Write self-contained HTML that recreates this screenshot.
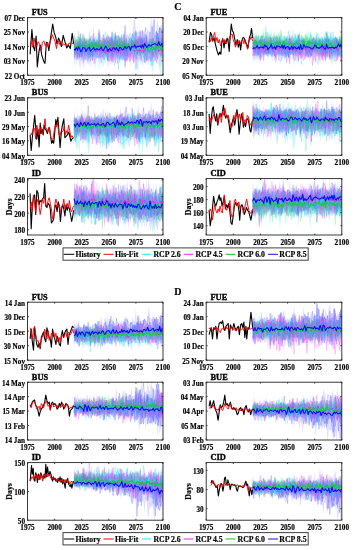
<!DOCTYPE html><html><head><meta charset="utf-8"><style>
html,body{margin:0;padding:0;background:#fff;width:356px;height:550px;overflow:hidden}
svg{display:block;filter:blur(0.35px)}
text{font-family:'Liberation Serif', serif;font-weight:bold;fill:#000;stroke:#000;stroke-width:0.17}
.t{font-size:7.2px}.ti{font-size:8.4px;stroke-width:0.35px}.yl{font-size:7.9px}.lg{font-size:7.8px}.pl{font-size:10px}
</style></head><body>
<svg width="356" height="550" viewBox="0 0 356 550">
<rect width="356" height="550" fill="#fff"/>
<clipPath id="c0"><rect x="27.5" y="17.6" width="135.5" height="57.6"/></clipPath>
<g clip-path="url(#c0)">
<g transform="translate(74.1,17.6) scale(1.0840,1)">
<polygon points="0,17 1,24 2,22 3,22 4,15 5,23 6,17 7,22 8,25 9,25 10,23 11,23 12,22 13,25 14,22 15,25 16,25 17,22 18,23 19,22 20,22 21,23 22,23 23,24 24,22 25,25 26,24 27,24 28,15 29,24 30,23 31,23 32,25 33,25 34,22 35,15 36,15 37,25 38,23 39,24 40,22 41,24 42,23 43,21 44,24 45,24 46,24 47,23 48,23 49,22 50,24 51,22 52,22 53,20 54,23 55,15 56,14 57,21 58,22 59,21 60,25 61,22 62,25 63,18 64,16 65,25 66,23 67,25 68,24 69,23 70,25 71,22 72,22 73,25 74,24 75,25 76,24 77,20 78,14 79,24 80,24 81,22 82,24 82,43 81,46 80,60 79,54 78,46 77,47 76,43 75,40 74,45 73,54 72,54 71,46 70,42 69,44 68,49 67,41 66,46 65,45 64,43 63,45 62,42 61,49 60,41 59,57 58,40 57,44 56,40 55,41 54,41 53,41 52,49 51,42 50,40 49,44 48,42 47,44 46,42 45,42 44,45 43,39 42,43 41,41 40,43 39,43 38,41 37,43 36,42 35,42 34,47 33,48 32,41 31,44 30,41 29,44 28,46 27,50 26,44 25,50 24,42 23,54 22,41 21,40 20,52 19,42 18,42 17,39 16,42 15,39 14,42 13,40 12,43 11,41 10,42 9,53 8,43 7,39 6,42 5,51 4,42 3,42 2,41 1,43 0,41" fill="#00e0ff" fill-opacity="0.22"/>
<polygon points="0,25 1,24 2,23 3,24 4,24 5,15 6,24 7,21 8,24 9,24 10,24 11,24 12,23 13,22 14,26 15,26 16,24 17,17 18,22 19,24 20,24 21,26 22,26 23,23 24,23 25,24 26,16 27,24 28,24 29,25 30,23 31,23 32,17 33,25 34,23 35,23 36,16 37,25 38,23 39,23 40,25 41,24 42,24 43,21 44,24 45,23 46,24 47,15 48,23 49,25 50,18 51,22 52,22 53,25 54,23 55,21 56,24 57,25 58,24 59,23 60,22 61,20 62,22 63,22 64,23 65,22 66,23 67,23 68,23 69,22 70,19 71,23 72,23 73,22 74,22 75,25 76,22 77,17 78,20 79,11 80,20 81,21 82,24 82,41 81,43 80,46 79,50 78,40 77,43 76,40 75,44 74,44 73,45 72,40 71,43 70,52 69,43 68,41 67,45 66,41 65,44 64,45 63,50 62,43 61,44 60,42 59,44 58,42 57,43 56,46 55,42 54,43 53,42 52,40 51,42 50,41 49,43 48,43 47,42 46,43 45,43 44,43 43,40 42,42 41,41 40,39 39,43 38,41 37,40 36,41 35,42 34,40 33,42 32,48 31,51 30,39 29,39 28,42 27,39 26,41 25,39 24,41 23,43 22,41 21,41 20,41 19,44 18,51 17,40 16,42 15,49 14,48 13,40 12,40 11,40 10,42 9,41 8,42 7,42 6,53 5,42 4,40 3,43 2,40 1,39 0,42" fill="#ff40ff" fill-opacity="0.18"/>
<polygon points="0,22 1,20 2,22 3,19 4,23 5,23 6,21 7,20 8,22 9,21 10,20 11,20 12,20 13,21 14,22 15,22 16,22 17,14 18,22 19,20 20,21 21,15 22,16 23,20 24,17 25,22 26,22 27,20 28,22 29,23 30,14 31,23 32,22 33,22 34,20 35,17 36,17 37,21 38,14 39,22 40,22 41,22 42,18 43,20 44,20 45,23 46,23 47,21 48,21 49,23 50,15 51,20 52,24 53,23 54,23 55,14 56,22 57,23 58,21 59,22 60,22 61,22 62,21 63,23 64,24 65,23 66,24 67,24 68,23 69,23 70,23 71,22 72,24 73,17 74,23 75,24 76,24 77,22 78,25 79,25 80,23 81,24 82,24 82,45 81,39 80,37 79,38 78,39 77,36 76,37 75,38 74,38 73,47 72,37 71,36 70,37 69,37 68,35 67,36 66,38 65,38 64,36 63,36 62,43 61,35 60,35 59,38 58,35 57,37 56,37 55,37 54,35 53,37 52,35 51,35 50,36 49,36 48,35 47,35 46,36 45,35 44,38 43,34 42,34 41,36 40,33 39,34 38,41 37,35 36,36 35,40 34,35 33,35 32,36 31,35 30,34 29,35 28,39 27,39 26,34 25,33 24,38 23,33 22,36 21,33 20,36 19,36 18,36 17,35 16,42 15,38 14,35 13,33 12,34 11,33 10,34 9,39 8,41 7,36 6,34 5,36 4,35 3,34 2,35 1,37 0,41" fill="#20ff40" fill-opacity="0.12"/>
<polygon points="0,13 1,23 2,21 3,22 4,24 5,25 6,25 7,21 8,16 9,16 10,22 11,21 12,24 13,24 14,12 15,19 16,17 17,21 18,8 19,23 20,24 21,20 22,20 23,20 24,14 25,19 26,21 27,24 28,21 29,20 30,19 31,15 32,20 33,22 34,17 35,20 36,23 37,20 38,19 39,21 40,18 41,18 42,18 43,20 44,22 45,19 46,12 47,17 48,20 49,16 50,19 51,16 52,15 53,18 54,15 55,1 56,1 57,14 58,14 59,15 60,13 61,12 62,14 63,13 64,13 65,17 66,16 67,16 68,10 69,15 70,15 71,-2 72,11 73,-2 74,15 75,15 76,13 77,0 78,14 79,8 80,8 81,7 82,13 82,36 81,35 80,32 79,33 78,35 77,43 76,39 75,33 74,33 73,33 72,36 71,33 70,36 69,37 68,35 67,39 66,36 65,45 64,35 63,37 62,47 61,37 60,36 59,35 58,42 57,41 56,38 55,35 54,37 53,39 52,39 51,38 50,36 49,43 48,37 47,37 46,39 45,43 44,40 43,40 42,43 41,39 40,40 39,38 38,39 37,40 36,39 35,38 34,39 33,39 32,44 31,42 30,38 29,39 28,44 27,41 26,40 25,38 24,37 23,41 22,38 21,41 20,40 19,37 18,38 17,45 16,37 15,38 14,38 13,43 12,46 11,39 10,37 9,40 8,49 7,40 6,40 5,40 4,43 3,38 2,48 1,41 0,49" fill="#5050ff" fill-opacity="0.18"/>
<polyline points="0,40 1,28 2,31 3,25 4,33 5,40 6,24 7,22 8,35 9,37 10,32 11,32 12,39 13,46 14,21 15,35 16,25 17,39 18,33 19,30 20,25 21,22 22,28 23,27 24,29 25,25 26,34 27,39 28,33 29,22 30,33 31,39 32,37 33,34 34,29 35,38 36,35 37,29 38,36 39,22 40,26 41,34 42,22 43,24 44,24 45,39 46,25 47,29 48,37 49,35 50,39 51,31 52,30 53,29 54,26 55,26 56,32 57,27 58,26 59,34 60,37 61,30 62,23 63,36 64,20 65,30 66,41 67,27 68,38 69,32 70,35 71,47 72,47 73,36 74,41 75,32 76,13 77,30 78,21 79,30 80,40 81,30 82,31" fill="none" stroke="#00e0ff" stroke-opacity="0.34" stroke-width="0.7"/>
<polyline points="0,25 1,32 2,30 3,42 4,28 5,26 6,39 7,37 8,31 9,32 10,35 11,28 12,24 13,37 14,25 15,37 16,31 17,31 18,30 19,33 20,34 21,27 22,31 23,23 24,40 25,28 26,40 27,31 28,20 29,30 30,20 31,42 32,29 33,21 34,42 35,39 36,25 37,37 38,33 39,27 40,28 41,39 42,25 43,37 44,38 45,24 46,42 47,26 48,28 49,39 50,31 51,35 52,43 53,35 54,32 55,23 56,29 57,27 58,28 59,26 60,19 61,37 62,20 63,35 64,31 65,45 66,17 67,34 68,28 69,36 70,41 71,28 72,26 73,30 74,30 75,33 76,25 77,31 78,26 79,37 80,38 81,32 82,30" fill="none" stroke="#ff50ff" stroke-opacity="0.42" stroke-width="0.7"/>
<polyline points="0,32 1,31 2,32 3,33 4,28 5,27 6,30 7,26 8,19 9,31 10,28 11,25 12,29 13,33 14,24 15,20 16,30 17,24 18,34 19,25 20,32 21,23 22,32 23,28 24,32 25,34 26,28 27,22 28,23 29,26 30,30 31,28 32,25 33,27 34,31 35,23 36,30 37,25 38,24 39,37 40,18 41,31 42,24 43,24 44,28 45,31 46,23 47,29 48,29 49,35 50,26 51,28 52,34 53,28 54,28 55,25 56,30 57,31 58,28 59,38 60,25 61,23 62,35 63,26 64,28 65,34 66,29 67,25 68,31 69,30 70,32 71,34 72,26 73,24 74,31 75,39 76,27 77,19 78,28 79,29 80,30 81,25 82,25" fill="none" stroke="#30e050" stroke-opacity="0.28" stroke-width="0.7"/>
<polyline points="0,30 1,32 2,30 3,32 4,25 5,40 6,33 7,33 8,24 9,35 10,35 11,27 12,38 13,26 14,31 15,32 16,26 17,38 18,33 19,26 20,28 21,26 22,27 23,24 24,23 25,23 26,29 27,35 28,24 29,33 30,25 31,23 32,24 33,26 34,30 35,26 36,39 37,34 38,25 39,18 40,28 41,19 42,25 43,36 44,29 45,29 46,26 47,24 48,27 49,38 50,32 51,23 52,20 53,32 54,16 55,20 56,32 57,26 58,30 59,27 60,26 61,14 62,32 63,29 64,30 65,28 66,33 67,18 68,34 69,26 70,14 71,21 72,28 73,21 74,26 75,24 76,33 77,35 78,28 79,10 80,14 81,21 82,33" fill="none" stroke="#6868ff" stroke-opacity="0.45" stroke-width="0.7"/>
<polyline points="0,22 1,29 2,28 3,35 4,30 5,36 6,36 7,31 8,25 9,29 10,31 11,30 12,38 13,30 14,34 15,29 16,27 17,43 18,39 19,29 20,37 21,41 22,27 23,30 24,31 25,33 26,34 27,37 28,29 29,25 30,20 31,28 32,23 33,38 34,20 35,44 36,28 37,16 38,32 39,29 40,33 41,36 42,45 43,33 44,20 45,30 46,36 47,41 48,38 49,29 50,26 51,34 52,32 53,28 54,17 55,46 56,35 57,22 58,29 59,32 60,38 61,31 62,31 63,25 64,28 65,29 66,45 67,30 68,43 69,41 70,30 71,23 72,41 73,40 74,39 75,26 76,37 77,41 78,19 79,30 80,33 81,31 82,44" fill="none" stroke="#00e0ff" stroke-opacity="0.34" stroke-width="0.7"/>
<polyline points="0,27 1,34 2,35 3,31 4,37 5,27 6,21 7,32 8,23 9,34 10,42 11,32 12,35 13,29 14,30 15,31 16,28 17,29 18,30 19,46 20,31 21,35 22,27 23,36 24,37 25,36 26,30 27,42 28,29 29,27 30,29 31,38 32,36 33,19 34,41 35,32 36,27 37,32 38,34 39,32 40,46 41,33 42,33 43,39 44,32 45,30 46,30 47,29 48,44 49,28 50,26 51,37 52,36 53,32 54,43 55,42 56,27 57,41 58,39 59,29 60,25 61,18 62,33 63,35 64,31 65,30 66,22 67,44 68,31 69,31 70,31 71,43 72,29 73,39 74,34 75,25 76,35 77,25 78,33 79,27 80,30 81,24 82,22" fill="none" stroke="#ff50ff" stroke-opacity="0.42" stroke-width="0.7"/>
<polyline points="0,40 1,31 2,23 3,31 4,19 5,26 6,26 7,26 8,28 9,28 10,38 11,22 12,32 13,26 14,23 15,38 16,24 17,29 18,30 19,30 20,30 21,24 22,23 23,30 24,37 25,35 26,23 27,28 28,38 29,34 30,20 31,33 32,31 33,32 34,34 35,36 36,30 37,30 38,32 39,30 40,26 41,20 42,20 43,32 44,21 45,32 46,20 47,30 48,27 49,26 50,32 51,36 52,33 53,20 54,34 55,33 56,23 57,29 58,37 59,30 60,31 61,31 62,20 63,29 64,30 65,28 66,18 67,30 68,27 69,35 70,36 71,32 72,20 73,31 74,24 75,23 76,31 77,30 78,34 79,30 80,25 81,37 82,26" fill="none" stroke="#30e050" stroke-opacity="0.28" stroke-width="0.7"/>
<polyline points="0,33 1,37 2,34 3,32 4,34 5,30 6,32 7,38 8,31 9,20 10,27 11,33 12,30 13,37 14,31 15,35 16,35 17,28 18,34 19,32 20,33 21,37 22,30 23,25 24,30 25,26 26,33 27,21 28,23 29,28 30,37 31,33 32,30 33,35 34,31 35,22 36,34 37,27 38,18 39,24 40,31 41,33 42,21 43,31 44,29 45,38 46,35 47,35 48,21 49,34 50,39 51,39 52,39 53,22 54,30 55,27 56,26 57,24 58,27 59,22 60,30 61,23 62,33 63,31 64,29 65,33 66,25 67,28 68,30 69,34 70,28 71,25 72,9 73,29 74,30 75,26 76,32 77,29 78,30 79,27 80,33 81,11 82,32" fill="none" stroke="#6868ff" stroke-opacity="0.45" stroke-width="0.7"/>
<polyline points="0,26 1,35 2,27 3,31 4,32 5,20 6,24 7,36 8,26 9,27 10,32 11,32 12,35 13,43 14,25 15,43 16,26 17,40 18,35 19,22 20,26 21,27 22,28 23,31 24,36 25,40 26,29 27,31 28,29 29,25 30,28 31,39 32,28 33,32 34,30 35,22 36,32 37,43 38,33 39,26 40,24 41,28 42,32 43,39 44,33 45,34 46,26 47,43 48,34 49,32 50,30 51,21 52,30 53,36 54,36 55,34 56,29 57,27 58,37 59,36 60,31 61,32 62,35 63,27 64,36 65,42 66,27 67,30 68,29 69,42 70,27 71,30 72,48 73,28 74,25 75,28 76,20 77,27 78,28 79,35 80,28 81,28 82,44" fill="none" stroke="#00e0ff" stroke-opacity="0.34" stroke-width="0.7"/>
<polyline points="0,34 1,26 2,32 3,41 4,26 5,33 6,25 7,33 8,35 9,30 10,39 11,37 12,27 13,34 14,32 15,44 16,28 17,43 18,16 19,30 20,26 21,34 22,27 23,33 24,34 25,24 26,32 27,28 28,34 29,35 30,30 31,25 32,23 33,30 34,28 35,44 36,31 37,23 38,29 39,32 40,31 41,28 42,37 43,31 44,35 45,27 46,36 47,34 48,37 49,43 50,35 51,39 52,25 53,30 54,34 55,45 56,32 57,22 58,33 59,27 60,30 61,29 62,36 63,29 64,32 65,34 66,36 67,42 68,34 69,32 70,33 71,37 72,34 73,31 74,28 75,28 76,28 77,20 78,36 79,32 80,38 81,20 82,26" fill="none" stroke="#ff50ff" stroke-opacity="0.42" stroke-width="0.7"/>
<polyline points="0,25 1,31 2,28 3,26 4,37 5,25 6,25 7,28 8,26 9,26 10,27 11,25 12,29 13,21 14,26 15,24 16,32 17,24 18,27 19,32 20,25 21,30 22,31 23,34 24,29 25,31 26,29 27,30 28,27 29,30 30,27 31,32 32,24 33,23 34,28 35,26 36,32 37,30 38,28 39,24 40,26 41,29 42,28 43,30 44,29 45,23 46,28 47,23 48,34 49,25 50,27 51,28 52,26 53,27 54,27 55,24 56,33 57,26 58,36 59,36 60,29 61,25 62,26 63,28 64,30 65,29 66,28 67,34 68,28 69,32 70,35 71,32 72,30 73,32 74,35 75,32 76,33 77,36 78,34 79,30 80,24 81,30 82,30" fill="none" stroke="#30e050" stroke-opacity="0.28" stroke-width="0.7"/>
<polyline points="0,18 1,20 2,32 3,31 4,32 5,21 6,36 7,28 8,27 9,31 10,30 11,23 12,30 13,34 14,32 15,21 16,30 17,36 18,35 19,24 20,25 21,24 22,32 23,15 24,33 25,30 26,33 27,35 28,29 29,36 30,38 31,43 32,19 33,28 34,34 35,39 36,32 37,35 38,34 39,36 40,23 41,34 42,35 43,36 44,28 45,33 46,36 47,8 48,21 49,29 50,30 51,29 52,30 53,30 54,23 55,26 56,31 57,23 58,30 59,19 60,32 61,21 62,30 63,22 64,31 65,25 66,28 67,28 68,31 69,34 70,34 71,31 72,29 73,18 74,2 75,37 76,14 77,32 78,32 79,21 80,20 81,25 82,16" fill="none" stroke="#6868ff" stroke-opacity="0.45" stroke-width="0.7"/>
<polyline points="0,26 1,37 2,32 3,37 4,34 5,29 6,26 7,43 8,33 9,24 10,28 11,30 12,30 13,42 14,35 15,19 16,39 17,26 18,29 19,31 20,39 21,25 22,28 23,35 24,27 25,37 26,34 27,27 28,36 29,38 30,27 31,41 32,36 33,28 34,30 35,33 36,34 37,48 38,46 39,39 40,28 41,52 42,24 43,35 44,41 45,30 46,27 47,29 48,29 49,28 50,36 51,30 52,29 53,31 54,36 55,40 56,39 57,33 58,51 59,38 60,26 61,33 62,41 63,36 64,34 65,30 66,37 67,30 68,26 69,28 70,24 71,27 72,43 73,31 74,30 75,29 76,38 77,32 78,32 79,26 80,24 81,29 82,26" fill="none" stroke="#00e0ff" stroke-opacity="0.34" stroke-width="0.7"/>
<polyline points="0,28 1,31 2,29 3,24 4,39 5,39 6,31 7,33 8,29 9,45 10,34 11,30 12,30 13,23 14,27 15,34 16,31 17,33 18,30 19,28 20,36 21,28 22,32 23,24 24,40 25,39 26,33 27,33 28,30 29,28 30,34 31,32 32,31 33,35 34,30 35,25 36,45 37,31 38,45 39,34 40,38 41,22 42,25 43,39 44,35 45,39 46,34 47,50 48,38 49,32 50,33 51,31 52,35 53,35 54,35 55,39 56,33 57,52 58,32 59,26 60,32 61,29 62,31 63,30 64,35 65,29 66,39 67,24 68,33 69,29 70,28 71,44 72,34 73,39 74,37 75,43 76,31 77,40 78,36 79,32 80,38 81,31 82,31" fill="none" stroke="#ff50ff" stroke-opacity="0.42" stroke-width="0.7"/>
<polyline points="0,32 1,32 2,30 3,24 4,19 5,29 6,29 7,34 8,30 9,27 10,24 11,33 12,31 13,35 14,32 15,25 16,23 17,37 18,25 19,30 20,29 21,29 22,28 23,30 24,22 25,32 26,27 27,26 28,30 29,14 30,24 31,38 32,26 33,32 34,22 35,25 36,20 37,25 38,25 39,24 40,29 41,25 42,26 43,19 44,27 45,29 46,25 47,29 48,28 49,31 50,28 51,24 52,33 53,34 54,29 55,28 56,38 57,21 58,35 59,29 60,26 61,34 62,33 63,36 64,27 65,33 66,34 67,29 68,40 69,27 70,30 71,28 72,29 73,25 74,31 75,23 76,27 77,30 78,23 79,33 80,40 81,32 82,27" fill="none" stroke="#30e050" stroke-opacity="0.28" stroke-width="0.7"/>
<polyline points="0,37 1,31 2,32 3,39 4,28 5,38 6,16 7,40 8,33 9,32 10,21 11,27 12,26 13,36 14,39 15,40 16,25 17,25 18,30 19,35 20,31 21,32 22,33 23,12 24,32 25,33 26,33 27,17 28,35 29,22 30,32 31,30 32,32 33,33 34,20 35,37 36,24 37,35 38,15 39,34 40,35 41,33 42,26 43,33 44,17 45,32 46,17 47,36 48,29 49,32 50,33 51,31 52,30 53,30 54,33 55,34 56,18 57,13 58,37 59,27 60,32 61,38 62,33 63,20 64,33 65,16 66,10 67,29 68,29 69,29 70,24 71,25 72,39 73,21 74,21 75,18 76,21 77,15 78,23 79,10 80,21 81,27 82,30" fill="none" stroke="#6868ff" stroke-opacity="0.45" stroke-width="0.7"/>
<polyline points="0,39 1,30 2,31 3,28 4,26 5,20 6,24 7,31 8,33 9,39 10,28 11,25 12,39 13,35 14,33 15,34 16,32 17,23 18,38 19,22 20,19 21,39 22,39 23,38 24,38 25,28 26,32 27,32 28,41 29,31 30,38 31,43 32,36 33,29 34,38 35,30 36,33 37,30 38,40 39,34 40,33 41,35 42,35 43,42 44,27 45,41 46,29 47,48 48,30 49,41 50,24 51,27 52,34 53,28 54,32 55,35 56,35 57,34 58,29 59,27 60,26 61,38 62,28 63,28 64,40 65,34 66,28 67,26 68,42 69,30 70,29 71,29 72,39 73,25 74,30 75,27 76,33 77,31 78,30 79,21 80,26 81,34 82,40" fill="none" stroke="#00e0ff" stroke-opacity="0.34" stroke-width="0.7"/>
<polyline points="0,37 1,38 2,34 3,36 4,30 5,32 6,29 7,38 8,31 9,36 10,38 11,43 12,28 13,31 14,40 15,34 16,31 17,37 18,34 19,39 20,33 21,25 22,31 23,31 24,36 25,45 26,30 27,29 28,35 29,25 30,37 31,18 32,44 33,33 34,43 35,43 36,23 37,32 38,35 39,28 40,40 41,27 42,42 43,38 44,27 45,36 46,32 47,43 48,43 49,39 50,34 51,44 52,37 53,28 54,28 55,32 56,27 57,24 58,32 59,25 60,19 61,41 62,23 63,32 64,30 65,36 66,35 67,42 68,30 69,28 70,34 71,34 72,37 73,38 74,27 75,33 76,45 77,21 78,25 79,25 80,33 81,39 82,30" fill="none" stroke="#ff50ff" stroke-opacity="0.42" stroke-width="0.7"/>
<polyline points="0,32 1,25 2,27 3,25 4,13 5,24 6,26 7,26 8,17 9,19 10,33 11,31 12,21 13,29 14,23 15,30 16,30 17,26 18,27 19,25 20,27 21,25 22,25 23,35 24,32 25,31 26,30 27,29 28,30 29,36 30,39 31,38 32,27 33,30 34,32 35,33 36,22 37,24 38,36 39,27 40,32 41,17 42,25 43,21 44,29 45,35 46,25 47,23 48,34 49,29 50,33 51,31 52,31 53,20 54,25 55,31 56,20 57,26 58,30 59,22 60,20 61,31 62,30 63,27 64,29 65,40 66,37 67,35 68,29 69,24 70,31 71,34 72,21 73,36 74,35 75,21 76,37 77,22 78,23 79,31 80,33 81,24 82,30" fill="none" stroke="#30e050" stroke-opacity="0.28" stroke-width="0.7"/>
<polyline points="0,35 1,34 2,30 3,36 4,24 5,31 6,27 7,37 8,25 9,25 10,36 11,30 12,32 13,32 14,37 15,26 16,35 17,39 18,21 19,28 20,25 21,27 22,39 23,40 24,28 25,36 26,35 27,34 28,32 29,30 30,30 31,23 32,26 33,33 34,30 35,14 36,33 37,26 38,24 39,37 40,30 41,34 42,32 43,36 44,25 45,31 46,27 47,39 48,36 49,38 50,27 51,32 52,32 53,24 54,27 55,33 56,31 57,15 58,21 59,34 60,29 61,33 62,28 63,13 64,29 65,20 66,34 67,20 68,34 69,28 70,21 71,25 72,32 73,37 74,32 75,31 76,25 77,16 78,34 79,29 80,23 81,30 82,27" fill="none" stroke="#6868ff" stroke-opacity="0.45" stroke-width="0.7"/>
<polyline points="0,31.1 1,30.1 2,30.8 3,32.7 4,31.9 5,32.5 6,30.1 7,31.6 8,34.4 9,31.2 10,30.6 11,33.2 12,30.0 13,31.5 14,31.4 15,33.5 16,32.8 17,34.2 18,31.2 19,30.0 20,34.4 21,32.3 22,30.7 23,30.2 24,33.1 25,32.2 26,31.6 27,30.8 28,32.3 29,36.0 30,32.3 31,31.2 32,35.0 33,31.3 34,30.6 35,29.9 36,32.8 37,34.6 38,31.1 39,30.2 40,31.6 41,35.0 42,30.8 43,32.5 44,32.3 45,31.0 46,31.3 47,32.5 48,34.1 49,29.7 50,31.9 51,33.3 52,30.1 53,31.4 54,32.1 55,31.3 56,33.8 57,32.7 58,31.4 59,32.5 60,32.3 61,34.0 62,30.4 63,30.8 64,35.1 65,33.0 66,30.2 67,32.5 68,33.3 69,32.8 70,31.9 71,30.8 72,31.9 73,31.3 74,30.4 75,32.6 76,31.5 77,32.3 78,32.7 79,32.6 80,31.3 81,34.0 82,31.6" fill="none" stroke="#e820e8" stroke-width="0.8" stroke-linejoin="round"/>
<polyline points="0,29.3 1,32.2 2,33.5 3,30.2 4,28.2 5,32.4 6,34.7 7,28.4 8,31.2 9,33.5 10,30.8 11,30.6 12,32.0 13,31.4 14,32.8 15,30.6 16,29.9 17,33.4 18,30.0 19,30.2 20,31.3 21,32.2 22,30.1 23,30.1 24,29.8 25,30.0 26,32.4 27,30.3 28,29.4 29,32.0 30,31.1 31,31.6 32,31.0 33,30.8 34,32.1 35,32.1 36,31.2 37,31.0 38,31.6 39,28.4 40,30.9 41,32.5 42,31.8 43,29.1 44,30.2 45,31.9 46,30.5 47,31.6 48,31.1 49,29.4 50,32.1 51,33.5 52,30.0 53,28.0 54,33.0 55,31.2 56,31.8 57,29.5 58,30.2 59,32.3 60,29.5 61,30.4 62,32.4 63,32.0 64,31.5 65,30.1 66,29.0 67,33.4 68,33.8 69,29.1 70,32.7 71,31.9 72,30.5 73,31.8 74,31.4 75,30.2 76,31.7 77,31.8 78,30.8 79,31.8 80,30.6 81,29.2 82,32.7" fill="none" stroke="#10e0f0" stroke-width="0.85" stroke-linejoin="round"/>
<polyline points="0,26.2 1,30.4 2,29.2 3,28.0 4,29.9 5,27.2 6,27.5 7,29.2 8,27.9 9,27.2 10,28.0 11,28.7 12,28.5 13,28.1 14,26.5 15,31.0 16,28.5 17,25.7 18,30.4 19,29.4 20,25.5 21,29.5 22,26.5 23,30.6 24,27.2 25,27.5 26,30.2 27,26.8 28,27.9 29,29.3 30,27.3 31,28.5 32,28.9 33,27.2 34,27.3 35,27.8 36,28.3 37,28.1 38,26.9 39,26.8 40,29.7 41,27.9 42,27.0 43,28.5 44,28.1 45,28.9 46,28.4 47,25.7 48,30.1 49,31.2 50,26.1 51,28.3 52,31.3 53,28.7 54,28.1 55,27.5 56,30.3 57,27.5 58,28.2 59,29.8 60,28.5 61,27.4 62,30.1 63,29.2 64,31.3 65,30.4 66,28.1 67,28.9 68,32.3 69,29.8 70,30.2 71,31.6 72,29.1 73,29.0 74,31.0 75,32.4 76,28.3 77,30.3 78,30.1 79,27.6 80,32.0 81,30.0 82,28.8" fill="none" stroke="#10d030" stroke-width="0.95" stroke-linejoin="round"/>
<polyline points="0,31.3 1,32.8 2,29.8 3,32.6 4,29.2 5,30.6 6,34.1 7,33.3 8,29.9 9,30.3 10,30.4 11,34.0 12,31.8 13,30.7 14,29.5 15,33.6 16,32.4 17,31.3 18,29.9 19,32.3 20,32.0 21,30.7 22,32.1 23,32.4 24,31.2 25,29.3 26,32.3 27,33.0 28,30.8 29,28.7 30,29.7 31,33.8 32,32.0 33,30.8 34,33.3 35,32.2 36,30.2 37,30.5 38,32.2 39,29.8 40,32.4 41,33.4 42,29.6 43,29.8 44,31.7 45,32.4 46,31.0 47,28.8 48,31.1 49,30.4 50,28.8 51,29.3 52,32.7 53,28.7 54,29.4 55,29.1 56,27.1 57,30.6 58,29.0 59,28.7 60,28.8 61,28.2 62,30.1 63,27.2 64,30.3 65,26.0 66,27.6 67,30.0 68,28.9 69,27.0 70,28.4 71,28.5 72,26.8 73,27.0 74,26.1 75,26.2 76,27.4 77,27.8 78,23.9 79,27.3 80,28.0 81,25.7 82,28.2" fill="none" stroke="#0808ff" stroke-width="1.0" stroke-linejoin="round"/>
</g>
<polyline points="30.1,54.2 31.9,29.6 33.3,46.5 34.7,50.7 36.1,36 37.3,66.9 38.9,52.1 40.3,45.1 41.7,54.9 43.9,61.9 45,63.3 46.4,42.3 47.8,43 48.8,50.7 50.2,40.9 51.2,33.9 52.7,24 54.1,32.4 55.8,37.4 56.9,43.7 58.6,38.1 60,41.6 61.4,46.5 63.2,35.3 64.9,41.6 66.7,47.9 68.4,45.1 70.3,48.6 72.2,33.2 73.6,43.7" fill="none" stroke="#000" stroke-width="1.0999999999999999" stroke-linejoin="round"/>
<polyline points="30.1,45.1 31.2,41.6 32.6,47.2 34,38.1 35.4,44.4 36.8,46.5 38.2,41.6 39.6,44.4 41,50.7 42.4,42.3 43.9,40.9 45.3,45.8 46.7,43 48.1,47.2 49.5,43.7 50.9,39.5 52.3,34.6 53.7,38.1 55.1,41.6 56.5,48.6 57.9,40.2 59.3,44.4 60.7,40.9 62.1,45.8 63.5,43.7 64.9,45.1 66.3,43.7 67.7,45.8 69.1,43 70.5,43.7 71.9,43 73.3,43.7" fill="none" stroke="#f00" stroke-width="0.95" stroke-linejoin="round"/>
</g>
<rect x="27.5" y="17.6" width="135.5" height="57.6" fill="none" stroke="#262626" stroke-width="0.9"/>
<path d="M27.5,75.2v-1.4M27.5,17.6v1.4M54.6,75.2v-1.4M54.6,17.6v1.4M81.7,75.2v-1.4M81.7,17.6v1.4M108.8,75.2v-1.4M108.8,17.6v1.4M135.9,75.2v-1.4M135.9,17.6v1.4M163,75.2v-1.4M163,17.6v1.4M27.5,17.6h1.4M163,17.6h-1.4M27.5,32h1.4M163,32h-1.4M27.5,46.4h1.4M163,46.4h-1.4M27.5,60.8h1.4M163,60.8h-1.4M27.5,75.2h1.4M163,75.2h-1.4" stroke="#262626" stroke-width="0.9" fill="none"/>
<text x="27.5" y="84.8" text-anchor="middle" class="t">1975</text>
<text x="54.6" y="84.8" text-anchor="middle" class="t">2000</text>
<text x="81.7" y="84.8" text-anchor="middle" class="t">2025</text>
<text x="108.8" y="84.8" text-anchor="middle" class="t">2050</text>
<text x="135.9" y="84.8" text-anchor="middle" class="t">2075</text>
<text x="163" y="84.8" text-anchor="middle" class="t">2100</text>
<text x="25" y="20.9" text-anchor="end" class="t">07 Dec</text>
<text x="25" y="35.3" text-anchor="end" class="t">25 Nov</text>
<text x="25" y="49.7" text-anchor="end" class="t">14 Nov</text>
<text x="25" y="64.1" text-anchor="end" class="t">03 Nov</text>
<text x="25" y="78.5" text-anchor="end" class="t">22 Oct</text>
<text x="31.8" y="15" class="ti">FUS</text>
<clipPath id="c1"><rect x="206.2" y="17.6" width="135.6" height="57.6"/></clipPath>
<g clip-path="url(#c1)">
<g transform="translate(252.8,17.6) scale(1.0848,1)">
<polygon points="0,10 1,21 2,18 3,19 4,18 5,19 6,18 7,18 8,18 9,19 10,11 11,20 12,22 13,18 14,18 15,20 16,19 17,12 18,19 19,20 20,13 21,19 22,20 23,20 24,13 25,16 26,16 27,22 28,20 29,19 30,17 31,22 32,21 33,21 34,18 35,20 36,21 37,9 38,19 39,16 40,21 41,19 42,19 43,12 44,21 45,16 46,21 47,21 48,20 49,21 50,20 51,11 52,20 53,18 54,17 55,21 56,20 57,20 58,19 59,19 60,21 61,19 62,22 63,19 64,20 65,22 66,19 67,21 68,20 69,19 70,20 71,21 72,21 73,18 74,20 75,21 76,19 77,21 78,20 79,21 80,19 81,20 82,19 82,38 81,38 80,39 79,37 78,38 77,36 76,39 75,36 74,43 73,38 72,36 71,35 70,38 69,37 68,36 67,39 66,35 65,40 64,35 63,36 62,35 61,38 60,36 59,39 58,35 57,38 56,37 55,38 54,39 53,38 52,37 51,38 50,36 49,36 48,36 47,38 46,38 45,35 44,38 43,36 42,37 41,40 40,47 39,35 38,38 37,35 36,38 35,35 34,47 33,38 32,45 31,42 30,38 29,37 28,36 27,37 26,36 25,38 24,38 23,34 22,47 21,36 20,43 19,37 18,38 17,38 16,37 15,35 14,34 13,36 12,37 11,38 10,38 9,35 8,41 7,37 6,38 5,35 4,34 3,36 2,37 1,43 0,35" fill="#00e0ff" fill-opacity="0.22"/>
<polygon points="0,23 1,18 2,24 3,22 4,24 5,22 6,24 7,20 8,18 9,22 10,14 11,22 12,14 13,23 14,22 15,25 16,23 17,22 18,23 19,23 20,21 21,23 22,24 23,23 24,15 25,22 26,22 27,15 28,23 29,22 30,21 31,23 32,22 33,23 34,23 35,22 36,22 37,23 38,24 39,25 40,23 41,24 42,22 43,24 44,24 45,22 46,23 47,21 48,24 49,17 50,20 51,23 52,23 53,24 54,22 55,25 56,22 57,24 58,25 59,22 60,24 61,22 62,23 63,22 64,25 65,25 66,22 67,24 68,22 69,19 70,23 71,22 72,24 73,24 74,24 75,22 76,22 77,22 78,22 79,23 80,17 81,24 82,24 82,39 81,41 80,39 79,39 78,38 77,41 76,47 75,39 74,40 73,41 72,44 71,41 70,39 69,38 68,40 67,39 66,40 65,38 64,39 63,37 62,38 61,40 60,38 59,39 58,46 57,40 56,46 55,38 54,38 53,37 52,39 51,39 50,39 49,40 48,38 47,38 46,40 45,41 44,41 43,38 42,40 41,38 40,41 39,40 38,49 37,38 36,37 35,37 34,45 33,40 32,38 31,40 30,38 29,41 28,39 27,37 26,47 25,39 24,39 23,37 22,44 21,40 20,37 19,40 18,44 17,40 16,37 15,40 14,37 13,38 12,39 11,37 10,38 9,39 8,40 7,40 6,46 5,40 4,37 3,40 2,38 1,38 0,38" fill="#ff40ff" fill-opacity="0.18"/>
<polygon points="0,16 1,13 2,17 3,19 4,12 5,17 6,12 7,20 8,17 9,14 10,16 11,20 12,18 13,16 14,20 15,10 16,17 17,19 18,20 19,20 20,19 21,19 22,14 23,19 24,17 25,19 26,13 27,19 28,18 29,18 30,21 31,20 32,20 33,19 34,17 35,21 36,16 37,21 38,21 39,19 40,16 41,19 42,21 43,14 44,21 45,20 46,19 47,22 48,21 49,17 50,14 51,21 52,21 53,11 54,15 55,22 56,20 57,21 58,17 59,19 60,22 61,16 62,19 63,19 64,18 65,22 66,19 67,22 68,19 69,20 70,19 71,21 72,21 73,20 74,22 75,21 76,20 77,20 78,22 79,20 80,21 81,21 82,19 82,40 81,33 80,44 79,33 78,41 77,38 76,34 75,44 74,35 73,33 72,35 71,34 70,33 69,34 68,32 67,33 66,35 65,33 64,41 63,32 62,37 61,42 60,32 59,35 58,34 57,36 56,33 55,33 54,32 53,35 52,35 51,34 50,32 49,32 48,33 47,33 46,32 45,34 44,36 43,33 42,32 41,34 40,32 39,39 38,34 37,32 36,32 35,33 34,34 33,32 32,33 31,33 30,31 29,38 28,33 27,33 26,33 25,31 24,34 23,32 22,33 21,42 20,32 19,33 18,39 17,31 16,33 15,32 14,32 13,33 12,32 11,32 10,31 9,32 8,32 7,31 6,32 5,32 4,31 3,33 2,33 1,33 0,32" fill="#20ff40" fill-opacity="0.12"/>
<polygon points="0,13 1,21 2,24 3,24 4,21 5,17 6,24 7,21 8,22 9,22 10,22 11,21 12,23 13,22 14,23 15,18 16,15 17,23 18,22 19,14 20,21 21,21 22,23 23,23 24,21 25,23 26,24 27,22 28,24 29,22 30,22 31,24 32,21 33,22 34,21 35,22 36,21 37,23 38,23 39,23 40,22 41,21 42,20 43,15 44,20 45,23 46,22 47,22 48,22 49,23 50,23 51,23 52,22 53,21 54,23 55,21 56,22 57,20 58,23 59,17 60,24 61,21 62,22 63,22 64,22 65,23 66,24 67,21 68,24 69,12 70,21 71,23 72,14 73,22 74,22 75,21 76,21 77,21 78,21 79,24 80,22 81,22 82,24 82,47 81,40 80,37 79,38 78,40 77,37 76,40 75,38 74,37 73,49 72,42 71,37 70,40 69,39 68,38 67,39 66,37 65,37 64,38 63,39 62,48 61,38 60,39 59,39 58,37 57,42 56,44 55,39 54,38 53,38 52,45 51,37 50,39 49,38 48,38 47,37 46,42 45,37 44,38 43,38 42,36 41,39 40,39 39,36 38,36 37,44 36,36 35,36 34,37 33,39 32,38 31,38 30,40 29,38 28,39 27,38 26,36 25,36 24,36 23,37 22,39 21,46 20,43 19,38 18,36 17,36 16,36 15,36 14,37 13,39 12,36 11,36 10,41 9,39 8,42 7,45 6,36 5,37 4,38 3,38 2,45 1,39 0,47" fill="#5050ff" fill-opacity="0.18"/>
<polyline points="0,33 1,24 2,28 3,32 4,42 5,18 6,28 7,32 8,19 9,31 10,33 11,22 12,19 13,26 14,31 15,27 16,29 17,25 18,34 19,31 20,26 21,20 22,26 23,23 24,33 25,34 26,21 27,28 28,30 29,35 30,30 31,21 32,37 33,32 34,30 35,31 36,28 37,37 38,26 39,27 40,32 41,27 42,26 43,29 44,29 45,18 46,35 47,21 48,25 49,33 50,33 51,31 52,36 53,24 54,37 55,32 56,19 57,24 58,34 59,15 60,47 61,42 62,24 63,39 64,38 65,23 66,35 67,33 68,34 69,30 70,25 71,19 72,36 73,28 74,35 75,44 76,35 77,30 78,34 79,36 80,32 81,19 82,30" fill="none" stroke="#00e0ff" stroke-opacity="0.34" stroke-width="0.7"/>
<polyline points="0,38 1,32 2,32 3,25 4,25 5,27 6,26 7,24 8,35 9,31 10,25 11,36 12,28 13,37 14,39 15,36 16,21 17,32 18,30 19,34 20,38 21,35 22,26 23,31 24,43 25,24 26,25 27,33 28,29 29,26 30,33 31,28 32,29 33,28 34,26 35,21 36,33 37,32 38,30 39,34 40,34 41,26 42,17 43,36 44,34 45,30 46,33 47,43 48,39 49,32 50,28 51,29 52,31 53,30 54,39 55,30 56,21 57,28 58,21 59,26 60,30 61,34 62,38 63,32 64,42 65,29 66,32 67,21 68,34 69,29 70,24 71,39 72,28 73,26 74,31 75,25 76,37 77,24 78,34 79,40 80,35 81,28 82,30" fill="none" stroke="#ff50ff" stroke-opacity="0.42" stroke-width="0.7"/>
<polyline points="0,29 1,26 2,25 3,29 4,23 5,29 6,21 7,27 8,27 9,32 10,25 11,29 12,36 13,14 14,20 15,28 16,22 17,29 18,19 19,25 20,19 21,20 22,26 23,20 24,21 25,27 26,23 27,26 28,26 29,28 30,21 31,25 32,26 33,21 34,27 35,26 36,29 37,33 38,28 39,16 40,24 41,27 42,27 43,22 44,22 45,23 46,29 47,30 48,17 49,27 50,19 51,23 52,22 53,29 54,31 55,20 56,27 57,22 58,31 59,25 60,28 61,23 62,25 63,22 64,37 65,33 66,22 67,31 68,29 69,18 70,20 71,32 72,25 73,32 74,24 75,24 76,33 77,31 78,29 79,33 80,31 81,29 82,24" fill="none" stroke="#30e050" stroke-opacity="0.28" stroke-width="0.7"/>
<polyline points="0,24 1,27 2,30 3,29 4,37 5,32 6,28 7,27 8,33 9,32 10,27 11,25 12,37 13,22 14,37 15,31 16,30 17,31 18,31 19,35 20,29 21,40 22,36 23,24 24,28 25,32 26,32 27,31 28,33 29,28 30,30 31,31 32,31 33,28 34,29 35,29 36,25 37,36 38,42 39,43 40,26 41,32 42,31 43,26 44,36 45,30 46,34 47,25 48,32 49,29 50,32 51,27 52,35 53,35 54,33 55,32 56,28 57,27 58,23 59,30 60,35 61,23 62,24 63,37 64,36 65,30 66,30 67,43 68,15 69,31 70,28 71,30 72,26 73,28 74,30 75,27 76,28 77,27 78,22 79,33 80,33 81,22 82,39" fill="none" stroke="#6868ff" stroke-opacity="0.45" stroke-width="0.7"/>
<polyline points="0,22 1,22 2,27 3,35 4,31 5,26 6,27 7,39 8,25 9,36 10,31 11,25 12,9 13,30 14,24 15,28 16,23 17,27 18,29 19,34 20,25 21,31 22,23 23,36 24,29 25,42 26,44 27,34 28,27 29,24 30,30 31,27 32,18 33,28 34,30 35,37 36,25 37,37 38,21 39,22 40,29 41,31 42,42 43,31 44,26 45,24 46,20 47,25 48,23 49,29 50,29 51,25 52,20 53,34 54,35 55,34 56,27 57,28 58,28 59,23 60,37 61,24 62,22 63,34 64,27 65,22 66,18 67,31 68,31 69,16 70,32 71,29 72,30 73,26 74,20 75,23 76,24 77,34 78,20 79,29 80,38 81,32 82,17" fill="none" stroke="#00e0ff" stroke-opacity="0.34" stroke-width="0.7"/>
<polyline points="0,39 1,31 2,28 3,24 4,28 5,26 6,40 7,32 8,32 9,35 10,28 11,24 12,29 13,33 14,33 15,24 16,30 17,27 18,33 19,34 20,23 21,27 22,28 23,36 24,26 25,29 26,30 27,28 28,30 29,25 30,27 31,29 32,36 33,37 34,46 35,28 36,23 37,31 38,33 39,30 40,23 41,35 42,34 43,30 44,41 45,29 46,27 47,36 48,41 49,31 50,28 51,29 52,35 53,29 54,23 55,28 56,33 57,31 58,35 59,26 60,30 61,27 62,29 63,25 64,31 65,32 66,33 67,33 68,33 69,24 70,31 71,32 72,23 73,25 74,26 75,27 76,22 77,23 78,38 79,23 80,32 81,39 82,26" fill="none" stroke="#ff50ff" stroke-opacity="0.42" stroke-width="0.7"/>
<polyline points="0,24 1,28 2,22 3,27 4,21 5,24 6,30 7,24 8,33 9,23 10,27 11,24 12,15 13,25 14,31 15,24 16,31 17,33 18,25 19,31 20,28 21,23 22,19 23,18 24,27 25,26 26,12 27,22 28,32 29,24 30,31 31,31 32,23 33,26 34,35 35,28 36,28 37,27 38,34 39,33 40,20 41,28 42,26 43,17 44,26 45,23 46,25 47,20 48,26 49,30 50,19 51,23 52,28 53,32 54,31 55,28 56,20 57,21 58,25 59,28 60,25 61,35 62,37 63,27 64,30 65,24 66,27 67,24 68,31 69,21 70,23 71,35 72,30 73,29 74,23 75,25 76,29 77,29 78,24 79,25 80,29 81,25 82,28" fill="none" stroke="#30e050" stroke-opacity="0.28" stroke-width="0.7"/>
<polyline points="0,31 1,32 2,33 3,31 4,25 5,35 6,30 7,42 8,25 9,28 10,37 11,25 12,26 13,29 14,29 15,29 16,29 17,29 18,37 19,21 20,38 21,31 22,19 23,23 24,26 25,19 26,38 27,36 28,25 29,28 30,32 31,20 32,32 33,27 34,35 35,28 36,30 37,26 38,31 39,26 40,35 41,32 42,31 43,36 44,27 45,27 46,22 47,31 48,31 49,34 50,31 51,40 52,27 53,34 54,38 55,25 56,32 57,31 58,33 59,34 60,33 61,28 62,35 63,29 64,27 65,27 66,27 67,30 68,31 69,34 70,22 71,35 72,35 73,26 74,35 75,29 76,27 77,32 78,27 79,37 80,37 81,34 82,34" fill="none" stroke="#6868ff" stroke-opacity="0.45" stroke-width="0.7"/>
<polyline points="0,24 1,26 2,28 3,30 4,24 5,33 6,24 7,30 8,30 9,27 10,33 11,25 12,28 13,27 14,29 15,31 16,28 17,22 18,28 19,35 20,29 21,31 22,33 23,30 24,30 25,21 26,33 27,27 28,28 29,18 30,22 31,39 32,24 33,13 34,32 35,31 36,29 37,27 38,39 39,23 40,33 41,26 42,25 43,35 44,30 45,47 46,31 47,29 48,33 49,28 50,24 51,32 52,31 53,18 54,17 55,22 56,24 57,34 58,23 59,31 60,32 61,32 62,32 63,35 64,33 65,24 66,34 67,21 68,38 69,28 70,32 71,27 72,28 73,23 74,35 75,20 76,31 77,26 78,32 79,27 80,35 81,35 82,21" fill="none" stroke="#00e0ff" stroke-opacity="0.34" stroke-width="0.7"/>
<polyline points="0,34 1,19 2,34 3,37 4,39 5,35 6,28 7,36 8,23 9,26 10,43 11,26 12,24 13,27 14,28 15,28 16,30 17,28 18,32 19,29 20,29 21,28 22,22 23,31 24,24 25,29 26,34 27,33 28,28 29,30 30,36 31,35 32,32 33,32 34,17 35,28 36,33 37,32 38,34 39,26 40,37 41,32 42,43 43,28 44,33 45,39 46,29 47,32 48,29 49,30 50,31 51,29 52,37 53,34 54,28 55,28 56,20 57,28 58,22 59,24 60,35 61,37 62,33 63,40 64,36 65,32 66,34 67,41 68,33 69,30 70,31 71,42 72,30 73,29 74,37 75,33 76,28 77,44 78,30 79,22 80,31 81,32 82,30" fill="none" stroke="#ff50ff" stroke-opacity="0.42" stroke-width="0.7"/>
<polyline points="0,31 1,23 2,21 3,26 4,32 5,32 6,23 7,33 8,23 9,33 10,33 11,33 12,31 13,28 14,15 15,25 16,27 17,23 18,23 19,26 20,18 21,26 22,27 23,20 24,23 25,22 26,30 27,28 28,27 29,21 30,23 31,24 32,24 33,25 34,20 35,21 36,20 37,19 38,24 39,33 40,33 41,28 42,33 43,31 44,25 45,36 46,23 47,26 48,31 49,32 50,25 51,30 52,23 53,28 54,20 55,28 56,24 57,25 58,27 59,25 60,30 61,24 62,28 63,26 64,25 65,26 66,34 67,31 68,23 69,40 70,24 71,33 72,25 73,26 74,30 75,26 76,28 77,35 78,26 79,29 80,21 81,23 82,24" fill="none" stroke="#30e050" stroke-opacity="0.28" stroke-width="0.7"/>
<polyline points="0,24 1,30 2,34 3,24 4,32 5,37 6,34 7,21 8,35 9,31 10,28 11,34 12,36 13,31 14,34 15,36 16,19 17,31 18,26 19,34 20,25 21,25 22,32 23,28 24,24 25,24 26,30 27,32 28,30 29,27 30,32 31,27 32,29 33,24 34,35 35,28 36,25 37,27 38,28 39,36 40,23 41,29 42,37 43,37 44,30 45,28 46,31 47,32 48,30 49,31 50,31 51,30 52,32 53,39 54,32 55,22 56,30 57,31 58,24 59,28 60,26 61,28 62,21 63,33 64,24 65,24 66,21 67,37 68,22 69,29 70,21 71,34 72,33 73,32 74,32 75,26 76,19 77,23 78,42 79,28 80,27 81,26 82,34" fill="none" stroke="#6868ff" stroke-opacity="0.45" stroke-width="0.7"/>
<polyline points="0,31 1,27 2,33 3,33 4,35 5,34 6,34 7,33 8,31 9,22 10,25 11,31 12,24 13,31 14,21 15,37 16,23 17,38 18,26 19,27 20,20 21,22 22,20 23,28 24,25 25,24 26,28 27,42 28,32 29,41 30,23 31,39 32,26 33,38 34,24 35,24 36,30 37,20 38,35 39,18 40,26 41,23 42,27 43,33 44,31 45,28 46,27 47,30 48,30 49,38 50,28 51,39 52,29 53,41 54,30 55,24 56,28 57,25 58,22 59,30 60,16 61,29 62,30 63,37 64,23 65,33 66,21 67,24 68,25 69,34 70,30 71,29 72,29 73,23 74,33 75,38 76,38 77,21 78,25 79,38 80,19 81,22 82,37" fill="none" stroke="#00e0ff" stroke-opacity="0.34" stroke-width="0.7"/>
<polyline points="0,38 1,34 2,28 3,30 4,30 5,29 6,28 7,25 8,34 9,31 10,29 11,30 12,27 13,27 14,29 15,29 16,24 17,26 18,34 19,31 20,33 21,39 22,29 23,32 24,33 25,24 26,37 27,24 28,28 29,27 30,40 31,30 32,36 33,30 34,34 35,26 36,18 37,27 38,32 39,27 40,31 41,28 42,30 43,37 44,34 45,32 46,31 47,31 48,31 49,41 50,31 51,38 52,27 53,34 54,23 55,35 56,26 57,29 58,44 59,32 60,34 61,42 62,37 63,34 64,35 65,43 66,40 67,23 68,33 69,39 70,29 71,39 72,27 73,38 74,22 75,28 76,28 77,30 78,25 79,24 80,26 81,44 82,23" fill="none" stroke="#ff50ff" stroke-opacity="0.42" stroke-width="0.7"/>
<polyline points="0,28 1,23 2,24 3,20 4,21 5,27 6,25 7,20 8,18 9,24 10,23 11,23 12,19 13,28 14,22 15,32 16,29 17,29 18,27 19,21 20,19 21,21 22,17 23,22 24,24 25,23 26,28 27,23 28,24 29,32 30,21 31,19 32,21 33,22 34,27 35,22 36,26 37,25 38,22 39,29 40,23 41,31 42,24 43,22 44,26 45,22 46,25 47,22 48,29 49,21 50,26 51,30 52,21 53,36 54,22 55,22 56,33 57,31 58,30 59,27 60,33 61,20 62,31 63,31 64,30 65,31 66,30 67,14 68,41 69,23 70,29 71,22 72,24 73,30 74,28 75,21 76,21 77,26 78,29 79,24 80,25 81,16 82,25" fill="none" stroke="#30e050" stroke-opacity="0.28" stroke-width="0.7"/>
<polyline points="0,28 1,32 2,21 3,19 4,27 5,38 6,34 7,29 8,22 9,23 10,25 11,21 12,35 13,31 14,24 15,34 16,27 17,20 18,29 19,28 20,27 21,26 22,32 23,31 24,37 25,25 26,30 27,37 28,38 29,36 30,29 31,35 32,29 33,40 34,20 35,31 36,36 37,32 38,27 39,26 40,31 41,22 42,31 43,22 44,36 45,35 46,25 47,30 48,30 49,33 50,35 51,25 52,23 53,34 54,25 55,34 56,27 57,24 58,28 59,31 60,30 61,24 62,32 63,28 64,34 65,37 66,29 67,28 68,21 69,28 70,29 71,41 72,38 73,30 74,28 75,30 76,35 77,34 78,24 79,35 80,24 81,31 82,32" fill="none" stroke="#6868ff" stroke-opacity="0.45" stroke-width="0.7"/>
<polyline points="0,23 1,27 2,34 3,30 4,28 5,35 6,37 7,23 8,26 9,29 10,22 11,27 12,36 13,26 14,39 15,24 16,29 17,39 18,34 19,30 20,23 21,30 22,28 23,26 24,24 25,35 26,27 27,24 28,35 29,23 30,26 31,39 32,33 33,38 34,28 35,28 36,32 37,26 38,31 39,26 40,36 41,17 42,21 43,32 44,27 45,26 46,27 47,30 48,28 49,39 50,31 51,26 52,28 53,15 54,24 55,36 56,32 57,32 58,34 59,28 60,22 61,29 62,27 63,29 64,25 65,23 66,24 67,27 68,14 69,33 70,33 71,24 72,15 73,41 74,14 75,34 76,21 77,26 78,39 79,28 80,25 81,37 82,26" fill="none" stroke="#00e0ff" stroke-opacity="0.34" stroke-width="0.7"/>
<polyline points="0,28 1,36 2,28 3,36 4,26 5,33 6,27 7,33 8,34 9,26 10,35 11,31 12,24 13,35 14,19 15,33 16,36 17,37 18,39 19,30 20,35 21,30 22,26 23,33 24,28 25,35 26,37 27,30 28,24 29,24 30,33 31,45 32,31 33,31 34,23 35,37 36,27 37,31 38,38 39,34 40,32 41,32 42,44 43,36 44,36 45,40 46,30 47,21 48,38 49,35 50,29 51,39 52,39 53,37 54,27 55,48 56,27 57,34 58,37 59,26 60,28 61,29 62,30 63,32 64,42 65,34 66,39 67,33 68,34 69,33 70,35 71,35 72,27 73,24 74,29 75,29 76,24 77,28 78,34 79,29 80,23 81,28 82,38" fill="none" stroke="#ff50ff" stroke-opacity="0.42" stroke-width="0.7"/>
<polyline points="0,27 1,30 2,28 3,17 4,21 5,26 6,25 7,26 8,18 9,25 10,27 11,30 12,24 13,23 14,25 15,30 16,21 17,21 18,24 19,29 20,28 21,29 22,25 23,24 24,22 25,24 26,26 27,23 28,26 29,30 30,22 31,31 32,27 33,34 34,25 35,30 36,26 37,31 38,27 39,23 40,29 41,25 42,32 43,30 44,23 45,25 46,19 47,28 48,29 49,16 50,24 51,26 52,26 53,22 54,32 55,27 56,27 57,34 58,27 59,24 60,27 61,35 62,21 63,31 64,30 65,31 66,31 67,26 68,32 69,21 70,25 71,30 72,36 73,22 74,31 75,24 76,28 77,27 78,33 79,30 80,22 81,35 82,26" fill="none" stroke="#30e050" stroke-opacity="0.28" stroke-width="0.7"/>
<polyline points="0,31 1,27 2,38 3,23 4,32 5,29 6,23 7,27 8,30 9,18 10,32 11,34 12,32 13,34 14,35 15,33 16,36 17,27 18,26 19,27 20,28 21,25 22,30 23,33 24,34 25,32 26,30 27,32 28,36 29,23 30,37 31,30 32,31 33,40 34,29 35,31 36,27 37,34 38,25 39,30 40,25 41,32 42,18 43,28 44,29 45,22 46,32 47,25 48,24 49,33 50,37 51,28 52,34 53,25 54,27 55,33 56,34 57,33 58,23 59,25 60,32 61,27 62,30 63,32 64,20 65,39 66,30 67,36 68,31 69,36 70,27 71,32 72,29 73,36 74,34 75,34 76,32 77,20 78,32 79,24 80,25 81,27 82,28" fill="none" stroke="#6868ff" stroke-opacity="0.45" stroke-width="0.7"/>
<polyline points="0,31.1 1,29.6 2,31.6 3,30.4 4,28.9 5,30.5 6,32.3 7,28.7 8,29.8 9,31.6 10,27.8 11,30.5 12,32.3 13,31.0 14,31.0 15,30.7 16,28.7 17,29.3 18,32.6 19,30.7 20,28.5 21,30.8 22,29.5 23,29.9 24,31.0 25,31.0 26,28.3 27,30.2 28,29.1 29,31.9 30,31.2 31,29.0 32,30.1 33,31.9 34,29.5 35,28.6 36,32.3 37,30.8 38,26.4 39,30.9 40,33.2 41,29.1 42,27.1 43,31.2 44,29.9 45,30.2 46,30.2 47,30.0 48,29.3 49,32.3 50,30.8 51,28.0 52,30.1 53,30.9 54,29.3 55,29.0 56,29.1 57,29.6 58,31.8 59,28.5 60,29.4 61,30.6 62,30.9 63,27.7 64,31.0 65,32.6 66,27.9 67,30.6 68,30.8 69,31.1 70,30.1 71,28.9 72,32.1 73,30.8 74,28.0 75,29.5 76,30.8 77,28.5 78,32.9 79,31.3 80,29.5 81,30.2 82,28.5" fill="none" stroke="#e820e8" stroke-width="0.8" stroke-linejoin="round"/>
<polyline points="0,25.5 1,27.4 2,31.1 3,29.6 4,27.5 5,28.5 6,27.7 7,29.7 8,28.5 9,28.4 10,27.6 11,28.5 12,28.2 13,26.6 14,30.0 15,28.2 16,28.1 17,28.1 18,26.6 19,28.0 20,27.1 21,28.0 22,28.9 23,27.5 24,28.6 25,28.8 26,27.2 27,27.2 28,26.7 29,28.9 30,29.9 31,25.8 32,27.8 33,27.6 34,27.7 35,30.1 36,27.9 37,29.0 38,29.7 39,27.3 40,26.8 41,27.6 42,30.4 43,25.5 44,25.7 45,28.2 46,30.5 47,29.6 48,24.8 49,26.4 50,28.4 51,29.8 52,29.5 53,25.6 54,26.7 55,28.7 56,28.2 57,26.1 58,27.2 59,27.7 60,29.4 61,25.0 62,27.8 63,29.1 64,29.5 65,26.1 66,27.4 67,27.9 68,29.8 69,25.3 70,27.5 71,29.3 72,29.6 73,27.8 74,27.4 75,29.2 76,27.4 77,26.3 78,29.7 79,30.4 80,27.1 81,27.2 82,27.1" fill="none" stroke="#10e0f0" stroke-width="0.85" stroke-linejoin="round"/>
<polyline points="0,25.6 1,26.5 2,22.4 3,25.1 4,27.0 5,24.9 6,23.9 7,23.4 8,25.6 9,28.1 10,26.4 11,23.9 12,25.0 13,28.5 14,26.7 15,25.5 16,24.7 17,26.0 18,25.8 19,26.0 20,27.8 21,26.8 22,24.1 23,25.6 24,27.1 25,24.1 26,27.1 27,27.5 28,23.7 29,26.0 30,26.7 31,25.7 32,26.2 33,27.4 34,26.2 35,25.4 36,27.8 37,26.8 38,26.0 39,27.6 40,25.0 41,26.3 42,25.5 43,26.5 44,26.3 45,28.5 46,27.5 47,23.1 48,26.9 49,28.6 50,25.9 51,23.7 52,27.4 53,24.3 54,26.1 55,26.0 56,25.2 57,26.0 58,30.8 59,25.9 60,25.9 61,27.5 62,25.4 63,26.3 64,27.7 65,26.4 66,26.1 67,28.2 68,26.4 69,27.3 70,27.7 71,26.3 72,25.1 73,30.3 74,27.7 75,27.0 76,27.6 77,28.5 78,27.4 79,25.1 80,27.7 81,25.2 82,26.9" fill="none" stroke="#10d030" stroke-width="0.95" stroke-linejoin="round"/>
<polyline points="0,31.4 1,30.2 2,30.6 3,30.0 4,27.9 5,30.4 6,30.5 7,29.5 8,29.6 9,29.3 10,30.6 11,27.2 12,29.2 13,28.5 14,32.3 15,30.3 16,29.5 17,26.6 18,30.6 19,30.5 20,29.2 21,31.7 22,28.2 23,28.6 24,28.5 25,29.5 26,30.0 27,27.3 28,30.7 29,27.5 30,31.0 31,29.5 32,28.8 33,29.6 34,31.9 35,30.2 36,28.5 37,31.7 38,29.1 39,29.5 40,31.1 41,30.9 42,29.1 43,31.8 44,26.8 45,31.6 46,31.1 47,27.0 48,28.9 49,29.8 50,29.1 51,29.3 52,29.7 53,30.1 54,31.4 55,31.5 56,30.3 57,27.5 58,27.7 59,30.2 60,29.9 61,30.8 62,29.7 63,29.7 64,27.3 65,29.7 66,30.9 67,31.7 68,26.5 69,30.2 70,30.6 71,29.8 72,30.3 73,29.5 74,29.8 75,31.0 76,29.7 77,30.2 78,28.8 79,26.4 80,28.9 81,26.9 82,29.7" fill="none" stroke="#0808ff" stroke-width="1.0" stroke-linejoin="round"/>
</g>
<polyline points="209.1,42.3 210.5,32.4 211.6,34.6 212.7,40.9 214.1,38.1 215.6,45.1 217,50.7 218.4,54.9 219.8,52.1 220.9,54.2 221.7,42.3 222.9,39.5 224,47.9 225,40.9 225.9,43.7 227.1,38.1 228.1,40.9 229.2,51.4 230.2,36.7 231.3,24 232.4,31 233.5,32.4 234.8,39.5 235.9,45.1 237.2,39.5 238.3,47.2 239.7,41.6 240.6,50 241.8,40.9 243.1,37.4 244.2,38.1 245.3,41.6 246.7,44.4 247.9,47.9 249.3,38.1 250.7,33.9 251.5,28.2 252.6,38.1" fill="none" stroke="#000" stroke-width="1.0999999999999999" stroke-linejoin="round"/>
<polyline points="209.1,40.2 210.2,41.6 211.3,38.1 212.5,41.6 213.7,35.3 214.7,32.4 215.8,41.6 217,37.4 218.1,43 219.3,39.5 220.5,45.8 221.4,43.7 222.6,38.1 223.7,43 224.8,39.5 225.9,43.7 227.1,41.6 228.5,40.2 229.9,36.7 231,34.6 232.1,33.9 233.2,39.5 234.4,43 235.5,47.2 236.6,41.6 238,43.7 239.1,40.2 240.3,44.4 241.4,41.6 242.8,39.5 243.9,43.7 245,39.5 246.4,45.1 247.6,49.3 248.7,42.3 250.1,39.5 251.2,36.7 252.6,40.9" fill="none" stroke="#f00" stroke-width="0.95" stroke-linejoin="round"/>
</g>
<rect x="206.2" y="17.6" width="135.6" height="57.6" fill="none" stroke="#262626" stroke-width="0.9"/>
<path d="M206.2,75.2v-1.4M206.2,17.6v1.4M233.3,75.2v-1.4M233.3,17.6v1.4M260.4,75.2v-1.4M260.4,17.6v1.4M287.6,75.2v-1.4M287.6,17.6v1.4M314.7,75.2v-1.4M314.7,17.6v1.4M341.8,75.2v-1.4M341.8,17.6v1.4M206.2,17.6h1.4M341.8,17.6h-1.4M206.2,32h1.4M341.8,32h-1.4M206.2,46.4h1.4M341.8,46.4h-1.4M206.2,60.8h1.4M341.8,60.8h-1.4M206.2,75.2h1.4M341.8,75.2h-1.4" stroke="#262626" stroke-width="0.9" fill="none"/>
<text x="206.2" y="84.8" text-anchor="middle" class="t">1975</text>
<text x="233.3" y="84.8" text-anchor="middle" class="t">2000</text>
<text x="260.4" y="84.8" text-anchor="middle" class="t">2025</text>
<text x="287.6" y="84.8" text-anchor="middle" class="t">2050</text>
<text x="314.7" y="84.8" text-anchor="middle" class="t">2075</text>
<text x="341.8" y="84.8" text-anchor="middle" class="t">2100</text>
<text x="203.7" y="20.9" text-anchor="end" class="t">04 Jan</text>
<text x="203.7" y="35.3" text-anchor="end" class="t">20 Dec</text>
<text x="203.7" y="49.7" text-anchor="end" class="t">05 Dec</text>
<text x="203.7" y="64.1" text-anchor="end" class="t">20 Nov</text>
<text x="203.7" y="78.5" text-anchor="end" class="t">05 Nov</text>
<text x="210.5" y="15" class="ti">FUE</text>
<clipPath id="c2"><rect x="27.5" y="97.8" width="135.5" height="57.5"/></clipPath>
<g clip-path="url(#c2)">
<g transform="translate(74.1,97.8) scale(1.0840,1)">
<polygon points="0,23 1,24 2,22 3,22 4,21 5,17 6,21 7,21 8,22 9,21 10,24 11,19 12,24 13,21 14,18 15,17 16,23 17,20 18,21 19,16 20,21 21,22 22,22 23,21 24,21 25,23 26,22 27,16 28,20 29,22 30,21 31,22 32,21 33,21 34,21 35,22 36,22 37,16 38,23 39,23 40,21 41,22 42,22 43,23 44,22 45,20 46,21 47,22 48,21 49,20 50,13 51,20 52,22 53,21 54,22 55,14 56,21 57,20 58,14 59,20 60,20 61,21 62,21 63,21 64,21 65,21 66,21 67,21 68,22 69,17 70,17 71,22 72,18 73,21 74,21 75,21 76,21 77,20 78,22 79,18 80,23 81,22 82,19 82,44 81,40 80,41 79,46 78,43 77,46 76,45 75,42 74,46 73,41 72,40 71,43 70,40 69,40 68,49 67,46 66,45 65,41 64,48 63,58 62,39 61,44 60,58 59,46 58,44 57,40 56,42 55,42 54,41 53,39 52,43 51,51 50,41 49,44 48,48 47,45 46,45 45,51 44,47 43,51 42,41 41,42 40,39 39,40 38,41 37,41 36,45 35,39 34,47 33,43 32,44 31,42 30,41 29,44 28,52 27,40 26,41 25,42 24,52 23,38 22,38 21,41 20,42 19,43 18,39 17,43 16,40 15,42 14,53 13,57 12,43 11,46 10,42 9,43 8,40 7,40 6,38 5,58 4,45 3,52 2,52 1,39 0,41" fill="#00e0ff" fill-opacity="0.22"/>
<polygon points="0,22 1,19 2,21 3,21 4,23 5,20 6,14 7,20 8,19 9,22 10,19 11,22 12,20 13,22 14,19 15,22 16,22 17,21 18,22 19,22 20,19 21,21 22,20 23,22 24,22 25,21 26,20 27,20 28,19 29,14 30,19 31,15 32,21 33,21 34,21 35,22 36,22 37,21 38,22 39,19 40,19 41,22 42,19 43,22 44,19 45,21 46,20 47,19 48,20 49,19 50,21 51,21 52,21 53,20 54,19 55,19 56,14 57,20 58,19 59,14 60,20 61,19 62,21 63,20 64,18 65,19 66,19 67,20 68,22 69,19 70,19 71,22 72,20 73,19 74,20 75,19 76,20 77,20 78,20 79,13 80,18 81,21 82,21 82,48 81,39 80,38 79,38 78,39 77,38 76,39 75,42 74,50 73,38 72,38 71,41 70,40 69,40 68,41 67,41 66,41 65,37 64,42 63,38 62,36 61,38 60,37 59,37 58,43 57,40 56,41 55,39 54,40 53,40 52,46 51,41 50,39 49,41 48,37 47,37 46,39 45,41 44,42 43,40 42,51 41,39 40,45 39,40 38,41 37,39 36,46 35,36 34,36 33,37 32,37 31,40 30,36 29,40 28,37 27,37 26,40 25,39 24,39 23,49 22,39 21,45 20,48 19,42 18,41 17,36 16,40 15,38 14,37 13,52 12,38 11,39 10,39 9,47 8,36 7,36 6,38 5,38 4,39 3,36 2,37 1,39 0,37" fill="#ff40ff" fill-opacity="0.18"/>
<polygon points="0,23 1,22 2,23 3,21 4,20 5,22 6,22 7,19 8,22 9,21 10,21 11,23 12,22 13,20 14,22 15,23 16,15 17,21 18,23 19,23 20,22 21,18 22,23 23,21 24,23 25,20 26,23 27,23 28,22 29,20 30,22 31,16 32,21 33,22 34,16 35,17 36,18 37,23 38,20 39,22 40,21 41,22 42,22 43,20 44,23 45,20 46,18 47,21 48,17 49,17 50,23 51,20 52,21 53,21 54,21 55,14 56,15 57,20 58,19 59,16 60,23 61,15 62,23 63,19 64,20 65,21 66,21 67,22 68,20 69,22 70,16 71,16 72,17 73,21 74,21 75,20 76,20 77,19 78,20 79,20 80,21 81,21 82,16 82,40 81,39 80,37 79,51 78,39 77,45 76,37 75,51 74,51 73,37 72,41 71,39 70,41 69,44 68,37 67,50 66,40 65,41 64,40 63,40 62,42 61,40 60,39 59,49 58,38 57,44 56,37 55,52 54,39 53,36 52,39 51,38 50,40 49,40 48,40 47,36 46,37 45,39 44,36 43,37 42,39 41,39 40,38 39,36 38,39 37,37 36,38 35,36 34,36 33,40 32,37 31,37 30,38 29,39 28,47 27,38 26,36 25,37 24,36 23,44 22,37 21,37 20,36 19,35 18,42 17,36 16,38 15,40 14,36 13,37 12,39 11,38 10,46 9,41 8,38 7,35 6,35 5,36 4,36 3,37 2,38 1,46 0,39" fill="#20ff40" fill-opacity="0.12"/>
<polygon points="0,10 1,20 2,21 3,15 4,18 5,19 6,18 7,18 8,12 9,21 10,13 11,20 12,16 13,18 14,20 15,20 16,19 17,19 18,20 19,18 20,20 21,20 22,18 23,20 24,16 25,14 26,18 27,10 28,20 29,12 30,19 31,13 32,17 33,19 34,18 35,18 36,20 37,19 38,19 39,16 40,19 41,18 42,20 43,9 44,18 45,19 46,19 47,9 48,20 49,16 50,16 51,16 52,16 53,9 54,10 55,19 56,17 57,18 58,17 59,7 60,15 61,18 62,16 63,16 64,17 65,17 66,17 67,15 68,16 69,15 70,15 71,4 72,15 73,16 74,17 75,14 76,14 77,16 78,15 79,16 80,15 81,15 82,15 82,35 81,38 80,37 79,38 78,36 77,38 76,49 75,34 74,41 73,39 72,39 71,36 70,34 69,49 68,39 67,40 66,34 65,35 64,35 63,47 62,38 61,39 60,49 59,35 58,39 57,36 56,35 55,36 54,36 53,35 52,45 51,35 50,50 49,40 48,39 47,39 46,39 45,34 44,38 43,36 42,38 41,34 40,37 39,37 38,36 37,37 36,36 35,39 34,39 33,37 32,43 31,39 30,47 29,38 28,35 27,37 26,35 25,37 24,37 23,35 22,37 21,38 20,36 19,37 18,37 17,35 16,43 15,35 14,36 13,47 12,38 11,37 10,37 9,38 8,35 7,36 6,34 5,34 4,36 3,34 2,48 1,36 0,46" fill="#5050ff" fill-opacity="0.18"/>
<polyline points="0,23 1,44 2,26 3,35 4,30 5,28 6,28 7,29 8,45 9,30 10,25 11,40 12,23 13,31 14,23 15,32 16,27 17,32 18,32 19,21 20,32 21,23 22,30 23,26 24,29 25,35 26,49 27,39 28,33 29,25 30,24 31,46 32,22 33,25 34,38 35,32 36,23 37,27 38,20 39,30 40,36 41,34 42,30 43,45 44,46 45,46 46,25 47,28 48,43 49,39 50,24 51,40 52,18 53,26 54,30 55,28 56,38 57,27 58,35 59,22 60,21 61,46 62,32 63,26 64,20 65,40 66,34 67,50 68,25 69,27 70,44 71,38 72,28 73,25 74,41 75,26 76,21 77,28 78,54 79,31 80,27 81,22 82,27" fill="none" stroke="#00e0ff" stroke-opacity="0.34" stroke-width="0.7"/>
<polyline points="0,22 1,25 2,31 3,27 4,24 5,35 6,24 7,25 8,27 9,28 10,36 11,20 12,21 13,18 14,22 15,27 16,25 17,34 18,35 19,15 20,31 21,47 22,28 23,28 24,24 25,21 26,28 27,30 28,30 29,26 30,27 31,35 32,33 33,21 34,37 35,31 36,30 37,43 38,22 39,34 40,24 41,26 42,22 43,32 44,34 45,20 46,27 47,25 48,34 49,35 50,26 51,23 52,25 53,32 54,29 55,29 56,25 57,30 58,25 59,39 60,33 61,27 62,21 63,33 64,33 65,27 66,23 67,34 68,25 69,31 70,44 71,22 72,24 73,35 74,36 75,36 76,20 77,22 78,34 79,26 80,28 81,37 82,42" fill="none" stroke="#ff50ff" stroke-opacity="0.42" stroke-width="0.7"/>
<polyline points="0,40 1,28 2,30 3,31 4,33 5,35 6,27 7,37 8,20 9,29 10,33 11,22 12,28 13,26 14,34 15,24 16,31 17,36 18,27 19,28 20,29 21,28 22,34 23,22 24,32 25,27 26,34 27,46 28,33 29,36 30,37 31,36 32,36 33,30 34,22 35,20 36,32 37,29 38,37 39,18 40,27 41,28 42,27 43,34 44,21 45,22 46,24 47,27 48,29 49,31 50,30 51,32 52,23 53,39 54,23 55,19 56,30 57,22 58,25 59,31 60,21 61,29 62,36 63,27 64,31 65,28 66,24 67,25 68,25 69,21 70,31 71,33 72,40 73,38 74,26 75,22 76,23 77,23 78,33 79,31 80,28 81,36 82,26" fill="none" stroke="#30e050" stroke-opacity="0.28" stroke-width="0.7"/>
<polyline points="0,23 1,26 2,23 3,36 4,24 5,34 6,25 7,17 8,41 9,24 10,28 11,27 12,35 13,25 14,18 15,24 16,34 17,27 18,24 19,22 20,24 21,21 22,18 23,25 24,23 25,24 26,25 27,30 28,37 29,28 30,19 31,26 32,26 33,26 34,30 35,21 36,24 37,27 38,33 39,20 40,29 41,26 42,35 43,24 44,16 45,25 46,20 47,25 48,23 49,20 50,35 51,24 52,34 53,30 54,23 55,35 56,18 57,22 58,41 59,21 60,15 61,19 62,21 63,39 64,30 65,32 66,23 67,31 68,24 69,23 70,32 71,27 72,38 73,27 74,28 75,23 76,14 77,14 78,29 79,18 80,14 81,8 82,32" fill="none" stroke="#6868ff" stroke-opacity="0.45" stroke-width="0.7"/>
<polyline points="0,27 1,31 2,33 3,34 4,29 5,27 6,26 7,28 8,26 9,31 10,33 11,42 12,26 13,34 14,44 15,22 16,25 17,31 18,21 19,28 20,20 21,26 22,26 23,29 24,19 25,23 26,28 27,33 28,27 29,39 30,22 31,37 32,29 33,27 34,28 35,26 36,31 37,28 38,41 39,40 40,31 41,24 42,26 43,28 44,24 45,38 46,23 47,31 48,26 49,20 50,29 51,29 52,19 53,27 54,22 55,36 56,29 57,26 58,30 59,18 60,42 61,28 62,41 63,33 64,31 65,38 66,24 67,34 68,16 69,28 70,17 71,27 72,26 73,28 74,42 75,23 76,26 77,29 78,28 79,32 80,28 81,36 82,26" fill="none" stroke="#00e0ff" stroke-opacity="0.34" stroke-width="0.7"/>
<polyline points="0,35 1,22 2,31 3,31 4,30 5,26 6,28 7,42 8,29 9,27 10,34 11,28 12,23 13,30 14,33 15,30 16,19 17,22 18,37 19,36 20,27 21,19 22,45 23,31 24,26 25,30 26,38 27,24 28,26 29,34 30,29 31,26 32,31 33,36 34,35 35,28 36,29 37,33 38,38 39,19 40,33 41,26 42,30 43,35 44,27 45,15 46,38 47,27 48,38 49,33 50,19 51,36 52,23 53,29 54,36 55,37 56,31 57,40 58,27 59,29 60,41 61,37 62,26 63,26 64,25 65,39 66,25 67,24 68,25 69,29 70,26 71,23 72,34 73,18 74,36 75,36 76,27 77,30 78,36 79,25 80,40 81,22 82,22" fill="none" stroke="#ff50ff" stroke-opacity="0.42" stroke-width="0.7"/>
<polyline points="0,39 1,21 2,30 3,39 4,28 5,29 6,35 7,26 8,27 9,28 10,31 11,25 12,26 13,36 14,27 15,22 16,29 17,27 18,32 19,31 20,17 21,28 22,27 23,22 24,37 25,34 26,36 27,24 28,33 29,32 30,32 31,25 32,31 33,35 34,33 35,27 36,26 37,44 38,23 39,32 40,35 41,22 42,25 43,22 44,30 45,24 46,22 47,24 48,29 49,39 50,28 51,26 52,25 53,21 54,36 55,24 56,20 57,35 58,28 59,27 60,24 61,24 62,34 63,36 64,26 65,35 66,28 67,22 68,23 69,27 70,23 71,27 72,29 73,26 74,42 75,31 76,29 77,21 78,27 79,29 80,33 81,32 82,24" fill="none" stroke="#30e050" stroke-opacity="0.28" stroke-width="0.7"/>
<polyline points="0,20 1,34 2,24 3,22 4,29 5,32 6,31 7,26 8,33 9,27 10,27 11,27 12,26 13,30 14,26 15,33 16,23 17,25 18,23 19,22 20,21 21,30 22,21 23,29 24,34 25,22 26,18 27,24 28,24 29,24 30,25 31,19 32,45 33,27 34,28 35,30 36,30 37,19 38,22 39,39 40,24 41,38 42,20 43,18 44,27 45,21 46,32 47,19 48,26 49,18 50,33 51,28 52,28 53,28 54,16 55,31 56,20 57,21 58,25 59,33 60,22 61,22 62,19 63,22 64,29 65,29 66,16 67,33 68,22 69,23 70,33 71,38 72,25 73,28 74,20 75,23 76,21 77,23 78,41 79,23 80,23 81,29 82,21" fill="none" stroke="#6868ff" stroke-opacity="0.45" stroke-width="0.7"/>
<polyline points="0,18 1,39 2,25 3,27 4,38 5,30 6,29 7,36 8,39 9,34 10,30 11,42 12,37 13,31 14,27 15,26 16,38 17,23 18,32 19,39 20,37 21,33 22,24 23,35 24,25 25,31 26,36 27,32 28,34 29,26 30,30 31,27 32,48 33,37 34,27 35,24 36,27 37,43 38,28 39,28 40,35 41,37 42,23 43,22 44,29 45,29 46,34 47,32 48,39 49,38 50,36 51,28 52,38 53,33 54,11 55,25 56,26 57,32 58,27 59,31 60,25 61,24 62,27 63,29 64,33 65,24 66,28 67,33 68,21 69,31 70,25 71,27 72,34 73,28 74,29 75,48 76,39 77,31 78,26 79,27 80,44 81,27 82,42" fill="none" stroke="#00e0ff" stroke-opacity="0.34" stroke-width="0.7"/>
<polyline points="0,25 1,33 2,21 3,27 4,32 5,22 6,25 7,30 8,28 9,41 10,25 11,36 12,27 13,32 14,24 15,33 16,28 17,36 18,33 19,23 20,38 21,26 22,26 23,26 24,30 25,36 26,23 27,28 28,26 29,32 30,24 31,19 32,26 33,27 34,25 35,25 36,34 37,21 38,23 39,28 40,29 41,26 42,17 43,27 44,35 45,32 46,19 47,34 48,30 49,20 50,24 51,23 52,23 53,21 54,37 55,37 56,29 57,23 58,27 59,17 60,36 61,34 62,36 63,28 64,26 65,27 66,20 67,26 68,24 69,32 70,39 71,24 72,29 73,24 74,21 75,33 76,25 77,39 78,33 79,20 80,38 81,33 82,46" fill="none" stroke="#ff50ff" stroke-opacity="0.42" stroke-width="0.7"/>
<polyline points="0,31 1,32 2,26 3,29 4,30 5,28 6,41 7,27 8,26 9,33 10,32 11,28 12,27 13,30 14,31 15,31 16,38 17,29 18,25 19,20 20,27 21,32 22,27 23,39 24,27 25,32 26,35 27,24 28,34 29,27 30,36 31,29 32,24 33,23 34,34 35,24 36,31 37,21 38,24 39,25 40,26 41,33 42,19 43,27 44,34 45,21 46,30 47,34 48,33 49,31 50,24 51,37 52,27 53,29 54,32 55,36 56,24 57,29 58,33 59,17 60,33 61,27 62,33 63,27 64,22 65,18 66,27 67,32 68,25 69,39 70,27 71,28 72,24 73,25 74,23 75,37 76,32 77,31 78,33 79,22 80,19 81,25 82,41" fill="none" stroke="#30e050" stroke-opacity="0.28" stroke-width="0.7"/>
<polyline points="0,35 1,20 2,40 3,23 4,29 5,24 6,22 7,25 8,25 9,32 10,33 11,34 12,25 13,8 14,25 15,30 16,33 17,37 18,22 19,26 20,27 21,24 22,38 23,23 24,35 25,21 26,34 27,24 28,22 29,32 30,23 31,39 32,29 33,15 34,26 35,45 36,38 37,25 38,32 39,28 40,21 41,26 42,19 43,16 44,26 45,23 46,20 47,26 48,21 49,23 50,25 51,33 52,32 53,34 54,23 55,24 56,35 57,23 58,39 59,19 60,21 61,16 62,19 63,33 64,19 65,23 66,39 67,28 68,28 69,29 70,19 71,21 72,28 73,12 74,25 75,24 76,25 77,17 78,18 79,19 80,24 81,14 82,32" fill="none" stroke="#6868ff" stroke-opacity="0.45" stroke-width="0.7"/>
<polyline points="0,34 1,43 2,26 3,30 4,27 5,26 6,26 7,25 8,24 9,37 10,33 11,35 12,24 13,33 14,31 15,31 16,26 17,34 18,33 19,29 20,27 21,34 22,38 23,35 24,46 25,43 26,45 27,31 28,29 29,26 30,19 31,36 32,27 33,26 34,32 35,27 36,20 37,26 38,26 39,34 40,43 41,27 42,35 43,28 44,23 45,38 46,36 47,28 48,38 49,20 50,20 51,35 52,30 53,34 54,38 55,24 56,22 57,26 58,22 59,23 60,29 61,40 62,38 63,32 64,32 65,21 66,42 67,24 68,43 69,34 70,26 71,27 72,25 73,40 74,23 75,28 76,41 77,41 78,21 79,26 80,40 81,29 82,36" fill="none" stroke="#00e0ff" stroke-opacity="0.34" stroke-width="0.7"/>
<polyline points="0,27 1,28 2,28 3,32 4,24 5,32 6,43 7,20 8,24 9,29 10,42 11,27 12,25 13,30 14,27 15,24 16,20 17,46 18,32 19,25 20,32 21,29 22,34 23,21 24,33 25,27 26,25 27,26 28,32 29,37 30,32 31,27 32,28 33,33 34,26 35,31 36,36 37,19 38,35 39,37 40,31 41,45 42,22 43,27 44,30 45,25 46,37 47,24 48,31 49,24 50,23 51,25 52,27 53,24 54,39 55,32 56,48 57,32 58,46 59,21 60,26 61,39 62,31 63,26 64,34 65,26 66,18 67,16 68,35 69,27 70,17 71,22 72,24 73,24 74,24 75,23 76,27 77,19 78,27 79,32 80,33 81,28 82,42" fill="none" stroke="#ff50ff" stroke-opacity="0.42" stroke-width="0.7"/>
<polyline points="0,23 1,27 2,32 3,31 4,32 5,24 6,33 7,29 8,23 9,23 10,30 11,35 12,29 13,27 14,33 15,29 16,21 17,33 18,30 19,23 20,30 21,35 22,22 23,33 24,26 25,33 26,34 27,27 28,24 29,27 30,18 31,31 32,33 33,35 34,23 35,19 36,33 37,33 38,37 39,28 40,27 41,28 42,36 43,40 44,25 45,28 46,25 47,28 48,27 49,35 50,26 51,27 52,35 53,42 54,35 55,31 56,27 57,39 58,26 59,26 60,26 61,27 62,26 63,24 64,23 65,27 66,21 67,27 68,36 69,32 70,39 71,39 72,32 73,21 74,26 75,38 76,30 77,27 78,23 79,28 80,23 81,26 82,21" fill="none" stroke="#30e050" stroke-opacity="0.28" stroke-width="0.7"/>
<polyline points="0,30 1,24 2,20 3,30 4,26 5,30 6,20 7,25 8,19 9,28 10,23 11,23 12,28 13,28 14,31 15,22 16,35 17,22 18,25 19,24 20,24 21,20 22,28 23,20 24,37 25,21 26,28 27,22 28,20 29,23 30,51 31,34 32,24 33,29 34,31 35,27 36,27 37,26 38,27 39,26 40,17 41,20 42,34 43,26 44,34 45,28 46,20 47,21 48,9 49,19 50,40 51,26 52,20 53,22 54,18 55,30 56,34 57,28 58,23 59,24 60,24 61,26 62,29 63,23 64,22 65,19 66,20 67,32 68,19 69,22 70,22 71,18 72,32 73,24 74,39 75,19 76,16 77,18 78,20 79,31 80,14 81,18 82,17" fill="none" stroke="#6868ff" stroke-opacity="0.45" stroke-width="0.7"/>
<polyline points="0,33 1,30 2,21 3,37 4,37 5,31 6,24 7,29 8,33 9,32 10,28 11,32 12,21 13,25 14,27 15,37 16,25 17,33 18,28 19,35 20,39 21,45 22,29 23,17 24,35 25,35 26,38 27,26 28,32 29,46 30,48 31,27 32,37 33,44 34,21 35,29 36,29 37,22 38,25 39,28 40,26 41,28 42,38 43,37 44,26 45,24 46,51 47,18 48,23 49,33 50,22 51,34 52,35 53,36 54,23 55,35 56,25 57,24 58,23 59,36 60,43 61,35 62,37 63,24 64,27 65,28 66,28 67,26 68,26 69,23 70,29 71,30 72,30 73,25 74,27 75,23 76,26 77,36 78,25 79,30 80,27 81,27 82,22" fill="none" stroke="#00e0ff" stroke-opacity="0.34" stroke-width="0.7"/>
<polyline points="0,23 1,22 2,25 3,33 4,37 5,21 6,28 7,29 8,19 9,30 10,25 11,26 12,18 13,27 14,25 15,23 16,28 17,35 18,26 19,32 20,32 21,20 22,23 23,38 24,23 25,26 26,34 27,34 28,26 29,26 30,28 31,29 32,27 33,31 34,32 35,43 36,31 37,31 38,35 39,40 40,26 41,32 42,26 43,32 44,36 45,22 46,26 47,24 48,26 49,26 50,40 51,23 52,25 53,20 54,24 55,32 56,25 57,27 58,33 59,33 60,33 61,22 62,29 63,29 64,26 65,31 66,25 67,28 68,26 69,31 70,30 71,26 72,39 73,35 74,29 75,38 76,29 77,31 78,38 79,31 80,36 81,22 82,25" fill="none" stroke="#ff50ff" stroke-opacity="0.42" stroke-width="0.7"/>
<polyline points="0,25 1,25 2,27 3,24 4,34 5,31 6,28 7,16 8,24 9,25 10,24 11,27 12,20 13,24 14,34 15,26 16,30 17,26 18,30 19,24 20,23 21,28 22,31 23,27 24,42 25,24 26,29 27,24 28,38 29,27 30,30 31,24 32,27 33,24 34,42 35,36 36,24 37,24 38,25 39,26 40,25 41,27 42,23 43,28 44,34 45,27 46,22 47,33 48,30 49,23 50,19 51,36 52,22 53,28 54,27 55,27 56,29 57,27 58,31 59,41 60,34 61,24 62,26 63,25 64,34 65,27 66,32 67,29 68,36 69,25 70,23 71,37 72,41 73,34 74,34 75,24 76,35 77,35 78,31 79,28 80,26 81,19 82,27" fill="none" stroke="#30e050" stroke-opacity="0.28" stroke-width="0.7"/>
<polyline points="0,27 1,29 2,24 3,34 4,25 5,23 6,28 7,25 8,26 9,29 10,24 11,21 12,31 13,22 14,21 15,27 16,30 17,31 18,29 19,24 20,27 21,35 22,24 23,25 24,36 25,20 26,26 27,33 28,25 29,25 30,39 31,35 32,21 33,22 34,25 35,41 36,38 37,20 38,26 39,19 40,37 41,34 42,23 43,25 44,26 45,39 46,23 47,21 48,24 49,24 50,25 51,25 52,24 53,25 54,25 55,22 56,24 57,26 58,25 59,30 60,44 61,26 62,26 63,22 64,10 65,23 66,40 67,21 68,27 69,13 70,24 71,32 72,18 73,17 74,31 75,22 76,21 77,28 78,27 79,20 80,28 81,21 82,19" fill="none" stroke="#6868ff" stroke-opacity="0.45" stroke-width="0.7"/>
<polyline points="0,31.7 1,27.8 2,28.8 3,30.0 4,28.5 5,26.4 6,28.5 7,28.3 8,28.5 9,29.1 10,26.2 11,28.3 12,28.9 13,27.1 14,27.9 15,27.8 16,28.3 17,30.1 18,27.1 19,26.2 20,29.4 21,30.0 22,28.1 23,28.1 24,28.0 25,28.4 26,28.0 27,25.8 28,29.8 29,27.7 30,26.6 31,26.9 32,28.2 33,26.6 34,27.8 35,27.3 36,29.7 37,26.5 38,28.0 39,27.8 40,29.9 41,26.9 42,28.7 43,26.1 44,29.1 45,29.0 46,26.0 47,27.0 48,28.3 49,26.5 50,26.7 51,27.0 52,27.5 53,27.7 54,24.0 55,29.9 56,29.6 57,25.0 58,28.6 59,28.8 60,25.0 61,26.2 62,25.8 63,27.9 64,28.8 65,25.9 66,25.1 67,29.4 68,29.0 69,26.2 70,25.5 71,25.2 72,27.5 73,28.9 74,25.0 75,29.1 76,25.2 77,26.2 78,28.9 79,26.8 80,27.7 81,27.3 82,28.2" fill="none" stroke="#e820e8" stroke-width="0.8" stroke-linejoin="round"/>
<polyline points="0,27.3 1,31.6 2,28.8 3,28.2 4,27.9 5,26.5 6,30.7 7,28.5 8,30.6 9,28.7 10,27.0 11,28.4 12,29.7 13,28.1 14,28.7 15,28.6 16,27.7 17,28.1 18,29.0 19,27.0 20,30.9 21,28.3 22,27.9 23,29.2 24,30.5 25,27.1 26,31.5 27,28.5 28,28.2 29,28.2 30,27.8 31,28.7 32,30.7 33,27.9 34,29.5 35,29.8 36,26.4 37,30.1 38,30.4 39,28.0 40,26.8 41,30.4 42,30.0 43,26.5 44,29.2 45,26.8 46,29.1 47,27.3 48,28.3 49,29.5 50,28.0 51,28.4 52,28.7 53,27.7 54,28.9 55,29.5 56,30.4 57,26.5 58,28.5 59,30.3 60,28.9 61,26.6 62,29.4 63,29.1 64,24.8 65,28.0 66,29.2 67,27.3 68,28.3 69,28.7 70,26.4 71,30.0 72,29.0 73,27.1 74,25.4 75,29.3 76,29.0 77,28.1 78,26.7 79,29.4 80,27.4 81,26.2 82,31.7" fill="none" stroke="#10e0f0" stroke-width="0.85" stroke-linejoin="round"/>
<polyline points="0,30.4 1,29.5 2,29.3 3,29.5 4,27.2 5,28.0 6,28.9 7,27.3 8,29.3 9,26.2 10,29.8 11,28.3 12,30.9 13,29.6 14,28.9 15,29.4 16,28.0 17,30.5 18,27.3 19,26.6 20,29.6 21,29.0 22,27.6 23,27.3 24,29.8 25,27.3 26,29.7 27,29.4 28,27.6 29,29.0 30,27.8 31,28.4 32,27.2 33,29.0 34,29.2 35,27.9 36,27.5 37,29.1 38,29.1 39,27.3 40,25.1 41,30.9 42,29.2 43,27.4 44,28.6 45,28.6 46,25.5 47,31.8 48,27.7 49,23.9 50,30.1 51,28.0 52,27.8 53,26.9 54,26.7 55,26.4 56,30.2 57,28.5 58,25.5 59,25.4 60,28.9 61,28.9 62,25.4 63,28.7 64,26.2 65,27.4 66,28.2 67,28.8 68,27.3 69,27.4 70,29.2 71,28.1 72,27.8 73,26.9 74,29.1 75,28.1 76,26.8 77,29.4 78,27.4 79,26.0 80,26.4 81,26.7 82,27.3" fill="none" stroke="#10d030" stroke-width="0.95" stroke-linejoin="round"/>
<polyline points="0,26.2 1,29.0 2,26.8 3,25.6 4,27.4 5,28.7 6,24.4 7,26.7 8,27.8 9,25.3 10,24.5 11,28.4 12,26.6 13,24.5 14,27.3 15,27.2 16,25.9 17,26.6 18,26.4 19,25.7 20,28.3 21,26.5 22,25.6 23,26.9 24,27.2 25,27.5 26,26.1 27,25.6 28,28.1 29,28.7 30,25.1 31,24.3 32,25.6 33,27.1 34,26.2 35,25.8 36,24.4 37,25.4 38,29.4 39,25.7 40,22.2 41,27.0 42,25.2 43,27.3 44,24.1 45,26.0 46,27.9 47,26.5 48,26.0 49,25.6 50,23.7 51,25.3 52,25.2 53,24.0 54,25.2 55,25.5 56,24.3 57,25.3 58,22.4 59,23.2 60,26.3 61,21.6 62,23.0 63,28.4 64,24.0 65,24.3 66,24.3 67,23.7 68,25.1 69,23.8 70,24.1 71,25.9 72,23.3 73,23.2 74,24.4 75,23.0 76,23.1 77,26.1 78,21.4 79,23.6 80,21.9 81,21.6 82,23.4" fill="none" stroke="#0808ff" stroke-width="1.0" stroke-linejoin="round"/>
</g>
<polyline points="30.1,134.9 31.2,150.4 32.3,137.7 33.5,127.2 34.7,115.3 35.7,127.2 36.8,139.1 38,129.3 39.1,146.9 40.2,123 41,133.5 42.2,129.3 43.2,134.9 44.1,125.1 45.3,129.3 46.4,130.7 47.4,133.5 48.3,129.3 49.5,127.9 50.6,136.3 51.6,143.3 52.7,140.5 53.7,143.3 54.8,132.1 55.8,119.5 56.8,125.1 57.9,117.4 59,132.1 60.1,147.6 61.3,132.1 62.4,125.1 63.8,118.8 64.9,137.7 66,136.3 67.4,134.9 68.9,132.1 69.8,136.3 70.8,141.2 71.9,139.1 73.3,137.7" fill="none" stroke="#000" stroke-width="1.0999999999999999" stroke-linejoin="round"/>
<polyline points="30.1,133.5 31.2,134.9 32.3,132.1 33.5,127.9 34.7,128.6 35.7,139.1 36.8,125.1 38,130.7 39.1,134.9 40.2,130.7 41,127.2 42.2,134.2 43.2,132.1 44.1,125.1 45,118.8 45.8,127.9 46.7,129.3 47.8,132.1 48.8,127.2 49.8,130.7 50.9,137.7 52,139.1 53.1,139.1 54.2,130.7 55.4,125.1 56.5,127.2 57.6,122.3 58.7,133.5 59.9,136.3 61,131.4 62.1,132.1 63.2,130.7 64.4,126.5 65.2,134.9 66.3,130.7 67.4,133.5 68.6,125.1 69.7,130.7 70.8,137.7 71.9,135.6 73.6,138.4" fill="none" stroke="#f00" stroke-width="0.95" stroke-linejoin="round"/>
</g>
<rect x="27.5" y="97.8" width="135.5" height="57.5" fill="none" stroke="#262626" stroke-width="0.9"/>
<path d="M27.5,155.3v-1.4M27.5,97.8v1.4M54.6,155.3v-1.4M54.6,97.8v1.4M81.7,155.3v-1.4M81.7,97.8v1.4M108.8,155.3v-1.4M108.8,97.8v1.4M135.9,155.3v-1.4M135.9,97.8v1.4M163,155.3v-1.4M163,97.8v1.4M27.5,97.8h1.4M163,97.8h-1.4M27.5,112.2h1.4M163,112.2h-1.4M27.5,126.6h1.4M163,126.6h-1.4M27.5,140.9h1.4M163,140.9h-1.4M27.5,155.3h1.4M163,155.3h-1.4" stroke="#262626" stroke-width="0.9" fill="none"/>
<text x="27.5" y="164.9" text-anchor="middle" class="t">1975</text>
<text x="54.6" y="164.9" text-anchor="middle" class="t">2000</text>
<text x="81.7" y="164.9" text-anchor="middle" class="t">2025</text>
<text x="108.8" y="164.9" text-anchor="middle" class="t">2050</text>
<text x="135.9" y="164.9" text-anchor="middle" class="t">2075</text>
<text x="163" y="164.9" text-anchor="middle" class="t">2100</text>
<text x="25" y="101.1" text-anchor="end" class="t">23 Jun</text>
<text x="25" y="115.5" text-anchor="end" class="t">10 Jun</text>
<text x="25" y="129.9" text-anchor="end" class="t">29 May</text>
<text x="25" y="144.2" text-anchor="end" class="t">16 May</text>
<text x="25" y="158.6" text-anchor="end" class="t">04 May</text>
<text x="31.8" y="95.2" class="ti">BUS</text>
<clipPath id="c3"><rect x="206.2" y="97.8" width="135.6" height="57.5"/></clipPath>
<g clip-path="url(#c3)">
<g transform="translate(252.8,97.8) scale(1.0848,1)">
<polygon points="0,11 1,14 2,14 3,4 4,11 5,11 6,13 7,12 8,13 9,14 10,13 11,13 12,13 13,15 14,12 15,12 16,14 17,3 18,9 19,14 20,14 21,6 22,15 23,12 24,14 25,8 26,13 27,14 28,12 29,14 30,8 31,14 32,6 33,4 34,13 35,11 36,6 37,13 38,12 39,14 40,13 41,12 42,12 43,8 44,11 45,11 46,15 47,14 48,9 49,11 50,0 51,4 52,13 53,15 54,13 55,12 56,7 57,11 58,11 59,13 60,13 61,15 62,13 63,14 64,3 65,11 66,14 67,12 68,12 69,15 70,12 71,11 72,14 73,2 74,11 75,13 76,13 77,15 78,11 79,13 80,12 81,14 82,2 82,38 81,35 80,36 79,34 78,40 77,34 76,40 75,38 74,34 73,33 72,39 71,37 70,38 69,35 68,32 67,38 66,37 65,36 64,35 63,38 62,45 61,34 60,32 59,33 58,35 57,33 56,35 55,34 54,33 53,32 52,32 51,34 50,37 49,32 48,33 47,36 46,32 45,35 44,35 43,33 42,31 41,33 40,32 39,47 38,50 37,52 36,35 35,43 34,37 33,37 32,45 31,37 30,48 29,37 28,32 27,36 26,34 25,34 24,34 23,45 22,47 21,39 20,33 19,38 18,32 17,39 16,34 15,33 14,37 13,43 12,32 11,32 10,32 9,32 8,32 7,31 6,41 5,33 4,33 3,30 2,36 1,31 0,33" fill="#00e0ff" fill-opacity="0.22"/>
<polygon points="0,5 1,12 2,12 3,13 4,6 5,14 6,7 7,12 8,13 9,11 10,8 11,13 12,13 13,13 14,12 15,12 16,14 17,13 18,12 19,14 20,6 21,8 22,13 23,12 24,13 25,15 26,14 27,15 28,15 29,10 30,13 31,13 32,14 33,12 34,12 35,15 36,15 37,14 38,13 39,13 40,12 41,12 42,13 43,15 44,6 45,13 46,14 47,15 48,12 49,14 50,12 51,12 52,6 53,13 54,12 55,12 56,15 57,15 58,13 59,12 60,13 61,13 62,14 63,10 64,15 65,12 66,12 67,12 68,12 69,16 70,8 71,13 72,13 73,16 74,13 75,14 76,10 77,9 78,10 79,7 80,6 81,7 82,14 82,31 81,34 80,33 79,33 78,32 77,34 76,33 75,47 74,31 73,35 72,36 71,43 70,42 69,34 68,35 67,31 66,31 65,32 64,34 63,35 62,34 61,36 60,37 59,41 58,33 57,34 56,34 55,34 54,48 53,48 52,35 51,35 50,33 49,33 48,35 47,38 46,30 45,34 44,43 43,31 42,32 41,33 40,39 39,34 38,31 37,43 36,30 35,34 34,30 33,33 32,34 31,32 30,33 29,30 28,38 27,42 26,35 25,33 24,34 23,45 22,30 21,33 20,33 19,35 18,30 17,43 16,35 15,39 14,34 13,31 12,39 11,34 10,32 9,36 8,31 7,30 6,40 5,31 4,32 3,30 2,29 1,30 0,33" fill="#ff40ff" fill-opacity="0.18"/>
<polygon points="0,15 1,14 2,9 3,13 4,15 5,10 6,10 7,11 8,15 9,16 10,15 11,15 12,15 13,15 14,12 15,6 16,15 17,6 18,14 19,14 20,17 21,14 22,16 23,15 24,15 25,14 26,16 27,14 28,14 29,16 30,14 31,16 32,14 33,15 34,6 35,13 36,13 37,8 38,16 39,13 40,16 41,17 42,16 43,14 44,16 45,14 46,13 47,15 48,16 49,14 50,14 51,9 52,15 53,14 54,16 55,16 56,12 57,15 58,14 59,17 60,17 61,17 62,8 63,16 64,15 65,14 66,6 67,14 68,6 69,6 70,17 71,17 72,14 73,16 74,16 75,15 76,17 77,14 78,16 79,10 80,14 81,17 82,14 82,41 81,32 80,38 79,34 78,30 77,33 76,32 75,35 74,30 73,32 72,43 71,31 70,33 69,32 68,33 67,34 66,31 65,32 64,32 63,31 62,32 61,31 60,33 59,33 58,32 57,33 56,33 55,34 54,37 53,44 52,33 51,34 50,30 49,30 48,31 47,29 46,30 45,32 44,33 43,41 42,42 41,33 40,32 39,30 38,32 37,31 36,32 35,29 34,32 33,33 32,32 31,32 30,31 29,31 28,31 27,31 26,33 25,30 24,30 23,32 22,30 21,36 20,30 19,31 18,33 17,32 16,30 15,29 14,32 13,29 12,29 11,29 10,31 9,31 8,30 7,38 6,30 5,30 4,32 3,31 2,30 1,33 0,32" fill="#20ff40" fill-opacity="0.12"/>
<polygon points="0,2 1,7 2,13 3,13 4,13 5,11 6,12 7,12 8,13 9,14 10,14 11,15 12,13 13,12 14,13 15,11 16,10 17,13 18,12 19,12 20,11 21,13 22,10 23,12 24,11 25,13 26,12 27,13 28,14 29,11 30,12 31,9 32,12 33,13 34,13 35,9 36,12 37,13 38,14 39,4 40,12 41,14 42,15 43,13 44,14 45,14 46,14 47,14 48,13 49,11 50,13 51,12 52,14 53,8 54,14 55,13 56,13 57,14 58,12 59,6 60,14 61,13 62,15 63,11 64,12 65,13 66,14 67,12 68,12 69,12 70,14 71,15 72,12 73,8 74,11 75,12 76,14 77,9 78,10 79,14 80,4 81,13 82,15 82,34 81,44 80,33 79,35 78,30 77,34 76,31 75,33 74,34 73,34 72,33 71,34 70,33 69,40 68,35 67,30 66,31 65,30 64,30 63,34 62,33 61,31 60,36 59,31 58,34 57,32 56,32 55,31 54,33 53,29 52,31 51,43 50,34 49,30 48,43 47,30 46,30 45,29 44,32 43,40 42,30 41,29 40,33 39,33 38,31 37,33 36,33 35,31 34,33 33,30 32,32 31,40 30,31 29,30 28,31 27,29 26,32 25,33 24,34 23,36 22,29 21,32 20,30 19,29 18,33 17,31 16,41 15,33 14,28 13,32 12,28 11,31 10,42 9,32 8,28 7,29 6,31 5,38 4,29 3,31 2,32 1,41 0,41" fill="#5050ff" fill-opacity="0.18"/>
<polyline points="0,29 1,27 2,25 3,22 4,16 5,17 6,17 7,27 8,15 9,29 10,24 11,36 12,19 13,29 14,22 15,12 16,18 17,25 18,20 19,27 20,15 21,18 22,24 23,18 24,22 25,23 26,32 27,19 28,33 29,28 30,14 31,32 32,16 33,17 34,33 35,34 36,21 37,17 38,14 39,20 40,13 41,27 42,14 43,27 44,36 45,23 46,29 47,13 48,19 49,53 50,20 51,21 52,26 53,11 54,38 55,21 56,20 57,24 58,33 59,11 60,15 61,16 62,17 63,24 64,27 65,16 66,20 67,36 68,22 69,25 70,20 71,16 72,19 73,23 74,13 75,15 76,38 77,30 78,36 79,29 80,21 81,17 82,17" fill="none" stroke="#00e0ff" stroke-opacity="0.34" stroke-width="0.7"/>
<polyline points="0,30 1,9 2,17 3,34 4,26 5,21 6,20 7,21 8,20 9,14 10,15 11,26 12,26 13,14 14,18 15,23 16,17 17,22 18,21 19,12 20,24 21,28 22,21 23,9 24,27 25,36 26,16 27,18 28,24 29,18 30,23 31,37 32,22 33,27 34,24 35,27 36,24 37,18 38,24 39,22 40,18 41,21 42,27 43,28 44,20 45,18 46,18 47,28 48,21 49,10 50,32 51,22 52,17 53,31 54,21 55,18 56,21 57,24 58,14 59,13 60,14 61,15 62,16 63,18 64,23 65,22 66,19 67,26 68,30 69,15 70,20 71,15 72,18 73,29 74,9 75,33 76,18 77,30 78,18 79,23 80,15 81,21 82,14" fill="none" stroke="#ff50ff" stroke-opacity="0.42" stroke-width="0.7"/>
<polyline points="0,21 1,17 2,20 3,32 4,24 5,12 6,19 7,21 8,24 9,20 10,19 11,31 12,24 13,31 14,18 15,33 16,22 17,21 18,16 19,23 20,23 21,19 22,22 23,23 24,19 25,18 26,21 27,27 28,19 29,24 30,19 31,17 32,14 33,36 34,16 35,27 36,15 37,21 38,33 39,25 40,19 41,17 42,15 43,26 44,23 45,22 46,24 47,15 48,25 49,26 50,17 51,20 52,17 53,25 54,21 55,18 56,24 57,21 58,16 59,25 60,21 61,29 62,31 63,20 64,23 65,25 66,18 67,32 68,13 69,21 70,19 71,24 72,20 73,22 74,20 75,21 76,20 77,25 78,14 79,23 80,39 81,22 82,20" fill="none" stroke="#30e050" stroke-opacity="0.28" stroke-width="0.7"/>
<polyline points="0,16 1,17 2,26 3,20 4,23 5,20 6,22 7,16 8,18 9,26 10,15 11,15 12,28 13,12 14,16 15,23 16,28 17,26 18,22 19,25 20,16 21,29 22,18 23,25 24,14 25,24 26,17 27,34 28,25 29,22 30,16 31,14 32,16 33,35 34,11 35,24 36,23 37,20 38,20 39,17 40,14 41,20 42,15 43,17 44,33 45,32 46,26 47,25 48,22 49,20 50,32 51,32 52,25 53,18 54,44 55,23 56,16 57,15 58,17 59,18 60,32 61,21 62,23 63,11 64,22 65,22 66,24 67,21 68,26 69,25 70,13 71,13 72,21 73,17 74,13 75,20 76,25 77,36 78,20 79,22 80,12 81,16 82,15" fill="none" stroke="#6868ff" stroke-opacity="0.45" stroke-width="0.7"/>
<polyline points="0,31 1,14 2,23 3,17 4,22 5,21 6,22 7,27 8,24 9,13 10,26 11,15 12,17 13,26 14,15 15,23 16,29 17,5 18,30 19,13 20,11 21,31 22,12 23,22 24,26 25,37 26,22 27,24 28,28 29,14 30,27 31,31 32,25 33,36 34,11 35,20 36,18 37,28 38,14 39,25 40,24 41,17 42,13 43,19 44,23 45,21 46,15 47,21 48,21 49,26 50,23 51,34 52,25 53,29 54,13 55,19 56,17 57,20 58,26 59,21 60,22 61,15 62,32 63,16 64,39 65,32 66,11 67,26 68,16 69,20 70,16 71,25 72,19 73,12 74,18 75,14 76,17 77,15 78,15 79,31 80,44 81,19 82,17" fill="none" stroke="#00e0ff" stroke-opacity="0.34" stroke-width="0.7"/>
<polyline points="0,8 1,29 2,22 3,23 4,21 5,21 6,29 7,19 8,36 9,18 10,14 11,22 12,29 13,16 14,16 15,23 16,18 17,22 18,15 19,26 20,15 21,18 22,25 23,21 24,16 25,12 26,16 27,31 28,18 29,16 30,33 31,17 32,16 33,32 34,24 35,22 36,17 37,25 38,15 39,24 40,15 41,18 42,20 43,26 44,21 45,14 46,29 47,27 48,25 49,36 50,41 51,22 52,17 53,15 54,24 55,16 56,28 57,31 58,30 59,24 60,3 61,27 62,27 63,28 64,28 65,16 66,37 67,25 68,29 69,20 70,15 71,36 72,26 73,26 74,24 75,21 76,14 77,26 78,23 79,22 80,35 81,14 82,21" fill="none" stroke="#ff50ff" stroke-opacity="0.42" stroke-width="0.7"/>
<polyline points="0,20 1,23 2,18 3,31 4,23 5,21 6,12 7,19 8,31 9,28 10,23 11,25 12,25 13,28 14,23 15,25 16,18 17,24 18,24 19,20 20,30 21,22 22,26 23,25 24,18 25,22 26,12 27,28 28,24 29,21 30,25 31,25 32,26 33,16 34,31 35,23 36,34 37,27 38,16 39,21 40,18 41,29 42,15 43,23 44,22 45,21 46,23 47,25 48,25 49,14 50,16 51,38 52,24 53,24 54,21 55,22 56,19 57,32 58,27 59,32 60,22 61,17 62,24 63,19 64,24 65,31 66,35 67,26 68,24 69,22 70,21 71,24 72,24 73,22 74,31 75,25 76,20 77,10 78,27 79,19 80,19 81,22 82,31" fill="none" stroke="#30e050" stroke-opacity="0.28" stroke-width="0.7"/>
<polyline points="0,21 1,16 2,16 3,30 4,20 5,30 6,14 7,23 8,23 9,24 10,21 11,14 12,29 13,19 14,25 15,20 16,25 17,23 18,17 19,20 20,10 21,24 22,7 23,13 24,21 25,34 26,16 27,29 28,31 29,23 30,20 31,11 32,22 33,11 34,20 35,12 36,20 37,33 38,24 39,25 40,24 41,21 42,14 43,19 44,20 45,26 46,22 47,18 48,21 49,33 50,22 51,30 52,24 53,21 54,21 55,16 56,29 57,17 58,25 59,25 60,20 61,26 62,21 63,31 64,22 65,20 66,30 67,17 68,18 69,13 70,11 71,21 72,28 73,19 74,28 75,25 76,23 77,26 78,24 79,28 80,12 81,19 82,22" fill="none" stroke="#6868ff" stroke-opacity="0.45" stroke-width="0.7"/>
<polyline points="0,19 1,22 2,19 3,6 4,14 5,37 6,27 7,20 8,34 9,14 10,30 11,17 12,29 13,13 14,13 15,18 16,27 17,19 18,24 19,24 20,26 21,25 22,18 23,15 24,17 25,21 26,14 27,26 28,20 29,40 30,38 31,13 32,34 33,26 34,18 35,17 36,19 37,30 38,18 39,22 40,19 41,22 42,17 43,18 44,25 45,22 46,20 47,15 48,22 49,40 50,16 51,19 52,24 53,25 54,17 55,21 56,20 57,22 58,25 59,28 60,12 61,34 62,23 63,11 64,33 65,33 66,38 67,17 68,17 69,15 70,38 71,12 72,26 73,41 74,28 75,11 76,19 77,32 78,21 79,32 80,25 81,19 82,35" fill="none" stroke="#00e0ff" stroke-opacity="0.34" stroke-width="0.7"/>
<polyline points="0,29 1,20 2,11 3,29 4,18 5,33 6,17 7,19 8,17 9,23 10,26 11,17 12,31 13,21 14,39 15,24 16,21 17,19 18,34 19,17 20,17 21,35 22,30 23,15 24,18 25,17 26,19 27,24 28,15 29,33 30,32 31,31 32,18 33,16 34,17 35,21 36,33 37,20 38,23 39,32 40,16 41,32 42,18 43,23 44,34 45,19 46,20 47,34 48,29 49,18 50,32 51,18 52,17 53,30 54,24 55,20 56,20 57,27 58,10 59,23 60,14 61,20 62,15 63,23 64,26 65,33 66,23 67,18 68,21 69,18 70,30 71,15 72,22 73,21 74,14 75,26 76,30 77,31 78,25 79,28 80,24 81,17 82,12" fill="none" stroke="#ff50ff" stroke-opacity="0.42" stroke-width="0.7"/>
<polyline points="0,8 1,30 2,28 3,21 4,16 5,25 6,22 7,28 8,16 9,22 10,26 11,26 12,19 13,20 14,16 15,14 16,23 17,14 18,21 19,28 20,17 21,25 22,18 23,19 24,19 25,20 26,22 27,18 28,19 29,18 30,23 31,22 32,27 33,24 34,19 35,16 36,17 37,15 38,19 39,21 40,14 41,11 42,10 43,25 44,29 45,18 46,33 47,25 48,19 49,17 50,21 51,29 52,20 53,20 54,24 55,26 56,20 57,39 58,23 59,20 60,29 61,22 62,38 63,26 64,28 65,29 66,22 67,25 68,12 69,22 70,22 71,22 72,23 73,18 74,36 75,19 76,19 77,19 78,28 79,12 80,31 81,35 82,19" fill="none" stroke="#30e050" stroke-opacity="0.28" stroke-width="0.7"/>
<polyline points="0,19 1,15 2,31 3,22 4,10 5,30 6,19 7,22 8,13 9,20 10,24 11,23 12,16 13,27 14,21 15,27 16,20 17,28 18,18 19,25 20,26 21,23 22,21 23,18 24,24 25,16 26,27 27,13 28,28 29,18 30,12 31,26 32,27 33,19 34,16 35,15 36,18 37,14 38,14 39,19 40,12 41,18 42,25 43,20 44,27 45,19 46,18 47,23 48,21 49,19 50,31 51,24 52,24 53,20 54,23 55,9 56,22 57,17 58,18 59,26 60,20 61,20 62,19 63,14 64,24 65,26 66,11 67,36 68,3 69,24 70,18 71,15 72,19 73,11 74,33 75,19 76,22 77,25 78,21 79,31 80,23 81,19 82,11" fill="none" stroke="#6868ff" stroke-opacity="0.45" stroke-width="0.7"/>
<polyline points="0,24 1,26 2,24 3,11 4,21 5,37 6,24 7,30 8,14 9,26 10,15 11,25 12,23 13,24 14,24 15,21 16,17 17,23 18,11 19,11 20,33 21,25 22,22 23,9 24,15 25,18 26,18 27,35 28,12 29,27 30,18 31,28 32,25 33,21 34,29 35,19 36,20 37,22 38,25 39,14 40,19 41,31 42,21 43,22 44,39 45,25 46,13 47,17 48,16 49,31 50,34 51,19 52,34 53,23 54,16 55,37 56,20 57,21 58,25 59,28 60,19 61,18 62,24 63,15 64,15 65,15 66,21 67,18 68,20 69,20 70,27 71,17 72,22 73,12 74,25 75,34 76,16 77,36 78,26 79,28 80,26 81,19 82,21" fill="none" stroke="#00e0ff" stroke-opacity="0.34" stroke-width="0.7"/>
<polyline points="0,14 1,28 2,33 3,19 4,16 5,18 6,25 7,31 8,28 9,16 10,27 11,23 12,25 13,19 14,23 15,18 16,16 17,23 18,20 19,24 20,30 21,24 22,21 23,28 24,31 25,30 26,15 27,15 28,21 29,32 30,24 31,25 32,28 33,25 34,13 35,11 36,26 37,22 38,19 39,17 40,18 41,29 42,27 43,31 44,28 45,10 46,19 47,36 48,16 49,14 50,17 51,22 52,17 53,26 54,34 55,23 56,20 57,12 58,16 59,13 60,16 61,24 62,19 63,21 64,24 65,20 66,18 67,34 68,34 69,38 70,18 71,25 72,17 73,21 74,20 75,26 76,21 77,14 78,20 79,31 80,24 81,23 82,26" fill="none" stroke="#ff50ff" stroke-opacity="0.42" stroke-width="0.7"/>
<polyline points="0,12 1,37 2,16 3,30 4,18 5,22 6,27 7,24 8,20 9,28 10,23 11,29 12,18 13,23 14,33 15,19 16,17 17,28 18,34 19,19 20,28 21,20 22,26 23,24 24,26 25,22 26,14 27,20 28,17 29,22 30,27 31,13 32,27 33,29 34,22 35,24 36,20 37,28 38,18 39,24 40,22 41,11 42,18 43,23 44,31 45,24 46,13 47,32 48,14 49,17 50,9 51,31 52,24 53,18 54,26 55,29 56,14 57,21 58,25 59,22 60,33 61,27 62,14 63,20 64,31 65,21 66,26 67,20 68,26 69,29 70,20 71,20 72,29 73,33 74,31 75,30 76,23 77,36 78,23 79,30 80,14 81,29 82,24" fill="none" stroke="#30e050" stroke-opacity="0.28" stroke-width="0.7"/>
<polyline points="0,18 1,29 2,25 3,15 4,29 5,30 6,26 7,17 8,18 9,18 10,18 11,16 12,11 13,24 14,27 15,14 16,14 17,19 18,18 19,9 20,26 21,16 22,25 23,23 24,25 25,6 26,24 27,18 28,21 29,13 30,19 31,24 32,27 33,16 34,22 35,30 36,13 37,24 38,21 39,32 40,37 41,19 42,19 43,28 44,23 45,19 46,13 47,21 48,21 49,25 50,29 51,19 52,18 53,21 54,28 55,13 56,25 57,36 58,27 59,17 60,28 61,31 62,20 63,21 64,19 65,29 66,11 67,18 68,15 69,20 70,31 71,20 72,27 73,9 74,13 75,24 76,25 77,23 78,26 79,28 80,30 81,16 82,32" fill="none" stroke="#6868ff" stroke-opacity="0.45" stroke-width="0.7"/>
<polyline points="0,21 1,17 2,27 3,27 4,14 5,24 6,30 7,19 8,33 9,25 10,30 11,30 12,29 13,21 14,22 15,18 16,26 17,21 18,29 19,17 20,15 21,11 22,31 23,27 24,18 25,20 26,27 27,32 28,7 29,28 30,15 31,15 32,17 33,15 34,16 35,29 36,32 37,20 38,31 39,15 40,36 41,11 42,29 43,21 44,18 45,44 46,21 47,9 48,31 49,33 50,22 51,28 52,16 53,17 54,19 55,38 56,20 57,16 58,31 59,21 60,17 61,18 62,28 63,13 64,19 65,25 66,18 67,34 68,43 69,23 70,21 71,22 72,20 73,13 74,33 75,25 76,17 77,24 78,23 79,19 80,12 81,23 82,18" fill="none" stroke="#00e0ff" stroke-opacity="0.34" stroke-width="0.7"/>
<polyline points="0,10 1,23 2,31 3,36 4,21 5,24 6,16 7,28 8,18 9,17 10,21 11,31 12,18 13,31 14,28 15,20 16,20 17,18 18,20 19,16 20,18 21,21 22,14 23,34 24,22 25,18 26,10 27,27 28,15 29,34 30,27 31,26 32,22 33,24 34,15 35,19 36,34 37,13 38,20 39,15 40,13 41,20 42,21 43,29 44,22 45,24 46,21 47,18 48,20 49,12 50,16 51,13 52,22 53,18 54,21 55,32 56,22 57,26 58,6 59,20 60,29 61,18 62,20 63,17 64,33 65,11 66,29 67,25 68,25 69,21 70,21 71,33 72,16 73,18 74,35 75,23 76,25 77,16 78,21 79,13 80,22 81,21 82,18" fill="none" stroke="#ff50ff" stroke-opacity="0.42" stroke-width="0.7"/>
<polyline points="0,29 1,15 2,19 3,25 4,31 5,23 6,17 7,17 8,17 9,27 10,21 11,33 12,23 13,30 14,28 15,20 16,23 17,24 18,24 19,19 20,24 21,30 22,23 23,26 24,28 25,20 26,14 27,24 28,20 29,22 30,27 31,25 32,28 33,23 34,19 35,26 36,16 37,32 38,28 39,27 40,25 41,21 42,22 43,31 44,25 45,25 46,26 47,25 48,24 49,20 50,34 51,18 52,21 53,34 54,15 55,19 56,28 57,29 58,25 59,25 60,26 61,18 62,28 63,23 64,14 65,26 66,17 67,17 68,25 69,25 70,18 71,34 72,21 73,22 74,27 75,18 76,24 77,20 78,22 79,24 80,28 81,22 82,31" fill="none" stroke="#30e050" stroke-opacity="0.28" stroke-width="0.7"/>
<polyline points="0,16 1,16 2,21 3,33 4,14 5,17 6,30 7,27 8,26 9,31 10,22 11,16 12,16 13,20 14,24 15,19 16,23 17,21 18,26 19,13 20,18 21,22 22,17 23,14 24,28 25,23 26,16 27,19 28,25 29,26 30,21 31,38 32,21 33,18 34,19 35,19 36,20 37,15 38,17 39,26 40,22 41,30 42,24 43,21 44,36 45,16 46,31 47,21 48,13 49,31 50,33 51,32 52,23 53,22 54,19 55,24 56,28 57,20 58,26 59,21 60,25 61,28 62,24 63,20 64,27 65,26 66,19 67,30 68,29 69,28 70,16 71,27 72,17 73,24 74,18 75,11 76,25 77,20 78,33 79,23 80,24 81,28 82,31" fill="none" stroke="#6868ff" stroke-opacity="0.45" stroke-width="0.7"/>
<polyline points="0,22.3 1,20.2 2,19.6 3,20.6 4,22.5 5,21.9 6,21.2 7,19.6 8,19.1 9,21.1 10,22.3 11,21.9 12,20.7 13,18.4 14,22.2 15,20.3 16,20.9 17,21.1 18,22.4 19,23.2 20,19.0 21,22.1 22,20.3 23,20.3 24,21.1 25,20.1 26,23.2 27,20.6 28,19.7 29,21.7 30,21.1 31,23.7 32,18.5 33,22.8 34,23.3 35,21.4 36,19.3 37,22.5 38,21.1 39,21.1 40,20.7 41,21.6 42,22.7 43,20.9 44,20.3 45,23.8 46,21.6 47,19.1 48,20.2 49,21.5 50,21.4 51,23.1 52,21.6 53,18.2 54,22.5 55,21.0 56,18.9 57,22.1 58,21.9 59,23.6 60,20.3 61,22.4 62,21.0 63,21.7 64,23.0 65,22.1 66,19.9 67,19.9 68,22.2 69,20.6 70,19.7 71,24.7 72,22.8 73,20.6 74,23.0 75,24.6 76,20.5 77,20.7 78,22.9 79,22.7 80,22.1 81,23.1 82,20.4" fill="none" stroke="#e820e8" stroke-width="0.8" stroke-linejoin="round"/>
<polyline points="0,21.8 1,21.1 2,19.4 3,21.1 4,20.3 5,17.4 6,22.3 7,22.7 8,18.9 9,21.6 10,22.3 11,19.3 12,21.4 13,21.7 14,18.5 15,22.3 16,23.0 17,20.3 18,21.3 19,21.0 20,22.0 21,22.5 22,23.3 23,20.6 24,18.8 25,21.6 26,22.5 27,21.0 28,21.5 29,20.2 30,24.1 31,20.7 32,19.0 33,23.3 34,21.2 35,19.2 36,23.2 37,23.9 38,20.3 39,20.1 40,23.7 41,22.4 42,21.0 43,20.5 44,20.3 45,22.6 46,22.6 47,20.2 48,23.4 49,21.0 50,18.9 51,23.9 52,22.4 53,20.2 54,21.7 55,23.0 56,20.2 57,20.3 58,24.1 59,22.0 60,21.2 61,21.2 62,23.5 63,19.9 64,20.1 65,20.5 66,21.6 67,22.7 68,21.6 69,22.3 70,21.0 71,21.3 72,21.5 73,22.6 74,21.3 75,22.7 76,22.5 77,22.6 78,20.8 79,23.5 80,21.8 81,19.8 82,21.9" fill="none" stroke="#10e0f0" stroke-width="0.85" stroke-linejoin="round"/>
<polyline points="0,22.0 1,23.8 2,20.7 3,21.4 4,24.2 5,24.6 6,20.6 7,22.3 8,21.8 9,22.4 10,19.1 11,22.6 12,23.4 13,23.9 14,21.4 15,20.1 16,23.6 17,22.2 18,22.3 19,24.4 20,20.3 21,22.9 22,23.4 23,20.5 24,23.1 25,21.3 26,21.8 27,23.0 28,23.3 29,21.2 30,22.9 31,22.0 32,20.2 33,23.3 34,23.0 35,18.2 36,20.5 37,25.5 38,22.9 39,21.3 40,23.8 41,24.9 42,20.2 43,21.7 44,23.5 45,21.4 46,23.3 47,23.8 48,20.0 49,23.9 50,22.5 51,24.5 52,22.2 53,21.0 54,23.7 55,23.9 56,20.8 57,22.7 58,23.3 59,21.9 60,22.9 61,21.9 62,24.6 63,22.3 64,22.2 65,23.2 66,24.3 67,21.7 68,23.2 69,21.8 70,22.5 71,22.5 72,22.0 73,23.2 74,25.3 75,21.6 76,23.5 77,25.0 78,22.5 79,22.9 80,21.5 81,21.9 82,22.9" fill="none" stroke="#10d030" stroke-width="0.95" stroke-linejoin="round"/>
<polyline points="0,23.1 1,19.4 2,20.8 3,20.3 4,20.0 5,22.6 6,20.8 7,19.1 8,21.2 9,22.2 10,19.4 11,18.2 12,22.4 13,20.9 14,20.4 15,20.2 16,21.9 17,19.2 18,19.8 19,21.7 20,20.3 21,22.6 22,22.9 23,23.3 24,16.7 25,21.1 26,22.3 27,20.4 28,21.0 29,21.3 30,21.4 31,20.3 32,22.4 33,23.2 34,21.6 35,19.3 36,19.5 37,22.1 38,21.6 39,19.6 40,20.9 41,22.1 42,20.9 43,20.4 44,21.8 45,23.5 46,22.0 47,19.9 48,21.7 49,20.7 50,22.6 51,22.0 52,20.9 53,19.7 54,25.1 55,22.1 56,18.8 57,21.9 58,21.8 59,19.3 60,20.8 61,22.1 62,23.1 63,21.2 64,21.2 65,21.2 66,23.0 67,19.2 68,21.5 69,21.6 70,23.3 71,20.7 72,21.1 73,22.4 74,21.3 75,22.8 76,21.1 77,21.0 78,22.2 79,19.8 80,19.7 81,22.9 82,24.7" fill="none" stroke="#0808ff" stroke-width="1.0" stroke-linejoin="round"/>
</g>
<polyline points="209.1,113.9 210.2,133.5 211.3,118.1 212.5,108.2 213.3,106.8 214.4,115.3 215.6,120.9 216.7,113.9 217.8,125.1 218.9,118.1 220,113.2 221.2,116.7 222.3,112.4 223.4,105.4 224.5,113.9 225.7,118.1 226.8,115.3 227.9,117.4 229,123.7 230.2,132.8 231.3,125.1 232.4,121.6 233.5,117.4 234.7,125.1 235.8,118.1 236.9,109.6 238,116.7 239.1,134.2 240.3,122.3 241.4,113.9 242.5,117.4 243.4,127.2 244.5,122.3 245.6,126.5 246.7,119.5 247.9,118.8 249,123.7 250.1,130.7 250.9,132.1 252.3,120.9" fill="none" stroke="#000" stroke-width="1.0999999999999999" stroke-linejoin="round"/>
<polyline points="209.1,120.9 210.2,118.1 211.3,121.6 212.5,118.1 213.6,114.6 214.7,117.4 215.8,116.7 217,122.3 218.1,123 219.2,115.3 220.3,113.9 221.4,122.3 222.6,111 223.7,115.3 224.8,108.2 225.9,113.9 227.1,118.1 228.2,115.3 229.3,120.2 230.4,125.1 231.6,127.2 232.7,125.1 233.8,115.3 234.9,119.5 236.1,112.4 237.2,115.3 238.3,118.1 239.4,113.9 240.6,120.9 241.7,116.7 242.8,112.4 243.9,125.1 245,119.5 246.2,122.3 247.3,115.3 248.4,116.7 249.5,122.3 250.7,125.1 251.8,123.7 252.6,120.2" fill="none" stroke="#f00" stroke-width="0.95" stroke-linejoin="round"/>
</g>
<rect x="206.2" y="97.8" width="135.6" height="57.5" fill="none" stroke="#262626" stroke-width="0.9"/>
<path d="M206.2,155.3v-1.4M206.2,97.8v1.4M233.3,155.3v-1.4M233.3,97.8v1.4M260.4,155.3v-1.4M260.4,97.8v1.4M287.6,155.3v-1.4M287.6,97.8v1.4M314.7,155.3v-1.4M314.7,97.8v1.4M341.8,155.3v-1.4M341.8,97.8v1.4M206.2,97.8h1.4M341.8,97.8h-1.4M206.2,112.2h1.4M341.8,112.2h-1.4M206.2,126.6h1.4M341.8,126.6h-1.4M206.2,140.9h1.4M341.8,140.9h-1.4M206.2,155.3h1.4M341.8,155.3h-1.4" stroke="#262626" stroke-width="0.9" fill="none"/>
<text x="206.2" y="164.9" text-anchor="middle" class="t">1975</text>
<text x="233.3" y="164.9" text-anchor="middle" class="t">2000</text>
<text x="260.4" y="164.9" text-anchor="middle" class="t">2025</text>
<text x="287.6" y="164.9" text-anchor="middle" class="t">2050</text>
<text x="314.7" y="164.9" text-anchor="middle" class="t">2075</text>
<text x="341.8" y="164.9" text-anchor="middle" class="t">2100</text>
<text x="203.7" y="101.1" text-anchor="end" class="t">03 Jul</text>
<text x="203.7" y="115.5" text-anchor="end" class="t">18 Jun</text>
<text x="203.7" y="129.9" text-anchor="end" class="t">03 Jun</text>
<text x="203.7" y="144.2" text-anchor="end" class="t">19 May</text>
<text x="203.7" y="158.6" text-anchor="end" class="t">04 May</text>
<text x="210.5" y="95.2" class="ti">BUE</text>
<clipPath id="c4"><rect x="27.5" y="178.6" width="135.5" height="56.4"/></clipPath>
<g clip-path="url(#c4)">
<g transform="translate(74.1,178.6) scale(1.0840,1)">
<polygon points="0,1 1,11 2,11 3,16 4,16 5,13 6,6 7,14 8,16 9,13 10,13 11,14 12,15 13,14 14,13 15,13 16,15 17,16 18,15 19,15 20,17 21,15 22,15 23,3 24,16 25,15 26,13 27,8 28,18 29,9 30,17 31,18 32,15 33,15 34,18 35,13 36,16 37,17 38,17 39,15 40,14 41,16 42,12 43,3 44,17 45,15 46,15 47,13 48,17 49,15 50,17 51,18 52,15 53,18 54,7 55,16 56,6 57,18 58,13 59,17 60,11 61,9 62,18 63,12 64,15 65,18 66,18 67,18 68,15 69,0 70,14 71,15 72,16 73,5 74,19 75,11 76,18 77,15 78,15 79,15 80,8 81,5 82,18 82,41 81,39 80,41 79,37 78,41 77,37 76,46 75,40 74,42 73,53 72,53 71,38 70,39 69,41 68,42 67,42 66,42 65,42 64,36 63,51 62,42 61,39 60,38 59,49 58,36 57,39 56,51 55,38 54,37 53,40 52,43 51,40 50,41 49,40 48,42 47,51 46,35 45,41 44,41 43,36 42,37 41,36 40,50 39,39 38,37 37,37 36,40 35,47 34,38 33,41 32,40 31,35 30,39 29,40 28,37 27,36 26,35 25,35 24,35 23,44 22,40 21,40 20,36 19,38 18,45 17,35 16,38 15,39 14,35 13,42 12,39 11,37 10,39 9,35 8,36 7,38 6,38 5,37 4,34 3,37 2,33 1,38 0,40" fill="#00e0ff" fill-opacity="0.22"/>
<polygon points="0,5 1,6 2,11 3,0 4,9 5,6 6,9 7,1 8,13 9,9 10,12 11,11 12,9 13,14 14,9 15,10 16,3 17,-2 18,13 19,11 20,7 21,3 22,12 23,12 24,14 25,10 26,14 27,14 28,11 29,14 30,3 31,13 32,11 33,10 34,14 35,14 36,10 37,7 38,12 39,12 40,14 41,11 42,14 43,14 44,14 45,13 46,12 47,4 48,11 49,12 50,11 51,12 52,12 53,4 54,13 55,14 56,14 57,13 58,11 59,14 60,15 61,7 62,15 63,16 64,14 65,14 66,13 67,-2 68,13 69,-2 70,12 71,15 72,14 73,12 74,14 75,13 76,11 77,13 78,16 79,12 80,12 81,13 82,15 82,43 81,36 80,35 79,39 78,36 77,38 76,38 75,37 74,39 73,39 72,36 71,37 70,38 69,36 68,34 67,39 66,35 65,52 64,40 63,34 62,40 61,36 60,43 59,50 58,36 57,36 56,49 55,34 54,38 53,35 52,47 51,34 50,36 49,33 48,36 47,46 46,34 45,38 44,37 43,46 42,37 41,37 40,34 39,43 38,38 37,37 36,33 35,44 34,41 33,34 32,46 31,34 30,46 29,37 28,48 27,36 26,38 25,36 24,32 23,46 22,33 21,37 20,35 19,35 18,34 17,35 16,42 15,35 14,34 13,36 12,34 11,36 10,37 9,32 8,33 7,45 6,34 5,32 4,36 3,39 2,34 1,33 0,35" fill="#ff40ff" fill-opacity="0.18"/>
<polygon points="0,16 1,16 2,16 3,6 4,10 5,16 6,17 7,12 8,17 9,16 10,7 11,17 12,19 13,15 14,15 15,17 16,6 17,18 18,7 19,18 20,16 21,19 22,9 23,13 24,20 25,20 26,6 27,17 28,17 29,20 30,16 31,19 32,19 33,16 34,16 35,20 36,18 37,19 38,14 39,7 40,20 41,19 42,8 43,20 44,20 45,17 46,16 47,18 48,19 49,18 50,19 51,19 52,14 53,19 54,17 55,20 56,9 57,20 58,15 59,16 60,16 61,17 62,16 63,17 64,20 65,19 66,9 67,19 68,16 69,17 70,19 71,18 72,17 73,21 74,20 75,17 76,12 77,20 78,13 79,18 80,17 81,10 82,18 82,50 81,37 80,37 79,51 78,36 77,40 76,51 75,40 74,36 73,52 72,37 71,39 70,40 69,37 68,36 67,37 66,48 65,40 64,40 63,37 62,49 61,43 60,39 59,37 58,45 57,35 56,38 55,36 54,39 53,38 52,36 51,35 50,43 49,42 48,37 47,37 46,36 45,36 44,38 43,36 42,37 41,47 40,39 39,35 38,38 37,36 36,37 35,49 34,35 33,37 32,39 31,37 30,38 29,37 28,38 27,41 26,34 25,36 24,42 23,35 22,37 21,38 20,36 19,37 18,38 17,34 16,34 15,37 14,46 13,37 12,36 11,35 10,46 9,37 8,35 7,36 6,37 5,36 4,37 3,37 2,35 1,43 0,37" fill="#20ff40" fill-opacity="0.12"/>
<polygon points="0,2 1,13 2,11 3,12 4,14 5,17 6,6 7,7 8,14 9,13 10,15 11,16 12,13 13,11 14,13 15,13 16,17 17,17 18,10 19,15 20,13 21,16 22,16 23,17 24,13 25,17 26,4 27,16 28,16 29,16 30,15 31,13 32,16 33,12 34,13 35,18 36,15 37,2 38,15 39,18 40,18 41,16 42,13 43,18 44,15 45,13 46,4 47,13 48,13 49,1 50,15 51,15 52,17 53,12 54,18 55,15 56,15 57,15 58,15 59,17 60,19 61,4 62,18 63,10 64,18 65,6 66,16 67,16 68,16 69,16 70,18 71,15 72,16 73,19 74,13 75,15 76,5 77,16 78,16 79,6 80,17 81,18 82,1 82,42 81,41 80,43 79,43 78,44 77,53 76,48 75,44 74,55 73,44 72,42 71,50 70,53 69,38 68,43 67,49 66,40 65,41 64,41 63,42 62,42 61,41 60,40 59,40 58,40 57,38 56,39 55,44 54,41 53,38 52,41 51,40 50,50 49,39 48,46 47,41 46,44 45,36 44,38 43,41 42,38 41,48 40,47 39,45 38,37 37,36 36,36 35,38 34,49 33,37 32,39 31,40 30,37 29,38 28,50 27,36 26,48 25,35 24,36 23,41 22,35 21,40 20,35 19,35 18,40 17,34 16,35 15,38 14,38 13,35 12,36 11,36 10,47 9,44 8,40 7,43 6,35 5,36 4,36 3,35 2,44 1,33 0,48" fill="#5050ff" fill-opacity="0.18"/>
<polyline points="0,21 1,10 2,28 3,17 4,30 5,19 6,22 7,20 8,44 9,9 10,21 11,37 12,28 13,35 14,23 15,28 16,22 17,33 18,39 19,31 20,31 21,20 22,24 23,25 24,20 25,24 26,28 27,25 28,35 29,29 30,39 31,30 32,42 33,33 34,23 35,21 36,26 37,22 38,19 39,32 40,15 41,13 42,33 43,23 44,22 45,23 46,45 47,38 48,27 49,26 50,22 51,29 52,33 53,31 54,17 55,30 56,44 57,32 58,26 59,36 60,25 61,28 62,24 63,33 64,29 65,13 66,25 67,25 68,24 69,29 70,16 71,33 72,25 73,30 74,33 75,37 76,17 77,37 78,27 79,29 80,26 81,20 82,27" fill="none" stroke="#00e0ff" stroke-opacity="0.34" stroke-width="0.7"/>
<polyline points="0,22 1,17 2,28 3,7 4,27 5,30 6,23 7,16 8,23 9,20 10,23 11,35 12,19 13,21 14,18 15,16 16,39 17,15 18,30 19,17 20,32 21,39 22,21 23,17 24,17 25,21 26,32 27,29 28,38 29,22 30,32 31,43 32,16 33,28 34,28 35,23 36,33 37,23 38,13 39,16 40,13 41,17 42,20 43,38 44,20 45,36 46,13 47,13 48,19 49,29 50,18 51,21 52,6 53,20 54,20 55,11 56,17 57,45 58,31 59,27 60,23 61,35 62,27 63,20 64,22 65,28 66,20 67,21 68,10 69,38 70,43 71,30 72,40 73,23 74,27 75,15 76,22 77,22 78,15 79,22 80,20 81,29 82,24" fill="none" stroke="#ff50ff" stroke-opacity="0.42" stroke-width="0.7"/>
<polyline points="0,26 1,29 2,17 3,20 4,29 5,37 6,23 7,35 8,32 9,39 10,26 11,31 12,38 13,29 14,21 15,27 16,29 17,22 18,21 19,23 20,20 21,35 22,23 23,25 24,29 25,24 26,29 27,27 28,31 29,29 30,23 31,32 32,20 33,35 34,26 35,24 36,30 37,15 38,33 39,35 40,40 41,26 42,25 43,28 44,24 45,22 46,35 47,20 48,28 49,40 50,28 51,15 52,34 53,20 54,28 55,28 56,28 57,36 58,22 59,38 60,22 61,23 62,25 63,24 64,28 65,27 66,18 67,31 68,35 69,21 70,21 71,32 72,25 73,30 74,32 75,20 76,43 77,31 78,22 79,33 80,30 81,20 82,36" fill="none" stroke="#30e050" stroke-opacity="0.28" stroke-width="0.7"/>
<polyline points="0,20 1,12 2,16 3,20 4,23 5,25 6,25 7,10 8,33 9,23 10,27 11,30 12,17 13,23 14,32 15,23 16,32 17,20 18,23 19,31 20,27 21,21 22,28 23,42 24,20 25,36 26,34 27,18 28,23 29,33 30,22 31,18 32,34 33,35 34,38 35,36 36,19 37,35 38,29 39,31 40,33 41,40 42,17 43,32 44,27 45,28 46,15 47,20 48,31 49,40 50,17 51,35 52,25 53,8 54,25 55,33 56,26 57,25 58,30 59,25 60,41 61,25 62,21 63,21 64,20 65,24 66,22 67,26 68,26 69,16 70,33 71,38 72,18 73,31 74,36 75,19 76,27 77,37 78,27 79,33 80,28 81,27 82,45" fill="none" stroke="#6868ff" stroke-opacity="0.45" stroke-width="0.7"/>
<polyline points="0,15 1,26 2,24 3,18 4,27 5,30 6,33 7,31 8,12 9,25 10,30 11,20 12,22 13,33 14,37 15,27 16,28 17,13 18,32 19,24 20,18 21,22 22,29 23,36 24,22 25,24 26,29 27,27 28,26 29,38 30,24 31,30 32,26 33,30 34,31 35,31 36,32 37,29 38,9 39,16 40,30 41,20 42,22 43,29 44,11 45,27 46,24 47,15 48,23 49,26 50,29 51,12 52,15 53,25 54,15 55,21 56,29 57,23 58,25 59,25 60,28 61,16 62,40 63,35 64,32 65,25 66,30 67,27 68,22 69,19 70,36 71,21 72,38 73,23 74,22 75,13 76,26 77,22 78,35 79,23 80,33 81,31 82,33" fill="none" stroke="#00e0ff" stroke-opacity="0.34" stroke-width="0.7"/>
<polyline points="0,13 1,21 2,5 3,22 4,27 5,25 6,12 7,19 8,13 9,35 10,18 11,19 12,20 13,27 14,35 15,16 16,19 17,21 18,-1 19,20 20,19 21,12 22,34 23,40 24,20 25,32 26,20 27,20 28,26 29,29 30,12 31,13 32,17 33,22 34,10 35,31 36,41 37,34 38,21 39,22 40,27 41,6 42,37 43,27 44,11 45,28 46,15 47,14 48,33 49,33 50,26 51,31 52,29 53,36 54,32 55,15 56,36 57,23 58,19 59,11 60,30 61,31 62,21 63,32 64,18 65,28 66,21 67,21 68,28 69,30 70,28 71,16 72,22 73,20 74,38 75,21 76,22 77,33 78,22 79,35 80,24 81,31 82,33" fill="none" stroke="#ff50ff" stroke-opacity="0.42" stroke-width="0.7"/>
<polyline points="0,28 1,29 2,25 3,31 4,33 5,29 6,31 7,28 8,28 9,20 10,24 11,26 12,28 13,21 14,23 15,30 16,26 17,25 18,25 19,28 20,30 21,31 22,19 23,24 24,29 25,24 26,9 27,28 28,35 29,27 30,23 31,31 32,21 33,24 34,29 35,26 36,23 37,24 38,32 39,31 40,40 41,24 42,22 43,33 44,25 45,21 46,27 47,26 48,36 49,31 50,37 51,22 52,36 53,29 54,24 55,30 56,27 57,35 58,25 59,30 60,42 61,29 62,29 63,10 64,44 65,19 66,34 67,22 68,18 69,32 70,29 71,34 72,25 73,22 74,25 75,21 76,36 77,31 78,25 79,19 80,33 81,33 82,28" fill="none" stroke="#30e050" stroke-opacity="0.28" stroke-width="0.7"/>
<polyline points="0,33 1,28 2,26 3,24 4,16 5,27 6,15 7,14 8,20 9,7 10,29 11,7 12,21 13,18 14,15 15,33 16,5 17,31 18,15 19,24 20,46 21,22 22,21 23,35 24,25 25,31 26,31 27,26 28,31 29,19 30,32 31,32 32,24 33,32 34,19 35,24 36,20 37,30 38,16 39,20 40,36 41,16 42,25 43,31 44,30 45,30 46,38 47,26 48,34 49,27 50,17 51,11 52,30 53,35 54,32 55,33 56,19 57,20 58,30 59,23 60,22 61,28 62,40 63,29 64,24 65,25 66,32 67,20 68,28 69,29 70,23 71,39 72,34 73,35 74,37 75,24 76,23 77,36 78,27 79,23 80,37 81,37 82,32" fill="none" stroke="#6868ff" stroke-opacity="0.45" stroke-width="0.7"/>
<polyline points="0,35 1,32 2,20 3,31 4,36 5,24 6,20 7,32 8,20 9,23 10,34 11,27 12,36 13,19 14,31 15,24 16,30 17,32 18,29 19,33 20,16 21,36 22,35 23,17 24,41 25,18 26,23 27,21 28,24 29,11 30,20 31,36 32,27 33,33 34,16 35,11 36,32 37,15 38,33 39,29 40,35 41,29 42,26 43,8 44,24 45,24 46,23 47,28 48,20 49,35 50,27 51,22 52,14 53,28 54,24 55,29 56,23 57,30 58,32 59,31 60,20 61,11 62,31 63,32 64,30 65,17 66,21 67,27 68,27 69,26 70,24 71,28 72,14 73,17 74,20 75,20 76,30 77,18 78,22 79,28 80,25 81,31 82,30" fill="none" stroke="#00e0ff" stroke-opacity="0.34" stroke-width="0.7"/>
<polyline points="0,28 1,23 2,22 3,30 4,18 5,8 6,25 7,34 8,21 9,22 10,28 11,17 12,27 13,21 14,31 15,20 16,37 17,2 18,20 19,20 20,27 21,20 22,25 23,20 24,29 25,31 26,23 27,26 28,37 29,30 30,23 31,20 32,37 33,28 34,21 35,33 36,7 37,33 38,35 39,24 40,30 41,14 42,20 43,13 44,25 45,25 46,19 47,28 48,23 49,36 50,17 51,25 52,31 53,28 54,22 55,23 56,28 57,20 58,34 59,29 60,28 61,44 62,19 63,15 64,28 65,34 66,37 67,19 68,21 69,30 70,31 71,27 72,28 73,37 74,31 75,17 76,35 77,31 78,24 79,19 80,17 81,34 82,19" fill="none" stroke="#ff50ff" stroke-opacity="0.42" stroke-width="0.7"/>
<polyline points="0,30 1,21 2,24 3,27 4,21 5,16 6,21 7,24 8,37 9,38 10,23 11,26 12,19 13,25 14,25 15,21 16,31 17,30 18,21 19,40 20,25 21,24 22,28 23,29 24,30 25,20 26,23 27,28 28,16 29,29 30,25 31,33 32,41 33,33 34,30 35,32 36,24 37,19 38,14 39,19 40,29 41,19 42,29 43,22 44,38 45,29 46,19 47,26 48,19 49,21 50,37 51,20 52,25 53,27 54,26 55,47 56,37 57,24 58,28 59,26 60,25 61,29 62,22 63,18 64,26 65,28 66,38 67,23 68,30 69,23 70,32 71,27 72,31 73,21 74,28 75,36 76,24 77,27 78,20 79,16 80,30 81,37 82,42" fill="none" stroke="#30e050" stroke-opacity="0.28" stroke-width="0.7"/>
<polyline points="0,23 1,21 2,22 3,23 4,16 5,37 6,29 7,18 8,26 9,12 10,32 11,27 12,28 13,34 14,28 15,28 16,24 17,26 18,28 19,18 20,28 21,28 22,28 23,28 24,32 25,24 26,23 27,12 28,18 29,25 30,32 31,19 32,30 33,23 34,27 35,20 36,14 37,31 38,40 39,21 40,25 41,31 42,16 43,25 44,22 45,26 46,27 47,23 48,29 49,27 50,32 51,27 52,33 53,23 54,26 55,36 56,16 57,23 58,16 59,31 60,21 61,19 62,24 63,36 64,30 65,31 66,30 67,41 68,43 69,35 70,27 71,33 72,32 73,26 74,29 75,11 76,20 77,26 78,31 79,22 80,8 81,30 82,15" fill="none" stroke="#6868ff" stroke-opacity="0.45" stroke-width="0.7"/>
<polyline points="0,21 1,24 2,16 3,33 4,27 5,22 6,20 7,44 8,26 9,25 10,22 11,38 12,17 13,27 14,21 15,26 16,25 17,24 18,21 19,24 20,33 21,30 22,22 23,29 24,13 25,16 26,40 27,19 28,17 29,36 30,28 31,9 32,27 33,34 34,21 35,17 36,46 37,30 38,26 39,24 40,21 41,22 42,21 43,26 44,29 45,42 46,26 47,19 48,39 49,23 50,23 51,20 52,31 53,25 54,36 55,26 56,36 57,11 58,44 59,50 60,26 61,16 62,22 63,17 64,33 65,19 66,29 67,23 68,16 69,26 70,31 71,38 72,33 73,20 74,39 75,30 76,41 77,40 78,26 79,27 80,14 81,35 82,37" fill="none" stroke="#00e0ff" stroke-opacity="0.34" stroke-width="0.7"/>
<polyline points="0,32 1,21 2,14 3,27 4,36 5,9 6,19 7,20 8,29 9,25 10,24 11,13 12,9 13,12 14,24 15,32 16,27 17,31 18,18 19,35 20,15 21,26 22,26 23,19 24,31 25,27 26,25 27,25 28,16 29,33 30,6 31,21 32,44 33,28 34,29 35,21 36,20 37,31 38,30 39,9 40,32 41,36 42,28 43,18 44,18 45,26 46,23 47,22 48,16 49,21 50,43 51,21 52,16 53,35 54,31 55,17 56,31 57,18 58,19 59,39 60,19 61,19 62,28 63,32 64,36 65,15 66,11 67,37 68,24 69,20 70,22 71,30 72,25 73,19 74,41 75,21 76,27 77,25 78,18 79,34 80,22 81,32 82,22" fill="none" stroke="#ff50ff" stroke-opacity="0.42" stroke-width="0.7"/>
<polyline points="0,35 1,35 2,19 3,22 4,24 5,38 6,17 7,28 8,17 9,24 10,24 11,32 12,25 13,30 14,23 15,28 16,15 17,33 18,26 19,21 20,17 21,21 22,18 23,14 24,39 25,25 26,50 27,30 28,27 29,22 30,25 31,34 32,23 33,30 34,30 35,32 36,27 37,12 38,26 39,28 40,29 41,35 42,23 43,25 44,38 45,15 46,18 47,25 48,17 49,9 50,29 51,30 52,25 53,32 54,21 55,35 56,28 57,34 58,17 59,29 60,31 61,26 62,23 63,25 64,30 65,34 66,38 67,31 68,26 69,23 70,23 71,25 72,33 73,14 74,26 75,39 76,37 77,31 78,40 79,42 80,37 81,39 82,34" fill="none" stroke="#30e050" stroke-opacity="0.28" stroke-width="0.7"/>
<polyline points="0,25 1,36 2,22 3,24 4,23 5,27 6,27 7,32 8,20 9,23 10,23 11,27 12,29 13,22 14,30 15,35 16,29 17,23 18,28 19,29 20,35 21,24 22,34 23,31 24,34 25,34 26,21 27,22 28,23 29,30 30,19 31,12 32,32 33,26 34,25 35,17 36,18 37,33 38,15 39,30 40,22 41,26 42,28 43,20 44,12 45,34 46,34 47,21 48,27 49,13 50,32 51,30 52,17 53,21 54,20 55,22 56,20 57,20 58,31 59,30 60,23 61,38 62,20 63,29 64,5 65,20 66,37 67,12 68,37 69,12 70,24 71,10 72,15 73,25 74,36 75,18 76,23 77,29 78,36 79,21 80,32 81,15 82,42" fill="none" stroke="#6868ff" stroke-opacity="0.45" stroke-width="0.7"/>
<polyline points="0,28 1,32 2,36 3,19 4,11 5,12 6,16 7,22 8,23 9,21 10,18 11,30 12,25 13,20 14,35 15,21 16,45 17,22 18,22 19,46 20,35 21,31 22,19 23,21 24,20 25,41 26,31 27,22 28,19 29,18 30,25 31,16 32,38 33,21 34,21 35,23 36,32 37,27 38,35 39,25 40,21 41,28 42,18 43,33 44,23 45,22 46,27 47,30 48,31 49,27 50,26 51,16 52,35 53,32 54,22 55,28 56,38 57,28 58,32 59,20 60,29 61,33 62,24 63,25 64,34 65,12 66,33 67,21 68,43 69,35 70,19 71,15 72,32 73,28 74,24 75,26 76,37 77,19 78,23 79,9 80,33 81,19 82,27" fill="none" stroke="#00e0ff" stroke-opacity="0.34" stroke-width="0.7"/>
<polyline points="0,18 1,26 2,23 3,27 4,22 5,35 6,31 7,12 8,28 9,24 10,21 11,14 12,20 13,33 14,20 15,21 16,11 17,19 18,32 19,26 20,30 21,20 22,29 23,18 24,21 25,20 26,29 27,26 28,20 29,30 30,19 31,30 32,21 33,16 34,21 35,34 36,26 37,30 38,19 39,23 40,28 41,47 42,19 43,18 44,20 45,24 46,23 47,20 48,34 49,20 50,18 51,17 52,24 53,13 54,21 55,24 56,28 57,20 58,23 59,18 60,2 61,18 62,10 63,33 64,30 65,37 66,25 67,29 68,14 69,26 70,29 71,27 72,18 73,34 74,33 75,17 76,26 77,32 78,30 79,24 80,20 81,31 82,27" fill="none" stroke="#ff50ff" stroke-opacity="0.42" stroke-width="0.7"/>
<polyline points="0,31 1,33 2,26 3,26 4,22 5,34 6,22 7,22 8,33 9,28 10,29 11,30 12,28 13,22 14,26 15,28 16,35 17,24 18,26 19,26 20,21 21,18 22,38 23,29 24,23 25,16 26,28 27,25 28,20 29,28 30,11 31,23 32,24 33,34 34,39 35,24 36,27 37,23 38,26 39,46 40,26 41,22 42,21 43,29 44,25 45,41 46,20 47,14 48,17 49,35 50,14 51,30 52,7 53,27 54,37 55,42 56,22 57,34 58,27 59,29 60,26 61,24 62,31 63,35 64,31 65,30 66,28 67,32 68,16 69,32 70,23 71,28 72,26 73,24 74,35 75,33 76,27 77,28 78,33 79,11 80,25 81,39 82,26" fill="none" stroke="#30e050" stroke-opacity="0.28" stroke-width="0.7"/>
<polyline points="0,28 1,24 2,30 3,18 4,30 5,27 6,22 7,21 8,14 9,17 10,32 11,24 12,26 13,40 14,20 15,26 16,30 17,26 18,16 19,36 20,25 21,40 22,12 23,24 24,32 25,29 26,22 27,20 28,27 29,24 30,20 31,34 32,31 33,16 34,29 35,32 36,24 37,28 38,19 39,40 40,32 41,26 42,32 43,21 44,32 45,7 46,26 47,22 48,39 49,25 50,22 51,26 52,34 53,33 54,36 55,36 56,12 57,34 58,30 59,36 60,29 61,18 62,15 63,11 64,35 65,29 66,29 67,31 68,27 69,38 70,39 71,26 72,27 73,33 74,29 75,29 76,37 77,33 78,41 79,26 80,30 81,27 82,14" fill="none" stroke="#6868ff" stroke-opacity="0.45" stroke-width="0.7"/>
<polyline points="0,21.9 1,24.0 2,23.3 3,22.0 4,25.7 5,23.0 6,22.3 7,20.4 8,21.8 9,25.4 10,21.5 11,22.0 12,23.0 13,25.1 14,23.6 15,22.9 16,19.7 17,23.1 18,20.7 19,20.7 20,22.6 21,24.3 22,24.1 23,24.5 24,22.3 25,24.3 26,19.8 27,25.2 28,26.2 29,20.5 30,20.6 31,23.7 32,23.3 33,23.2 34,22.5 35,22.7 36,23.7 37,26.1 38,24.4 39,23.2 40,20.9 41,24.9 42,23.8 43,22.2 44,25.9 45,24.0 46,23.0 47,21.3 48,23.0 49,27.9 50,19.4 51,22.6 52,25.7 53,22.5 54,21.2 55,29.0 56,24.2 57,22.8 58,25.2 59,25.4 60,21.2 61,20.3 62,26.5 63,24.2 64,21.7 65,21.6 66,25.4 67,24.2 68,25.9 69,27.4 70,24.8 71,22.7 72,26.2 73,22.5 74,24.6 75,25.2 76,24.4 77,23.4 78,27.1 79,26.3 80,22.5 81,25.0 82,25.8" fill="none" stroke="#e820e8" stroke-width="0.8" stroke-linejoin="round"/>
<polyline points="0,20.5 1,25.6 2,24.2 3,25.3 4,21.7 5,22.5 6,25.8 7,26.1 8,25.9 9,25.4 10,24.2 11,23.3 12,23.7 13,26.8 14,24.3 15,22.8 16,24.8 17,27.7 18,22.4 19,21.6 20,30.0 21,24.2 22,20.2 23,26.4 24,24.4 25,25.3 26,26.1 27,26.2 28,24.7 29,24.5 30,24.1 31,26.2 32,26.4 33,28.3 34,25.8 35,24.8 36,26.1 37,25.7 38,25.8 39,25.4 40,23.7 41,25.7 42,26.3 43,24.7 44,25.2 45,26.6 46,27.2 47,25.9 48,26.2 49,26.6 50,26.6 51,26.0 52,28.0 53,27.6 54,23.2 55,28.2 56,25.1 57,26.2 58,25.0 59,21.9 60,29.3 61,29.4 62,26.8 63,26.5 64,28.0 65,25.3 66,25.6 67,26.3 68,29.3 69,24.9 70,28.8 71,27.2 72,24.7 73,27.1 74,26.0 75,27.4 76,24.1 77,30.5 78,29.4 79,24.4 80,29.5 81,26.3 82,24.0" fill="none" stroke="#10e0f0" stroke-width="0.85" stroke-linejoin="round"/>
<polyline points="0,26.9 1,25.0 2,26.4 3,26.5 4,26.3 5,24.9 6,23.0 7,28.7 8,29.7 9,23.4 10,24.9 11,29.7 12,26.5 13,23.7 14,28.6 15,29.7 16,25.4 17,24.9 18,28.7 19,21.6 20,25.1 21,29.3 22,25.1 23,23.7 24,26.6 25,24.7 26,28.3 27,26.3 28,27.6 29,27.4 30,27.8 31,24.3 32,27.1 33,28.7 34,27.2 35,27.9 36,29.1 37,25.6 38,25.3 39,28.9 40,26.0 41,26.3 42,26.8 43,28.5 44,27.2 45,26.1 46,27.5 47,25.1 48,27.8 49,29.9 50,26.5 51,27.7 52,28.1 53,25.5 54,25.1 55,28.8 56,28.1 57,26.2 58,28.2 59,30.1 60,21.4 61,27.2 62,30.2 63,27.4 64,27.9 65,29.8 66,27.0 67,28.3 68,28.4 69,29.3 70,25.2 71,31.1 72,27.8 73,27.2 74,28.9 75,25.8 76,28.6 77,25.4 78,30.9 79,28.1 80,25.7 81,29.0 82,29.6" fill="none" stroke="#10d030" stroke-width="0.95" stroke-linejoin="round"/>
<polyline points="0,20.0 1,24.8 2,25.8 3,22.2 4,25.2 5,24.5 6,22.6 7,25.2 8,24.4 9,27.9 10,22.9 11,24.5 12,26.5 13,23.4 14,22.5 15,27.3 16,24.6 17,23.9 18,24.9 19,24.8 20,23.8 21,24.2 22,28.7 23,22.9 24,24.5 25,27.4 26,22.5 27,25.4 28,26.4 29,25.1 30,22.0 31,23.2 32,27.4 33,25.0 34,29.5 35,24.9 36,27.1 37,28.5 38,24.7 39,26.4 40,28.3 41,26.7 42,25.5 43,25.7 44,26.1 45,30.3 46,26.3 47,23.4 48,28.5 49,28.9 50,25.2 51,25.9 52,27.9 53,25.7 54,28.6 55,26.5 56,28.9 57,27.4 58,29.3 59,25.6 60,25.9 61,29.8 62,30.5 63,28.5 64,26.6 65,29.1 66,26.8 67,26.3 68,29.7 69,30.5 70,22.5 71,27.5 72,29.8 73,27.7 74,29.8 75,25.6 76,29.8 77,28.8 78,27.6 79,29.0 80,29.2 81,25.6 82,26.4" fill="none" stroke="#0808ff" stroke-width="1.0" stroke-linejoin="round"/>
</g>
<polyline points="30.1,193.4 31.2,228.6 32.3,206.1 33.5,197.7 34.6,194.9 35.7,214.5 36.8,190.6 38,192.7 39.1,204.7 40.2,200.5 41.3,201.9 42.4,199.1 43.6,197.7 44.7,183.6 45.8,206.1 46.9,207.5 48.1,203.3 49.2,204.7 50.3,208.9 51.4,222.9 52.6,221.5 53.7,218.7 54.8,207.5 55.9,204.7 57.1,211.7 58.2,201.9 59.3,206.1 60.4,221.5 61.6,208.9 62.7,204.7 63.8,208.9 64.9,215.9 66,204.7 67.2,210.3 68.3,206.1 69.4,208.9 70.5,214.5 71.7,221.5 72.8,215.9 73.6,210.3" fill="none" stroke="#000" stroke-width="1.0999999999999999" stroke-linejoin="round"/>
<polyline points="30.1,208.9 31.2,201.9 32.3,211.7 33.5,194.9 34.6,201.9 35.7,211.7 36.8,203.3 38,199.1 39.1,206.1 40.2,214.5 41.3,207.5 42.4,199.1 43.6,203.3 44.7,196.3 45.8,204.7 46.9,206.1 48.1,200.5 49.2,197.7 50.3,203.3 51.4,208.9 52.6,218.7 53.7,215.9 54.8,204.7 55.9,199.1 57.1,203.3 58.2,207.5 59.3,204.7 60.4,213.1 61.6,206.1 62.7,206.1 63.8,199.1 64.9,208.9 66,207.5 67.2,203.3 68.3,207.5 69.4,200.5 70.5,208.9 71.7,211.7 72.8,207.5 73.6,206.1" fill="none" stroke="#f00" stroke-width="0.95" stroke-linejoin="round"/>
</g>
<rect x="27.5" y="178.6" width="135.5" height="56.4" fill="none" stroke="#262626" stroke-width="0.9"/>
<path d="M27.5,235v-1.4M27.5,178.6v1.4M54.6,235v-1.4M54.6,178.6v1.4M81.7,235v-1.4M81.7,178.6v1.4M108.8,235v-1.4M108.8,178.6v1.4M135.9,235v-1.4M135.9,178.6v1.4M163,235v-1.4M163,178.6v1.4M27.5,180h1.4M163,180h-1.4M27.5,196.6h1.4M163,196.6h-1.4M27.5,213.2h1.4M163,213.2h-1.4M27.5,229.8h1.4M163,229.8h-1.4" stroke="#262626" stroke-width="0.9" fill="none"/>
<text x="27.5" y="244.6" text-anchor="middle" class="t">1975</text>
<text x="54.6" y="244.6" text-anchor="middle" class="t">2000</text>
<text x="81.7" y="244.6" text-anchor="middle" class="t">2025</text>
<text x="108.8" y="244.6" text-anchor="middle" class="t">2050</text>
<text x="135.9" y="244.6" text-anchor="middle" class="t">2075</text>
<text x="163" y="244.6" text-anchor="middle" class="t">2100</text>
<text x="25" y="183.3" text-anchor="end" class="t">240</text>
<text x="25" y="199.9" text-anchor="end" class="t">220</text>
<text x="25" y="216.5" text-anchor="end" class="t">200</text>
<text x="25" y="233.1" text-anchor="end" class="t">180</text>
<text x="31.8" y="176" class="ti">ID</text>
<text transform="translate(11.8,206.8) rotate(-90)" text-anchor="middle" class="yl">Days</text>
<clipPath id="c5"><rect x="206.2" y="178.6" width="135.6" height="56.4"/></clipPath>
<g clip-path="url(#c5)">
<g transform="translate(252.8,178.6) scale(1.0848,1)">
<polygon points="0,17 1,17 2,15 3,13 4,5 5,16 6,9 7,15 8,15 9,2 10,5 11,16 12,13 13,10 14,12 15,15 16,15 17,13 18,12 19,13 20,14 21,15 22,7 23,13 24,15 25,15 26,15 27,14 28,4 29,16 30,14 31,17 32,14 33,14 34,15 35,13 36,16 37,15 38,17 39,9 40,15 41,15 42,14 43,17 44,14 45,13 46,14 47,7 48,14 49,14 50,17 51,16 52,13 53,16 54,15 55,17 56,14 57,17 58,15 59,13 60,15 61,13 62,7 63,16 64,16 65,14 66,12 67,11 68,16 69,13 70,15 71,14 72,14 73,16 74,15 75,15 76,13 77,16 78,2 79,15 80,14 81,13 82,16 82,36 81,35 80,39 79,36 78,34 77,38 76,37 75,34 74,37 73,35 72,34 71,37 70,35 69,34 68,34 67,36 66,41 65,35 64,36 63,38 62,34 61,35 60,37 59,35 58,33 57,35 56,36 55,35 54,36 53,51 52,39 51,34 50,36 49,36 48,36 47,34 46,33 45,38 44,33 43,36 42,49 41,36 40,35 39,37 38,40 37,33 36,34 35,37 34,38 33,34 32,33 31,38 30,47 29,35 28,35 27,36 26,36 25,51 24,37 23,37 22,34 21,35 20,35 19,34 18,34 17,34 16,49 15,38 14,33 13,37 12,37 11,36 10,38 9,37 8,49 7,34 6,38 5,33 4,33 3,37 2,40 1,37 0,34" fill="#00e0ff" fill-opacity="0.22"/>
<polygon points="0,12 1,14 2,11 3,12 4,12 5,13 6,11 7,11 8,15 9,12 10,14 11,8 12,14 13,13 14,11 15,9 16,11 17,13 18,15 19,10 20,13 21,13 22,10 23,10 24,11 25,7 26,12 27,8 28,-0 29,14 30,11 31,14 32,14 33,11 34,0 35,13 36,12 37,14 38,4 39,15 40,10 41,11 42,13 43,14 44,2 45,11 46,11 47,14 48,5 49,14 50,11 51,11 52,3 53,12 54,10 55,10 56,4 57,-2 58,11 59,13 60,11 61,14 62,12 63,9 64,13 65,1 66,15 67,1 68,14 69,11 70,12 71,14 72,11 73,14 74,3 75,10 76,15 77,15 78,15 79,10 80,10 81,4 82,14 82,30 81,34 80,30 79,33 78,31 77,34 76,32 75,30 74,34 73,30 72,32 71,42 70,40 69,30 68,30 67,32 66,37 65,39 64,37 63,30 62,32 61,32 60,33 59,32 58,34 57,32 56,33 55,31 54,40 53,33 52,32 51,31 50,42 49,31 48,37 47,33 46,30 45,41 44,33 43,35 42,31 41,31 40,41 39,32 38,32 37,34 36,33 35,43 34,34 33,31 32,31 31,30 30,33 29,35 28,34 27,30 26,33 25,32 24,34 23,31 22,31 21,35 20,40 19,35 18,34 17,32 16,33 15,33 14,33 13,41 12,31 11,32 10,43 9,33 8,43 7,44 6,31 5,31 4,31 3,33 2,35 1,31 0,42" fill="#ff40ff" fill-opacity="0.18"/>
<polygon points="0,9 1,19 2,17 3,8 4,15 5,13 6,14 7,8 8,13 9,19 10,18 11,11 12,16 13,17 14,9 15,13 16,15 17,15 18,10 19,12 20,17 21,16 22,18 23,16 24,17 25,17 26,16 27,18 28,18 29,18 30,17 31,17 32,19 33,17 34,19 35,11 36,17 37,16 38,5 39,16 40,10 41,8 42,10 43,18 44,17 45,16 46,18 47,7 48,18 49,17 50,18 51,16 52,16 53,19 54,15 55,11 56,16 57,9 58,15 59,19 60,16 61,18 62,18 63,10 64,19 65,7 66,16 67,9 68,18 69,16 70,16 71,19 72,18 73,16 74,16 75,17 76,18 77,14 78,7 79,16 80,15 81,8 82,17 82,39 81,36 80,47 79,33 78,39 77,34 76,33 75,34 74,33 73,33 72,36 71,32 70,35 69,32 68,32 67,33 66,45 65,33 64,34 63,34 62,35 61,34 60,34 59,33 58,34 57,34 56,39 55,33 54,41 53,34 52,33 51,35 50,33 49,35 48,32 47,34 46,33 45,35 44,36 43,34 42,35 41,35 40,32 39,34 38,38 37,35 36,37 35,35 34,35 33,36 32,47 31,34 30,35 29,36 28,33 27,34 26,46 25,35 24,34 23,34 22,32 21,34 20,34 19,35 18,34 17,34 16,35 15,34 14,34 13,36 12,36 11,36 10,35 9,34 8,37 7,40 6,45 5,43 4,33 3,35 2,36 1,32 0,43" fill="#20ff40" fill-opacity="0.12"/>
<polygon points="0,1 1,13 2,11 3,15 4,11 5,11 6,13 7,11 8,14 9,11 10,2 11,1 12,11 13,13 14,12 15,6 16,12 17,3 18,2 19,11 20,10 21,7 22,13 23,10 24,10 25,2 26,13 27,13 28,0 29,13 30,14 31,12 32,11 33,11 34,11 35,12 36,13 37,8 38,11 39,10 40,13 41,12 42,9 43,10 44,13 45,10 46,4 47,12 48,12 49,9 50,12 51,13 52,10 53,4 54,10 55,13 56,7 57,1 58,10 59,11 60,11 61,12 62,9 63,12 64,9 65,-1 66,11 67,11 68,10 69,11 70,9 71,0 72,11 73,9 74,9 75,8 76,3 77,8 78,10 79,11 80,10 81,12 82,1 82,29 81,27 80,38 79,28 78,27 77,30 76,30 75,30 74,29 73,31 72,33 71,31 70,33 69,29 68,30 67,30 66,41 65,30 64,29 63,31 62,31 61,29 60,43 59,38 58,30 57,29 56,32 55,32 54,29 53,30 52,29 51,28 50,32 49,32 48,30 47,32 46,28 45,28 44,30 43,29 42,30 41,32 40,38 39,32 38,38 37,32 36,30 35,33 34,32 33,29 32,31 31,32 30,33 29,32 28,32 27,37 26,36 25,30 24,30 23,31 22,31 21,33 20,32 19,32 18,29 17,29 16,29 15,32 14,33 13,30 12,33 11,33 10,34 9,30 8,44 7,33 6,34 5,32 4,30 3,32 2,42 1,31 0,44" fill="#5050ff" fill-opacity="0.18"/>
<polyline points="0,28 1,21 2,35 3,27 4,34 5,19 6,23 7,30 8,28 9,25 10,13 11,18 12,35 13,25 14,33 15,28 16,28 17,23 18,26 19,23 20,30 21,38 22,22 23,22 24,11 25,24 26,22 27,16 28,29 29,24 30,30 31,26 32,19 33,16 34,24 35,24 36,20 37,26 38,29 39,15 40,26 41,36 42,10 43,28 44,22 45,14 46,21 47,27 48,26 49,29 50,19 51,30 52,23 53,23 54,23 55,24 56,26 57,17 58,36 59,28 60,28 61,15 62,25 63,27 64,18 65,34 66,22 67,28 68,19 69,27 70,17 71,36 72,19 73,17 74,28 75,21 76,35 77,22 78,36 79,28 80,38 81,20 82,21" fill="none" stroke="#00e0ff" stroke-opacity="0.34" stroke-width="0.7"/>
<polyline points="0,27 1,30 2,33 3,25 4,21 5,23 6,27 7,19 8,28 9,24 10,29 11,24 12,18 13,16 14,24 15,25 16,20 17,16 18,26 19,7 20,19 21,19 22,25 23,17 24,15 25,35 26,28 27,31 28,28 29,12 30,21 31,25 32,25 33,27 34,14 35,18 36,33 37,29 38,9 39,27 40,7 41,20 42,24 43,25 44,20 45,27 46,27 47,11 48,15 49,22 50,32 51,29 52,28 53,27 54,20 55,17 56,30 57,17 58,16 59,30 60,27 61,25 62,19 63,21 64,22 65,20 66,13 67,31 68,21 69,18 70,35 71,32 72,32 73,33 74,21 75,15 76,30 77,14 78,23 79,21 80,18 81,21 82,7" fill="none" stroke="#ff50ff" stroke-opacity="0.42" stroke-width="0.7"/>
<polyline points="0,25 1,17 2,18 3,31 4,27 5,36 6,32 7,22 8,19 9,29 10,35 11,14 12,28 13,24 14,19 15,26 16,31 17,30 18,31 19,24 20,27 21,28 22,21 23,16 24,22 25,19 26,27 27,25 28,19 29,27 30,13 31,37 32,27 33,14 34,26 35,22 36,29 37,31 38,15 39,25 40,25 41,29 42,35 43,17 44,34 45,26 46,29 47,23 48,26 49,37 50,35 51,28 52,21 53,18 54,26 55,27 56,26 57,25 58,32 59,23 60,29 61,25 62,22 63,28 64,30 65,22 66,21 67,27 68,16 69,28 70,27 71,22 72,29 73,29 74,25 75,29 76,46 77,28 78,22 79,24 80,16 81,32 82,17" fill="none" stroke="#30e050" stroke-opacity="0.28" stroke-width="0.7"/>
<polyline points="0,20 1,34 2,30 3,18 4,32 5,14 6,29 7,27 8,28 9,30 10,18 11,22 12,17 13,22 14,13 15,31 16,20 17,22 18,20 19,28 20,27 21,13 22,24 23,21 24,36 25,18 26,16 27,28 28,19 29,21 30,19 31,24 32,11 33,26 34,13 35,25 36,24 37,13 38,25 39,19 40,12 41,23 42,18 43,29 44,23 45,12 46,12 47,29 48,17 49,19 50,14 51,25 52,20 53,15 54,14 55,27 56,22 57,23 58,13 59,44 60,19 61,14 62,15 63,28 64,17 65,22 66,22 67,20 68,19 69,18 70,13 71,18 72,22 73,13 74,11 75,32 76,10 77,18 78,14 79,16 80,9 81,17 82,22" fill="none" stroke="#6868ff" stroke-opacity="0.45" stroke-width="0.7"/>
<polyline points="0,15 1,25 2,30 3,30 4,22 5,23 6,22 7,22 8,22 9,21 10,22 11,18 12,22 13,19 14,29 15,15 16,21 17,16 18,24 19,30 20,36 21,12 22,31 23,31 24,29 25,28 26,22 27,33 28,18 29,9 30,33 31,29 32,29 33,24 34,34 35,25 36,33 37,25 38,29 39,27 40,18 41,20 42,20 43,25 44,30 45,21 46,22 47,29 48,33 49,27 50,26 51,38 52,28 53,25 54,24 55,20 56,29 57,35 58,21 59,18 60,30 61,25 62,22 63,24 64,22 65,25 66,25 67,29 68,37 69,19 70,37 71,18 72,26 73,23 74,26 75,29 76,18 77,21 78,21 79,23 80,26 81,37 82,26" fill="none" stroke="#00e0ff" stroke-opacity="0.34" stroke-width="0.7"/>
<polyline points="0,17 1,33 2,22 3,15 4,27 5,24 6,33 7,29 8,13 9,23 10,21 11,20 12,12 13,19 14,16 15,21 16,28 17,16 18,23 19,26 20,24 21,20 22,29 23,25 24,26 25,35 26,10 27,23 28,25 29,28 30,20 31,21 32,27 33,19 34,28 35,26 36,24 37,24 38,30 39,22 40,25 41,33 42,22 43,21 44,26 45,11 46,29 47,9 48,22 49,17 50,20 51,10 52,24 53,27 54,20 55,21 56,26 57,14 58,19 59,19 60,13 61,16 62,37 63,24 64,21 65,21 66,19 67,22 68,22 69,20 70,19 71,27 72,18 73,25 74,26 75,16 76,20 77,25 78,25 79,17 80,22 81,12 82,27" fill="none" stroke="#ff50ff" stroke-opacity="0.42" stroke-width="0.7"/>
<polyline points="0,18 1,16 2,31 3,13 4,27 5,26 6,23 7,28 8,21 9,36 10,26 11,27 12,27 13,20 14,31 15,25 16,21 17,25 18,16 19,31 20,23 21,39 22,31 23,25 24,23 25,33 26,24 27,19 28,24 29,22 30,34 31,24 32,30 33,30 34,29 35,33 36,29 37,17 38,39 39,20 40,28 41,18 42,31 43,28 44,43 45,28 46,26 47,30 48,22 49,30 50,31 51,22 52,28 53,20 54,29 55,25 56,22 57,25 58,8 59,25 60,31 61,31 62,22 63,28 64,19 65,29 66,33 67,27 68,25 69,29 70,24 71,21 72,25 73,16 74,17 75,26 76,14 77,30 78,22 79,24 80,11 81,21 82,29" fill="none" stroke="#30e050" stroke-opacity="0.28" stroke-width="0.7"/>
<polyline points="0,34 1,22 2,10 3,24 4,30 5,25 6,11 7,21 8,15 9,10 10,16 11,11 12,14 13,19 14,10 15,13 16,26 17,37 18,25 19,26 20,33 21,20 22,17 23,12 24,29 25,17 26,13 27,30 28,11 29,15 30,28 31,27 32,13 33,28 34,18 35,27 36,17 37,17 38,14 39,26 40,24 41,22 42,13 43,19 44,29 45,19 46,14 47,26 48,20 49,21 50,27 51,31 52,20 53,26 54,13 55,23 56,22 57,16 58,31 59,16 60,14 61,20 62,21 63,26 64,9 65,23 66,27 67,16 68,12 69,25 70,15 71,11 72,31 73,4 74,12 75,15 76,17 77,28 78,25 79,22 80,14 81,16 82,11" fill="none" stroke="#6868ff" stroke-opacity="0.45" stroke-width="0.7"/>
<polyline points="0,21 1,28 2,29 3,22 4,31 5,17 6,45 7,25 8,22 9,20 10,31 11,20 12,29 13,22 14,23 15,23 16,25 17,28 18,20 19,17 20,28 21,21 22,21 23,13 24,23 25,26 26,25 27,27 28,18 29,18 30,22 31,17 32,34 33,37 34,19 35,19 36,30 37,21 38,25 39,30 40,32 41,27 42,18 43,18 44,30 45,31 46,23 47,18 48,38 49,10 50,27 51,24 52,23 53,21 54,19 55,32 56,24 57,24 58,29 59,17 60,36 61,26 62,19 63,25 64,21 65,27 66,29 67,22 68,21 69,13 70,33 71,21 72,23 73,16 74,26 75,25 76,27 77,26 78,33 79,28 80,33 81,13 82,18" fill="none" stroke="#00e0ff" stroke-opacity="0.34" stroke-width="0.7"/>
<polyline points="0,24 1,20 2,30 3,27 4,32 5,16 6,14 7,18 8,28 9,13 10,17 11,35 12,5 13,30 14,21 15,26 16,22 17,23 18,30 19,36 20,28 21,23 22,29 23,19 24,24 25,24 26,16 27,21 28,21 29,17 30,31 31,17 32,37 33,20 34,16 35,16 36,20 37,27 38,29 39,13 40,18 41,21 42,33 43,18 44,19 45,13 46,19 47,24 48,14 49,24 50,19 51,24 52,21 53,17 54,18 55,14 56,19 57,29 58,16 59,8 60,29 61,25 62,27 63,18 64,32 65,29 66,29 67,8 68,39 69,32 70,15 71,22 72,24 73,37 74,16 75,9 76,25 77,28 78,15 79,28 80,26 81,27 82,30" fill="none" stroke="#ff50ff" stroke-opacity="0.42" stroke-width="0.7"/>
<polyline points="0,25 1,32 2,22 3,36 4,24 5,26 6,21 7,19 8,33 9,30 10,28 11,37 12,38 13,29 14,24 15,19 16,25 17,23 18,39 19,26 20,29 21,23 22,35 23,20 24,30 25,32 26,30 27,21 28,25 29,25 30,22 31,19 32,32 33,22 34,26 35,34 36,9 37,23 38,25 39,25 40,28 41,26 42,33 43,30 44,22 45,18 46,32 47,17 48,29 49,28 50,32 51,33 52,20 53,23 54,28 55,22 56,27 57,21 58,21 59,30 60,25 61,26 62,26 63,35 64,21 65,28 66,22 67,23 68,28 69,30 70,25 71,18 72,32 73,24 74,26 75,18 76,24 77,34 78,23 79,17 80,24 81,27 82,33" fill="none" stroke="#30e050" stroke-opacity="0.28" stroke-width="0.7"/>
<polyline points="0,28 1,20 2,20 3,10 4,34 5,18 6,23 7,31 8,30 9,25 10,24 11,14 12,24 13,24 14,15 15,18 16,27 17,19 18,22 19,25 20,24 21,19 22,20 23,11 24,15 25,22 26,37 27,27 28,12 29,12 30,23 31,21 32,21 33,20 34,14 35,21 36,20 37,19 38,28 39,15 40,27 41,12 42,35 43,25 44,16 45,23 46,17 47,20 48,25 49,31 50,21 51,19 52,33 53,35 54,25 55,17 56,17 57,16 58,21 59,20 60,6 61,21 62,11 63,16 64,27 65,22 66,22 67,23 68,32 69,18 70,21 71,23 72,16 73,24 74,19 75,20 76,17 77,36 78,12 79,16 80,26 81,14 82,23" fill="none" stroke="#6868ff" stroke-opacity="0.45" stroke-width="0.7"/>
<polyline points="0,14 1,19 2,32 3,23 4,18 5,31 6,23 7,31 8,36 9,21 10,13 11,27 12,18 13,29 14,28 15,18 16,25 17,23 18,13 19,34 20,25 21,33 22,14 23,31 24,27 25,26 26,29 27,18 28,17 29,16 30,29 31,17 32,24 33,26 34,21 35,16 36,22 37,38 38,22 39,22 40,36 41,23 42,18 43,27 44,29 45,21 46,19 47,26 48,13 49,21 50,19 51,36 52,24 53,19 54,33 55,35 56,28 57,27 58,30 59,24 60,17 61,18 62,30 63,26 64,22 65,23 66,19 67,26 68,18 69,24 70,26 71,31 72,27 73,24 74,17 75,33 76,38 77,14 78,20 79,30 80,18 81,27 82,23" fill="none" stroke="#00e0ff" stroke-opacity="0.34" stroke-width="0.7"/>
<polyline points="0,13 1,13 2,33 3,16 4,30 5,21 6,27 7,14 8,19 9,23 10,30 11,28 12,27 13,21 14,32 15,16 16,22 17,10 18,28 19,32 20,25 21,17 22,25 23,20 24,12 25,24 26,19 27,18 28,8 29,28 30,15 31,35 32,18 33,11 34,17 35,16 36,21 37,33 38,20 39,24 40,25 41,13 42,36 43,15 44,23 45,15 46,24 47,19 48,31 49,13 50,29 51,23 52,20 53,15 54,28 55,20 56,20 57,19 58,22 59,13 60,14 61,28 62,35 63,17 64,19 65,18 66,30 67,26 68,22 69,27 70,27 71,23 72,21 73,23 74,34 75,26 76,28 77,34 78,26 79,22 80,19 81,28 82,23" fill="none" stroke="#ff50ff" stroke-opacity="0.42" stroke-width="0.7"/>
<polyline points="0,29 1,30 2,27 3,30 4,24 5,19 6,23 7,23 8,15 9,29 10,31 11,19 12,19 13,18 14,25 15,23 16,30 17,31 18,23 19,30 20,22 21,25 22,26 23,16 24,27 25,30 26,29 27,21 28,20 29,30 30,29 31,34 32,29 33,26 34,32 35,37 36,32 37,26 38,30 39,24 40,27 41,27 42,29 43,16 44,24 45,16 46,28 47,20 48,18 49,26 50,22 51,24 52,21 53,30 54,17 55,31 56,30 57,23 58,23 59,17 60,18 61,24 62,25 63,36 64,23 65,11 66,39 67,13 68,24 69,32 70,18 71,31 72,23 73,25 74,30 75,24 76,32 77,19 78,24 79,19 80,15 81,26 82,17" fill="none" stroke="#30e050" stroke-opacity="0.28" stroke-width="0.7"/>
<polyline points="0,14 1,30 2,25 3,21 4,27 5,26 6,37 7,17 8,15 9,14 10,23 11,19 12,20 13,18 14,18 15,28 16,21 17,30 18,13 19,17 20,23 21,26 22,20 23,20 24,22 25,27 26,24 27,13 28,19 29,17 30,13 31,31 32,24 33,18 34,13 35,18 36,20 37,23 38,19 39,34 40,16 41,37 42,19 43,23 44,32 45,19 46,27 47,32 48,29 49,24 50,15 51,17 52,22 53,21 54,16 55,11 56,27 57,30 58,14 59,17 60,13 61,30 62,20 63,21 64,20 65,5 66,5 67,10 68,17 69,12 70,14 71,31 72,9 73,23 74,14 75,13 76,31 77,24 78,29 79,20 80,23 81,19 82,11" fill="none" stroke="#6868ff" stroke-opacity="0.45" stroke-width="0.7"/>
<polyline points="0,31 1,22 2,24 3,20 4,28 5,22 6,37 7,17 8,16 9,39 10,38 11,24 12,23 13,21 14,15 15,30 16,30 17,29 18,18 19,23 20,25 21,23 22,40 23,33 24,38 25,26 26,34 27,36 28,20 29,32 30,25 31,21 32,25 33,26 34,32 35,25 36,41 37,6 38,31 39,30 40,35 41,22 42,23 43,23 44,23 45,39 46,31 47,20 48,29 49,18 50,26 51,24 52,26 53,10 54,21 55,30 56,28 57,25 58,17 59,18 60,11 61,12 62,11 63,22 64,37 65,26 66,19 67,19 68,21 69,22 70,23 71,23 72,32 73,21 74,23 75,22 76,16 77,31 78,27 79,11 80,28 81,34 82,21" fill="none" stroke="#00e0ff" stroke-opacity="0.34" stroke-width="0.7"/>
<polyline points="0,21 1,37 2,29 3,19 4,16 5,20 6,48 7,25 8,20 9,20 10,21 11,-0 12,34 13,24 14,24 15,20 16,20 17,27 18,18 19,30 20,14 21,6 22,30 23,31 24,13 25,29 26,20 27,24 28,20 29,28 30,26 31,21 32,14 33,22 34,17 35,17 36,27 37,30 38,31 39,28 40,20 41,17 42,32 43,25 44,28 45,33 46,20 47,27 48,16 49,10 50,24 51,33 52,20 53,21 54,14 55,20 56,30 57,11 58,20 59,23 60,18 61,19 62,35 63,22 64,40 65,12 66,10 67,26 68,11 69,28 70,21 71,21 72,30 73,25 74,23 75,35 76,28 77,22 78,16 79,10 80,19 81,26 82,15" fill="none" stroke="#ff50ff" stroke-opacity="0.42" stroke-width="0.7"/>
<polyline points="0,25 1,17 2,35 3,14 4,21 5,35 6,25 7,24 8,40 9,27 10,23 11,17 12,24 13,33 14,24 15,24 16,17 17,26 18,43 19,32 20,19 21,20 22,14 23,17 24,29 25,24 26,24 27,30 28,22 29,29 30,32 31,24 32,20 33,38 34,28 35,24 36,26 37,34 38,34 39,21 40,26 41,23 42,17 43,33 44,30 45,23 46,21 47,22 48,27 49,19 50,19 51,23 52,31 53,25 54,23 55,32 56,24 57,33 58,25 59,24 60,27 61,24 62,20 63,31 64,24 65,21 66,23 67,16 68,37 69,27 70,26 71,14 72,20 73,23 74,26 75,18 76,34 77,35 78,28 79,29 80,17 81,28 82,18" fill="none" stroke="#30e050" stroke-opacity="0.28" stroke-width="0.7"/>
<polyline points="0,31 1,20 2,23 3,15 4,15 5,20 6,19 7,25 8,23 9,8 10,25 11,22 12,25 13,28 14,20 15,21 16,15 17,21 18,36 19,29 20,27 21,16 22,26 23,19 24,30 25,23 26,21 27,34 28,21 29,19 30,22 31,17 32,16 33,20 34,18 35,22 36,33 37,27 38,18 39,25 40,24 41,21 42,38 43,19 44,11 45,33 46,16 47,32 48,26 49,26 50,25 51,18 52,24 53,25 54,7 55,20 56,19 57,11 58,17 59,19 60,11 61,26 62,10 63,20 64,31 65,29 66,17 67,25 68,19 69,14 70,27 71,16 72,20 73,19 74,27 75,6 76,26 77,20 78,33 79,22 80,27 81,22 82,32" fill="none" stroke="#6868ff" stroke-opacity="0.45" stroke-width="0.7"/>
<polyline points="0,23.7 1,21.9 2,21.4 3,25.6 4,23.9 5,21.1 6,22.6 7,23.9 8,22.8 9,20.1 10,18.3 11,26.5 12,22.6 13,21.9 14,22.0 15,20.2 16,25.0 17,22.6 18,21.5 19,23.5 20,25.2 21,23.7 22,22.8 23,24.3 24,22.2 25,25.2 26,22.6 27,20.1 28,23.0 29,24.0 30,21.3 31,25.0 32,24.0 33,18.5 34,21.9 35,22.6 36,22.6 37,22.1 38,22.3 39,25.4 40,22.0 41,21.0 42,22.1 43,26.5 44,23.7 45,20.4 46,21.3 47,22.2 48,24.2 49,23.1 50,21.5 51,22.1 52,25.3 53,19.9 54,24.4 55,20.5 56,25.0 57,23.3 58,18.7 59,18.4 60,23.2 61,24.5 62,19.8 63,25.0 64,24.2 65,22.0 66,20.7 67,22.3 68,22.6 69,22.5 70,22.6 71,21.6 72,19.8 73,22.0 74,20.6 75,23.1 76,21.3 77,22.8 78,21.8 79,20.4 80,23.2 81,23.4 82,20.0" fill="none" stroke="#e820e8" stroke-width="0.8" stroke-linejoin="round"/>
<polyline points="0,24.8 1,22.5 2,24.5 3,25.0 4,24.3 5,23.0 6,20.8 7,26.3 8,24.8 9,22.1 10,22.4 11,22.3 12,26.0 13,27.7 14,20.6 15,24.6 16,26.8 17,20.2 18,22.8 19,24.4 20,25.1 21,23.4 22,24.9 23,25.4 24,24.1 25,21.1 26,25.4 27,23.4 28,23.0 29,24.8 30,22.8 31,21.0 32,23.5 33,22.3 34,25.7 35,23.4 36,22.4 37,26.0 38,25.1 39,22.9 40,23.7 41,23.6 42,21.1 43,27.2 44,26.5 45,21.2 46,24.2 47,22.9 48,22.3 49,24.7 50,25.0 51,25.9 52,25.6 53,22.3 54,23.6 55,25.6 56,22.7 57,22.5 58,24.0 59,24.2 60,20.4 61,26.4 62,25.5 63,20.6 64,26.3 65,20.6 66,24.7 67,25.9 68,25.3 69,21.3 70,25.5 71,25.5 72,23.1 73,23.3 74,22.2 75,25.3 76,25.2 77,23.8 78,24.0 79,22.5 80,24.5 81,24.8 82,20.6" fill="none" stroke="#10e0f0" stroke-width="0.85" stroke-linejoin="round"/>
<polyline points="0,22.8 1,23.9 2,26.9 3,28.2 4,27.0 5,27.0 6,23.5 7,25.0 8,25.9 9,27.2 10,24.9 11,26.7 12,27.7 13,24.0 14,22.8 15,24.5 16,22.0 17,26.4 18,22.9 19,23.9 20,27.9 21,25.2 22,26.4 23,28.5 24,24.4 25,26.2 26,27.9 27,25.3 28,28.5 29,22.4 30,25.2 31,25.5 32,24.4 33,26.1 34,22.4 35,26.7 36,27.1 37,23.0 38,27.3 39,23.8 40,26.3 41,26.6 42,23.8 43,27.5 44,22.5 45,26.0 46,28.1 47,23.0 48,26.0 49,23.7 50,25.2 51,24.9 52,28.7 53,26.7 54,24.8 55,26.2 56,27.2 57,26.9 58,22.4 59,25.5 60,25.5 61,23.6 62,25.4 63,27.3 64,24.0 65,27.2 66,22.6 67,28.8 68,23.5 69,25.0 70,25.3 71,24.6 72,23.8 73,26.9 74,25.3 75,24.1 76,26.9 77,25.6 78,25.4 79,24.8 80,27.1 81,29.3 82,23.2" fill="none" stroke="#10d030" stroke-width="0.95" stroke-linejoin="round"/>
<polyline points="0,22.5 1,19.3 2,21.3 3,24.3 4,21.3 5,21.3 6,22.1 7,20.4 8,21.4 9,22.1 10,24.6 11,20.0 12,18.0 13,23.6 14,20.8 15,18.2 16,25.7 17,19.5 18,20.5 19,22.9 20,21.9 21,21.5 22,19.1 23,25.4 24,20.0 25,20.3 26,21.0 27,19.7 28,23.6 29,20.9 30,19.1 31,21.7 32,22.0 33,20.7 34,19.9 35,21.5 36,23.1 37,16.1 38,19.5 39,22.3 40,18.4 41,19.8 42,22.8 43,18.5 44,20.8 45,20.3 46,15.7 47,22.2 48,19.8 49,21.9 50,20.8 51,20.2 52,18.4 53,16.6 54,21.2 55,21.7 56,19.5 57,19.2 58,18.2 59,19.1 60,19.9 61,20.5 62,20.3 63,19.5 64,19.2 65,19.9 66,17.1 67,22.3 68,20.5 69,18.0 70,21.1 71,18.1 72,19.5 73,16.8 74,21.1 75,16.4 76,20.7 77,21.3 78,19.0 79,20.4 80,18.2 81,18.5 82,17.8" fill="none" stroke="#0808ff" stroke-width="1.0" stroke-linejoin="round"/>
</g>
<polyline points="209.1,210.3 210.2,225.8 211.3,218.7 212.5,207.5 213.6,196.3 214.7,203.3 215.8,206.1 217,201.9 218.1,199.1 219.2,194.9 220,200.5 220.9,197.7 222,206.1 223.1,201.9 224.3,196.3 225.4,208.9 226.5,204.7 227.6,207.5 228.8,203.3 229.9,211.7 231,222.9 232.1,224.3 233.2,215.9 234.4,206.1 235.5,202.6 236.6,204.7 237.7,203.3 238.9,210.3 239.7,220.1 240.8,206.1 242,204.7 243.1,207.5 244.2,214.5 245.3,211.7 246.4,207.5 247.6,210.3 248.7,211.7 249.8,215.9 250.9,220.1 252.6,210.3" fill="none" stroke="#000" stroke-width="1.0999999999999999" stroke-linejoin="round"/>
<polyline points="209.1,211.7 210.2,208.9 211.3,211.7 212.5,220.1 213.6,211.7 214.7,204.7 215.8,210.3 217,213.1 218.1,208.9 219.2,211.7 220,206.1 221.2,210.3 222.3,213.1 223.4,203.3 224.3,194.9 225.4,206.1 226.5,210.3 227.6,208.9 228.8,207.5 229.9,200.5 231,213.1 232.1,217.3 233.2,214.5 234.4,200.5 235.5,199.1 236.6,206.1 237.7,204.7 238.9,201.9 240,208.9 241.1,206.1 242.2,207.5 243.4,213.1 244.5,208.9 245.6,203.3 246.7,199.1 247.9,206.1 249,210.3 250.1,213.1 251.2,213.1 252.6,208.9" fill="none" stroke="#f00" stroke-width="0.95" stroke-linejoin="round"/>
</g>
<rect x="206.2" y="178.6" width="135.6" height="56.4" fill="none" stroke="#262626" stroke-width="0.9"/>
<path d="M206.2,235v-1.4M206.2,178.6v1.4M233.3,235v-1.4M233.3,178.6v1.4M260.4,235v-1.4M260.4,178.6v1.4M287.6,235v-1.4M287.6,178.6v1.4M314.7,235v-1.4M314.7,178.6v1.4M341.8,235v-1.4M341.8,178.6v1.4M206.2,186.6h1.4M341.8,186.6h-1.4M206.2,199.6h1.4M341.8,199.6h-1.4M206.2,212.6h1.4M341.8,212.6h-1.4M206.2,225.7h1.4M341.8,225.7h-1.4" stroke="#262626" stroke-width="0.9" fill="none"/>
<text x="206.2" y="244.6" text-anchor="middle" class="t">1975</text>
<text x="233.3" y="244.6" text-anchor="middle" class="t">2000</text>
<text x="260.4" y="244.6" text-anchor="middle" class="t">2025</text>
<text x="287.6" y="244.6" text-anchor="middle" class="t">2050</text>
<text x="314.7" y="244.6" text-anchor="middle" class="t">2075</text>
<text x="341.8" y="244.6" text-anchor="middle" class="t">2100</text>
<text x="203.7" y="189.9" text-anchor="end" class="t">200</text>
<text x="203.7" y="202.9" text-anchor="end" class="t">180</text>
<text x="203.7" y="215.9" text-anchor="end" class="t">160</text>
<text x="203.7" y="229" text-anchor="end" class="t">140</text>
<text x="210.5" y="176" class="ti">CID</text>
<text transform="translate(190.6,206.8) rotate(-90)" text-anchor="middle" class="yl">Days</text>
<clipPath id="c6"><rect x="27.5" y="302.2" width="135.5" height="58"/></clipPath>
<g clip-path="url(#c6)">
<g transform="translate(74.1,302.2) scale(1.0840,1)">
<polygon points="0,26 1,20 2,27 3,28 4,26 5,23 6,27 7,28 8,27 9,28 10,26 11,28 12,28 13,27 14,28 15,28 16,26 17,27 18,27 19,26 20,19 21,27 22,27 23,27 24,27 25,28 26,28 27,22 28,27 29,28 30,28 31,28 32,29 33,26 34,28 35,28 36,28 37,29 38,26 39,29 40,25 41,27 42,28 43,27 44,28 45,27 46,28 47,29 48,27 49,25 50,28 51,27 52,29 53,27 54,26 55,28 56,28 57,24 58,21 59,26 60,28 61,29 62,27 63,29 64,27 65,28 66,21 67,28 68,27 69,27 70,26 71,27 72,27 73,27 74,26 75,29 76,27 77,28 78,23 79,28 80,27 81,27 82,26 82,47 81,44 80,39 79,39 78,39 77,40 76,39 75,41 74,41 73,41 72,41 71,44 70,45 69,39 68,40 67,41 66,39 65,39 64,41 63,40 62,41 61,44 60,43 59,46 58,40 57,41 56,40 55,39 54,41 53,49 52,43 51,42 50,38 49,40 48,41 47,41 46,40 45,39 44,42 43,44 42,41 41,40 40,38 39,44 38,42 37,40 36,38 35,45 34,39 33,40 32,38 31,41 30,39 29,42 28,44 27,41 26,40 25,46 24,47 23,39 22,47 21,43 20,40 19,40 18,39 17,38 16,41 15,40 14,43 13,38 12,42 11,41 10,38 9,41 8,48 7,39 6,39 5,39 4,41 3,41 2,41 1,39 0,38" fill="#00e0ff" fill-opacity="0.22"/>
<polygon points="0,27 1,28 2,19 3,28 4,27 5,27 6,27 7,28 8,28 9,21 10,27 11,27 12,22 13,26 14,27 15,26 16,28 17,27 18,25 19,20 20,25 21,26 22,26 23,27 24,25 25,27 26,25 27,26 28,27 29,25 30,25 31,25 32,27 33,26 34,28 35,22 36,27 37,26 38,25 39,25 40,25 41,22 42,24 43,26 44,27 45,25 46,26 47,26 48,24 49,24 50,26 51,25 52,25 53,25 54,24 55,25 56,25 57,24 58,21 59,24 60,24 61,25 62,24 63,23 64,26 65,24 66,25 67,25 68,26 69,24 70,23 71,19 72,23 73,27 74,16 75,26 76,25 77,18 78,22 79,25 80,23 81,24 82,20 82,39 81,40 80,45 79,38 78,47 77,45 76,40 75,39 74,40 73,42 72,39 71,43 70,41 69,38 68,39 67,39 66,37 65,41 64,39 63,37 62,38 61,43 60,38 59,38 58,38 57,44 56,39 55,38 54,42 53,39 52,42 51,44 50,46 49,38 48,39 47,39 46,39 45,40 44,38 43,39 42,39 41,38 40,40 39,42 38,46 37,38 36,39 35,40 34,38 33,40 32,40 31,39 30,38 29,40 28,42 27,43 26,43 25,41 24,40 23,39 22,46 21,38 20,40 19,40 18,38 17,39 16,39 15,41 14,39 13,38 12,38 11,41 10,38 9,46 8,38 7,38 6,40 5,44 4,40 3,40 2,40 1,38 0,40" fill="#ff40ff" fill-opacity="0.18"/>
<polygon points="0,26 1,28 2,26 3,27 4,27 5,22 6,27 7,27 8,25 9,27 10,28 11,28 12,28 13,26 14,22 15,24 16,22 17,27 18,26 19,28 20,27 21,24 22,26 23,27 24,26 25,27 26,27 27,27 28,26 29,27 30,27 31,24 32,24 33,28 34,26 35,26 36,27 37,27 38,28 39,25 40,26 41,25 42,27 43,26 44,26 45,26 46,25 47,26 48,26 49,25 50,25 51,28 52,26 53,25 54,25 55,26 56,25 57,27 58,27 59,26 60,25 61,24 62,26 63,26 64,20 65,26 66,26 67,25 68,26 69,23 70,26 71,26 72,26 73,24 74,27 75,20 76,20 77,26 78,26 79,26 80,21 81,26 82,20 82,41 81,43 80,37 79,38 78,38 77,44 76,36 75,38 74,38 73,43 72,36 71,37 70,37 69,37 68,44 67,38 66,37 65,46 64,36 63,40 62,36 61,37 60,38 59,37 58,37 57,38 56,38 55,38 54,37 53,39 52,39 51,37 50,39 49,38 48,37 47,37 46,46 45,37 44,39 43,38 42,41 41,37 40,40 39,38 38,37 37,39 36,39 35,40 34,38 33,38 32,38 31,39 30,37 29,38 28,37 27,38 26,42 25,39 24,37 23,40 22,37 21,41 20,43 19,42 18,37 17,40 16,47 15,43 14,38 13,40 12,38 11,46 10,40 9,38 8,42 7,39 6,41 5,39 4,48 3,40 2,38 1,39 0,39" fill="#20ff40" fill-opacity="0.12"/>
<polygon points="0,17 1,26 2,25 3,22 4,19 5,24 6,24 7,25 8,25 9,22 10,21 11,24 12,25 13,24 14,23 15,24 16,25 17,22 18,22 19,22 20,21 21,22 22,24 23,23 24,21 25,14 26,21 27,24 28,17 29,15 30,20 31,13 32,22 33,23 34,22 35,21 36,14 37,23 38,21 39,23 40,19 41,21 42,20 43,20 44,18 45,21 46,20 47,20 48,13 49,18 50,17 51,21 52,21 53,19 54,15 55,19 56,19 57,7 58,21 59,12 60,15 61,17 62,19 63,18 64,17 65,20 66,18 67,20 68,16 69,3 70,15 71,17 72,15 73,16 74,18 75,14 76,18 77,19 78,13 79,14 80,13 81,10 82,6 82,34 81,35 80,39 79,33 78,37 77,35 76,43 75,34 74,36 73,36 72,42 71,33 70,36 69,34 68,41 67,36 66,41 65,35 64,34 63,34 62,41 61,36 60,35 59,38 58,34 57,37 56,42 55,40 54,36 53,36 52,37 51,35 50,35 49,36 48,38 47,37 46,36 45,36 44,42 43,37 42,44 41,37 40,36 39,35 38,44 37,37 36,36 35,37 34,35 33,37 32,36 31,38 30,35 29,36 28,41 27,37 26,37 25,38 24,38 23,41 22,36 21,37 20,39 19,43 18,39 17,39 16,36 15,36 14,38 13,46 12,40 11,39 10,45 9,38 8,39 7,38 6,37 5,39 4,46 3,38 2,39 1,39 0,46" fill="#5050ff" fill-opacity="0.18"/>
<polyline points="0,34 1,32 2,37 3,36 4,35 5,34 6,30 7,29 8,29 9,31 10,32 11,34 12,37 13,27 14,41 15,50 16,33 17,36 18,30 19,34 20,28 21,33 22,26 23,39 24,30 25,42 26,34 27,27 28,42 29,41 30,30 31,38 32,33 33,33 34,32 35,27 36,31 37,31 38,33 39,36 40,34 41,36 42,26 43,27 44,40 45,34 46,34 47,28 48,30 49,33 50,44 51,31 52,31 53,35 54,32 55,33 56,28 57,41 58,40 59,35 60,33 61,27 62,33 63,41 64,40 65,35 66,29 67,25 68,33 69,33 70,31 71,31 72,33 73,37 74,31 75,33 76,32 77,28 78,39 79,32 80,37 81,32 82,28" fill="none" stroke="#00e0ff" stroke-opacity="0.34" stroke-width="0.7"/>
<polyline points="0,36 1,28 2,34 3,39 4,29 5,34 6,31 7,37 8,40 9,29 10,28 11,30 12,28 13,33 14,34 15,29 16,40 17,33 18,30 19,45 20,37 21,28 22,37 23,34 24,33 25,35 26,28 27,40 28,26 29,36 30,38 31,37 32,38 33,27 34,41 35,34 36,36 37,36 38,32 39,29 40,39 41,35 42,35 43,35 44,27 45,32 46,25 47,38 48,25 49,31 50,36 51,34 52,32 53,30 54,35 55,30 56,30 57,24 58,37 59,30 60,39 61,36 62,33 63,30 64,32 65,26 66,30 67,21 68,34 69,29 70,34 71,35 72,32 73,34 74,38 75,34 76,39 77,30 78,36 79,28 80,41 81,26 82,26" fill="none" stroke="#ff50ff" stroke-opacity="0.42" stroke-width="0.7"/>
<polyline points="0,34 1,30 2,36 3,36 4,26 5,28 6,39 7,43 8,33 9,37 10,32 11,35 12,38 13,34 14,32 15,31 16,31 17,33 18,41 19,30 20,34 21,35 22,33 23,34 24,37 25,27 26,31 27,36 28,36 29,39 30,31 31,35 32,30 33,32 34,30 35,23 36,32 37,29 38,31 39,36 40,35 41,37 42,32 43,27 44,26 45,30 46,31 47,32 48,35 49,31 50,35 51,29 52,36 53,32 54,28 55,33 56,33 57,32 58,29 59,38 60,29 61,38 62,34 63,38 64,31 65,28 66,28 67,30 68,32 69,32 70,36 71,33 72,29 73,28 74,34 75,33 76,36 77,33 78,34 79,36 80,33 81,29 82,33" fill="none" stroke="#30e050" stroke-opacity="0.28" stroke-width="0.7"/>
<polyline points="0,35 1,33 2,35 3,34 4,25 5,36 6,32 7,29 8,31 9,35 10,35 11,24 12,30 13,30 14,27 15,35 16,33 17,33 18,28 19,32 20,38 21,23 22,38 23,24 24,29 25,33 26,26 27,28 28,40 29,34 30,23 31,33 32,33 33,17 34,34 35,35 36,31 37,32 38,24 39,25 40,36 41,35 42,33 43,35 44,32 45,33 46,31 47,35 48,30 49,30 50,32 51,27 52,28 53,20 54,22 55,36 56,37 57,26 58,27 59,14 60,26 61,30 62,21 63,25 64,18 65,28 66,33 67,30 68,21 69,32 70,27 71,23 72,27 73,15 74,16 75,23 76,35 77,23 78,23 79,24 80,38 81,27 82,21" fill="none" stroke="#6868ff" stroke-opacity="0.45" stroke-width="0.7"/>
<polyline points="0,27 1,35 2,37 3,25 4,34 5,30 6,32 7,31 8,36 9,30 10,30 11,25 12,32 13,35 14,31 15,25 16,41 17,39 18,31 19,41 20,30 21,33 22,40 23,29 24,32 25,33 26,30 27,38 28,34 29,36 30,34 31,33 32,31 33,36 34,35 35,31 36,31 37,30 38,34 39,30 40,31 41,38 42,40 43,39 44,39 45,32 46,36 47,33 48,30 49,31 50,32 51,34 52,37 53,28 54,31 55,34 56,38 57,30 58,32 59,35 60,33 61,32 62,34 63,34 64,31 65,32 66,41 67,40 68,35 69,33 70,34 71,32 72,37 73,33 74,29 75,35 76,34 77,30 78,35 79,32 80,27 81,31 82,31" fill="none" stroke="#00e0ff" stroke-opacity="0.34" stroke-width="0.7"/>
<polyline points="0,29 1,38 2,31 3,37 4,35 5,36 6,26 7,26 8,32 9,32 10,34 11,26 12,31 13,31 14,29 15,27 16,37 17,38 18,31 19,38 20,32 21,33 22,39 23,26 24,36 25,22 26,29 27,36 28,39 29,41 30,40 31,34 32,34 33,42 34,33 35,28 36,33 37,26 38,26 39,32 40,30 41,22 42,31 43,28 44,36 45,35 46,34 47,25 48,37 49,32 50,36 51,34 52,26 53,37 54,32 55,28 56,35 57,33 58,35 59,34 60,33 61,29 62,35 63,39 64,28 65,31 66,35 67,27 68,31 69,31 70,23 71,36 72,35 73,30 74,32 75,32 76,43 77,34 78,42 79,32 80,26 81,30 82,33" fill="none" stroke="#ff50ff" stroke-opacity="0.42" stroke-width="0.7"/>
<polyline points="0,30 1,34 2,31 3,33 4,35 5,31 6,37 7,33 8,34 9,33 10,38 11,36 12,43 13,34 14,39 15,26 16,36 17,41 18,37 19,41 20,35 21,37 22,27 23,39 24,33 25,31 26,34 27,29 28,31 29,33 30,31 31,40 32,36 33,26 34,36 35,35 36,23 37,27 38,32 39,23 40,27 41,37 42,33 43,30 44,36 45,28 46,39 47,32 48,32 49,24 50,39 51,32 52,33 53,31 54,23 55,29 56,33 57,28 58,26 59,32 60,38 61,31 62,32 63,23 64,34 65,24 66,33 67,26 68,27 69,37 70,33 71,37 72,34 73,33 74,34 75,31 76,32 77,28 78,33 79,35 80,27 81,32 82,38" fill="none" stroke="#30e050" stroke-opacity="0.28" stroke-width="0.7"/>
<polyline points="0,29 1,39 2,27 3,27 4,26 5,44 6,30 7,32 8,33 9,28 10,40 11,25 12,33 13,25 14,34 15,35 16,29 17,28 18,37 19,26 20,32 21,29 22,24 23,41 24,27 25,31 26,32 27,38 28,40 29,28 30,24 31,35 32,25 33,19 34,38 35,42 36,28 37,24 38,28 39,36 40,32 41,22 42,32 43,31 44,34 45,29 46,30 47,20 48,30 49,32 50,26 51,28 52,28 53,34 54,30 55,35 56,23 57,26 58,31 59,19 60,28 61,19 62,24 63,26 64,22 65,17 66,19 67,29 68,24 69,24 70,20 71,32 72,29 73,29 74,17 75,28 76,15 77,36 78,28 79,29 80,13 81,26 82,18" fill="none" stroke="#6868ff" stroke-opacity="0.45" stroke-width="0.7"/>
<polyline points="0,39 1,28 2,40 3,39 4,36 5,30 6,36 7,38 8,31 9,41 10,37 11,33 12,35 13,28 14,31 15,44 16,39 17,39 18,29 19,26 20,34 21,30 22,34 23,32 24,26 25,35 26,43 27,36 28,34 29,30 30,36 31,41 32,31 33,41 34,41 35,28 36,30 37,25 38,34 39,33 40,33 41,34 42,30 43,40 44,30 45,26 46,34 47,38 48,32 49,32 50,29 51,30 52,35 53,35 54,26 55,36 56,36 57,25 58,28 59,32 60,32 61,34 62,32 63,33 64,37 65,29 66,41 67,26 68,34 69,33 70,32 71,26 72,36 73,31 74,33 75,35 76,36 77,32 78,33 79,32 80,31 81,30 82,31" fill="none" stroke="#00e0ff" stroke-opacity="0.34" stroke-width="0.7"/>
<polyline points="0,29 1,27 2,35 3,42 4,28 5,32 6,35 7,35 8,37 9,28 10,39 11,36 12,39 13,26 14,36 15,38 16,36 17,27 18,33 19,35 20,41 21,37 22,33 23,36 24,33 25,30 26,36 27,37 28,34 29,36 30,32 31,38 32,39 33,31 34,31 35,38 36,34 37,38 38,31 39,31 40,33 41,21 42,30 43,28 44,33 45,34 46,30 47,29 48,36 49,34 50,29 51,29 52,36 53,41 54,33 55,33 56,31 57,29 58,36 59,35 60,21 61,32 62,36 63,32 64,21 65,25 66,29 67,34 68,38 69,29 70,36 71,31 72,29 73,33 74,37 75,31 76,28 77,38 78,29 79,33 80,33 81,33 82,35" fill="none" stroke="#ff50ff" stroke-opacity="0.42" stroke-width="0.7"/>
<polyline points="0,27 1,33 2,29 3,30 4,31 5,32 6,29 7,31 8,28 9,32 10,36 11,34 12,25 13,32 14,30 15,33 16,32 17,24 18,31 19,32 20,36 21,34 22,31 23,27 24,37 25,38 26,39 27,30 28,30 29,33 30,34 31,32 32,32 33,26 34,34 35,26 36,32 37,32 38,32 39,30 40,31 41,31 42,30 43,26 44,26 45,33 46,32 47,27 48,32 49,31 50,36 51,29 52,35 53,33 54,28 55,26 56,33 57,36 58,30 59,29 60,30 61,27 62,37 63,31 64,36 65,37 66,31 67,29 68,40 69,33 70,37 71,26 72,33 73,31 74,36 75,36 76,32 77,35 78,29 79,30 80,29 81,33 82,31" fill="none" stroke="#30e050" stroke-opacity="0.28" stroke-width="0.7"/>
<polyline points="0,25 1,36 2,34 3,27 4,30 5,34 6,36 7,32 8,36 9,37 10,25 11,25 12,27 13,20 14,31 15,37 16,33 17,27 18,31 19,38 20,22 21,25 22,40 23,29 24,33 25,25 26,34 27,24 28,37 29,30 30,32 31,37 32,35 33,31 34,28 35,33 36,19 37,32 38,35 39,29 40,23 41,25 42,28 43,22 44,24 45,30 46,32 47,16 48,37 49,29 50,42 51,37 52,28 53,33 54,24 55,28 56,22 57,25 58,20 59,28 60,41 61,21 62,30 63,22 64,22 65,17 66,25 67,31 68,30 69,27 70,34 71,25 72,28 73,31 74,29 75,28 76,26 77,22 78,29 79,20 80,31 81,22 82,24" fill="none" stroke="#6868ff" stroke-opacity="0.45" stroke-width="0.7"/>
<polyline points="0,30 1,31 2,31 3,39 4,40 5,28 6,34 7,36 8,34 9,30 10,31 11,38 12,33 13,38 14,35 15,30 16,34 17,31 18,40 19,36 20,34 21,32 22,39 23,35 24,28 25,31 26,31 27,32 28,39 29,39 30,34 31,41 32,41 33,27 34,33 35,29 36,24 37,40 38,34 39,34 40,27 41,28 42,37 43,38 44,40 45,29 46,45 47,38 48,31 49,29 50,31 51,32 52,31 53,28 54,36 55,33 56,30 57,30 58,29 59,33 60,32 61,33 62,36 63,32 64,30 65,33 66,34 67,27 68,43 69,35 70,27 71,33 72,33 73,37 74,35 75,40 76,28 77,47 78,27 79,27 80,33 81,39 82,28" fill="none" stroke="#00e0ff" stroke-opacity="0.34" stroke-width="0.7"/>
<polyline points="0,33 1,28 2,32 3,32 4,22 5,30 6,29 7,39 8,30 9,31 10,31 11,33 12,29 13,34 14,34 15,32 16,35 17,28 18,26 19,33 20,29 21,38 22,33 23,33 24,33 25,31 26,44 27,35 28,38 29,36 30,25 31,33 32,33 33,35 34,32 35,31 36,28 37,31 38,32 39,35 40,37 41,25 42,29 43,32 44,33 45,22 46,34 47,40 48,35 49,29 50,31 51,32 52,39 53,36 54,36 55,23 56,27 57,29 58,27 59,33 60,32 61,30 62,32 63,38 64,35 65,35 66,39 67,34 68,35 69,41 70,37 71,37 72,40 73,36 74,36 75,41 76,33 77,33 78,25 79,38 80,28 81,33 82,32" fill="none" stroke="#ff50ff" stroke-opacity="0.42" stroke-width="0.7"/>
<polyline points="0,39 1,36 2,31 3,35 4,30 5,30 6,35 7,34 8,34 9,26 10,34 11,38 12,31 13,28 14,35 15,31 16,34 17,31 18,35 19,30 20,37 21,35 22,40 23,35 24,31 25,36 26,29 27,28 28,31 29,33 30,28 31,26 32,32 33,31 34,31 35,28 36,36 37,32 38,38 39,35 40,31 41,31 42,36 43,38 44,33 45,26 46,34 47,29 48,28 49,30 50,34 51,37 52,27 53,29 54,33 55,32 56,32 57,29 58,30 59,33 60,31 61,33 62,36 63,34 64,30 65,29 66,32 67,33 68,33 69,28 70,25 71,30 72,34 73,33 74,35 75,30 76,27 77,31 78,34 79,33 80,31 81,34 82,28" fill="none" stroke="#30e050" stroke-opacity="0.28" stroke-width="0.7"/>
<polyline points="0,29 1,32 2,27 3,30 4,31 5,35 6,31 7,39 8,34 9,23 10,33 11,30 12,30 13,31 14,29 15,43 16,27 17,29 18,29 19,35 20,21 21,27 22,19 23,31 24,26 25,23 26,29 27,37 28,35 29,21 30,36 31,27 32,22 33,25 34,14 35,30 36,25 37,30 38,36 39,16 40,28 41,32 42,29 43,33 44,23 45,27 46,19 47,26 48,30 49,17 50,25 51,32 52,20 53,32 54,26 55,32 56,23 57,30 58,21 59,21 60,34 61,25 62,29 63,31 64,30 65,25 66,29 67,28 68,14 69,16 70,25 71,30 72,33 73,28 74,28 75,17 76,21 77,32 78,27 79,29 80,30 81,29 82,26" fill="none" stroke="#6868ff" stroke-opacity="0.45" stroke-width="0.7"/>
<polyline points="0,36 1,33 2,32 3,37 4,35 5,30 6,30 7,26 8,26 9,32 10,39 11,28 12,35 13,30 14,32 15,39 16,31 17,36 18,37 19,31 20,41 21,34 22,36 23,37 24,31 25,32 26,35 27,29 28,33 29,32 30,35 31,27 32,29 33,23 34,39 35,35 36,31 37,33 38,37 39,37 40,36 41,29 42,27 43,33 44,39 45,43 46,31 47,38 48,34 49,29 50,33 51,32 52,30 53,41 54,22 55,37 56,28 57,32 58,31 59,32 60,29 61,28 62,29 63,32 64,31 65,33 66,28 67,36 68,38 69,35 70,37 71,35 72,31 73,31 74,34 75,24 76,41 77,34 78,35 79,39 80,41 81,39 82,36" fill="none" stroke="#00e0ff" stroke-opacity="0.34" stroke-width="0.7"/>
<polyline points="0,24 1,30 2,30 3,30 4,28 5,33 6,25 7,31 8,32 9,31 10,32 11,36 12,35 13,31 14,34 15,35 16,32 17,36 18,32 19,41 20,30 21,25 22,30 23,27 24,34 25,23 26,30 27,29 28,31 29,32 30,29 31,32 32,31 33,36 34,31 35,22 36,34 37,21 38,28 39,31 40,32 41,39 42,25 43,26 44,24 45,38 46,26 47,35 48,35 49,33 50,33 51,31 52,38 53,35 54,25 55,34 56,28 57,31 58,34 59,31 60,35 61,26 62,36 63,31 64,21 65,28 66,35 67,34 68,30 69,42 70,32 71,29 72,29 73,40 74,31 75,40 76,31 77,32 78,37 79,34 80,28 81,31 82,31" fill="none" stroke="#ff50ff" stroke-opacity="0.42" stroke-width="0.7"/>
<polyline points="0,35 1,34 2,27 3,33 4,26 5,29 6,26 7,34 8,33 9,34 10,36 11,29 12,26 13,30 14,30 15,41 16,35 17,39 18,31 19,34 20,29 21,33 22,26 23,32 24,44 25,38 26,34 27,36 28,33 29,28 30,34 31,33 32,32 33,35 34,32 35,27 36,25 37,29 38,39 39,34 40,27 41,34 42,30 43,34 44,32 45,37 46,29 47,35 48,39 49,35 50,34 51,32 52,36 53,36 54,33 55,38 56,29 57,35 58,34 59,30 60,31 61,30 62,34 63,29 64,28 65,33 66,30 67,33 68,30 69,33 70,39 71,28 72,31 73,33 74,30 75,28 76,29 77,34 78,34 79,33 80,33 81,28 82,33" fill="none" stroke="#30e050" stroke-opacity="0.28" stroke-width="0.7"/>
<polyline points="0,28 1,29 2,26 3,40 4,31 5,34 6,29 7,34 8,29 9,23 10,33 11,36 12,24 13,28 14,35 15,34 16,31 17,30 18,33 19,35 20,30 21,35 22,25 23,19 24,26 25,29 26,31 27,31 28,22 29,20 30,28 31,28 32,35 33,29 34,30 35,35 36,27 37,29 38,24 39,27 40,34 41,30 42,32 43,36 44,27 45,24 46,28 47,23 48,22 49,29 50,31 51,28 52,33 53,29 54,26 55,23 56,26 57,26 58,31 59,21 60,25 61,22 62,22 63,33 64,29 65,31 66,35 67,35 68,26 69,23 70,37 71,34 72,38 73,19 74,30 75,21 76,33 77,17 78,25 79,30 80,16 81,33 82,32" fill="none" stroke="#6868ff" stroke-opacity="0.45" stroke-width="0.7"/>
<polyline points="0,33.7 1,32.7 2,32.2 3,32.3 4,35.4 5,30.7 6,32.0 7,34.7 8,34.9 9,31.4 10,33.7 11,32.2 12,34.1 13,33.2 14,31.9 15,33.4 16,31.5 17,31.3 18,32.5 19,34.4 20,31.7 21,30.8 22,33.6 23,33.9 24,31.4 25,33.6 26,31.9 27,31.1 28,35.2 29,32.5 30,31.7 31,34.3 32,35.4 33,32.1 34,32.5 35,34.2 36,34.1 37,30.5 38,31.1 39,33.3 40,34.7 41,30.5 42,32.7 43,33.3 44,33.3 45,30.4 46,33.8 47,31.9 48,33.7 49,33.0 50,35.4 51,32.0 52,30.3 53,31.8 54,30.3 55,34.0 56,33.1 57,32.3 58,32.4 59,33.5 60,28.9 61,32.7 62,31.9 63,30.5 64,34.0 65,31.9 66,30.3 67,32.1 68,31.5 69,33.0 70,31.5 71,33.0 72,32.5 73,31.6 74,33.2 75,33.1 76,29.1 77,29.5 78,32.7 79,32.8 80,32.3 81,31.2 82,32.0" fill="none" stroke="#e820e8" stroke-width="0.8" stroke-linejoin="round"/>
<polyline points="0,34.8 1,30.9 2,33.1 3,34.4 4,34.5 5,32.5 6,32.0 7,35.4 8,33.2 9,33.8 10,30.2 11,34.9 12,32.2 13,31.9 14,31.8 15,33.7 16,33.9 17,32.5 18,33.0 19,32.3 20,32.8 21,33.3 22,33.9 23,33.5 24,30.6 25,36.0 26,33.2 27,31.1 28,35.6 29,33.9 30,31.1 31,36.3 32,33.3 33,30.5 34,34.3 35,32.0 36,32.6 37,34.5 38,32.2 39,33.7 40,32.6 41,31.6 42,34.7 43,33.0 44,31.4 45,34.1 46,32.9 47,33.1 48,33.3 49,31.7 50,32.0 51,34.0 52,30.7 53,34.0 54,34.3 55,34.4 56,33.8 57,31.8 58,31.3 59,33.9 60,35.0 61,33.2 62,29.9 63,33.2 64,34.2 65,33.2 66,31.3 67,32.7 68,30.4 69,34.7 70,33.6 71,31.3 72,32.3 73,32.1 74,33.2 75,32.5 76,34.3 77,31.7 78,31.1 79,32.1 80,34.0 81,32.5 82,31.5" fill="none" stroke="#10e0f0" stroke-width="0.85" stroke-linejoin="round"/>
<polyline points="0,33.9 1,33.1 2,33.7 3,32.0 4,31.7 5,32.7 6,32.4 7,33.9 8,32.9 9,32.9 10,31.3 11,32.4 12,33.7 13,33.4 14,30.9 15,33.3 16,31.4 17,33.6 18,34.2 19,33.9 20,33.5 21,29.8 22,28.3 23,36.2 24,33.5 25,32.7 26,30.3 27,32.5 28,35.0 29,29.4 30,32.6 31,35.0 32,31.2 33,32.4 34,32.7 35,32.8 36,32.0 37,31.5 38,31.5 39,34.4 40,31.9 41,32.2 42,32.2 43,31.3 44,33.3 45,33.0 46,29.8 47,31.3 48,34.0 49,30.8 50,31.2 51,30.9 52,32.7 53,33.8 54,30.7 55,31.9 56,33.8 57,30.6 58,32.9 59,31.7 60,34.8 61,30.8 62,29.6 63,32.9 64,31.1 65,32.4 66,30.4 67,30.3 68,30.8 69,32.0 70,32.6 71,31.8 72,32.2 73,32.0 74,30.1 75,30.7 76,33.9 77,31.1 78,29.7 79,33.5 80,30.7 81,31.0 82,31.7" fill="none" stroke="#10d030" stroke-width="0.95" stroke-linejoin="round"/>
<polyline points="0,33.8 1,32.7 2,28.5 3,34.4 4,31.9 5,29.7 6,32.7 7,29.7 8,30.0 9,32.1 10,34.2 11,29.7 12,29.7 13,31.7 14,29.7 15,33.4 16,30.3 17,29.0 18,31.7 19,30.1 20,29.8 21,30.4 22,32.0 23,29.6 24,31.3 25,30.6 26,28.5 27,29.5 28,32.2 29,31.6 30,29.1 31,28.9 32,28.3 33,30.1 34,31.5 35,29.1 36,27.2 37,30.9 38,30.7 39,28.0 40,30.7 41,30.8 42,29.4 43,30.3 44,27.2 45,30.1 46,28.0 47,29.0 48,30.0 49,28.2 50,30.8 51,29.4 52,27.0 53,27.3 54,29.7 55,27.5 56,29.4 57,29.0 58,28.0 59,29.6 60,29.5 61,28.5 62,28.7 63,30.1 64,27.2 65,27.2 66,28.7 67,27.5 68,25.1 69,28.8 70,28.4 71,28.1 72,26.8 73,26.1 74,29.1 75,27.9 76,27.8 77,27.1 78,28.6 79,24.0 80,29.8 81,26.6 82,27.0" fill="none" stroke="#0808ff" stroke-width="1.0" stroke-linejoin="round"/>
</g>
<polyline points="30.1,338.9 31.2,329.1 32.3,341.7 33.5,350.2 34.6,327.7 35.7,336.1 36.8,344.5 38,347.3 39.1,343.1 40.2,348.8 41.3,337.5 42.4,334.7 43.6,331.9 44.7,338.9 45.8,341.7 46.9,327.7 48.1,333.3 49.2,337.5 50.3,338.9 51.4,347.3 52.6,329.1 53.7,336.1 54.8,338.9 55.9,344.5 57.1,336.1 58.2,338.9 59.3,344.5 60.4,345.9 61.3,336.1 62.4,330.5 63.5,337.5 64.6,333.3 65.8,330.5 66.9,329.1 68,344.5 69.1,334.7 70.3,331.9 71.4,329.1 72.5,326.3 73.6,327.7" fill="none" stroke="#000" stroke-width="1.0999999999999999" stroke-linejoin="round"/>
<polyline points="30.1,327.7 31.2,331.9 32.3,338.9 33.5,329.1 34.6,326.3 35.7,334.7 36.8,341.7 38,340.3 39.1,344.5 40.2,347.3 41.3,340.3 42.4,336.1 43.6,336.1 44.7,329.1 45.8,334.7 46.9,338.9 48.1,330.5 49.2,340.3 50.3,338.9 51.4,333.3 52.6,334.7 53.7,331.9 54.8,337.5 55.9,333.3 57.1,341.7 58.2,338.9 59.3,337.5 60.4,343.1 61.6,334.7 62.7,336.1 63.8,337.5 64.9,334.7 66,333.3 67.2,337.5 68.3,331.9 69.4,333.3 70.5,334.7 71.7,331.9 72.8,329.1 73.6,333.3" fill="none" stroke="#f00" stroke-width="0.95" stroke-linejoin="round"/>
</g>
<rect x="27.5" y="302.2" width="135.5" height="58" fill="none" stroke="#262626" stroke-width="0.9"/>
<path d="M27.5,360.2v-1.4M27.5,302.2v1.4M54.6,360.2v-1.4M54.6,302.2v1.4M81.7,360.2v-1.4M81.7,302.2v1.4M108.8,360.2v-1.4M108.8,302.2v1.4M135.9,360.2v-1.4M135.9,302.2v1.4M163,360.2v-1.4M163,302.2v1.4M27.5,302.2h1.4M163,302.2h-1.4M27.5,316.7h1.4M163,316.7h-1.4M27.5,331.2h1.4M163,331.2h-1.4M27.5,345.7h1.4M163,345.7h-1.4M27.5,360.2h1.4M163,360.2h-1.4" stroke="#262626" stroke-width="0.9" fill="none"/>
<text x="27.5" y="369.8" text-anchor="middle" class="t">1975</text>
<text x="54.6" y="369.8" text-anchor="middle" class="t">2000</text>
<text x="81.7" y="369.8" text-anchor="middle" class="t">2025</text>
<text x="108.8" y="369.8" text-anchor="middle" class="t">2050</text>
<text x="135.9" y="369.8" text-anchor="middle" class="t">2075</text>
<text x="163" y="369.8" text-anchor="middle" class="t">2100</text>
<text x="25" y="305.5" text-anchor="end" class="t">14 Jan</text>
<text x="25" y="320" text-anchor="end" class="t">30 Dec</text>
<text x="25" y="334.5" text-anchor="end" class="t">15 Dec</text>
<text x="25" y="349" text-anchor="end" class="t">30 Nov</text>
<text x="25" y="363.5" text-anchor="end" class="t">15 Nov</text>
<text x="31.8" y="299.6" class="ti">FUS</text>
<clipPath id="c7"><rect x="206.2" y="302.2" width="135.6" height="58"/></clipPath>
<g clip-path="url(#c7)">
<g transform="translate(252.8,302.2) scale(1.0848,1)">
<polygon points="0,16 1,19 2,21 3,22 4,14 5,20 6,12 7,18 8,17 9,20 10,21 11,22 12,21 13,11 14,18 15,21 16,21 17,16 18,21 19,18 20,20 21,19 22,18 23,19 24,20 25,18 26,21 27,19 28,13 29,19 30,19 31,21 32,21 33,19 34,15 35,20 36,12 37,21 38,20 39,14 40,20 41,19 42,17 43,19 44,19 45,20 46,19 47,21 48,19 49,12 50,21 51,21 52,12 53,18 54,21 55,20 56,22 57,18 58,20 59,21 60,21 61,18 62,18 63,20 64,19 65,20 66,13 67,20 68,14 69,18 70,18 71,21 72,13 73,20 74,21 75,18 76,21 77,20 78,21 79,14 80,14 81,13 82,19 82,36 81,35 80,37 79,36 78,36 77,34 76,36 75,36 74,36 73,37 72,37 71,36 70,46 69,39 68,34 67,34 66,37 65,34 64,38 63,37 62,34 61,37 60,37 59,35 58,36 57,35 56,35 55,35 54,43 53,35 52,39 51,35 50,36 49,37 48,42 47,35 46,33 45,35 44,41 43,35 42,35 41,35 40,43 39,34 38,37 37,35 36,39 35,40 34,35 33,37 32,44 31,34 30,39 29,35 28,37 27,37 26,43 25,35 24,39 23,37 22,47 21,34 20,37 19,44 18,35 17,45 16,35 15,35 14,38 13,37 12,36 11,37 10,38 9,37 8,37 7,34 6,40 5,35 4,41 3,36 2,34 1,38 0,34" fill="#00e0ff" fill-opacity="0.22"/>
<polygon points="0,14 1,21 2,20 3,19 4,19 5,19 6,19 7,20 8,10 9,20 10,19 11,18 12,20 13,15 14,17 15,20 16,20 17,11 18,18 19,16 20,18 21,13 22,19 23,13 24,11 25,18 26,21 27,12 28,16 29,14 30,18 31,18 32,18 33,19 34,20 35,17 36,15 37,17 38,9 39,19 40,19 41,20 42,20 43,19 44,19 45,10 46,19 47,18 48,10 49,19 50,12 51,19 52,19 53,12 54,17 55,18 56,18 57,16 58,20 59,14 60,16 61,18 62,19 63,18 64,9 65,20 66,19 67,19 68,16 69,19 70,18 71,19 72,15 73,16 74,16 75,15 76,12 77,13 78,20 79,19 80,18 81,19 82,11 82,41 81,44 80,44 79,38 78,44 77,40 76,39 75,39 74,50 73,46 72,44 71,40 70,40 69,40 68,43 67,40 66,38 65,38 64,39 63,40 62,38 61,47 60,38 59,37 58,37 57,53 56,42 55,39 54,43 53,40 52,42 51,37 50,41 49,40 48,41 47,41 46,40 45,37 44,38 43,40 42,38 41,38 40,41 39,39 38,39 37,40 36,42 35,43 34,40 33,41 32,36 31,38 30,44 29,45 28,48 27,38 26,41 25,47 24,52 23,36 22,38 21,39 20,40 19,48 18,40 17,38 16,36 15,37 14,49 13,38 12,41 11,40 10,38 9,39 8,40 7,37 6,38 5,41 4,39 3,37 2,38 1,39 0,39" fill="#ff40ff" fill-opacity="0.18"/>
<polygon points="0,22 1,21 2,22 3,21 4,21 5,22 6,22 7,22 8,22 9,22 10,21 11,21 12,20 13,21 14,20 15,21 16,22 17,22 18,21 19,20 20,22 21,15 22,22 23,22 24,20 25,17 26,22 27,21 28,23 29,20 30,21 31,20 32,21 33,22 34,21 35,20 36,22 37,12 38,18 39,14 40,22 41,21 42,22 43,21 44,15 45,18 46,17 47,22 48,21 49,18 50,21 51,20 52,20 53,21 54,16 55,21 56,22 57,22 58,22 59,20 60,20 61,20 62,22 63,22 64,18 65,22 66,20 67,21 68,21 69,20 70,19 71,21 72,22 73,19 74,20 75,13 76,22 77,22 78,22 79,20 80,21 81,20 82,19 82,33 81,34 80,34 79,34 78,36 77,35 76,34 75,35 74,36 73,40 72,35 71,44 70,36 69,33 68,41 67,33 66,35 65,36 64,34 63,34 62,35 61,38 60,41 59,37 58,34 57,36 56,35 55,34 54,34 53,35 52,35 51,36 50,34 49,36 48,35 47,36 46,34 45,33 44,34 43,36 42,33 41,34 40,35 39,36 38,34 37,34 36,36 35,35 34,36 33,34 32,39 31,34 30,35 29,44 28,34 27,35 26,36 25,41 24,34 23,34 22,34 21,36 20,36 19,35 18,35 17,44 16,43 15,35 14,34 13,35 12,36 11,42 10,35 9,35 8,36 7,36 6,35 5,35 4,35 3,41 2,35 1,36 0,34" fill="#20ff40" fill-opacity="0.12"/>
<polygon points="0,10 1,21 2,12 3,21 4,18 5,19 6,19 7,17 8,8 9,17 10,15 11,17 12,17 13,19 14,18 15,16 16,17 17,11 18,18 19,18 20,16 21,17 22,19 23,17 24,16 25,19 26,18 27,15 28,8 29,10 30,16 31,18 32,16 33,17 34,18 35,15 36,19 37,17 38,2 39,17 40,16 41,16 42,18 43,17 44,18 45,14 46,14 47,4 48,16 49,16 50,14 51,15 52,15 53,16 54,9 55,15 56,14 57,9 58,15 59,2 60,2 61,14 62,13 63,16 64,9 65,16 66,15 67,6 68,13 69,14 70,6 71,1 72,10 73,15 74,13 75,15 76,13 77,15 78,12 79,12 80,11 81,14 82,2 82,36 81,37 80,37 79,39 78,38 77,40 76,39 75,37 74,39 73,39 72,39 71,37 70,39 69,40 68,38 67,38 66,37 65,40 64,37 63,37 62,35 61,38 60,37 59,35 58,35 57,46 56,36 55,41 54,38 53,38 52,38 51,37 50,47 49,35 48,37 47,39 46,39 45,37 44,36 43,38 42,36 41,36 40,45 39,37 38,35 37,35 36,35 35,37 34,36 33,37 32,40 31,36 30,39 29,37 28,34 27,41 26,37 25,36 24,36 23,35 22,38 21,36 20,34 19,44 18,38 17,38 16,46 15,34 14,35 13,37 12,34 11,36 10,38 9,34 8,34 7,36 6,35 5,35 4,35 3,37 2,36 1,34 0,46" fill="#5050ff" fill-opacity="0.18"/>
<polyline points="0,35 1,25 2,23 3,33 4,27 5,29 6,27 7,25 8,28 9,21 10,21 11,29 12,20 13,32 14,32 15,37 16,31 17,23 18,21 19,41 20,34 21,22 22,34 23,19 24,25 25,21 26,26 27,22 28,32 29,26 30,25 31,21 32,24 33,28 34,25 35,32 36,26 37,35 38,23 39,25 40,26 41,25 42,40 43,30 44,36 45,28 46,23 47,28 48,33 49,31 50,22 51,23 52,27 53,27 54,28 55,24 56,36 57,24 58,19 59,24 60,37 61,24 62,22 63,25 64,19 65,20 66,34 67,36 68,23 69,23 70,32 71,31 72,19 73,28 74,30 75,23 76,31 77,27 78,27 79,20 80,17 81,32 82,28" fill="none" stroke="#00e0ff" stroke-opacity="0.34" stroke-width="0.7"/>
<polyline points="0,25 1,28 2,41 3,25 4,24 5,30 6,37 7,30 8,22 9,32 10,22 11,27 12,20 13,23 14,20 15,30 16,47 17,31 18,21 19,22 20,21 21,27 22,32 23,25 24,21 25,28 26,23 27,30 28,27 29,27 30,25 31,27 32,30 33,45 34,22 35,28 36,20 37,40 38,23 39,36 40,25 41,35 42,23 43,16 44,30 45,14 46,23 47,19 48,38 49,36 50,51 51,18 52,38 53,23 54,22 55,28 56,27 57,26 58,29 59,19 60,23 61,36 62,22 63,39 64,25 65,29 66,21 67,20 68,48 69,32 70,33 71,34 72,35 73,39 74,36 75,27 76,8 77,34 78,19 79,33 80,25 81,23 82,33" fill="none" stroke="#ff50ff" stroke-opacity="0.42" stroke-width="0.7"/>
<polyline points="0,24 1,36 2,29 3,29 4,21 5,33 6,23 7,22 8,28 9,38 10,31 11,31 12,33 13,36 14,25 15,24 16,22 17,25 18,29 19,20 20,38 21,26 22,26 23,35 24,23 25,28 26,23 27,28 28,28 29,30 30,33 31,24 32,25 33,28 34,27 35,35 36,47 37,28 38,21 39,30 40,33 41,20 42,21 43,25 44,28 45,29 46,34 47,17 48,16 49,35 50,23 51,31 52,26 53,23 54,31 55,38 56,34 57,27 58,25 59,25 60,26 61,24 62,28 63,23 64,22 65,26 66,30 67,25 68,25 69,27 70,22 71,22 72,25 73,28 74,29 75,34 76,26 77,29 78,31 79,24 80,20 81,33 82,27" fill="none" stroke="#30e050" stroke-opacity="0.28" stroke-width="0.7"/>
<polyline points="0,24 1,35 2,42 3,28 4,30 5,26 6,31 7,36 8,32 9,38 10,34 11,22 12,25 13,32 14,23 15,24 16,24 17,21 18,26 19,28 20,15 21,24 22,22 23,22 24,24 25,27 26,11 27,38 28,37 29,31 30,20 31,22 32,32 33,35 34,29 35,22 36,31 37,12 38,35 39,29 40,31 41,35 42,22 43,13 44,30 45,34 46,22 47,17 48,12 49,18 50,14 51,20 52,16 53,36 54,20 55,25 56,22 57,14 58,21 59,36 60,28 61,22 62,14 63,23 64,15 65,21 66,28 67,17 68,20 69,23 70,25 71,16 72,34 73,32 74,30 75,6 76,31 77,42 78,24 79,18 80,25 81,12 82,17" fill="none" stroke="#6868ff" stroke-opacity="0.45" stroke-width="0.7"/>
<polyline points="0,36 1,19 2,28 3,21 4,27 5,23 6,24 7,22 8,31 9,24 10,35 11,25 12,19 13,27 14,26 15,31 16,23 17,35 18,13 19,19 20,20 21,29 22,31 23,26 24,23 25,39 26,32 27,32 28,19 29,24 30,32 31,37 32,22 33,21 34,28 35,22 36,16 37,26 38,29 39,24 40,32 41,31 42,32 43,28 44,30 45,26 46,29 47,29 48,27 49,31 50,25 51,28 52,29 53,25 54,25 55,18 56,24 57,27 58,30 59,20 60,21 61,37 62,32 63,30 64,27 65,20 66,32 67,25 68,33 69,29 70,26 71,29 72,26 73,27 74,24 75,24 76,22 77,30 78,22 79,26 80,25 81,31 82,22" fill="none" stroke="#00e0ff" stroke-opacity="0.34" stroke-width="0.7"/>
<polyline points="0,36 1,21 2,22 3,25 4,29 5,32 6,27 7,23 8,27 9,30 10,32 11,31 12,27 13,21 14,25 15,31 16,26 17,25 18,29 19,28 20,21 21,31 22,48 23,40 24,27 25,27 26,44 27,41 28,33 29,35 30,18 31,20 32,22 33,20 34,32 35,32 36,21 37,34 38,35 39,20 40,22 41,35 42,23 43,29 44,29 45,31 46,38 47,39 48,37 49,36 50,26 51,27 52,24 53,26 54,22 55,37 56,30 57,30 58,45 59,46 60,43 61,20 62,39 63,43 64,25 65,24 66,33 67,29 68,31 69,34 70,27 71,24 72,30 73,34 74,35 75,35 76,52 77,29 78,25 79,30 80,19 81,25 82,26" fill="none" stroke="#ff50ff" stroke-opacity="0.42" stroke-width="0.7"/>
<polyline points="0,30 1,25 2,28 3,28 4,31 5,31 6,18 7,29 8,30 9,32 10,24 11,36 12,27 13,32 14,18 15,18 16,30 17,31 18,33 19,24 20,30 21,26 22,31 23,30 24,25 25,27 26,29 27,27 28,32 29,23 30,31 31,30 32,30 33,29 34,30 35,30 36,31 37,22 38,34 39,22 40,22 41,36 42,23 43,27 44,30 45,28 46,30 47,26 48,33 49,25 50,25 51,18 52,20 53,19 54,35 55,37 56,30 57,23 58,24 59,26 60,30 61,26 62,28 63,29 64,20 65,19 66,33 67,26 68,28 69,26 70,27 71,30 72,24 73,23 74,27 75,32 76,27 77,27 78,25 79,33 80,25 81,29 82,27" fill="none" stroke="#30e050" stroke-opacity="0.28" stroke-width="0.7"/>
<polyline points="0,29 1,25 2,23 3,29 4,20 5,23 6,30 7,36 8,31 9,31 10,21 11,28 12,23 13,20 14,27 15,33 16,31 17,19 18,25 19,31 20,28 21,26 22,19 23,20 24,32 25,34 26,22 27,25 28,38 29,19 30,30 31,28 32,32 33,21 34,38 35,33 36,15 37,39 38,25 39,14 40,22 41,22 42,31 43,33 44,35 45,20 46,41 47,28 48,25 49,23 50,24 51,10 52,28 53,36 54,23 55,9 56,22 57,13 58,15 59,23 60,17 61,40 62,31 63,22 64,15 65,29 66,25 67,16 68,28 69,13 70,22 71,32 72,18 73,43 74,19 75,33 76,34 77,31 78,26 79,31 80,10 81,24 82,33" fill="none" stroke="#6868ff" stroke-opacity="0.45" stroke-width="0.7"/>
<polyline points="0,36 1,25 2,24 3,25 4,27 5,31 6,29 7,23 8,20 9,31 10,34 11,26 12,23 13,22 14,33 15,28 16,27 17,26 18,26 19,27 20,27 21,22 22,23 23,34 24,22 25,26 26,36 27,29 28,21 29,24 30,26 31,21 32,32 33,31 34,24 35,27 36,16 37,24 38,22 39,26 40,34 41,34 42,29 43,27 44,30 45,22 46,24 47,22 48,27 49,18 50,33 51,33 52,30 53,27 54,25 55,35 56,33 57,30 58,29 59,19 60,27 61,36 62,31 63,21 64,25 65,27 66,29 67,23 68,22 69,26 70,32 71,30 72,32 73,36 74,21 75,24 76,21 77,22 78,22 79,26 80,32 81,35 82,25" fill="none" stroke="#00e0ff" stroke-opacity="0.34" stroke-width="0.7"/>
<polyline points="0,21 1,26 2,30 3,21 4,24 5,35 6,27 7,29 8,23 9,21 10,23 11,22 12,25 13,34 14,32 15,21 16,31 17,29 18,17 19,42 20,33 21,25 22,25 23,16 24,34 25,49 26,24 27,21 28,29 29,19 30,32 31,25 32,20 33,29 34,27 35,22 36,26 37,34 38,23 39,12 40,32 41,27 42,30 43,23 44,24 45,18 46,22 47,39 48,22 49,37 50,41 51,19 52,20 53,30 54,35 55,31 56,19 57,30 58,31 59,32 60,19 61,44 62,18 63,23 64,27 65,31 66,34 67,21 68,24 69,34 70,18 71,42 72,28 73,31 74,26 75,28 76,27 77,33 78,32 79,32 80,23 81,24 82,16" fill="none" stroke="#ff50ff" stroke-opacity="0.42" stroke-width="0.7"/>
<polyline points="0,24 1,25 2,19 3,28 4,33 5,22 6,31 7,22 8,31 9,22 10,25 11,28 12,24 13,33 14,29 15,22 16,33 17,19 18,33 19,27 20,26 21,36 22,22 23,31 24,42 25,19 26,26 27,29 28,25 29,29 30,33 31,29 32,32 33,33 34,26 35,24 36,22 37,22 38,28 39,25 40,25 41,29 42,23 43,24 44,26 45,24 46,28 47,23 48,34 49,33 50,23 51,29 52,18 53,25 54,31 55,25 56,19 57,34 58,32 59,32 60,27 61,33 62,27 63,26 64,26 65,26 66,23 67,27 68,25 69,35 70,30 71,34 72,30 73,26 74,22 75,32 76,25 77,31 78,20 79,18 80,27 81,27 82,25" fill="none" stroke="#30e050" stroke-opacity="0.28" stroke-width="0.7"/>
<polyline points="0,25 1,16 2,28 3,28 4,35 5,35 6,20 7,18 8,17 9,21 10,24 11,27 12,23 13,21 14,30 15,31 16,11 17,32 18,23 19,26 20,35 21,27 22,30 23,28 24,33 25,20 26,20 27,30 28,15 29,25 30,25 31,22 32,30 33,32 34,34 35,30 36,28 37,32 38,28 39,25 40,32 41,23 42,20 43,25 44,28 45,36 46,14 47,23 48,24 49,14 50,30 51,22 52,25 53,39 54,36 55,35 56,33 57,17 58,31 59,17 60,29 61,7 62,31 63,14 64,30 65,7 66,32 67,28 68,23 69,21 70,28 71,29 72,27 73,35 74,28 75,7 76,37 77,18 78,18 79,21 80,27 81,12 82,24" fill="none" stroke="#6868ff" stroke-opacity="0.45" stroke-width="0.7"/>
<polyline points="0,25 1,33 2,20 3,21 4,20 5,27 6,35 7,25 8,34 9,30 10,26 11,26 12,22 13,31 14,27 15,31 16,36 17,37 18,24 19,26 20,27 21,23 22,24 23,20 24,20 25,25 26,25 27,25 28,30 29,25 30,31 31,28 32,30 33,19 34,45 35,38 36,29 37,31 38,29 39,18 40,23 41,31 42,28 43,35 44,31 45,24 46,21 47,26 48,22 49,22 50,31 51,26 52,23 53,33 54,27 55,38 56,28 57,23 58,24 59,12 60,30 61,21 62,30 63,33 64,31 65,39 66,24 67,25 68,31 69,27 70,24 71,24 72,31 73,25 74,42 75,17 76,17 77,25 78,27 79,35 80,22 81,27 82,31" fill="none" stroke="#00e0ff" stroke-opacity="0.34" stroke-width="0.7"/>
<polyline points="0,22 1,20 2,32 3,23 4,29 5,39 6,28 7,21 8,26 9,27 10,31 11,21 12,23 13,26 14,26 15,18 16,26 17,20 18,26 19,31 20,43 21,33 22,22 23,24 24,42 25,12 26,18 27,31 28,21 29,14 30,23 31,36 32,26 33,31 34,23 35,35 36,26 37,29 38,52 39,26 40,33 41,35 42,27 43,20 44,24 45,22 46,31 47,41 48,30 49,25 50,31 51,29 52,26 53,24 54,27 55,21 56,29 57,22 58,24 59,35 60,39 61,31 62,25 63,30 64,22 65,29 66,30 67,21 68,22 69,14 70,27 71,25 72,26 73,30 74,26 75,22 76,19 77,19 78,27 79,38 80,42 81,31 82,15" fill="none" stroke="#ff50ff" stroke-opacity="0.42" stroke-width="0.7"/>
<polyline points="0,28 1,33 2,22 3,23 4,25 5,31 6,30 7,28 8,29 9,21 10,26 11,29 12,34 13,22 14,30 15,30 16,24 17,26 18,23 19,31 20,21 21,16 22,32 23,24 24,19 25,25 26,21 27,25 28,30 29,28 30,30 31,25 32,24 33,42 34,28 35,26 36,29 37,33 38,26 39,33 40,23 41,25 42,29 43,22 44,22 45,31 46,36 47,23 48,29 49,25 50,25 51,31 52,25 53,36 54,26 55,34 56,29 57,25 58,18 59,27 60,24 61,41 62,28 63,37 64,22 65,25 66,27 67,31 68,22 69,32 70,27 71,22 72,28 73,30 74,23 75,27 76,27 77,33 78,38 79,29 80,32 81,29 82,29" fill="none" stroke="#30e050" stroke-opacity="0.28" stroke-width="0.7"/>
<polyline points="0,38 1,24 2,19 3,25 4,27 5,23 6,20 7,24 8,26 9,23 10,35 11,25 12,23 13,34 14,25 15,27 16,22 17,20 18,33 19,22 20,26 21,22 22,39 23,28 24,33 25,34 26,10 27,44 28,17 29,37 30,27 31,33 32,25 33,36 34,40 35,44 36,20 37,31 38,30 39,24 40,19 41,29 42,31 43,30 44,23 45,27 46,25 47,16 48,33 49,21 50,23 51,37 52,32 53,28 54,32 55,19 56,33 57,27 58,27 59,25 60,6 61,12 62,29 63,25 64,11 65,27 66,15 67,21 68,28 69,25 70,28 71,31 72,40 73,25 74,30 75,24 76,11 77,17 78,34 79,21 80,22 81,7 82,18" fill="none" stroke="#6868ff" stroke-opacity="0.45" stroke-width="0.7"/>
<polyline points="0,23 1,28 2,30 3,27 4,24 5,34 6,33 7,29 8,30 9,30 10,23 11,15 12,32 13,25 14,29 15,20 16,24 17,37 18,18 19,22 20,27 21,24 22,28 23,25 24,30 25,25 26,20 27,19 28,25 29,20 30,29 31,30 32,27 33,22 34,22 35,27 36,29 37,30 38,31 39,27 40,28 41,34 42,21 43,22 44,37 45,25 46,39 47,31 48,30 49,34 50,24 51,24 52,34 53,28 54,30 55,26 56,25 57,26 58,24 59,28 60,25 61,30 62,22 63,19 64,25 65,26 66,30 67,33 68,31 69,25 70,30 71,25 72,30 73,16 74,25 75,26 76,23 77,22 78,28 79,21 80,33 81,20 82,23" fill="none" stroke="#00e0ff" stroke-opacity="0.34" stroke-width="0.7"/>
<polyline points="0,34 1,39 2,31 3,28 4,25 5,24 6,34 7,40 8,19 9,21 10,35 11,31 12,23 13,15 14,24 15,18 16,25 17,39 18,37 19,21 20,40 21,25 22,26 23,20 24,13 25,24 26,19 27,19 28,32 29,38 30,23 31,23 32,23 33,24 34,25 35,23 36,30 37,43 38,39 39,20 40,35 41,21 42,43 43,22 44,25 45,41 46,40 47,20 48,33 49,21 50,29 51,30 52,22 53,34 54,38 55,30 56,30 57,21 58,34 59,33 60,36 61,32 62,15 63,37 64,24 65,19 66,14 67,28 68,30 69,21 70,36 71,19 72,32 73,24 74,36 75,47 76,20 77,30 78,28 79,23 80,48 81,25 82,31" fill="none" stroke="#ff50ff" stroke-opacity="0.42" stroke-width="0.7"/>
<polyline points="0,25 1,27 2,30 3,27 4,25 5,30 6,30 7,22 8,36 9,20 10,18 11,19 12,25 13,29 14,32 15,23 16,23 17,24 18,34 19,26 20,31 21,31 22,25 23,30 24,28 25,37 26,36 27,28 28,30 29,36 30,25 31,23 32,25 33,36 34,21 35,21 36,28 37,24 38,28 39,25 40,28 41,27 42,28 43,23 44,24 45,34 46,26 47,24 48,28 49,28 50,36 51,25 52,21 53,31 54,26 55,27 56,21 57,32 58,20 59,24 60,25 61,36 62,33 63,32 64,22 65,26 66,32 67,23 68,27 69,30 70,34 71,23 72,35 73,29 74,27 75,27 76,21 77,23 78,35 79,25 80,20 81,27 82,23" fill="none" stroke="#30e050" stroke-opacity="0.28" stroke-width="0.7"/>
<polyline points="0,21 1,36 2,27 3,32 4,31 5,27 6,27 7,23 8,37 9,17 10,30 11,25 12,20 13,19 14,18 15,21 16,43 17,27 18,28 19,17 20,23 21,30 22,31 23,26 24,33 25,13 26,26 27,20 28,27 29,23 30,38 31,23 32,30 33,29 34,36 35,19 36,32 37,21 38,28 39,21 40,22 41,27 42,30 43,43 44,24 45,22 46,29 47,16 48,30 49,36 50,21 51,32 52,28 53,22 54,26 55,34 56,24 57,24 58,38 59,1 60,34 61,17 62,22 63,29 64,41 65,16 66,41 67,22 68,21 69,34 70,28 71,9 72,33 73,11 74,21 75,28 76,23 77,18 78,18 79,33 80,31 81,8 82,22" fill="none" stroke="#6868ff" stroke-opacity="0.45" stroke-width="0.7"/>
<polyline points="0,27.6 1,26.6 2,25.9 3,26.8 4,25.9 5,24.4 6,25.4 7,29.5 8,27.9 9,27.5 10,26.9 11,28.0 12,28.4 13,27.4 14,26.0 15,27.5 16,27.9 17,26.8 18,26.6 19,27.0 20,25.9 21,26.7 22,26.1 23,26.7 24,27.2 25,29.4 26,27.5 27,26.9 28,26.4 29,27.0 30,25.8 31,28.6 32,27.5 33,24.4 34,26.5 35,29.9 36,27.0 37,26.0 38,26.8 39,26.9 40,27.1 41,27.0 42,26.1 43,28.3 44,28.2 45,25.6 46,25.1 47,27.3 48,29.0 49,27.8 50,26.4 51,26.4 52,25.8 53,26.2 54,28.9 55,26.3 56,27.3 57,27.7 58,28.1 59,27.8 60,26.0 61,25.0 62,30.1 63,25.6 64,22.9 65,28.3 66,29.2 67,26.7 68,23.8 69,30.5 70,27.7 71,26.4 72,27.7 73,28.7 74,24.9 75,27.6 76,28.6 77,27.7 78,28.3 79,25.5 80,25.2 81,28.9 82,26.9" fill="none" stroke="#e820e8" stroke-width="0.8" stroke-linejoin="round"/>
<polyline points="0,26.8 1,26.8 2,27.4 3,25.8 4,27.2 5,27.6 6,26.3 7,27.9 8,27.1 9,26.4 10,28.5 11,28.1 12,24.3 13,26.6 14,27.8 15,28.0 16,27.3 17,30.0 18,27.1 19,26.0 20,25.4 21,26.4 22,31.2 23,26.6 24,27.4 25,26.2 26,24.4 27,30.0 28,27.2 29,26.2 30,26.6 31,28.2 32,24.7 33,30.2 34,28.4 35,26.1 36,27.9 37,26.1 38,27.6 39,26.9 40,25.7 41,26.1 42,28.1 43,26.6 44,28.7 45,28.2 46,25.4 47,29.1 48,25.5 49,25.1 50,23.4 51,27.6 52,28.2 53,26.4 54,25.6 55,28.4 56,28.8 57,26.9 58,27.4 59,27.3 60,27.4 61,28.3 62,28.2 63,27.1 64,29.2 65,26.0 66,24.9 67,27.9 68,24.6 69,27.0 70,27.7 71,27.4 72,28.5 73,26.2 74,27.3 75,27.1 76,27.7 77,27.6 78,27.9 79,25.4 80,26.2 81,28.6 82,27.8" fill="none" stroke="#10e0f0" stroke-width="0.85" stroke-linejoin="round"/>
<polyline points="0,27.2 1,28.9 2,25.0 3,26.2 4,31.2 5,26.4 6,25.4 7,28.7 8,28.0 9,25.6 10,27.5 11,26.9 12,27.9 13,29.9 14,27.5 15,28.2 16,28.5 17,25.5 18,27.1 19,28.4 20,29.4 21,26.3 22,27.0 23,27.6 24,27.5 25,28.6 26,27.4 27,25.2 28,28.2 29,29.2 30,26.3 31,26.5 32,27.6 33,26.6 34,27.5 35,27.2 36,26.3 37,26.5 38,28.6 39,25.1 40,26.2 41,28.0 42,28.1 43,28.7 44,29.5 45,25.4 46,27.2 47,29.9 48,27.5 49,23.5 50,27.1 51,29.9 52,25.8 53,26.8 54,25.7 55,27.9 56,29.4 57,29.0 58,25.4 59,25.5 60,28.3 61,26.5 62,29.0 63,24.7 64,27.4 65,26.4 66,27.7 67,27.6 68,27.6 69,28.1 70,27.0 71,24.8 72,27.6 73,27.0 74,27.3 75,26.5 76,25.5 77,27.8 78,28.5 79,25.9 80,27.0 81,28.8 82,26.4" fill="none" stroke="#10d030" stroke-width="0.95" stroke-linejoin="round"/>
<polyline points="0,25.9 1,28.5 2,25.4 3,28.6 4,27.7 5,25.5 6,26.7 7,26.4 8,26.3 9,29.9 10,27.1 11,27.4 12,26.8 13,25.4 14,26.0 15,28.5 16,29.0 17,24.6 18,28.4 19,27.1 20,28.1 21,26.4 22,26.1 23,27.5 24,27.4 25,27.2 26,27.6 27,25.7 28,27.5 29,27.9 30,24.7 31,24.9 32,27.3 33,24.7 34,28.9 35,25.4 36,24.9 37,27.0 38,27.6 39,25.6 40,28.5 41,25.2 42,25.7 43,27.0 44,27.5 45,26.6 46,28.2 47,26.1 48,23.4 49,28.8 50,25.2 51,25.1 52,25.2 53,25.7 54,25.5 55,25.7 56,26.6 57,24.2 58,26.8 59,26.0 60,26.1 61,27.9 62,23.2 63,26.2 64,28.8 65,23.0 66,23.8 67,28.4 68,26.2 69,25.6 70,26.0 71,24.6 72,25.5 73,26.1 74,26.6 75,25.1 76,25.6 77,28.7 78,24.8 79,26.3 80,25.7 81,25.9 82,27.5" fill="none" stroke="#0808ff" stroke-width="1.0" stroke-linejoin="round"/>
</g>
<polyline points="209.1,334.7 210.2,330.5 211.3,327.7 212.5,338.9 213.6,327.7 214.7,329.1 215.8,326.3 217,338.9 218.1,329.1 219.2,323.5 220.3,322.1 221.4,323.5 222.6,320.7 223.7,327.7 224.8,330.5 225.9,326.3 227.1,324.9 228.2,323.5 229.3,338.9 230.4,324.9 231.6,327.7 232.7,329.1 233.8,323.5 234.9,327.7 236.1,330.5 237.2,327.7 238.3,326.3 239.4,334.7 240.6,324.9 241.7,323.5 242.8,327.7 243.9,322.1 244.8,337.5 245.9,326.3 246.7,338.9 247.9,327.7 249,329.1 249.8,323.5 250.9,312.2 252.1,322.1 252.6,327.7" fill="none" stroke="#000" stroke-width="1.0999999999999999" stroke-linejoin="round"/>
<polyline points="209.1,329.1 210.2,327.7 211.3,329.1 212.5,330.5 213.6,328.4 214.7,329.8 215.8,327 217,329.1 218.1,327.7 219.2,330.5 220.3,332.6 221.4,329.1 222.6,328.4 223.7,329.8 224.8,327.7 225.9,326.3 227.1,329.1 228.2,327.7 229.3,329.8 230.4,328.4 231.6,326.3 232.7,330.5 233.8,328.4 234.9,329.1 236.1,331.2 237.2,328.4 238.3,329.8 239.4,327.7 240.6,329.1 241.7,329.8 242.8,328.4 243.9,330.5 245,329.1 246.2,327.7 247.3,329.8 248.4,327 249.5,328.4 250.7,329.1 251.8,328.4 252.6,328.4" fill="none" stroke="#f00" stroke-width="0.95" stroke-linejoin="round"/>
</g>
<rect x="206.2" y="302.2" width="135.6" height="58" fill="none" stroke="#262626" stroke-width="0.9"/>
<path d="M206.2,360.2v-1.4M206.2,302.2v1.4M233.3,360.2v-1.4M233.3,302.2v1.4M260.4,360.2v-1.4M260.4,302.2v1.4M287.6,360.2v-1.4M287.6,302.2v1.4M314.7,360.2v-1.4M314.7,302.2v1.4M341.8,360.2v-1.4M341.8,302.2v1.4M206.2,302.2h1.4M341.8,302.2h-1.4M206.2,316.7h1.4M341.8,316.7h-1.4M206.2,331.2h1.4M341.8,331.2h-1.4M206.2,345.7h1.4M341.8,345.7h-1.4M206.2,360.2h1.4M341.8,360.2h-1.4" stroke="#262626" stroke-width="0.9" fill="none"/>
<text x="206.2" y="369.8" text-anchor="middle" class="t">1975</text>
<text x="233.3" y="369.8" text-anchor="middle" class="t">2000</text>
<text x="260.4" y="369.8" text-anchor="middle" class="t">2025</text>
<text x="287.6" y="369.8" text-anchor="middle" class="t">2050</text>
<text x="314.7" y="369.8" text-anchor="middle" class="t">2075</text>
<text x="341.8" y="369.8" text-anchor="middle" class="t">2100</text>
<text x="203.7" y="305.5" text-anchor="end" class="t">24 Jan</text>
<text x="203.7" y="320" text-anchor="end" class="t">09 Jan</text>
<text x="203.7" y="334.5" text-anchor="end" class="t">25 Dec</text>
<text x="203.7" y="349" text-anchor="end" class="t">10 Dec</text>
<text x="203.7" y="363.5" text-anchor="end" class="t">25 Nov</text>
<text x="210.5" y="299.6" class="ti">FUE</text>
<clipPath id="c8"><rect x="27.5" y="382.2" width="135.5" height="57.8"/></clipPath>
<g clip-path="url(#c8)">
<g transform="translate(74.1,382.2) scale(1.0840,1)">
<polygon points="0,19 1,19 2,19 3,21 4,19 5,20 6,20 7,20 8,19 9,20 10,14 11,21 12,20 13,21 14,20 15,20 16,17 17,20 18,15 19,20 20,19 21,15 22,21 23,20 24,19 25,12 26,20 27,18 28,20 29,20 30,19 31,20 32,16 33,19 34,20 35,21 36,21 37,19 38,21 39,19 40,20 41,19 42,19 43,18 44,18 45,20 46,20 47,19 48,20 49,19 50,13 51,17 52,20 53,19 54,20 55,20 56,20 57,21 58,19 59,18 60,20 61,14 62,18 63,20 64,11 65,18 66,18 67,20 68,18 69,20 70,18 71,9 72,18 73,18 74,18 75,19 76,18 77,20 78,20 79,18 80,15 81,13 82,18 82,37 81,33 80,33 79,32 78,34 77,34 76,33 75,31 74,31 73,32 72,33 71,33 70,32 69,41 68,33 67,34 66,34 65,33 64,33 63,36 62,33 61,36 60,32 59,31 58,33 57,35 56,33 55,31 54,33 53,33 52,33 51,33 50,35 49,33 48,31 47,37 46,33 45,33 44,32 43,31 42,31 41,33 40,31 39,33 38,33 37,32 36,38 35,31 34,32 33,31 32,30 31,34 30,32 29,31 28,37 27,30 26,32 25,32 24,32 23,34 22,32 21,31 20,30 19,31 18,30 17,32 16,32 15,32 14,32 13,32 12,32 11,31 10,35 9,34 8,31 7,31 6,31 5,35 4,32 3,31 2,31 1,32 0,32" fill="#00e0ff" fill-opacity="0.22"/>
<polygon points="0,20 1,17 2,20 3,11 4,17 5,18 6,19 7,20 8,18 9,20 10,20 11,18 12,18 13,18 14,18 15,19 16,20 17,19 18,18 19,18 20,19 21,12 22,19 23,18 24,17 25,17 26,19 27,17 28,19 29,18 30,17 31,20 32,17 33,17 34,19 35,15 36,19 37,17 38,18 39,17 40,19 41,17 42,19 43,17 44,18 45,19 46,17 47,16 48,19 49,19 50,19 51,16 52,16 53,14 54,16 55,17 56,18 57,17 58,16 59,18 60,12 61,16 62,17 63,18 64,15 65,9 66,17 67,17 68,16 69,14 70,16 71,18 72,14 73,13 74,18 75,12 76,16 77,17 78,14 79,16 80,15 81,15 82,16 82,35 81,32 80,34 79,35 78,37 77,35 76,36 75,34 74,33 73,39 72,34 71,34 70,37 69,32 68,33 67,33 66,31 65,31 64,40 63,35 62,34 61,35 60,34 59,33 58,32 57,33 56,33 55,32 54,31 53,33 52,35 51,33 50,36 49,40 48,32 47,31 46,38 45,33 44,33 43,33 42,31 41,32 40,33 39,32 38,35 37,31 36,32 35,31 34,32 33,32 32,31 31,31 30,32 29,32 28,30 27,31 26,32 25,30 24,31 23,31 22,33 21,38 20,32 19,32 18,32 17,31 16,37 15,37 14,30 13,30 12,34 11,31 10,29 9,32 8,30 7,35 6,30 5,32 4,30 3,32 2,37 1,31 0,29" fill="#ff40ff" fill-opacity="0.18"/>
<polygon points="0,19 1,20 2,16 3,20 4,20 5,18 6,20 7,19 8,20 9,21 10,20 11,18 12,20 13,19 14,19 15,20 16,19 17,18 18,12 19,15 20,20 21,14 22,18 23,18 24,16 25,18 26,13 27,19 28,13 29,18 30,18 31,14 32,11 33,19 34,18 35,19 36,19 37,18 38,19 39,17 40,18 41,17 42,18 43,15 44,18 45,12 46,15 47,19 48,19 49,17 50,18 51,14 52,19 53,18 54,17 55,18 56,18 57,19 58,18 59,20 60,17 61,12 62,10 63,18 64,19 65,17 66,16 67,17 68,14 69,18 70,17 71,17 72,17 73,19 74,18 75,11 76,14 77,19 78,17 79,16 80,16 81,16 82,17 82,30 81,30 80,32 79,30 78,33 77,31 76,30 75,29 74,30 73,36 72,30 71,30 70,30 69,29 68,31 67,30 66,31 65,34 64,31 63,31 62,30 61,29 60,31 59,34 58,36 57,30 56,29 55,29 54,30 53,29 52,29 51,29 50,32 49,30 48,30 47,31 46,30 45,31 44,30 43,30 42,37 41,30 40,29 39,30 38,30 37,31 36,30 35,30 34,29 33,30 32,32 31,30 30,30 29,29 28,30 27,34 26,30 25,30 24,33 23,30 22,30 21,29 20,31 19,30 18,29 17,30 16,30 15,30 14,29 13,30 12,30 11,30 10,31 9,29 8,31 7,30 6,31 5,33 4,29 3,29 2,29 1,29 0,31" fill="#20ff40" fill-opacity="0.12"/>
<polygon points="0,13 1,20 2,20 3,19 4,20 5,15 6,21 7,15 8,18 9,19 10,16 11,18 12,11 13,18 14,20 15,17 16,16 17,20 18,20 19,18 20,18 21,19 22,13 23,20 24,17 25,20 26,18 27,20 28,18 29,19 30,19 31,17 32,20 33,17 34,16 35,16 36,14 37,19 38,17 39,5 40,17 41,12 42,18 43,14 44,15 45,9 46,8 47,16 48,13 49,15 50,13 51,12 52,13 53,6 54,14 55,14 56,13 57,12 58,15 59,17 60,10 61,15 62,-2 63,13 64,15 65,9 66,10 67,9 68,-2 69,8 70,9 71,-2 72,5 73,5 74,9 75,7 76,11 77,12 78,9 79,7 80,10 81,10 82,12 82,45 81,44 80,46 79,53 78,39 77,55 76,39 75,38 74,41 73,41 72,43 71,39 70,43 69,38 68,42 67,38 66,48 65,37 64,41 63,41 62,37 61,39 60,49 59,36 58,38 57,37 56,40 55,38 54,35 53,39 52,39 51,35 50,36 49,35 48,36 47,42 46,37 45,36 44,33 43,36 42,37 41,33 40,35 39,33 38,33 37,39 36,33 35,35 34,33 33,32 32,32 31,32 30,40 29,32 28,35 27,34 26,34 25,32 24,32 23,33 22,33 21,31 20,31 19,31 18,32 17,33 16,30 15,33 14,32 13,37 12,32 11,39 10,31 9,31 8,33 7,30 6,32 5,32 4,31 3,30 2,39 1,32 0,38" fill="#5050ff" fill-opacity="0.18"/>
<polyline points="0,32 1,20 2,26 3,25 4,27 5,30 6,27 7,25 8,20 9,23 10,25 11,23 12,27 13,31 14,27 15,25 16,21 17,31 18,25 19,27 20,23 21,26 22,27 23,26 24,20 25,23 26,30 27,16 28,22 29,24 30,22 31,23 32,24 33,23 34,32 35,25 36,23 37,19 38,26 39,23 40,25 41,21 42,29 43,25 44,26 45,19 46,20 47,24 48,25 49,26 50,28 51,30 52,32 53,28 54,24 55,24 56,32 57,30 58,25 59,22 60,31 61,24 62,21 63,29 64,24 65,19 66,27 67,27 68,27 69,28 70,24 71,26 72,32 73,19 74,38 75,28 76,22 77,30 78,20 79,28 80,25 81,30 82,21" fill="none" stroke="#00e0ff" stroke-opacity="0.34" stroke-width="0.7"/>
<polyline points="0,31 1,15 2,23 3,25 4,26 5,26 6,25 7,25 8,17 9,31 10,20 11,24 12,17 13,29 14,27 15,26 16,26 17,26 18,27 19,25 20,26 21,27 22,19 23,27 24,33 25,25 26,23 27,20 28,28 29,26 30,22 31,27 32,21 33,25 34,25 35,19 36,24 37,22 38,23 39,24 40,19 41,33 42,30 43,32 44,22 45,21 46,21 47,28 48,22 49,18 50,28 51,29 52,25 53,19 54,18 55,21 56,29 57,24 58,26 59,30 60,24 61,19 62,30 63,20 64,27 65,28 66,23 67,27 68,25 69,16 70,27 71,30 72,25 73,32 74,31 75,24 76,18 77,25 78,18 79,27 80,11 81,30 82,27" fill="none" stroke="#ff50ff" stroke-opacity="0.42" stroke-width="0.7"/>
<polyline points="0,26 1,26 2,24 3,25 4,21 5,24 6,24 7,25 8,24 9,27 10,24 11,26 12,27 13,22 14,18 15,28 16,27 17,24 18,15 19,26 20,25 21,20 22,20 23,26 24,26 25,28 26,25 27,26 28,24 29,26 30,24 31,25 32,25 33,23 34,26 35,25 36,27 37,22 38,27 39,24 40,31 41,14 42,25 43,23 44,19 45,24 46,23 47,30 48,24 49,26 50,25 51,26 52,18 53,24 54,25 55,27 56,22 57,30 58,28 59,23 60,23 61,23 62,21 63,21 64,28 65,24 66,21 67,21 68,19 69,23 70,23 71,25 72,21 73,25 74,20 75,25 76,18 77,16 78,22 79,24 80,25 81,21 82,26" fill="none" stroke="#30e050" stroke-opacity="0.28" stroke-width="0.7"/>
<polyline points="0,30 1,29 2,24 3,24 4,25 5,25 6,30 7,24 8,20 9,28 10,29 11,32 12,21 13,29 14,27 15,22 16,25 17,28 18,22 19,33 20,28 21,26 22,29 23,26 24,36 25,34 26,23 27,21 28,23 29,24 30,25 31,25 32,35 33,29 34,27 35,17 36,23 37,27 38,26 39,24 40,23 41,25 42,30 43,29 44,32 45,14 46,37 47,27 48,19 49,28 50,34 51,18 52,22 53,17 54,33 55,17 56,37 57,36 58,32 59,11 60,23 61,42 62,16 63,35 64,26 65,36 66,22 67,28 68,12 69,25 70,22 71,34 72,23 73,7 74,25 75,22 76,2 77,38 78,2 79,21 80,21 81,10 82,41" fill="none" stroke="#6868ff" stroke-opacity="0.45" stroke-width="0.7"/>
<polyline points="0,30 1,23 2,29 3,24 4,24 5,21 6,22 7,25 8,25 9,28 10,25 11,32 12,25 13,27 14,26 15,31 16,31 17,29 18,28 19,25 20,21 21,24 22,20 23,28 24,32 25,24 26,31 27,20 28,25 29,22 30,23 31,27 32,26 33,27 34,30 35,23 36,23 37,24 38,29 39,25 40,24 41,23 42,25 43,20 44,28 45,31 46,32 47,21 48,23 49,18 50,27 51,24 52,26 53,25 54,19 55,21 56,24 57,21 58,26 59,18 60,33 61,29 62,21 63,22 64,27 65,19 66,35 67,24 68,27 69,20 70,25 71,16 72,24 73,18 74,27 75,29 76,17 77,25 78,23 79,25 80,18 81,22 82,22" fill="none" stroke="#00e0ff" stroke-opacity="0.34" stroke-width="0.7"/>
<polyline points="0,20 1,35 2,29 3,24 4,24 5,27 6,28 7,27 8,32 9,16 10,22 11,32 12,24 13,25 14,23 15,28 16,23 17,30 18,16 19,25 20,20 21,20 22,18 23,33 24,29 25,28 26,20 27,28 28,27 29,27 30,33 31,34 32,24 33,28 34,25 35,23 36,28 37,31 38,31 39,30 40,21 41,25 42,23 43,25 44,21 45,27 46,17 47,25 48,14 49,22 50,35 51,22 52,21 53,25 54,27 55,27 56,16 57,27 58,31 59,23 60,28 61,25 62,12 63,32 64,26 65,27 66,26 67,27 68,31 69,29 70,24 71,25 72,35 73,23 74,24 75,15 76,23 77,20 78,27 79,24 80,30 81,35 82,24" fill="none" stroke="#ff50ff" stroke-opacity="0.42" stroke-width="0.7"/>
<polyline points="0,28 1,26 2,26 3,21 4,26 5,25 6,18 7,25 8,25 9,32 10,22 11,25 12,25 13,24 14,24 15,21 16,26 17,27 18,20 19,24 20,23 21,24 22,26 23,16 24,22 25,31 26,18 27,23 28,22 29,27 30,26 31,20 32,28 33,16 34,22 35,23 36,26 37,25 38,22 39,28 40,25 41,25 42,25 43,27 44,19 45,15 46,28 47,24 48,17 49,21 50,26 51,24 52,24 53,23 54,18 55,24 56,21 57,22 58,22 59,24 60,23 61,22 62,19 63,25 64,19 65,20 66,27 67,15 68,23 69,27 70,20 71,27 72,22 73,27 74,29 75,25 76,20 77,20 78,16 79,26 80,26 81,20 82,18" fill="none" stroke="#30e050" stroke-opacity="0.28" stroke-width="0.7"/>
<polyline points="0,28 1,22 2,29 3,22 4,28 5,22 6,28 7,24 8,26 9,26 10,25 11,22 12,20 13,25 14,22 15,28 16,27 17,33 18,27 19,28 20,24 21,19 22,34 23,28 24,22 25,25 26,30 27,22 28,37 29,24 30,25 31,31 32,21 33,32 34,23 35,30 36,26 37,32 38,38 39,24 40,28 41,28 42,33 43,24 44,16 45,28 46,29 47,28 48,34 49,23 50,27 51,13 52,13 53,33 54,25 55,20 56,26 57,5 58,26 59,15 60,31 61,13 62,30 63,36 64,24 65,16 66,35 67,29 68,13 69,38 70,41 71,40 72,17 73,32 74,28 75,33 76,22 77,24 78,40 79,12 80,44 81,11 82,37" fill="none" stroke="#6868ff" stroke-opacity="0.45" stroke-width="0.7"/>
<polyline points="0,29 1,22 2,29 3,26 4,25 5,20 6,31 7,24 8,26 9,28 10,26 11,28 12,27 13,26 14,22 15,25 16,22 17,19 18,22 19,26 20,27 21,23 22,27 23,25 24,23 25,25 26,14 27,27 28,32 29,23 30,29 31,30 32,26 33,37 34,32 35,20 36,20 37,34 38,30 39,23 40,19 41,25 42,25 43,22 44,25 45,31 46,27 47,33 48,24 49,28 50,26 51,27 52,26 53,31 54,24 55,24 56,40 57,37 58,28 59,32 60,22 61,22 62,28 63,22 64,25 65,24 66,21 67,24 68,28 69,24 70,25 71,23 72,24 73,20 74,21 75,19 76,24 77,24 78,31 79,32 80,24 81,31 82,25" fill="none" stroke="#00e0ff" stroke-opacity="0.34" stroke-width="0.7"/>
<polyline points="0,20 1,28 2,33 3,24 4,37 5,25 6,25 7,21 8,30 9,25 10,20 11,24 12,28 13,19 14,23 15,26 16,18 17,28 18,28 19,16 20,23 21,23 22,26 23,25 24,16 25,26 26,31 27,22 28,20 29,18 30,23 31,25 32,24 33,23 34,26 35,33 36,19 37,26 38,30 39,28 40,21 41,26 42,27 43,19 44,28 45,41 46,33 47,33 48,30 49,27 50,21 51,27 52,27 53,29 54,33 55,23 56,22 57,24 58,27 59,26 60,30 61,26 62,15 63,26 64,20 65,22 66,31 67,31 68,29 69,15 70,23 71,33 72,27 73,21 74,26 75,22 76,22 77,28 78,9 79,20 80,35 81,31 82,22" fill="none" stroke="#ff50ff" stroke-opacity="0.42" stroke-width="0.7"/>
<polyline points="0,21 1,27 2,16 3,24 4,25 5,26 6,20 7,25 8,29 9,20 10,28 11,28 12,24 13,21 14,18 15,22 16,25 17,31 18,26 19,25 20,24 21,25 22,28 23,29 24,24 25,25 26,27 27,22 28,34 29,15 30,24 31,24 32,18 33,25 34,19 35,26 36,26 37,30 38,28 39,25 40,19 41,24 42,18 43,33 44,22 45,25 46,22 47,26 48,34 49,21 50,29 51,29 52,22 53,24 54,23 55,23 56,24 57,16 58,28 59,24 60,18 61,24 62,24 63,23 64,21 65,29 66,26 67,24 68,24 69,24 70,23 71,25 72,26 73,30 74,25 75,25 76,22 77,28 78,26 79,18 80,18 81,28 82,26" fill="none" stroke="#30e050" stroke-opacity="0.28" stroke-width="0.7"/>
<polyline points="0,15 1,22 2,21 3,26 4,28 5,27 6,30 7,19 8,18 9,23 10,23 11,26 12,24 13,26 14,22 15,27 16,29 17,23 18,23 19,23 20,21 21,23 22,28 23,14 24,24 25,29 26,29 27,29 28,26 29,20 30,30 31,27 32,31 33,27 34,25 35,27 36,17 37,20 38,22 39,16 40,23 41,37 42,32 43,28 44,26 45,24 46,31 47,33 48,11 49,32 50,18 51,28 52,26 53,36 54,29 55,17 56,24 57,27 58,6 59,17 60,9 61,16 62,24 63,36 64,42 65,22 66,24 67,16 68,14 69,22 70,36 71,36 72,31 73,38 74,18 75,25 76,38 77,43 78,19 79,36 80,27 81,18 82,32" fill="none" stroke="#6868ff" stroke-opacity="0.45" stroke-width="0.7"/>
<polyline points="0,26 1,29 2,18 3,22 4,25 5,23 6,22 7,29 8,23 9,29 10,21 11,24 12,26 13,29 14,36 15,34 16,28 17,19 18,20 19,25 20,20 21,23 22,24 23,26 24,26 25,24 26,25 27,27 28,26 29,29 30,27 31,26 32,23 33,25 34,24 35,21 36,30 37,27 38,24 39,31 40,25 41,29 42,28 43,28 44,24 45,25 46,29 47,26 48,28 49,26 50,33 51,23 52,18 53,33 54,32 55,26 56,25 57,29 58,29 59,28 60,28 61,31 62,26 63,20 64,29 65,14 66,21 67,26 68,22 69,23 70,12 71,26 72,17 73,34 74,26 75,23 76,27 77,29 78,26 79,27 80,27 81,25 82,26" fill="none" stroke="#00e0ff" stroke-opacity="0.34" stroke-width="0.7"/>
<polyline points="0,27 1,24 2,22 3,23 4,19 5,18 6,24 7,25 8,28 9,20 10,25 11,20 12,26 13,33 14,27 15,30 16,23 17,33 18,27 19,34 20,23 21,25 22,26 23,29 24,31 25,28 26,26 27,28 28,25 29,23 30,33 31,27 32,28 33,29 34,26 35,24 36,19 37,28 38,28 39,25 40,20 41,27 42,34 43,21 44,25 45,28 46,27 47,28 48,28 49,18 50,19 51,23 52,30 53,34 54,22 55,30 56,28 57,26 58,29 59,25 60,20 61,31 62,17 63,25 64,24 65,21 66,26 67,26 68,35 69,32 70,23 71,25 72,27 73,30 74,33 75,35 76,36 77,24 78,28 79,13 80,36 81,27 82,11" fill="none" stroke="#ff50ff" stroke-opacity="0.42" stroke-width="0.7"/>
<polyline points="0,23 1,32 2,25 3,28 4,24 5,21 6,16 7,24 8,22 9,29 10,28 11,26 12,18 13,23 14,22 15,25 16,22 17,30 18,22 19,25 20,25 21,20 22,23 23,30 24,22 25,22 26,28 27,27 28,27 29,27 30,25 31,19 32,23 33,26 34,24 35,26 36,24 37,25 38,25 39,24 40,30 41,30 42,26 43,18 44,26 45,31 46,23 47,27 48,26 49,26 50,26 51,27 52,23 53,17 54,19 55,23 56,19 57,27 58,27 59,29 60,21 61,28 62,28 63,23 64,17 65,31 66,23 67,19 68,23 69,19 70,18 71,30 72,19 73,22 74,25 75,25 76,23 77,20 78,28 79,25 80,24 81,22 82,26" fill="none" stroke="#30e050" stroke-opacity="0.28" stroke-width="0.7"/>
<polyline points="0,30 1,24 2,26 3,28 4,24 5,27 6,23 7,29 8,30 9,32 10,25 11,21 12,26 13,20 14,30 15,23 16,35 17,32 18,20 19,27 20,26 21,32 22,29 23,30 24,26 25,18 26,21 27,28 28,23 29,27 30,26 31,24 32,29 33,31 34,26 35,17 36,19 37,21 38,19 39,29 40,26 41,30 42,11 43,34 44,26 45,24 46,20 47,27 48,14 49,21 50,26 51,22 52,21 53,32 54,34 55,23 56,27 57,13 58,12 59,36 60,15 61,7 62,42 63,12 64,1 65,15 66,36 67,12 68,42 69,23 70,34 71,41 72,34 73,40 74,34 75,24 76,36 77,-2 78,44 79,30 80,30 81,15 82,33" fill="none" stroke="#6868ff" stroke-opacity="0.45" stroke-width="0.7"/>
<polyline points="0,21 1,31 2,27 3,28 4,17 5,26 6,24 7,23 8,24 9,24 10,25 11,21 12,25 13,25 14,28 15,24 16,24 17,28 18,26 19,25 20,34 21,22 22,25 23,28 24,22 25,30 26,26 27,29 28,38 29,32 30,23 31,28 32,28 33,22 34,28 35,33 36,29 37,22 38,24 39,22 40,23 41,22 42,30 43,26 44,30 45,22 46,28 47,22 48,17 49,25 50,23 51,25 52,27 53,27 54,32 55,27 56,24 57,29 58,21 59,20 60,21 61,22 62,21 63,21 64,28 65,26 66,24 67,29 68,31 69,16 70,32 71,20 72,25 73,21 74,31 75,18 76,23 77,27 78,29 79,23 80,26 81,19 82,28" fill="none" stroke="#00e0ff" stroke-opacity="0.34" stroke-width="0.7"/>
<polyline points="0,27 1,28 2,23 3,25 4,27 5,20 6,31 7,25 8,26 9,33 10,24 11,31 12,26 13,19 14,24 15,19 16,22 17,28 18,22 19,28 20,21 21,31 22,21 23,25 24,29 25,29 26,16 27,28 28,18 29,30 30,26 31,30 32,30 33,23 34,26 35,24 36,30 37,35 38,24 39,30 40,22 41,29 42,30 43,29 44,21 45,33 46,35 47,31 48,27 49,19 50,22 51,22 52,40 53,17 54,29 55,27 56,37 57,32 58,30 59,28 60,27 61,22 62,24 63,17 64,28 65,21 66,25 67,33 68,26 69,29 70,26 71,16 72,30 73,27 74,20 75,17 76,27 77,19 78,19 79,25 80,11 81,30 82,14" fill="none" stroke="#ff50ff" stroke-opacity="0.42" stroke-width="0.7"/>
<polyline points="0,28 1,21 2,22 3,21 4,24 5,27 6,28 7,25 8,19 9,22 10,21 11,24 12,30 13,27 14,24 15,26 16,22 17,31 18,29 19,32 20,28 21,21 22,33 23,25 24,21 25,22 26,27 27,27 28,15 29,25 30,18 31,22 32,27 33,25 34,23 35,18 36,27 37,25 38,18 39,28 40,30 41,22 42,24 43,17 44,24 45,16 46,24 47,22 48,23 49,23 50,18 51,25 52,19 53,28 54,24 55,28 56,26 57,17 58,25 59,24 60,24 61,25 62,24 63,21 64,15 65,20 66,26 67,24 68,32 69,24 70,25 71,25 72,16 73,21 74,16 75,29 76,28 77,27 78,21 79,29 80,27 81,20 82,29" fill="none" stroke="#30e050" stroke-opacity="0.28" stroke-width="0.7"/>
<polyline points="0,29 1,34 2,25 3,22 4,22 5,28 6,24 7,24 8,34 9,30 10,24 11,29 12,32 13,34 14,16 15,25 16,29 17,27 18,28 19,26 20,30 21,34 22,30 23,28 24,33 25,23 26,21 27,38 28,28 29,22 30,18 31,34 32,30 33,26 34,23 35,31 36,15 37,26 38,30 39,31 40,27 41,30 42,26 43,24 44,26 45,29 46,23 47,27 48,32 49,34 50,23 51,22 52,19 53,23 54,22 55,30 56,27 57,9 58,38 59,32 60,8 61,9 62,21 63,27 64,22 65,19 66,32 67,29 68,28 69,27 70,35 71,16 72,21 73,39 74,21 75,42 76,24 77,7 78,34 79,28 80,32 81,23 82,40" fill="none" stroke="#6868ff" stroke-opacity="0.45" stroke-width="0.7"/>
<polyline points="0,24.8 1,25.0 2,25.9 3,25.2 4,24.1 5,24.7 6,27.8 7,25.2 8,23.2 9,26.9 10,24.4 11,24.1 12,24.2 13,25.0 14,26.0 15,24.4 16,25.5 17,23.8 18,24.9 19,22.6 20,25.8 21,24.4 22,25.5 23,21.7 24,25.7 25,25.7 26,22.5 27,25.5 28,24.9 29,25.0 30,23.1 31,23.9 32,27.4 33,25.0 34,24.2 35,24.5 36,26.4 37,25.2 38,23.0 39,26.9 40,26.0 41,25.8 42,24.5 43,24.6 44,20.7 45,25.2 46,25.6 47,25.4 48,22.6 49,26.7 50,25.0 51,24.4 52,22.9 53,25.2 54,26.3 55,24.2 56,25.5 57,25.9 58,23.5 59,27.0 60,26.1 61,24.2 62,23.7 63,26.2 64,25.6 65,27.7 66,23.9 67,23.9 68,27.5 69,25.3 70,23.3 71,27.4 72,26.4 73,23.7 74,25.8 75,26.1 76,22.6 77,23.5 78,26.6 79,26.2 80,24.3 81,23.5 82,25.0" fill="none" stroke="#e820e8" stroke-width="0.8" stroke-linejoin="round"/>
<polyline points="0,26.0 1,27.4 2,24.8 3,24.2 4,25.3 5,27.3 6,26.9 7,22.2 8,26.7 9,26.4 10,26.0 11,26.0 12,25.9 13,24.0 14,25.6 15,26.3 16,26.6 17,26.1 18,27.5 19,25.0 20,24.9 21,27.6 22,26.0 23,24.4 24,22.6 25,27.5 26,27.2 27,21.7 28,24.9 29,26.2 30,22.8 31,24.9 32,27.1 33,25.4 34,23.5 35,26.5 36,24.8 37,24.1 38,25.1 39,26.7 40,24.9 41,25.2 42,25.6 43,23.9 44,25.0 45,25.9 46,24.1 47,24.0 48,25.5 49,26.5 50,25.7 51,24.4 52,26.0 53,27.7 54,23.0 55,25.4 56,26.2 57,26.0 58,24.0 59,27.0 60,27.5 61,24.1 62,26.7 63,26.3 64,24.9 65,23.3 66,26.0 67,28.3 68,25.5 69,24.1 70,24.1 71,27.2 72,25.1 73,24.1 74,26.3 75,25.9 76,26.0 77,24.6 78,24.6 79,26.8 80,23.1 81,25.7 82,28.0" fill="none" stroke="#10e0f0" stroke-width="0.85" stroke-linejoin="round"/>
<polyline points="0,26.3 1,25.0 2,23.7 3,24.6 4,26.0 5,22.7 6,26.7 7,25.8 8,23.3 9,25.0 10,24.6 11,25.1 12,26.0 13,24.8 14,22.1 15,23.6 16,25.2 17,27.3 18,25.6 19,23.2 20,25.2 21,26.1 22,25.8 23,27.0 24,23.6 25,23.6 26,26.3 27,24.2 28,23.4 29,24.6 30,27.3 31,23.6 32,23.0 33,24.8 34,26.7 35,24.9 36,22.2 37,25.2 38,25.2 39,23.0 40,26.1 41,23.0 42,23.4 43,26.5 44,21.9 45,24.3 46,26.3 47,23.8 48,23.0 49,22.6 50,26.1 51,21.8 52,24.5 53,24.0 54,26.3 55,23.3 56,24.6 57,23.0 58,26.4 59,22.3 60,24.4 61,25.7 62,23.2 63,23.4 64,24.2 65,24.7 66,24.4 67,23.6 68,23.7 69,22.3 70,23.9 71,24.6 72,21.7 73,22.3 74,27.2 75,22.3 76,22.9 77,24.9 78,25.3 79,23.4 80,23.6 81,24.5 82,22.6" fill="none" stroke="#10d030" stroke-width="0.95" stroke-linejoin="round"/>
<polyline points="0,24.5 1,23.9 2,26.2 3,25.9 4,26.3 5,23.8 6,24.7 7,25.9 8,26.6 9,29.2 10,22.3 11,24.4 12,29.2 13,23.5 14,26.1 15,28.5 16,25.8 17,24.9 18,25.8 19,25.7 20,25.0 21,24.9 22,27.0 23,25.2 24,23.3 25,27.0 26,26.0 27,25.2 28,27.4 29,24.2 30,24.4 31,27.1 32,26.3 33,26.5 34,26.1 35,26.0 36,26.9 37,25.6 38,24.7 39,26.4 40,28.0 41,26.8 42,26.8 43,24.6 44,25.7 45,27.6 46,25.4 47,26.0 48,26.2 49,24.9 50,27.3 51,27.1 52,25.9 53,23.9 54,27.9 55,26.9 56,25.1 57,25.7 58,25.8 59,26.0 60,27.4 61,27.9 62,25.8 63,24.7 64,27.9 65,28.0 66,27.0 67,27.3 68,27.4 69,29.0 70,27.7 71,27.9 72,27.9 73,26.1 74,28.9 75,27.1 76,26.7 77,26.6 78,28.5 79,28.6 80,25.0 81,25.5 82,31.8" fill="none" stroke="#0808ff" stroke-width="1.0" stroke-linejoin="round"/>
</g>
<polyline points="30.1,406.3 31.2,404.9 32.3,402.1 33.5,400.7 34.6,400 35.7,405.6 36.8,406.3 38,410.5 39.1,416.1 40.2,411.9 41.3,409.1 42.4,407.7 43.6,404.9 44.7,402.1 45.8,395 46.9,400.7 48.1,403.5 49.2,402.1 50.3,409.1 51.4,403.5 52.6,402.1 53.7,404.9 54.8,403.5 55.9,404.9 57.1,409.1 58.2,407.7 59.3,403.5 60.4,406.3 61.6,402.1 62.7,404.9 63.8,409.1 64.9,406.3 66,403.5 67.2,404.9 68.3,406.3 69.4,416.1 70.5,410.5 71.7,409.1 72.8,407.7 73.6,405.6" fill="none" stroke="#000" stroke-width="1.0999999999999999" stroke-linejoin="round"/>
<polyline points="30.1,405.6 31.2,407.7 32.3,403.5 33.5,401.4 34.6,402.1 35.7,404.9 36.8,409.1 38,407.7 39.1,406.3 40.2,410.5 41.3,403.5 42.4,404.9 43.6,407.7 44.7,404.2 45.8,401.4 46.9,402.1 48.1,406.3 49.2,404.9 50.3,410.5 51.4,404.9 52.6,404.2 53.7,407 54.8,406.3 55.9,404.9 57.1,407.7 58.2,404.9 59.3,405.6 60.4,407.7 61.6,406.3 62.7,403.5 63.8,404.9 64.9,407.7 66,405.6 67.2,404.2 68.3,407.7 69.4,409.1 70.5,407 71.7,407.7 72.8,406.3 73.6,404.9" fill="none" stroke="#f00" stroke-width="0.95" stroke-linejoin="round"/>
</g>
<rect x="27.5" y="382.2" width="135.5" height="57.8" fill="none" stroke="#262626" stroke-width="0.9"/>
<path d="M27.5,440v-1.4M27.5,382.2v1.4M54.6,440v-1.4M54.6,382.2v1.4M81.7,440v-1.4M81.7,382.2v1.4M108.8,440v-1.4M108.8,382.2v1.4M135.9,440v-1.4M135.9,382.2v1.4M163,440v-1.4M163,382.2v1.4M27.5,382.2h1.4M163,382.2h-1.4M27.5,396.6h1.4M163,396.6h-1.4M27.5,411.1h1.4M163,411.1h-1.4M27.5,425.6h1.4M163,425.6h-1.4M27.5,440h1.4M163,440h-1.4" stroke="#262626" stroke-width="0.9" fill="none"/>
<text x="27.5" y="449.6" text-anchor="middle" class="t">1975</text>
<text x="54.6" y="449.6" text-anchor="middle" class="t">2000</text>
<text x="81.7" y="449.6" text-anchor="middle" class="t">2025</text>
<text x="108.8" y="449.6" text-anchor="middle" class="t">2050</text>
<text x="135.9" y="449.6" text-anchor="middle" class="t">2075</text>
<text x="163" y="449.6" text-anchor="middle" class="t">2100</text>
<text x="25" y="385.5" text-anchor="end" class="t">14 May</text>
<text x="25" y="399.9" text-anchor="end" class="t">14 Apr</text>
<text x="25" y="414.4" text-anchor="end" class="t">15 Mar</text>
<text x="25" y="428.9" text-anchor="end" class="t">13 Feb</text>
<text x="25" y="443.3" text-anchor="end" class="t">14 Jan</text>
<text x="31.8" y="379.6" class="ti">BUS</text>
<clipPath id="c9"><rect x="206.2" y="382.2" width="135.6" height="57.8"/></clipPath>
<g clip-path="url(#c9)">
<g transform="translate(252.8,382.2) scale(1.0848,1)">
<polygon points="0,24 1,22 2,22 3,23 4,22 5,23 6,24 7,24 8,22 9,23 10,23 11,23 12,21 13,24 14,18 15,23 16,23 17,22 18,22 19,19 20,19 21,23 22,22 23,22 24,15 25,18 26,23 27,24 28,19 29,22 30,23 31,22 32,24 33,23 34,23 35,22 36,17 37,22 38,18 39,21 40,23 41,23 42,22 43,23 44,17 45,22 46,22 47,17 48,22 49,22 50,23 51,22 52,21 53,23 54,21 55,23 56,16 57,15 58,23 59,23 60,22 61,21 62,20 63,22 64,22 65,17 66,21 67,21 68,23 69,21 70,23 71,21 72,20 73,19 74,19 75,17 76,21 77,21 78,22 79,21 80,21 81,22 82,21 82,38 81,37 80,36 79,36 78,34 77,37 76,34 75,35 74,34 73,35 72,36 71,37 70,36 69,35 68,34 67,34 66,36 65,35 64,42 63,34 62,34 61,35 60,38 59,39 58,37 57,34 56,35 55,34 54,36 53,34 52,34 51,36 50,33 49,34 48,40 47,35 46,32 45,34 44,35 43,35 42,34 41,37 40,33 39,34 38,32 37,34 36,33 35,33 34,35 33,33 32,32 31,35 30,35 29,34 28,35 27,33 26,34 25,32 24,33 23,33 22,34 21,32 20,34 19,33 18,34 17,34 16,32 15,38 14,34 13,33 12,34 11,34 10,34 9,34 8,35 7,35 6,34 5,33 4,32 3,33 2,32 1,32 0,33" fill="#00e0ff" fill-opacity="0.22"/>
<polygon points="0,21 1,16 2,17 3,21 4,23 5,23 6,23 7,15 8,22 9,20 10,21 11,22 12,15 13,20 14,21 15,21 16,16 17,23 18,22 19,16 20,20 21,21 22,22 23,21 24,20 25,21 26,20 27,21 28,17 29,22 30,20 31,22 32,20 33,20 34,22 35,15 36,20 37,16 38,21 39,21 40,19 41,20 42,22 43,18 44,21 45,21 46,20 47,16 48,17 49,20 50,19 51,19 52,20 53,18 54,19 55,19 56,18 57,19 58,20 59,20 60,20 61,19 62,19 63,17 64,19 65,17 66,17 67,9 68,20 69,20 70,18 71,17 72,18 73,12 74,20 75,19 76,15 77,17 78,15 79,12 80,19 81,18 82,19 82,38 81,43 80,35 79,37 78,34 77,37 76,35 75,41 74,45 73,44 72,38 71,35 70,37 69,37 68,36 67,36 66,33 65,39 64,34 63,34 62,39 61,34 60,34 59,33 58,34 57,34 56,35 55,43 54,36 53,34 52,33 51,35 50,35 49,37 48,34 47,35 46,36 45,43 44,35 43,35 42,36 41,33 40,33 39,35 38,38 37,35 36,37 35,33 34,35 33,34 32,34 31,35 30,34 29,33 28,33 27,35 26,37 25,36 24,35 23,41 22,35 21,33 20,34 19,34 18,34 17,35 16,32 15,32 14,32 13,32 12,38 11,37 10,34 9,35 8,36 7,32 6,33 5,34 4,32 3,32 2,33 1,34 0,33" fill="#ff40ff" fill-opacity="0.18"/>
<polygon points="0,23 1,23 2,22 3,22 4,23 5,22 6,22 7,21 8,21 9,23 10,22 11,22 12,22 13,21 14,21 15,23 16,16 17,22 18,22 19,23 20,21 21,17 22,22 23,21 24,15 25,22 26,21 27,23 28,21 29,22 30,22 31,22 32,21 33,22 34,22 35,22 36,22 37,22 38,23 39,22 40,21 41,17 42,22 43,22 44,22 45,18 46,18 47,23 48,23 49,22 50,23 51,21 52,15 53,22 54,22 55,21 56,20 57,16 58,14 59,21 60,22 61,21 62,20 63,21 64,20 65,22 66,14 67,20 68,18 69,20 70,23 71,17 72,20 73,20 74,22 75,21 76,20 77,21 78,21 79,14 80,21 81,22 82,20 82,35 81,33 80,33 79,32 78,33 77,32 76,34 75,33 74,32 73,33 72,33 71,33 70,33 69,33 68,33 67,36 66,38 65,34 64,33 63,33 62,33 61,33 60,35 59,33 58,32 57,37 56,36 55,33 54,35 53,32 52,32 51,32 50,32 49,34 48,31 47,31 46,37 45,32 44,33 43,31 42,33 41,31 40,33 39,33 38,33 37,32 36,37 35,31 34,35 33,33 32,32 31,37 30,38 29,31 28,35 27,33 26,32 25,31 24,31 23,32 22,32 21,31 20,33 19,32 18,30 17,31 16,34 15,30 14,33 13,32 12,31 11,32 10,33 9,30 8,32 7,31 6,32 5,32 4,31 3,32 2,32 1,34 0,33" fill="#20ff40" fill-opacity="0.12"/>
<polygon points="0,17 1,22 2,20 3,22 4,22 5,23 6,23 7,22 8,22 9,22 10,18 11,18 12,22 13,16 14,22 15,24 16,22 17,24 18,23 19,22 20,22 21,22 22,19 23,22 24,22 25,23 26,23 27,22 28,23 29,21 30,23 31,23 32,21 33,22 34,20 35,22 36,20 37,17 38,22 39,20 40,22 41,19 42,20 43,23 44,22 45,14 46,22 47,12 48,22 49,21 50,20 51,22 52,22 53,15 54,21 55,23 56,21 57,23 58,23 59,21 60,22 61,20 62,20 63,19 64,19 65,7 66,11 67,20 68,21 69,20 70,18 71,23 72,18 73,15 74,6 75,22 76,20 77,20 78,6 79,15 80,21 81,19 82,21 82,47 81,46 80,60 79,50 78,46 77,60 76,50 75,47 74,58 73,48 72,48 71,48 70,47 69,60 68,46 67,42 66,47 65,44 64,46 63,46 62,43 61,44 60,41 59,43 58,53 57,43 56,41 55,47 54,38 53,39 52,43 51,41 50,41 49,37 48,40 47,38 46,53 45,39 44,40 43,47 42,40 41,40 40,39 39,37 38,44 37,39 36,38 35,39 34,37 33,36 32,43 31,35 30,44 29,35 28,38 27,35 26,36 25,36 24,34 23,35 22,38 21,41 20,33 19,35 18,34 17,35 16,35 15,33 14,33 13,33 12,33 11,35 10,38 9,33 8,33 7,38 6,36 5,34 4,39 3,33 2,32 1,32 0,39" fill="#5050ff" fill-opacity="0.18"/>
<polyline points="0,27 1,23 2,26 3,34 4,20 5,34 6,27 7,32 8,27 9,27 10,29 11,28 12,31 13,27 14,28 15,27 16,36 17,31 18,24 19,27 20,26 21,26 22,31 23,28 24,26 25,25 26,31 27,31 28,23 29,39 30,31 31,26 32,33 33,29 34,26 35,24 36,30 37,28 38,38 39,21 40,33 41,23 42,25 43,27 44,26 45,30 46,25 47,27 48,28 49,28 50,16 51,23 52,27 53,31 54,21 55,32 56,36 57,24 58,27 59,28 60,24 61,35 62,29 63,30 64,31 65,33 66,31 67,32 68,22 69,32 70,25 71,27 72,28 73,34 74,30 75,29 76,29 77,35 78,30 79,28 80,30 81,36 82,30" fill="none" stroke="#00e0ff" stroke-opacity="0.34" stroke-width="0.7"/>
<polyline points="0,27 1,26 2,26 3,24 4,26 5,33 6,33 7,28 8,32 9,28 10,27 11,30 12,19 13,26 14,24 15,25 16,22 17,21 18,20 19,32 20,31 21,28 22,36 23,29 24,30 25,24 26,26 27,25 28,32 29,27 30,24 31,30 32,26 33,32 34,23 35,31 36,20 37,35 38,27 39,29 40,28 41,32 42,26 43,28 44,29 45,21 46,32 47,26 48,26 49,22 50,31 51,25 52,31 53,30 54,29 55,16 56,16 57,28 58,27 59,24 60,24 61,33 62,32 63,18 64,29 65,35 66,36 67,31 68,18 69,26 70,29 71,29 72,28 73,32 74,36 75,30 76,24 77,35 78,14 79,17 80,29 81,25 82,23" fill="none" stroke="#ff50ff" stroke-opacity="0.42" stroke-width="0.7"/>
<polyline points="0,26 1,26 2,22 3,24 4,29 5,28 6,23 7,26 8,27 9,28 10,23 11,31 12,29 13,27 14,22 15,27 16,24 17,23 18,23 19,26 20,30 21,31 22,31 23,29 24,28 25,30 26,27 27,25 28,32 29,22 30,26 31,23 32,24 33,25 34,27 35,31 36,29 37,29 38,21 39,30 40,29 41,25 42,25 43,31 44,22 45,23 46,29 47,22 48,25 49,30 50,31 51,24 52,28 53,24 54,25 55,24 56,23 57,32 58,20 59,29 60,25 61,26 62,32 63,29 64,26 65,22 66,24 67,30 68,25 69,29 70,26 71,28 72,27 73,25 74,25 75,25 76,30 77,29 78,27 79,27 80,36 81,31 82,22" fill="none" stroke="#30e050" stroke-opacity="0.28" stroke-width="0.7"/>
<polyline points="0,28 1,22 2,20 3,28 4,21 5,33 6,27 7,32 8,28 9,26 10,26 11,27 12,34 13,25 14,30 15,31 16,28 17,31 18,28 19,25 20,27 21,31 22,29 23,26 24,27 25,27 26,20 27,36 28,29 29,30 30,34 31,22 32,22 33,34 34,35 35,23 36,28 37,24 38,21 39,28 40,28 41,26 42,33 43,26 44,27 45,35 46,23 47,22 48,22 49,23 50,29 51,32 52,24 53,32 54,25 55,30 56,35 57,33 58,28 59,35 60,31 61,34 62,30 63,20 64,37 65,25 66,34 67,22 68,21 69,42 70,34 71,30 72,23 73,41 74,22 75,25 76,27 77,28 78,38 79,17 80,29 81,32 82,49" fill="none" stroke="#6868ff" stroke-opacity="0.45" stroke-width="0.7"/>
<polyline points="0,31 1,34 2,31 3,26 4,23 5,28 6,34 7,25 8,28 9,29 10,27 11,26 12,25 13,27 14,28 15,26 16,31 17,28 18,25 19,32 20,27 21,33 22,18 23,23 24,22 25,25 26,27 27,20 28,31 29,24 30,28 31,32 32,23 33,27 34,29 35,28 36,33 37,25 38,29 39,24 40,28 41,23 42,31 43,29 44,26 45,25 46,31 47,30 48,22 49,33 50,31 51,33 52,24 53,31 54,29 55,31 56,27 57,19 58,33 59,30 60,26 61,31 62,29 63,31 64,28 65,30 66,28 67,35 68,25 69,29 70,33 71,31 72,27 73,27 74,28 75,29 76,28 77,26 78,28 79,27 80,21 81,29 82,23" fill="none" stroke="#00e0ff" stroke-opacity="0.34" stroke-width="0.7"/>
<polyline points="0,23 1,27 2,27 3,30 4,24 5,30 6,34 7,27 8,30 9,31 10,24 11,26 12,31 13,24 14,25 15,28 16,31 17,30 18,19 19,29 20,28 21,32 22,26 23,29 24,26 25,31 26,21 27,33 28,28 29,22 30,24 31,24 32,23 33,24 34,25 35,29 36,28 37,25 38,30 39,29 40,27 41,38 42,31 43,29 44,28 45,24 46,22 47,30 48,29 49,30 50,20 51,31 52,24 53,23 54,29 55,20 56,30 57,36 58,25 59,13 60,29 61,22 62,29 63,35 64,25 65,23 66,28 67,30 68,29 69,28 70,35 71,29 72,13 73,27 74,34 75,31 76,30 77,14 78,38 79,31 80,40 81,31 82,19" fill="none" stroke="#ff50ff" stroke-opacity="0.42" stroke-width="0.7"/>
<polyline points="0,22 1,35 2,21 3,29 4,29 5,21 6,25 7,29 8,27 9,26 10,27 11,22 12,23 13,28 14,29 15,24 16,31 17,26 18,25 19,32 20,29 21,24 22,26 23,26 24,28 25,28 26,24 27,29 28,23 29,27 30,23 31,32 32,29 33,26 34,27 35,28 36,30 37,29 38,24 39,25 40,29 41,26 42,30 43,23 44,25 45,31 46,27 47,33 48,32 49,25 50,31 51,29 52,29 53,26 54,28 55,24 56,24 57,25 58,26 59,28 60,24 61,29 62,29 63,28 64,24 65,21 66,29 67,24 68,18 69,27 70,31 71,25 72,29 73,26 74,29 75,27 76,24 77,27 78,23 79,27 80,32 81,25 82,22" fill="none" stroke="#30e050" stroke-opacity="0.28" stroke-width="0.7"/>
<polyline points="0,28 1,32 2,23 3,28 4,33 5,25 6,28 7,28 8,30 9,24 10,27 11,29 12,30 13,27 14,29 15,32 16,27 17,35 18,31 19,25 20,31 21,28 22,29 23,29 24,22 25,26 26,21 27,29 28,21 29,38 30,30 31,28 32,24 33,28 34,38 35,30 36,42 37,27 38,33 39,29 40,29 41,24 42,31 43,32 44,28 45,28 46,34 47,42 48,32 49,28 50,29 51,32 52,21 53,30 54,39 55,31 56,43 57,28 58,41 59,27 60,40 61,27 62,34 63,25 64,14 65,30 66,27 67,39 68,45 69,13 70,13 71,23 72,36 73,37 74,27 75,26 76,44 77,35 78,38 79,28 80,30 81,42 82,25" fill="none" stroke="#6868ff" stroke-opacity="0.45" stroke-width="0.7"/>
<polyline points="0,26 1,33 2,26 3,21 4,22 5,26 6,28 7,28 8,22 9,27 10,26 11,27 12,28 13,32 14,31 15,30 16,26 17,27 18,24 19,33 20,28 21,31 22,37 23,31 24,27 25,31 26,27 27,25 28,27 29,30 30,21 31,32 32,26 33,27 34,24 35,28 36,26 37,23 38,33 39,23 40,29 41,28 42,26 43,30 44,23 45,31 46,33 47,33 48,30 49,28 50,28 51,20 52,31 53,28 54,31 55,20 56,27 57,23 58,26 59,19 60,21 61,28 62,28 63,19 64,31 65,27 66,31 67,30 68,30 69,34 70,36 71,26 72,24 73,28 74,30 75,32 76,28 77,21 78,27 79,33 80,31 81,27 82,24" fill="none" stroke="#00e0ff" stroke-opacity="0.34" stroke-width="0.7"/>
<polyline points="0,31 1,28 2,31 3,25 4,30 5,26 6,30 7,29 8,27 9,28 10,31 11,32 12,36 13,29 14,28 15,20 16,26 17,34 18,23 19,22 20,28 21,27 22,24 23,31 24,24 25,30 26,32 27,29 28,27 29,26 30,30 31,33 32,30 33,25 34,29 35,24 36,20 37,30 38,22 39,21 40,28 41,26 42,21 43,31 44,20 45,28 46,30 47,30 48,33 49,26 50,22 51,26 52,27 53,29 54,30 55,33 56,28 57,36 58,31 59,23 60,29 61,22 62,22 63,28 64,24 65,26 66,34 67,33 68,38 69,28 70,28 71,28 72,27 73,26 74,32 75,37 76,28 77,19 78,23 79,26 80,22 81,26 82,33" fill="none" stroke="#ff50ff" stroke-opacity="0.42" stroke-width="0.7"/>
<polyline points="0,27 1,26 2,28 3,25 4,26 5,29 6,27 7,28 8,28 9,27 10,34 11,27 12,28 13,34 14,26 15,29 16,31 17,28 18,29 19,22 20,23 21,26 22,37 23,27 24,18 25,24 26,25 27,28 28,32 29,27 30,32 31,28 32,35 33,24 34,30 35,27 36,29 37,31 38,28 39,28 40,21 41,24 42,28 43,35 44,25 45,22 46,25 47,22 48,23 49,30 50,24 51,22 52,33 53,28 54,25 55,29 56,28 57,26 58,22 59,22 60,28 61,24 62,28 63,26 64,24 65,25 66,20 67,23 68,31 69,25 70,25 71,29 72,26 73,28 74,29 75,30 76,28 77,33 78,30 79,26 80,29 81,28 82,29" fill="none" stroke="#30e050" stroke-opacity="0.28" stroke-width="0.7"/>
<polyline points="0,29 1,26 2,33 3,33 4,31 5,29 6,28 7,32 8,28 9,34 10,24 11,22 12,20 13,20 14,23 15,29 16,27 17,34 18,32 19,28 20,30 21,33 22,26 23,29 24,30 25,31 26,28 27,32 28,28 29,25 30,30 31,33 32,25 33,33 34,18 35,25 36,30 37,16 38,37 39,39 40,36 41,34 42,33 43,23 44,24 45,24 46,28 47,32 48,21 49,31 50,27 51,28 52,37 53,26 54,29 55,37 56,30 57,43 58,30 59,40 60,30 61,47 62,24 63,28 64,33 65,33 66,39 67,41 68,37 69,38 70,36 71,26 72,31 73,43 74,50 75,34 76,15 77,26 78,28 79,49 80,28 81,15 82,37" fill="none" stroke="#6868ff" stroke-opacity="0.45" stroke-width="0.7"/>
<polyline points="0,25 1,29 2,25 3,27 4,26 5,32 6,27 7,24 8,27 9,27 10,32 11,25 12,26 13,31 14,23 15,32 16,29 17,19 18,28 19,22 20,27 21,28 22,20 23,29 24,25 25,26 26,29 27,35 28,30 29,27 30,32 31,27 32,27 33,33 34,32 35,32 36,24 37,31 38,22 39,26 40,28 41,30 42,29 43,23 44,24 45,28 46,18 47,33 48,22 49,31 50,25 51,30 52,25 53,37 54,29 55,28 56,29 57,32 58,28 59,19 60,39 61,40 62,36 63,34 64,40 65,24 66,32 67,26 68,30 69,18 70,29 71,36 72,28 73,27 74,36 75,15 76,28 77,30 78,30 79,27 80,29 81,30 82,22" fill="none" stroke="#00e0ff" stroke-opacity="0.34" stroke-width="0.7"/>
<polyline points="0,24 1,30 2,26 3,31 4,28 5,38 6,23 7,32 8,21 9,31 10,34 11,33 12,29 13,27 14,22 15,27 16,21 17,25 18,23 19,35 20,29 21,32 22,31 23,32 24,28 25,25 26,27 27,31 28,36 29,27 30,29 31,25 32,30 33,23 34,29 35,22 36,23 37,31 38,35 39,34 40,23 41,16 42,28 43,28 44,24 45,30 46,32 47,24 48,22 49,30 50,28 51,19 52,27 53,26 54,19 55,22 56,14 57,36 58,28 59,31 60,24 61,30 62,29 63,28 64,27 65,28 66,18 67,20 68,23 69,34 70,32 71,19 72,30 73,29 74,28 75,26 76,32 77,24 78,28 79,23 80,35 81,37 82,32" fill="none" stroke="#ff50ff" stroke-opacity="0.42" stroke-width="0.7"/>
<polyline points="0,25 1,33 2,24 3,27 4,27 5,29 6,26 7,27 8,25 9,29 10,28 11,28 12,34 13,28 14,26 15,31 16,27 17,29 18,25 19,29 20,26 21,27 22,28 23,30 24,28 25,25 26,21 27,25 28,27 29,31 30,29 31,25 32,24 33,22 34,28 35,26 36,22 37,28 38,31 39,22 40,27 41,25 42,24 43,30 44,29 45,19 46,31 47,25 48,28 49,28 50,21 51,26 52,25 53,25 54,28 55,30 56,16 57,21 58,28 59,31 60,25 61,28 62,28 63,28 64,28 65,26 66,28 67,30 68,22 69,28 70,22 71,27 72,26 73,21 74,24 75,26 76,19 77,18 78,27 79,19 80,22 81,23 82,28" fill="none" stroke="#30e050" stroke-opacity="0.28" stroke-width="0.7"/>
<polyline points="0,24 1,32 2,29 3,29 4,26 5,25 6,23 7,23 8,34 9,28 10,34 11,23 12,26 13,33 14,29 15,32 16,26 17,30 18,22 19,24 20,30 21,27 22,23 23,28 24,24 25,29 26,29 27,30 28,28 29,26 30,35 31,31 32,28 33,33 34,23 35,22 36,28 37,20 38,36 39,26 40,36 41,35 42,21 43,32 44,33 45,30 46,25 47,36 48,26 49,42 50,32 51,30 52,28 53,32 54,40 55,22 56,26 57,29 58,26 59,33 60,23 61,28 62,33 63,28 64,27 65,36 66,28 67,28 68,41 69,30 70,28 71,26 72,37 73,39 74,35 75,33 76,29 77,32 78,31 79,35 80,15 81,18 82,56" fill="none" stroke="#6868ff" stroke-opacity="0.45" stroke-width="0.7"/>
<polyline points="0,30 1,24 2,31 3,27 4,28 5,29 6,27 7,26 8,39 9,32 10,25 11,24 12,30 13,29 14,34 15,30 16,27 17,29 18,29 19,33 20,30 21,31 22,30 23,25 24,28 25,30 26,32 27,29 28,30 29,21 30,29 31,30 32,25 33,33 34,27 35,31 36,31 37,28 38,32 39,25 40,35 41,26 42,36 43,19 44,34 45,24 46,26 47,33 48,27 49,29 50,25 51,31 52,31 53,31 54,34 55,27 56,31 57,23 58,26 59,23 60,27 61,32 62,27 63,25 64,25 65,26 66,31 67,26 68,27 69,25 70,24 71,28 72,22 73,32 74,24 75,34 76,26 77,25 78,32 79,27 80,35 81,31 82,24" fill="none" stroke="#00e0ff" stroke-opacity="0.34" stroke-width="0.7"/>
<polyline points="0,34 1,31 2,30 3,24 4,22 5,28 6,20 7,24 8,26 9,32 10,29 11,25 12,27 13,27 14,32 15,32 16,29 17,29 18,29 19,23 20,27 21,22 22,22 23,31 24,22 25,35 26,25 27,33 28,30 29,23 30,29 31,29 32,27 33,25 34,27 35,28 36,26 37,31 38,20 39,24 40,22 41,26 42,25 43,26 44,31 45,35 46,35 47,23 48,23 49,26 50,23 51,26 52,22 53,29 54,35 55,20 56,24 57,30 58,26 59,19 60,23 61,32 62,31 63,29 64,27 65,26 66,32 67,31 68,26 69,32 70,33 71,24 72,31 73,29 74,27 75,29 76,32 77,23 78,38 79,25 80,31 81,15 82,30" fill="none" stroke="#ff50ff" stroke-opacity="0.42" stroke-width="0.7"/>
<polyline points="0,25 1,25 2,23 3,29 4,25 5,27 6,28 7,28 8,30 9,26 10,26 11,27 12,23 13,28 14,26 15,31 16,22 17,31 18,22 19,24 20,24 21,28 22,27 23,24 24,34 25,24 26,26 27,16 28,26 29,29 30,24 31,29 32,25 33,21 34,30 35,26 36,24 37,26 38,28 39,29 40,30 41,32 42,28 43,26 44,26 45,29 46,21 47,30 48,29 49,31 50,32 51,33 52,23 53,28 54,30 55,23 56,28 57,27 58,31 59,35 60,30 61,24 62,22 63,26 64,29 65,29 66,27 67,25 68,27 69,18 70,25 71,28 72,31 73,32 74,30 75,17 76,33 77,28 78,26 79,29 80,27 81,33 82,28" fill="none" stroke="#30e050" stroke-opacity="0.28" stroke-width="0.7"/>
<polyline points="0,26 1,30 2,38 3,33 4,25 5,24 6,25 7,24 8,26 9,26 10,23 11,39 12,28 13,33 14,31 15,35 16,27 17,30 18,32 19,34 20,29 21,33 22,30 23,26 24,28 25,24 26,34 27,27 28,31 29,14 30,26 31,24 32,30 33,30 34,29 35,28 36,31 37,26 38,30 39,31 40,38 41,39 42,27 43,25 44,22 45,26 46,29 47,17 48,20 49,40 50,28 51,30 52,43 53,25 54,31 55,46 56,45 57,32 58,24 59,39 60,32 61,38 62,39 63,43 64,26 65,38 66,42 67,29 68,29 69,22 70,27 71,28 72,14 73,29 74,31 75,55 76,13 77,26 78,28 79,32 80,26 81,56 82,43" fill="none" stroke="#6868ff" stroke-opacity="0.45" stroke-width="0.7"/>
<polyline points="0,28.1 1,29.1 2,26.3 3,28.1 4,29.0 5,26.5 6,27.5 7,30.0 8,27.7 9,25.1 10,28.8 11,27.3 12,29.7 13,27.1 14,27.7 15,24.7 16,27.5 17,26.1 18,29.2 19,27.0 20,28.7 21,26.6 22,27.0 23,28.2 24,27.1 25,28.6 26,24.3 27,27.7 28,26.9 29,28.3 30,27.9 31,26.4 32,27.4 33,26.4 34,25.3 35,29.1 36,29.3 37,23.8 38,28.1 39,28.5 40,27.1 41,25.7 42,26.6 43,29.4 44,27.3 45,25.9 46,29.2 47,27.6 48,27.1 49,26.1 50,27.3 51,27.9 52,26.5 53,25.5 54,29.6 55,28.6 56,25.2 57,26.5 58,28.5 59,27.9 60,24.1 61,26.4 62,29.0 63,27.5 64,26.0 65,26.3 66,28.3 67,27.7 68,25.6 69,27.5 70,28.9 71,27.8 72,26.7 73,27.1 74,25.7 75,28.6 76,27.7 77,24.3 78,29.6 79,26.8 80,26.8 81,29.0 82,28.6" fill="none" stroke="#e820e8" stroke-width="0.8" stroke-linejoin="round"/>
<polyline points="0,29.4 1,27.5 2,27.1 3,27.2 4,27.3 5,27.8 6,28.0 7,29.3 8,26.5 9,26.1 10,29.3 11,28.0 12,29.2 13,26.8 14,27.2 15,27.3 16,26.0 17,26.9 18,29.7 19,26.3 20,29.4 21,28.3 22,27.0 23,26.3 24,28.9 25,29.9 26,28.2 27,25.4 28,29.6 29,29.7 30,28.2 31,26.9 32,29.1 33,28.4 34,25.8 35,28.6 36,28.5 37,26.1 38,27.9 39,30.8 40,28.6 41,25.8 42,25.6 43,30.9 44,28.2 45,25.2 46,27.5 47,29.1 48,27.2 49,30.5 50,27.1 51,28.4 52,28.3 53,30.2 54,26.7 55,27.6 56,30.2 57,27.5 58,26.4 59,28.7 60,29.2 61,26.3 62,27.7 63,30.1 64,26.2 65,28.1 66,29.5 67,28.2 68,29.1 69,27.2 70,27.0 71,28.1 72,27.9 73,29.7 74,28.4 75,25.6 76,27.4 77,27.3 78,27.4 79,26.0 80,29.7 81,29.0 82,25.7" fill="none" stroke="#10e0f0" stroke-width="0.85" stroke-linejoin="round"/>
<polyline points="0,27.6 1,28.9 2,25.2 3,25.1 4,26.6 5,28.1 6,26.0 7,25.5 8,27.4 9,26.9 10,29.4 11,26.5 12,26.0 13,28.7 14,28.1 15,24.7 16,29.9 17,27.2 18,25.2 19,27.0 20,30.0 21,24.9 22,25.8 23,28.5 24,26.1 25,25.8 26,27.8 27,25.6 28,27.5 29,29.5 30,24.5 31,25.6 32,28.1 33,28.2 34,27.4 35,27.1 36,25.9 37,27.9 38,27.4 39,27.8 40,27.6 41,28.8 42,27.8 43,26.3 44,28.2 45,28.3 46,27.3 47,25.0 48,28.2 49,27.4 50,27.3 51,26.2 52,24.2 53,29.1 54,27.3 55,28.0 56,26.2 57,28.7 58,29.2 59,26.2 60,26.3 61,29.5 62,27.9 63,28.8 64,24.3 65,26.8 66,29.7 67,29.4 68,24.6 69,27.3 70,28.0 71,27.4 72,27.4 73,27.2 74,27.0 75,29.2 76,28.0 77,26.7 78,27.5 79,27.5 80,28.8 81,26.7 82,27.8" fill="none" stroke="#10d030" stroke-width="0.95" stroke-linejoin="round"/>
<polyline points="0,27.3 1,27.0 2,29.2 3,31.1 4,26.4 5,29.5 6,28.6 7,27.0 8,29.3 9,30.2 10,27.7 11,28.1 12,27.2 13,26.7 14,28.9 15,29.3 16,28.1 17,28.1 18,28.7 19,29.2 20,28.0 21,27.9 22,29.9 23,28.4 24,31.4 25,27.7 26,27.2 27,29.6 28,28.4 29,28.2 30,28.4 31,32.1 32,28.5 33,24.7 34,29.1 35,30.7 36,28.2 37,30.4 38,28.4 39,27.1 40,30.3 41,30.0 42,27.9 43,27.3 44,31.7 45,29.2 46,26.9 47,30.7 48,31.0 49,28.2 50,27.3 51,32.3 52,29.1 53,28.8 54,29.7 55,31.7 56,29.3 57,30.5 58,31.8 59,29.2 60,30.6 61,29.4 62,29.5 63,33.4 64,30.3 65,29.7 66,31.7 67,30.9 68,32.6 69,31.3 70,30.7 71,31.2 72,32.8 73,33.2 74,32.1 75,29.8 76,31.3 77,29.7 78,31.3 79,31.7 80,31.1 81,30.5 82,33.8" fill="none" stroke="#0808ff" stroke-width="1.0" stroke-linejoin="round"/>
</g>
<polyline points="209.1,406.3 210.2,400.7 211.3,407.7 212.5,404.9 213.6,400.7 214.7,406.3 215.8,410.5 217,413.3 218.1,420.3 219.2,411.9 220.3,404.9 221.4,407.7 222.6,406.3 223.7,402.1 224.8,395 225.9,404.9 227.1,403.5 228.2,406.3 229.3,404.9 230.4,402.1 231.6,407.7 232.7,409.1 233.8,407.7 234.9,409.1 236.1,410.5 237.2,414.7 238.3,413.3 239.4,409.1 240.6,407.7 241.7,410.5 242.8,409.1 243.9,414.7 245,407.7 246.2,405.6 247.3,410.5 248.4,411.9 249.5,409.1 250.7,414.7 251.8,410.5 252.6,409.1" fill="none" stroke="#000" stroke-width="1.0999999999999999" stroke-linejoin="round"/>
<polyline points="209.1,407.7 210.2,408.4 211.3,406.3 212.5,407 213.6,404.9 214.7,408.4 215.8,409.8 217,409.1 218.1,410.5 219.2,407.7 220.3,405.6 221.4,409.1 222.6,410.5 223.7,407.7 224.8,403.5 225.9,406.3 227.1,407.7 228.2,409.1 229.3,406.3 230.4,403.5 231.6,409.1 232.7,408.4 233.8,409.8 234.9,409.1 236.1,407.7 237.2,410.5 238.3,409.1 239.4,409.8 240.6,410.5 241.7,408.4 242.8,409.1 243.9,411.2 245,409.1 246.2,408.4 247.3,410.5 248.4,409.8 249.5,409.1 250.7,411.2 251.8,409.8 252.6,410.5" fill="none" stroke="#f00" stroke-width="0.95" stroke-linejoin="round"/>
</g>
<rect x="206.2" y="382.2" width="135.6" height="57.8" fill="none" stroke="#262626" stroke-width="0.9"/>
<path d="M206.2,440v-1.4M206.2,382.2v1.4M233.3,440v-1.4M233.3,382.2v1.4M260.4,440v-1.4M260.4,382.2v1.4M287.6,440v-1.4M287.6,382.2v1.4M314.7,440v-1.4M314.7,382.2v1.4M341.8,440v-1.4M341.8,382.2v1.4M206.2,382.2h1.4M341.8,382.2h-1.4M206.2,396.6h1.4M341.8,396.6h-1.4M206.2,411.1h1.4M341.8,411.1h-1.4M206.2,425.6h1.4M341.8,425.6h-1.4M206.2,440h1.4M341.8,440h-1.4" stroke="#262626" stroke-width="0.9" fill="none"/>
<text x="206.2" y="449.6" text-anchor="middle" class="t">1975</text>
<text x="233.3" y="449.6" text-anchor="middle" class="t">2000</text>
<text x="260.4" y="449.6" text-anchor="middle" class="t">2025</text>
<text x="287.6" y="449.6" text-anchor="middle" class="t">2050</text>
<text x="314.7" y="449.6" text-anchor="middle" class="t">2075</text>
<text x="341.8" y="449.6" text-anchor="middle" class="t">2100</text>
<text x="203.7" y="385.5" text-anchor="end" class="t">03 Jun</text>
<text x="203.7" y="399.9" text-anchor="end" class="t">04 May</text>
<text x="203.7" y="414.4" text-anchor="end" class="t">04 Apr</text>
<text x="203.7" y="428.9" text-anchor="end" class="t">05 Mar</text>
<text x="203.7" y="443.3" text-anchor="end" class="t">03 Feb</text>
<text x="210.5" y="379.6" class="ti">BUE</text>
<clipPath id="c10"><rect x="27.5" y="462.6" width="135.5" height="57.6"/></clipPath>
<g clip-path="url(#c10)">
<g transform="translate(74.1,462.6) scale(1.0840,1)">
<polygon points="0,9 1,11 2,11 3,4 4,8 5,11 6,12 7,11 8,12 9,12 10,12 11,11 12,4 13,10 14,12 15,9 16,10 17,9 18,10 19,11 20,10 21,3 22,12 23,10 24,11 25,11 26,10 27,6 28,9 29,10 30,12 31,12 32,5 33,11 34,9 35,5 36,12 37,6 38,1 39,10 40,4 41,11 42,6 43,13 44,9 45,12 46,13 47,13 48,13 49,12 50,11 51,11 52,12 53,11 54,11 55,13 56,3 57,12 58,11 59,8 60,11 61,10 62,12 63,12 64,11 65,10 66,11 67,13 68,11 69,10 70,11 71,11 72,11 73,13 74,10 75,10 76,11 77,11 78,12 79,10 80,10 81,4 82,1 82,27 81,31 80,38 79,29 78,29 77,35 76,28 75,38 74,27 73,39 72,31 71,28 70,37 69,26 68,27 67,25 66,26 65,25 64,30 63,25 62,27 61,26 60,31 59,26 58,27 57,25 56,24 55,25 54,26 53,25 52,25 51,26 50,26 49,24 48,24 47,25 46,32 45,26 44,25 43,26 42,25 41,26 40,23 39,26 38,25 37,23 36,23 35,24 34,23 33,23 32,24 31,26 30,23 29,24 28,24 27,24 26,25 25,23 24,24 23,24 22,26 21,25 20,30 19,28 18,24 17,22 16,23 15,25 14,22 13,23 12,24 11,23 10,25 9,23 8,28 7,23 6,23 5,23 4,23 3,23 2,24 1,23 0,23" fill="#00e0ff" fill-opacity="0.22"/>
<polygon points="0,12 1,10 2,12 3,10 4,9 5,11 6,12 7,11 8,12 9,5 10,10 11,10 12,13 13,12 14,11 15,9 16,10 17,11 18,10 19,11 20,13 21,12 22,10 23,12 24,10 25,13 26,12 27,9 28,2 29,13 30,12 31,13 32,12 33,10 34,10 35,11 36,10 37,11 38,11 39,11 40,11 41,13 42,13 43,9 44,11 45,13 46,11 47,10 48,6 49,9 50,13 51,12 52,11 53,11 54,9 55,11 56,11 57,14 58,10 59,9 60,12 61,12 62,14 63,12 64,13 65,4 66,13 67,13 68,14 69,12 70,11 71,13 72,12 73,14 74,11 75,13 76,11 77,12 78,13 79,14 80,13 81,13 82,12 82,41 81,35 80,33 79,37 78,37 77,37 76,35 75,31 74,31 73,36 72,36 71,31 70,32 69,35 68,35 67,40 66,33 65,30 64,29 63,29 62,33 61,28 60,30 59,38 58,29 57,36 56,31 55,30 54,30 53,27 52,30 51,27 50,29 49,29 48,29 47,27 46,26 45,26 44,33 43,28 42,32 41,27 40,28 39,27 38,26 37,24 36,26 35,27 34,25 33,27 32,26 31,24 30,25 29,25 28,24 27,24 26,27 25,26 24,25 23,26 22,24 21,24 20,24 19,24 18,25 17,23 16,31 15,24 14,23 13,27 12,23 11,23 10,24 9,24 8,24 7,24 6,22 5,24 4,23 3,23 2,22 1,22 0,24" fill="#ff40ff" fill-opacity="0.18"/>
<polygon points="0,11 1,10 2,7 3,8 4,11 5,9 6,10 7,11 8,12 9,10 10,11 11,11 12,12 13,12 14,13 15,13 16,13 17,11 18,12 19,12 20,12 21,11 22,11 23,12 24,11 25,12 26,13 27,7 28,7 29,13 30,12 31,13 32,11 33,11 34,12 35,6 36,14 37,14 38,12 39,13 40,13 41,7 42,12 43,11 44,12 45,13 46,6 47,13 48,14 49,14 50,8 51,15 52,13 53,13 54,9 55,15 56,14 57,15 58,13 59,11 60,15 61,13 62,14 63,13 64,15 65,13 66,14 67,14 68,15 69,15 70,8 71,15 72,15 73,10 74,15 75,14 76,15 77,9 78,16 79,15 80,16 81,8 82,15 82,29 81,28 80,29 79,27 78,30 77,28 76,28 75,35 74,27 73,28 72,29 71,28 70,32 69,34 68,34 67,26 66,32 65,27 64,26 63,27 62,26 61,25 60,27 59,26 58,33 57,25 56,29 55,31 54,25 53,24 52,26 51,27 50,24 49,25 48,25 47,26 46,31 45,30 44,24 43,24 42,23 41,25 40,23 39,25 38,23 37,23 36,24 35,23 34,24 33,23 32,24 31,23 30,29 29,23 28,24 27,22 26,23 25,23 24,22 23,26 22,22 21,22 20,23 19,23 18,23 17,23 16,23 15,23 14,23 13,23 12,27 11,23 10,24 9,23 8,25 7,24 6,21 5,26 4,21 3,21 2,23 1,21 0,22" fill="#20ff40" fill-opacity="0.12"/>
<polygon points="0,3 1,11 2,14 3,13 4,11 5,13 6,10 7,14 8,10 9,14 10,12 11,14 12,12 13,14 14,8 15,12 16,3 17,12 18,12 19,15 20,14 21,4 22,5 23,3 24,13 25,13 26,10 27,12 28,14 29,14 30,7 31,14 32,10 33,12 34,15 35,4 36,13 37,14 38,15 39,15 40,12 41,12 42,15 43,14 44,12 45,6 46,13 47,14 48,16 49,11 50,15 51,9 52,15 53,6 54,12 55,10 56,13 57,15 58,15 59,17 60,13 61,15 62,14 63,16 64,18 65,18 66,15 67,14 68,14 69,16 70,10 71,17 72,14 73,14 74,7 75,15 76,15 77,18 78,14 79,19 80,6 81,17 82,0 82,53 81,43 80,44 79,48 78,46 77,47 76,46 75,43 74,60 73,45 72,43 71,46 70,43 69,52 68,55 67,38 66,37 65,51 64,38 63,40 62,38 61,40 60,39 59,40 58,38 57,36 56,38 55,33 54,37 53,42 52,35 51,33 50,31 49,34 48,32 47,32 46,30 45,30 44,32 43,35 42,31 41,30 40,35 39,30 38,29 37,29 36,27 35,29 34,29 33,29 32,28 31,28 30,27 29,29 28,27 27,26 26,28 25,28 24,25 23,26 22,26 21,26 20,27 19,25 18,26 17,27 16,26 15,25 14,26 13,25 12,24 11,31 10,25 9,24 8,24 7,24 6,28 5,28 4,24 3,25 2,24 1,24 0,30" fill="#5050ff" fill-opacity="0.18"/>
<polyline points="0,15 1,15 2,22 3,14 4,18 5,14 6,17 7,16 8,12 9,17 10,12 11,14 12,18 13,20 14,21 15,21 16,19 17,15 18,17 19,17 20,22 21,19 22,22 23,19 24,16 25,17 26,8 27,20 28,17 29,9 30,21 31,18 32,20 33,19 34,25 35,13 36,13 37,18 38,17 39,18 40,21 41,8 42,6 43,17 44,12 45,16 46,22 47,18 48,17 49,6 50,19 51,20 52,8 53,16 54,19 55,22 56,24 57,10 58,23 59,20 60,18 61,22 62,21 63,19 64,3 65,16 66,25 67,20 68,16 69,13 70,28 71,19 72,23 73,23 74,16 75,14 76,10 77,14 78,16 79,15 80,16 81,9 82,28" fill="none" stroke="#00e0ff" stroke-opacity="0.34" stroke-width="0.7"/>
<polyline points="0,17 1,21 2,12 3,18 4,20 5,16 6,12 7,20 8,6 9,19 10,23 11,9 12,13 13,22 14,21 15,11 16,21 17,23 18,23 19,21 20,21 21,23 22,21 23,17 24,20 25,21 26,17 27,24 28,18 29,15 30,12 31,22 32,11 33,23 34,20 35,23 36,28 37,13 38,22 39,20 40,23 41,22 42,22 43,18 44,16 45,27 46,19 47,29 48,20 49,23 50,22 51,17 52,29 53,20 54,17 55,18 56,14 57,28 58,22 59,29 60,19 61,18 62,16 63,25 64,16 65,31 66,24 67,15 68,22 69,19 70,19 71,7 72,31 73,22 74,15 75,15 76,27 77,29 78,16 79,28 80,16 81,20 82,23" fill="none" stroke="#ff50ff" stroke-opacity="0.42" stroke-width="0.7"/>
<polyline points="0,20 1,21 2,20 3,15 4,14 5,14 6,18 7,20 8,14 9,21 10,12 11,19 12,15 13,18 14,14 15,14 16,19 17,20 18,19 19,19 20,19 21,21 22,21 23,21 24,19 25,17 26,14 27,21 28,20 29,18 30,15 31,18 32,19 33,15 34,18 35,14 36,21 37,18 38,19 39,20 40,19 41,25 42,25 43,20 44,11 45,18 46,26 47,20 48,21 49,12 50,28 51,28 52,14 53,23 54,14 55,19 56,27 57,27 58,25 59,18 60,18 61,17 62,20 63,21 64,22 65,26 66,22 67,21 68,22 69,21 70,25 71,21 72,27 73,17 74,31 75,21 76,22 77,20 78,19 79,27 80,25 81,23 82,17" fill="none" stroke="#30e050" stroke-opacity="0.28" stroke-width="0.7"/>
<polyline points="0,23 1,20 2,19 3,13 4,22 5,23 6,16 7,13 8,24 9,23 10,12 11,19 12,21 13,15 14,15 15,18 16,24 17,18 18,18 19,27 20,17 21,23 22,21 23,26 24,23 25,26 26,21 27,19 28,15 29,20 30,22 31,27 32,19 33,21 34,24 35,18 36,33 37,14 38,23 39,24 40,21 41,27 42,19 43,22 44,26 45,29 46,33 47,24 48,27 49,12 50,15 51,17 52,12 53,13 54,29 55,26 56,19 57,35 58,26 59,31 60,31 61,39 62,26 63,19 64,29 65,16 66,19 67,30 68,23 69,27 70,30 71,29 72,25 73,36 74,33 75,22 76,40 77,22 78,21 79,30 80,25 81,30 82,17" fill="none" stroke="#6868ff" stroke-opacity="0.45" stroke-width="0.7"/>
<polyline points="0,20 1,20 2,20 3,24 4,21 5,23 6,20 7,10 8,21 9,19 10,18 11,20 12,22 13,15 14,17 15,14 16,15 17,20 18,17 19,20 20,22 21,17 22,26 23,16 24,20 25,20 26,10 27,25 28,20 29,17 30,17 31,15 32,21 33,15 34,17 35,21 36,15 37,26 38,15 39,14 40,7 41,13 42,21 43,15 44,18 45,20 46,17 47,27 48,18 49,13 50,22 51,15 52,17 53,13 54,20 55,20 56,17 57,17 58,13 59,16 60,14 61,25 62,17 63,27 64,17 65,29 66,21 67,30 68,13 69,15 70,11 71,17 72,18 73,9 74,10 75,26 76,20 77,17 78,28 79,29 80,19 81,25 82,11" fill="none" stroke="#00e0ff" stroke-opacity="0.34" stroke-width="0.7"/>
<polyline points="0,19 1,17 2,19 3,20 4,14 5,13 6,17 7,23 8,12 9,20 10,20 11,15 12,16 13,20 14,-0 15,19 16,18 17,23 18,11 19,18 20,16 21,11 22,20 23,11 24,14 25,20 26,17 27,20 28,13 29,15 30,19 31,10 32,20 33,20 34,24 35,11 36,20 37,20 38,15 39,23 40,20 41,18 42,25 43,20 44,7 45,21 46,18 47,19 48,23 49,27 50,27 51,14 52,22 53,23 54,10 55,11 56,20 57,23 58,10 59,16 60,17 61,31 62,16 63,24 64,31 65,24 66,29 67,15 68,18 69,9 70,21 71,27 72,32 73,30 74,19 75,15 76,32 77,17 78,35 79,19 80,21 81,26 82,39" fill="none" stroke="#ff50ff" stroke-opacity="0.42" stroke-width="0.7"/>
<polyline points="0,21 1,16 2,19 3,21 4,18 5,14 6,14 7,16 8,22 9,5 10,24 11,16 12,24 13,19 14,14 15,8 16,24 17,20 18,18 19,20 20,15 21,20 22,22 23,20 24,19 25,20 26,8 27,20 28,18 29,20 30,17 31,16 32,21 33,26 34,22 35,22 36,23 37,11 38,23 39,16 40,16 41,23 42,15 43,22 44,24 45,19 46,21 47,18 48,14 49,24 50,14 51,22 52,23 53,21 54,21 55,15 56,20 57,18 58,17 59,21 60,14 61,27 62,20 63,24 64,20 65,25 66,15 67,16 68,19 69,22 70,21 71,20 72,17 73,17 74,23 75,24 76,21 77,16 78,27 79,20 80,18 81,19 82,18" fill="none" stroke="#30e050" stroke-opacity="0.28" stroke-width="0.7"/>
<polyline points="0,19 1,15 2,20 3,20 4,16 5,21 6,17 7,14 8,20 9,11 10,18 11,24 12,22 13,23 14,12 15,22 16,22 17,23 18,27 19,13 20,23 21,28 22,17 23,22 24,24 25,26 26,12 27,23 28,22 29,28 30,19 31,25 32,27 33,16 34,11 35,21 36,26 37,12 38,23 39,22 40,15 41,32 42,16 43,20 44,12 45,23 46,10 47,29 48,27 49,30 50,26 51,22 52,17 53,37 54,41 55,25 56,23 57,17 58,23 59,29 60,18 61,20 62,19 63,16 64,32 65,16 66,20 67,29 68,24 69,31 70,22 71,13 72,29 73,10 74,23 75,24 76,44 77,17 78,23 79,21 80,44 81,27 82,19" fill="none" stroke="#6868ff" stroke-opacity="0.45" stroke-width="0.7"/>
<polyline points="0,22 1,24 2,16 3,14 4,17 5,14 6,20 7,15 8,14 9,18 10,28 11,15 12,26 13,20 14,19 15,10 16,11 17,15 18,15 19,7 20,15 21,22 22,18 23,13 24,13 25,19 26,19 27,19 28,20 29,21 30,22 31,24 32,16 33,20 34,16 35,19 36,19 37,17 38,23 39,25 40,22 41,20 42,17 43,16 44,25 45,18 46,17 47,22 48,23 49,21 50,14 51,15 52,15 53,21 54,12 55,10 56,14 57,9 58,10 59,26 60,29 61,26 62,15 63,19 64,26 65,19 66,15 67,22 68,17 69,19 70,19 71,21 72,22 73,17 74,16 75,6 76,18 77,24 78,19 79,19 80,26 81,22 82,22" fill="none" stroke="#00e0ff" stroke-opacity="0.34" stroke-width="0.7"/>
<polyline points="0,22 1,17 2,17 3,23 4,19 5,18 6,20 7,15 8,15 9,6 10,12 11,15 12,14 13,18 14,26 15,24 16,17 17,21 18,13 19,14 20,16 21,18 22,14 23,20 24,21 25,12 26,18 27,19 28,19 29,21 30,11 31,22 32,21 33,24 34,18 35,18 36,5 37,20 38,18 39,21 40,19 41,15 42,12 43,24 44,22 45,16 46,17 47,14 48,22 49,25 50,16 51,15 52,10 53,23 54,34 55,24 56,22 57,36 58,15 59,10 60,17 61,15 62,26 63,28 64,13 65,18 66,21 67,25 68,29 69,28 70,24 71,9 72,19 73,16 74,24 75,15 76,20 77,13 78,28 79,20 80,17 81,27 82,7" fill="none" stroke="#ff50ff" stroke-opacity="0.42" stroke-width="0.7"/>
<polyline points="0,20 1,9 2,23 3,14 4,21 5,12 6,20 7,23 8,16 9,20 10,19 11,19 12,16 13,23 14,12 15,21 16,19 17,18 18,18 19,12 20,17 21,19 22,15 23,18 24,24 25,13 26,18 27,17 28,21 29,20 30,16 31,22 32,16 33,16 34,19 35,24 36,22 37,19 38,22 39,13 40,21 41,16 42,24 43,20 44,24 45,19 46,17 47,19 48,20 49,22 50,15 51,22 52,19 53,22 54,22 55,13 56,23 57,21 58,26 59,20 60,18 61,23 62,14 63,31 64,14 65,15 66,29 67,20 68,16 69,20 70,23 71,19 72,16 73,14 74,22 75,16 76,25 77,25 78,19 79,23 80,19 81,19 82,14" fill="none" stroke="#30e050" stroke-opacity="0.28" stroke-width="0.7"/>
<polyline points="0,22 1,15 2,21 3,24 4,21 5,20 6,23 7,23 8,10 9,22 10,22 11,22 12,18 13,23 14,24 15,14 16,22 17,24 18,24 19,15 20,28 21,24 22,17 23,21 24,16 25,27 26,19 27,19 28,22 29,14 30,16 31,23 32,19 33,30 34,22 35,22 36,29 37,24 38,12 39,20 40,33 41,25 42,11 43,21 44,25 45,24 46,19 47,25 48,16 49,19 50,22 51,30 52,28 53,13 54,27 55,29 56,24 57,28 58,22 59,20 60,30 61,8 62,43 63,17 64,15 65,28 66,17 67,15 68,38 69,27 70,22 71,20 72,25 73,41 74,32 75,23 76,15 77,32 78,23 79,34 80,35 81,29 82,39" fill="none" stroke="#6868ff" stroke-opacity="0.45" stroke-width="0.7"/>
<polyline points="0,19 1,17 2,12 3,12 4,19 5,25 6,16 7,14 8,12 9,17 10,16 11,19 12,13 13,9 14,16 15,16 16,17 17,21 18,17 19,22 20,14 21,15 22,10 23,8 24,23 25,18 26,11 27,21 28,21 29,16 30,21 31,11 32,26 33,14 34,12 35,17 36,18 37,17 38,19 39,25 40,20 41,10 42,22 43,22 44,27 45,17 46,26 47,32 48,18 49,5 50,26 51,21 52,16 53,12 54,15 55,16 56,22 57,27 58,8 59,20 60,16 61,18 62,27 63,31 64,14 65,15 66,25 67,16 68,17 69,19 70,18 71,26 72,22 73,16 74,19 75,25 76,24 77,16 78,25 79,23 80,13 81,32 82,24" fill="none" stroke="#00e0ff" stroke-opacity="0.34" stroke-width="0.7"/>
<polyline points="0,17 1,12 2,25 3,13 4,8 5,16 6,17 7,18 8,21 9,17 10,11 11,17 12,20 13,14 14,9 15,13 16,20 17,22 18,12 19,19 20,15 21,20 22,17 23,16 24,19 25,21 26,27 27,14 28,15 29,19 30,17 31,17 32,17 33,14 34,20 35,14 36,22 37,22 38,14 39,32 40,19 41,13 42,19 43,20 44,23 45,11 46,13 47,25 48,10 49,23 50,19 51,16 52,27 53,16 54,25 55,24 56,10 57,23 58,26 59,23 60,16 61,17 62,24 63,16 64,31 65,11 66,18 67,32 68,19 69,28 70,21 71,31 72,19 73,22 74,24 75,20 76,27 77,29 78,12 79,35 80,26 81,19 82,25" fill="none" stroke="#ff50ff" stroke-opacity="0.42" stroke-width="0.7"/>
<polyline points="0,17 1,23 2,22 3,21 4,15 5,20 6,19 7,18 8,19 9,15 10,19 11,18 12,22 13,20 14,22 15,20 16,12 17,24 18,18 19,13 20,20 21,19 22,14 23,23 24,19 25,18 26,22 27,18 28,18 29,22 30,24 31,21 32,22 33,16 34,14 35,14 36,23 37,26 38,18 39,16 40,12 41,19 42,19 43,16 44,23 45,17 46,23 47,22 48,21 49,17 50,22 51,17 52,20 53,15 54,21 55,24 56,13 57,21 58,22 59,11 60,25 61,24 62,22 63,23 64,18 65,30 66,19 67,22 68,17 69,18 70,26 71,20 72,21 73,29 74,26 75,13 76,23 77,26 78,17 79,34 80,24 81,20 82,19" fill="none" stroke="#30e050" stroke-opacity="0.28" stroke-width="0.7"/>
<polyline points="0,22 1,21 2,15 3,17 4,23 5,17 6,16 7,15 8,18 9,13 10,14 11,24 12,14 13,18 14,18 15,17 16,22 17,15 18,14 19,16 20,21 21,28 22,23 23,23 24,31 25,23 26,16 27,21 28,27 29,26 30,27 31,21 32,13 33,25 34,25 35,23 36,23 37,16 38,20 39,20 40,19 41,24 42,14 43,26 44,25 45,21 46,23 47,21 48,20 49,27 50,26 51,34 52,27 53,28 54,30 55,21 56,22 57,31 58,54 59,23 60,22 61,24 62,27 63,20 64,22 65,29 66,16 67,24 68,29 69,18 70,22 71,35 72,17 73,31 74,32 75,53 76,29 77,19 78,47 79,48 80,13 81,27 82,40" fill="none" stroke="#6868ff" stroke-opacity="0.45" stroke-width="0.7"/>
<polyline points="0,24 1,13 2,14 3,21 4,15 5,21 6,19 7,20 8,17 9,11 10,22 11,22 12,17 13,19 14,22 15,18 16,16 17,21 18,22 19,20 20,25 21,15 22,20 23,24 24,12 25,24 26,17 27,18 28,17 29,17 30,21 31,21 32,7 33,23 34,20 35,19 36,24 37,16 38,25 39,9 40,18 41,26 42,12 43,18 44,21 45,17 46,21 47,22 48,25 49,22 50,17 51,23 52,19 53,23 54,18 55,21 56,17 57,15 58,31 59,31 60,24 61,16 62,16 63,21 64,17 65,25 66,19 67,16 68,15 69,23 70,24 71,20 72,27 73,22 74,21 75,20 76,26 77,18 78,19 79,20 80,23 81,17 82,28" fill="none" stroke="#00e0ff" stroke-opacity="0.34" stroke-width="0.7"/>
<polyline points="0,23 1,17 2,13 3,15 4,19 5,17 6,16 7,22 8,15 9,20 10,20 11,23 12,14 13,21 14,20 15,23 16,22 17,23 18,16 19,19 20,16 21,17 22,24 23,13 24,20 25,26 26,20 27,20 28,5 29,16 30,22 31,21 32,13 33,18 34,19 35,9 36,19 37,14 38,19 39,20 40,14 41,17 42,15 43,23 44,15 45,28 46,20 47,17 48,25 49,18 50,24 51,28 52,28 53,24 54,31 55,16 56,16 57,18 58,34 59,30 60,27 61,6 62,21 63,13 64,25 65,24 66,22 67,32 68,30 69,21 70,20 71,19 72,21 73,15 74,15 75,19 76,12 77,19 78,9 79,24 80,34 81,26 82,19" fill="none" stroke="#ff50ff" stroke-opacity="0.42" stroke-width="0.7"/>
<polyline points="0,12 1,14 2,21 3,15 4,11 5,24 6,11 7,12 8,21 9,8 10,21 11,19 12,20 13,14 14,14 15,19 16,17 17,18 18,13 19,19 20,17 21,19 22,21 23,17 24,14 25,16 26,15 27,22 28,10 29,20 30,22 31,22 32,22 33,21 34,15 35,22 36,18 37,21 38,22 39,16 40,22 41,20 42,15 43,16 44,22 45,21 46,22 47,15 48,19 49,22 50,20 51,22 52,23 53,17 54,24 55,24 56,24 57,22 58,21 59,11 60,14 61,22 62,24 63,19 64,19 65,15 66,17 67,22 68,18 69,20 70,30 71,26 72,24 73,27 74,19 75,17 76,27 77,23 78,20 79,19 80,23 81,32 82,14" fill="none" stroke="#30e050" stroke-opacity="0.28" stroke-width="0.7"/>
<polyline points="0,14 1,21 2,24 3,22 4,25 5,24 6,21 7,22 8,20 9,11 10,17 11,18 12,23 13,24 14,20 15,21 16,15 17,20 18,27 19,18 20,18 21,22 22,18 23,16 24,15 25,14 26,19 27,25 28,24 29,15 30,21 31,25 32,21 33,23 34,19 35,22 36,22 37,19 38,25 39,20 40,21 41,29 42,23 43,6 44,18 45,16 46,22 47,33 48,28 49,29 50,28 51,25 52,21 53,21 54,17 55,36 56,30 57,20 58,22 59,44 60,28 61,25 62,24 63,28 64,19 65,32 66,20 67,30 68,27 69,28 70,30 71,26 72,23 73,30 74,19 75,43 76,14 77,43 78,27 79,40 80,27 81,20 82,35" fill="none" stroke="#6868ff" stroke-opacity="0.45" stroke-width="0.7"/>
<polyline points="0,19.3 1,17.8 2,17.6 3,17.5 4,18.1 5,17.7 6,20.5 7,17.2 8,19.9 9,18.0 10,15.2 11,19.1 12,19.4 13,19.7 14,15.3 15,18.1 16,19.5 17,17.2 18,17.0 19,18.4 20,18.6 21,18.8 22,18.3 23,18.1 24,17.1 25,20.4 26,19.1 27,19.1 28,17.4 29,17.8 30,18.9 31,19.0 32,18.7 33,20.2 34,18.1 35,18.4 36,20.9 37,18.4 38,20.8 39,19.9 40,20.5 41,17.6 42,18.2 43,20.0 44,16.8 45,22.4 46,19.8 47,18.1 48,18.6 49,18.9 50,23.7 51,19.8 52,18.3 53,18.9 54,20.2 55,18.3 56,19.2 57,20.6 58,19.3 59,19.2 60,19.2 61,19.7 62,22.3 63,18.8 64,19.9 65,20.9 66,23.7 67,18.3 68,20.0 69,20.3 70,21.4 71,20.4 72,22.2 73,19.4 74,21.3 75,24.2 76,17.5 77,21.0 78,22.2 79,21.6 80,21.3 81,20.7 82,20.3" fill="none" stroke="#e820e8" stroke-width="0.8" stroke-linejoin="round"/>
<polyline points="0,20.5 1,15.9 2,15.8 3,18.0 4,15.8 5,20.6 6,15.4 7,18.2 8,19.5 9,18.0 10,18.2 11,16.4 12,17.9 13,18.0 14,16.1 15,17.9 16,18.6 17,18.6 18,17.4 19,19.8 20,16.6 21,19.8 22,18.6 23,19.1 24,18.4 25,19.6 26,19.1 27,16.8 28,17.5 29,19.5 30,19.5 31,18.4 32,19.4 33,16.5 34,16.3 35,22.2 36,19.5 37,17.0 38,18.2 39,19.2 40,18.1 41,16.4 42,17.0 43,20.1 44,17.9 45,16.0 46,19.6 47,19.4 48,18.5 49,19.0 50,18.2 51,16.6 52,18.0 53,21.2 54,19.5 55,18.2 56,21.3 57,17.0 58,18.7 59,17.0 60,19.7 61,19.0 62,19.3 63,16.1 64,19.6 65,20.7 66,18.2 67,16.9 68,18.8 69,17.1 70,18.4 71,18.9 72,18.9 73,19.9 74,17.1 75,18.0 76,18.8 77,18.0 78,19.8 79,19.4 80,20.6 81,19.7 82,17.7" fill="none" stroke="#10e0f0" stroke-width="0.85" stroke-linejoin="round"/>
<polyline points="0,20.5 1,17.4 2,15.7 3,19.1 4,20.1 5,15.3 6,16.5 7,19.9 8,19.2 9,16.0 10,16.8 11,18.8 12,14.8 13,18.6 14,19.2 15,18.0 16,19.0 17,19.9 18,15.8 19,16.4 20,20.7 21,19.7 22,14.3 23,18.7 24,19.2 25,19.5 26,17.1 27,18.2 28,19.8 29,17.9 30,19.1 31,18.5 32,19.8 33,18.7 34,19.8 35,19.7 36,17.7 37,21.1 38,19.1 39,19.7 40,18.6 41,17.7 42,17.0 43,18.1 44,18.2 45,18.0 46,21.9 47,19.5 48,18.8 49,20.9 50,18.4 51,19.6 52,18.4 53,18.6 54,19.6 55,19.7 56,20.9 57,21.3 58,19.4 59,19.4 60,20.0 61,23.2 62,20.1 63,19.5 64,20.8 65,22.2 66,20.2 67,18.8 68,20.0 69,19.5 70,20.8 71,21.5 72,22.0 73,19.7 74,21.3 75,22.6 76,21.2 77,20.9 78,22.0 79,21.8 80,20.1 81,22.9 82,20.0" fill="none" stroke="#10d030" stroke-width="0.95" stroke-linejoin="round"/>
<polyline points="0,21.1 1,20.5 2,20.7 3,18.8 4,20.2 5,19.8 6,20.0 7,21.7 8,19.8 9,19.7 10,21.3 11,20.9 12,21.6 13,19.7 14,20.1 15,20.5 16,22.0 17,20.6 18,21.3 19,19.1 20,19.0 21,23.9 22,20.7 23,19.2 24,23.9 25,20.7 26,20.5 27,20.0 28,23.8 29,21.8 30,20.7 31,20.4 32,21.9 33,20.4 34,21.0 35,21.4 36,21.3 37,22.9 38,20.6 39,22.2 40,22.5 41,23.6 42,23.3 43,21.6 44,18.8 45,24.6 46,24.4 47,20.6 48,24.3 49,24.2 50,22.3 51,24.1 52,23.5 53,22.0 54,25.6 55,26.3 56,22.4 57,24.2 58,24.2 59,24.2 60,24.7 61,27.7 62,26.4 63,24.2 64,28.3 65,28.1 66,24.6 67,26.3 68,28.3 69,26.8 70,24.2 71,29.3 72,28.8 73,26.6 74,28.1 75,27.5 76,27.3 77,25.4 78,27.7 79,31.4 80,28.1 81,27.9 82,29.9" fill="none" stroke="#0808ff" stroke-width="1.0" stroke-linejoin="round"/>
</g>
<polyline points="30.1,481.1 30.9,472.7 31.5,465.6 32.3,474.1 33.2,468.4 34,479.7 34.9,481.1 35.7,472.7 36.6,475.5 37.4,482.5 38.2,474.1 39.1,475.5 39.9,479.7 40.8,472.7 41.6,475.5 42.4,476.9 43.3,478.3 44.1,474.1 45,478.3 45.8,464.2 46.7,476.9 47.5,467 48.3,472.7 49.2,475.5 50,471.3 50.9,474.1 51.7,478.3 52.6,481.1 53.4,476.9 54.2,479.7 55.1,478.3 55.9,481.1 56.8,479.7 57.6,482.5 58.5,478.3 59.3,481.1 60.1,476.9 61,482.5 61.8,478.3 62.7,483.9 63.5,479.7 64.4,483.9 65.2,488.1 66,479.7 66.9,482.5 67.7,478.3 68.6,483.9 69.4,485.3 70.3,486.7 71.1,483.9 71.9,488.1 72.8,483.9 73.6,481.1" fill="none" stroke="#000" stroke-width="1.0999999999999999" stroke-linejoin="round"/>
<polyline points="30.1,481.1 30.9,479.7 31.8,476.9 32.6,478.3 33.5,475.5 34.3,478.3 35.1,476.9 36,474.1 36.8,478.3 37.7,475.5 38.5,479.7 39.4,476.9 40.2,474.1 41,478.3 41.9,475.5 42.7,481.1 43.6,476.9 44.4,474.1 45.3,476.9 46.1,475.5 46.9,474.1 47.8,476.9 48.6,475.5 49.5,474.1 50.3,476.9 51.2,478.3 52,479.7 52.8,476.9 53.7,478.3 54.5,479.7 55.4,478.3 56.2,479.7 57.1,481.1 57.9,478.3 58.7,479.7 59.6,481.1 60.4,479.7 61.3,481.1 62.1,479.7 63,482.5 63.8,481.1 64.6,479.7 65.5,482.5 66.3,481.1 67.2,479.7 68,482.5 68.9,481.1 69.7,483.9 70.5,482.5 71.4,481.1 72.2,482.5 73.3,481.1" fill="none" stroke="#f00" stroke-width="0.95" stroke-linejoin="round"/>
</g>
<rect x="27.5" y="462.6" width="135.5" height="57.6" fill="none" stroke="#262626" stroke-width="0.9"/>
<path d="M27.5,520.2v-1.4M27.5,462.6v1.4M54.6,520.2v-1.4M54.6,462.6v1.4M81.7,520.2v-1.4M81.7,462.6v1.4M108.8,520.2v-1.4M108.8,462.6v1.4M135.9,520.2v-1.4M135.9,462.6v1.4M163,520.2v-1.4M163,462.6v1.4M27.5,462.6h1.4M163,462.6h-1.4M27.5,491.4h1.4M163,491.4h-1.4M27.5,520.2h1.4M163,520.2h-1.4" stroke="#262626" stroke-width="0.9" fill="none"/>
<text x="27.5" y="529.8" text-anchor="middle" class="t">1975</text>
<text x="54.6" y="529.8" text-anchor="middle" class="t">2000</text>
<text x="81.7" y="529.8" text-anchor="middle" class="t">2025</text>
<text x="108.8" y="529.8" text-anchor="middle" class="t">2050</text>
<text x="135.9" y="529.8" text-anchor="middle" class="t">2075</text>
<text x="163" y="529.8" text-anchor="middle" class="t">2100</text>
<text x="25" y="465.9" text-anchor="end" class="t">150</text>
<text x="25" y="494.7" text-anchor="end" class="t">100</text>
<text x="25" y="523.5" text-anchor="end" class="t">50</text>
<text x="31.8" y="460" class="ti">ID</text>
<text transform="translate(11.8,491.4) rotate(-90)" text-anchor="middle" class="yl">Days</text>
<clipPath id="c11"><rect x="206.2" y="462.6" width="135.6" height="57.6"/></clipPath>
<g clip-path="url(#c11)">
<g transform="translate(252.8,462.6) scale(1.0848,1)">
<polygon points="0,18 1,20 2,20 3,19 4,20 5,21 6,20 7,21 8,19 9,19 10,20 11,20 12,21 13,21 14,20 15,21 16,19 17,19 18,20 19,21 20,20 21,13 22,21 23,21 24,21 25,21 26,19 27,19 28,21 29,20 30,19 31,16 32,19 33,12 34,20 35,20 36,14 37,18 38,16 39,17 40,21 41,19 42,20 43,20 44,19 45,21 46,12 47,20 48,17 49,19 50,17 51,19 52,21 53,20 54,19 55,18 56,18 57,20 58,19 59,17 60,20 61,19 62,18 63,20 64,20 65,19 66,20 67,19 68,19 69,19 70,20 71,19 72,18 73,18 74,19 75,19 76,18 77,20 78,18 79,19 80,19 81,18 82,20 82,34 81,31 80,33 79,33 78,32 77,33 76,34 75,41 74,32 73,38 72,31 71,32 70,33 69,32 68,31 67,34 66,32 65,30 64,34 63,36 62,33 61,37 60,32 59,31 58,30 57,36 56,33 55,35 54,32 53,31 52,37 51,35 50,32 49,31 48,30 47,31 46,30 45,35 44,30 43,32 42,30 41,31 40,31 39,32 38,29 37,32 36,34 35,30 34,30 33,32 32,32 31,31 30,30 29,29 28,30 27,34 26,31 25,30 24,31 23,30 22,31 21,31 20,32 19,30 18,32 17,31 16,30 15,29 14,31 13,31 12,30 11,29 10,36 9,30 8,33 7,31 6,30 5,30 4,31 3,31 2,29 1,31 0,31" fill="#00e0ff" fill-opacity="0.22"/>
<polygon points="0,13 1,19 2,18 3,19 4,20 5,18 6,19 7,16 8,20 9,19 10,20 11,19 12,19 13,20 14,15 15,18 16,19 17,18 18,18 19,19 20,19 21,20 22,20 23,18 24,20 25,18 26,17 27,20 28,18 29,18 30,17 31,18 32,20 33,19 34,19 35,20 36,19 37,19 38,16 39,19 40,13 41,20 42,19 43,18 44,17 45,11 46,17 47,18 48,18 49,17 50,18 51,19 52,11 53,18 54,19 55,19 56,16 57,11 58,19 59,19 60,19 61,18 62,16 63,11 64,17 65,18 66,16 67,17 68,19 69,19 70,16 71,19 72,13 73,16 74,19 75,8 76,17 77,17 78,17 79,13 80,17 81,16 82,17 82,34 81,33 80,33 79,42 78,34 77,35 76,36 75,35 74,32 73,35 72,34 71,33 70,32 69,34 68,32 67,39 66,32 65,33 64,46 63,33 62,34 61,34 60,31 59,36 58,32 57,34 56,34 55,31 54,31 53,31 52,32 51,34 50,32 49,33 48,31 47,31 46,33 45,31 44,35 43,32 42,31 41,31 40,40 39,30 38,39 37,36 36,32 35,32 34,30 33,29 32,32 31,32 30,31 29,30 28,30 27,31 26,32 25,37 24,29 23,35 22,31 21,29 20,30 19,30 18,32 17,30 16,31 15,30 14,29 13,30 12,29 11,30 10,29 9,28 8,30 7,32 6,30 5,30 4,29 3,29 2,31 1,32 0,33" fill="#ff40ff" fill-opacity="0.18"/>
<polygon points="0,18 1,19 2,19 3,19 4,20 5,16 6,18 7,20 8,20 9,18 10,20 11,20 12,18 13,20 14,16 15,20 16,19 17,17 18,20 19,19 20,19 21,19 22,20 23,18 24,20 25,18 26,14 27,13 28,16 29,20 30,15 31,15 32,14 33,19 34,18 35,15 36,19 37,18 38,18 39,20 40,19 41,20 42,18 43,19 44,18 45,18 46,19 47,18 48,20 49,19 50,18 51,18 52,19 53,19 54,20 55,20 56,18 57,20 58,19 59,18 60,19 61,18 62,19 63,17 64,19 65,19 66,18 67,19 68,18 69,18 70,19 71,18 72,19 73,17 74,19 75,18 76,18 77,17 78,19 79,18 80,18 81,19 82,19 82,32 81,30 80,31 79,31 78,30 77,38 76,30 75,31 74,30 73,31 72,36 71,31 70,32 69,31 68,30 67,31 66,31 65,29 64,29 63,30 62,30 61,30 60,29 59,30 58,30 57,31 56,30 55,29 54,29 53,34 52,30 51,31 50,29 49,29 48,29 47,30 46,31 45,30 44,29 43,29 42,29 41,29 40,32 39,29 38,30 37,31 36,31 35,35 34,30 33,28 32,35 31,29 30,29 29,34 28,28 27,29 26,30 25,30 24,30 23,30 22,29 21,28 20,29 19,28 18,29 17,29 16,29 15,29 14,30 13,28 12,28 11,28 10,29 9,30 8,30 7,29 6,30 5,29 4,30 3,28 2,30 1,31 0,28" fill="#20ff40" fill-opacity="0.12"/>
<polygon points="0,13 1,20 2,19 3,20 4,21 5,21 6,19 7,17 8,21 9,15 10,17 11,21 12,19 13,19 14,19 15,15 16,21 17,20 18,21 19,20 20,17 21,20 22,20 23,19 24,21 25,20 26,19 27,15 28,20 29,20 30,20 31,20 32,15 33,21 34,21 35,20 36,17 37,16 38,12 39,15 40,20 41,20 42,18 43,18 44,20 45,20 46,21 47,21 48,14 49,18 50,18 51,12 52,15 53,13 54,12 55,21 56,20 57,18 58,17 59,18 60,19 61,13 62,6 63,19 64,7 65,17 66,21 67,20 68,15 69,11 70,16 71,12 72,16 73,20 74,20 75,19 76,7 77,17 78,18 79,16 80,17 81,20 82,19 82,46 81,60 80,49 79,51 78,58 77,41 76,47 75,43 74,44 73,41 72,41 71,39 70,39 69,50 68,47 67,40 66,40 65,53 64,39 63,38 62,38 61,36 60,38 59,40 58,36 57,36 56,37 55,38 54,39 53,39 52,38 51,37 50,38 49,38 48,38 47,36 46,38 45,34 44,45 43,35 42,34 41,37 40,36 39,36 38,35 37,36 36,39 35,34 34,33 33,34 32,35 31,39 30,40 29,36 28,34 27,32 26,32 25,34 24,38 23,33 22,32 21,33 20,33 19,33 18,38 17,31 16,32 15,32 14,31 13,30 12,31 11,32 10,33 9,32 8,31 7,31 6,37 5,30 4,31 3,31 2,32 1,30 0,37" fill="#5050ff" fill-opacity="0.18"/>
<polyline points="0,24 1,27 2,24 3,23 4,20 5,25 6,25 7,23 8,32 9,29 10,29 11,31 12,26 13,27 14,21 15,23 16,25 17,22 18,22 19,30 20,26 21,17 22,29 23,32 24,34 25,21 26,20 27,30 28,21 29,27 30,29 31,32 32,21 33,27 34,24 35,20 36,27 37,26 38,32 39,25 40,27 41,24 42,22 43,28 44,24 45,23 46,33 47,17 48,25 49,32 50,27 51,26 52,25 53,18 54,23 55,30 56,29 57,26 58,25 59,21 60,26 61,29 62,23 63,19 64,30 65,32 66,30 67,24 68,25 69,31 70,25 71,29 72,32 73,20 74,33 75,25 76,29 77,31 78,25 79,24 80,31 81,29 82,29" fill="none" stroke="#00e0ff" stroke-opacity="0.34" stroke-width="0.7"/>
<polyline points="0,25 1,21 2,22 3,24 4,27 5,21 6,24 7,20 8,22 9,24 10,27 11,33 12,30 13,30 14,28 15,26 16,29 17,22 18,21 19,26 20,20 21,24 22,26 23,30 24,30 25,24 26,19 27,25 28,25 29,23 30,25 31,31 32,29 33,26 34,27 35,31 36,24 37,24 38,21 39,19 40,24 41,28 42,21 43,16 44,21 45,28 46,26 47,28 48,32 49,33 50,24 51,27 52,31 53,32 54,24 55,29 56,25 57,18 58,21 59,21 60,24 61,33 62,24 63,24 64,28 65,28 66,28 67,32 68,33 69,26 70,21 71,18 72,25 73,15 74,29 75,28 76,23 77,34 78,27 79,25 80,35 81,14 82,32" fill="none" stroke="#ff50ff" stroke-opacity="0.42" stroke-width="0.7"/>
<polyline points="0,22 1,20 2,18 3,27 4,18 5,25 6,24 7,24 8,18 9,29 10,24 11,24 12,28 13,22 14,25 15,25 16,19 17,26 18,26 19,26 20,25 21,18 22,26 23,27 24,18 25,27 26,30 27,21 28,27 29,32 30,24 31,25 32,26 33,23 34,26 35,24 36,17 37,21 38,20 39,27 40,25 41,27 42,24 43,28 44,21 45,21 46,30 47,26 48,21 49,25 50,31 51,26 52,23 53,23 54,21 55,29 56,31 57,28 58,25 59,25 60,25 61,23 62,23 63,24 64,27 65,22 66,18 67,26 68,25 69,22 70,19 71,20 72,23 73,23 74,23 75,28 76,27 77,23 78,28 79,24 80,26 81,32 82,21" fill="none" stroke="#30e050" stroke-opacity="0.28" stroke-width="0.7"/>
<polyline points="0,24 1,23 2,30 3,32 4,28 5,30 6,34 7,21 8,30 9,25 10,16 11,27 12,27 13,28 14,25 15,27 16,24 17,13 18,34 19,25 20,15 21,22 22,21 23,30 24,26 25,30 26,23 27,34 28,30 29,18 30,35 31,24 32,26 33,25 34,27 35,26 36,23 37,28 38,27 39,23 40,32 41,23 42,22 43,31 44,28 45,24 46,26 47,26 48,25 49,25 50,33 51,26 52,25 53,23 54,29 55,25 56,29 57,26 58,39 59,27 60,37 61,28 62,27 63,32 64,39 65,25 66,26 67,24 68,26 69,24 70,24 71,52 72,32 73,44 74,35 75,38 76,19 77,25 78,36 79,22 80,34 81,35 82,17" fill="none" stroke="#6868ff" stroke-opacity="0.45" stroke-width="0.7"/>
<polyline points="0,25 1,27 2,26 3,27 4,25 5,29 6,32 7,27 8,24 9,20 10,27 11,18 12,22 13,24 14,31 15,23 16,22 17,24 18,28 19,22 20,19 21,31 22,24 23,29 24,18 25,28 26,30 27,20 28,30 29,28 30,27 31,29 32,31 33,23 34,30 35,23 36,26 37,23 38,24 39,21 40,27 41,19 42,29 43,24 44,35 45,24 46,31 47,22 48,25 49,26 50,26 51,30 52,20 53,19 54,23 55,30 56,33 57,21 58,28 59,22 60,29 61,28 62,29 63,32 64,25 65,18 66,31 67,25 68,28 69,23 70,29 71,17 72,27 73,26 74,21 75,28 76,28 77,20 78,25 79,27 80,35 81,28 82,35" fill="none" stroke="#00e0ff" stroke-opacity="0.34" stroke-width="0.7"/>
<polyline points="0,18 1,25 2,23 3,24 4,26 5,22 6,23 7,13 8,24 9,26 10,25 11,18 12,25 13,25 14,22 15,25 16,21 17,26 18,24 19,27 20,27 21,21 22,29 23,19 24,28 25,23 26,30 27,24 28,28 29,27 30,27 31,21 32,25 33,25 34,25 35,24 36,33 37,30 38,20 39,24 40,25 41,30 42,23 43,33 44,26 45,30 46,24 47,14 48,17 49,22 50,25 51,26 52,29 53,22 54,20 55,32 56,27 57,24 58,22 59,18 60,28 61,23 62,22 63,21 64,25 65,14 66,27 67,16 68,33 69,30 70,27 71,19 72,22 73,26 74,21 75,24 76,22 77,28 78,28 79,26 80,25 81,20 82,17" fill="none" stroke="#ff50ff" stroke-opacity="0.42" stroke-width="0.7"/>
<polyline points="0,25 1,22 2,24 3,23 4,27 5,26 6,25 7,27 8,22 9,22 10,27 11,19 12,23 13,24 14,25 15,18 16,20 17,24 18,23 19,29 20,31 21,22 22,24 23,23 24,24 25,20 26,28 27,20 28,25 29,26 30,24 31,31 32,30 33,27 34,25 35,23 36,23 37,24 38,18 39,26 40,26 41,23 42,27 43,25 44,34 45,33 46,26 47,27 48,31 49,21 50,29 51,24 52,25 53,29 54,26 55,25 56,27 57,28 58,28 59,23 60,27 61,24 62,25 63,16 64,27 65,26 66,20 67,24 68,14 69,20 70,30 71,19 72,30 73,17 74,21 75,23 76,22 77,26 78,22 79,25 80,16 81,13 82,27" fill="none" stroke="#30e050" stroke-opacity="0.28" stroke-width="0.7"/>
<polyline points="0,31 1,25 2,24 3,28 4,25 5,24 6,27 7,27 8,21 9,26 10,25 11,22 12,27 13,25 14,23 15,22 16,21 17,27 18,26 19,29 20,26 21,25 22,27 23,28 24,27 25,32 26,36 27,24 28,24 29,19 30,25 31,29 32,41 33,24 34,19 35,28 36,30 37,25 38,30 39,32 40,33 41,27 42,29 43,30 44,29 45,18 46,29 47,16 48,28 49,20 50,26 51,25 52,28 53,24 54,28 55,23 56,29 57,33 58,26 59,21 60,42 61,35 62,34 63,42 64,31 65,32 66,26 67,27 68,30 69,46 70,29 71,25 72,25 73,31 74,19 75,21 76,24 77,42 78,18 79,38 80,36 81,30 82,22" fill="none" stroke="#6868ff" stroke-opacity="0.45" stroke-width="0.7"/>
<polyline points="0,22 1,20 2,25 3,19 4,25 5,21 6,26 7,22 8,30 9,23 10,24 11,27 12,20 13,22 14,23 15,26 16,20 17,27 18,25 19,20 20,27 21,23 22,30 23,25 24,21 25,27 26,29 27,26 28,29 29,21 30,30 31,20 32,23 33,24 34,29 35,27 36,21 37,23 38,23 39,21 40,23 41,21 42,21 43,27 44,24 45,28 46,21 47,28 48,23 49,24 50,26 51,31 52,27 53,18 54,25 55,24 56,20 57,26 58,30 59,24 60,21 61,31 62,20 63,32 64,32 65,29 66,24 67,22 68,21 69,23 70,30 71,29 72,33 73,22 74,25 75,22 76,30 77,27 78,29 79,20 80,26 81,27 82,26" fill="none" stroke="#00e0ff" stroke-opacity="0.34" stroke-width="0.7"/>
<polyline points="0,26 1,19 2,20 3,27 4,26 5,26 6,18 7,22 8,25 9,23 10,26 11,22 12,29 13,21 14,26 15,23 16,27 17,23 18,24 19,24 20,20 21,28 22,23 23,24 24,22 25,27 26,25 27,21 28,29 29,30 30,30 31,17 32,25 33,27 34,26 35,28 36,23 37,24 38,19 39,28 40,25 41,23 42,27 43,31 44,27 45,20 46,29 47,25 48,21 49,27 50,31 51,20 52,23 53,21 54,25 55,25 56,31 57,24 58,25 59,37 60,21 61,22 62,24 63,12 64,21 65,25 66,20 67,28 68,27 69,28 70,28 71,24 72,24 73,26 74,23 75,32 76,32 77,19 78,22 79,40 80,32 81,34 82,24" fill="none" stroke="#ff50ff" stroke-opacity="0.42" stroke-width="0.7"/>
<polyline points="0,29 1,18 2,28 3,23 4,23 5,32 6,23 7,26 8,25 9,23 10,15 11,35 12,27 13,21 14,32 15,23 16,19 17,24 18,25 19,25 20,23 21,22 22,27 23,17 24,20 25,22 26,29 27,27 28,17 29,23 30,22 31,30 32,27 33,29 34,21 35,25 36,25 37,26 38,30 39,22 40,28 41,25 42,24 43,25 44,24 45,19 46,27 47,21 48,25 49,25 50,27 51,23 52,22 53,26 54,21 55,21 56,29 57,28 58,29 59,19 60,26 61,23 62,28 63,26 64,22 65,23 66,31 67,19 68,25 69,29 70,23 71,24 72,31 73,33 74,23 75,24 76,30 77,19 78,22 79,19 80,34 81,23 82,20" fill="none" stroke="#30e050" stroke-opacity="0.28" stroke-width="0.7"/>
<polyline points="0,27 1,27 2,26 3,27 4,29 5,20 6,28 7,24 8,24 9,24 10,22 11,25 12,22 13,25 14,29 15,30 16,26 17,34 18,30 19,28 20,24 21,33 22,32 23,23 24,30 25,34 26,34 27,25 28,33 29,23 30,26 31,31 32,16 33,25 34,28 35,22 36,25 37,26 38,23 39,19 40,29 41,22 42,24 43,29 44,21 45,20 46,27 47,22 48,26 49,28 50,37 51,35 52,29 53,31 54,25 55,23 56,18 57,27 58,35 59,22 60,36 61,21 62,26 63,33 64,36 65,20 66,24 67,32 68,27 69,24 70,24 71,34 72,31 73,38 74,33 75,33 76,35 77,18 78,41 79,26 80,22 81,29 82,24" fill="none" stroke="#6868ff" stroke-opacity="0.45" stroke-width="0.7"/>
<polyline points="0,30 1,29 2,30 3,29 4,25 5,21 6,25 7,21 8,25 9,25 10,27 11,23 12,24 13,26 14,19 15,23 16,25 17,27 18,21 19,22 20,23 21,28 22,23 23,25 24,27 25,24 26,23 27,28 28,22 29,29 30,29 31,22 32,26 33,21 34,21 35,23 36,27 37,31 38,26 39,26 40,23 41,22 42,25 43,32 44,24 45,27 46,22 47,29 48,26 49,23 50,28 51,22 52,24 53,30 54,21 55,24 56,25 57,29 58,29 59,19 60,17 61,19 62,30 63,25 64,26 65,28 66,24 67,25 68,20 69,26 70,25 71,17 72,24 73,30 74,22 75,24 76,16 77,26 78,27 79,25 80,30 81,23 82,23" fill="none" stroke="#00e0ff" stroke-opacity="0.34" stroke-width="0.7"/>
<polyline points="0,26 1,23 2,26 3,28 4,28 5,22 6,28 7,29 8,28 9,24 10,25 11,21 12,24 13,19 14,29 15,18 16,27 17,19 18,25 19,25 20,24 21,23 22,27 23,27 24,25 25,26 26,23 27,25 28,30 29,29 30,21 31,25 32,28 33,20 34,22 35,29 36,26 37,25 38,28 39,27 40,25 41,21 42,19 43,22 44,19 45,13 46,26 47,27 48,28 49,29 50,21 51,26 52,30 53,22 54,29 55,33 56,23 57,28 58,24 59,21 60,20 61,22 62,21 63,20 64,25 65,17 66,19 67,31 68,12 69,36 70,40 71,22 72,26 73,21 74,29 75,21 76,32 77,15 78,26 79,17 80,34 81,22 82,25" fill="none" stroke="#ff50ff" stroke-opacity="0.42" stroke-width="0.7"/>
<polyline points="0,25 1,19 2,24 3,24 4,22 5,27 6,21 7,22 8,29 9,26 10,23 11,21 12,18 13,22 14,23 15,24 16,25 17,27 18,30 19,28 20,25 21,18 22,23 23,25 24,23 25,22 26,33 27,18 28,23 29,19 30,27 31,25 32,19 33,24 34,24 35,19 36,32 37,26 38,22 39,23 40,23 41,15 42,26 43,26 44,23 45,27 46,25 47,19 48,19 49,23 50,26 51,28 52,23 53,23 54,21 55,22 56,19 57,19 58,23 59,26 60,22 61,27 62,21 63,27 64,23 65,26 66,30 67,26 68,28 69,21 70,27 71,22 72,27 73,19 74,31 75,23 76,26 77,19 78,21 79,20 80,24 81,27 82,28" fill="none" stroke="#30e050" stroke-opacity="0.28" stroke-width="0.7"/>
<polyline points="0,20 1,31 2,23 3,26 4,23 5,24 6,22 7,28 8,18 9,28 10,24 11,29 12,31 13,23 14,26 15,25 16,17 17,26 18,27 19,20 20,26 21,23 22,23 23,23 24,36 25,26 26,29 27,35 28,23 29,25 30,25 31,21 32,29 33,32 34,15 35,25 36,26 37,19 38,35 39,24 40,37 41,30 42,35 43,19 44,33 45,23 46,23 47,22 48,23 49,36 50,30 51,26 52,28 53,18 54,39 55,20 56,26 57,22 58,27 59,26 60,30 61,30 62,31 63,28 64,27 65,36 66,34 67,31 68,30 69,17 70,32 71,26 72,23 73,45 74,41 75,43 76,25 77,23 78,22 79,22 80,50 81,30 82,27" fill="none" stroke="#6868ff" stroke-opacity="0.45" stroke-width="0.7"/>
<polyline points="0,23 1,29 2,24 3,24 4,26 5,24 6,22 7,22 8,21 9,25 10,20 11,25 12,27 13,25 14,17 15,23 16,25 17,23 18,24 19,30 20,23 21,22 22,27 23,34 24,25 25,27 26,25 27,30 28,26 29,29 30,20 31,26 32,30 33,24 34,21 35,27 36,21 37,27 38,30 39,25 40,26 41,29 42,24 43,30 44,24 45,20 46,18 47,28 48,25 49,21 50,31 51,32 52,19 53,24 54,22 55,31 56,24 57,24 58,26 59,27 60,27 61,24 62,27 63,27 64,26 65,18 66,21 67,30 68,20 69,35 70,28 71,24 72,19 73,25 74,23 75,33 76,24 77,17 78,35 79,23 80,27 81,23 82,24" fill="none" stroke="#00e0ff" stroke-opacity="0.34" stroke-width="0.7"/>
<polyline points="0,25 1,23 2,21 3,21 4,28 5,29 6,24 7,30 8,20 9,27 10,25 11,17 12,29 13,25 14,25 15,26 16,20 17,25 18,19 19,18 20,20 21,21 22,24 23,23 24,26 25,28 26,25 27,25 28,24 29,24 30,25 31,23 32,23 33,31 34,22 35,22 36,20 37,30 38,23 39,31 40,26 41,30 42,25 43,18 44,36 45,30 46,18 47,27 48,21 49,25 50,18 51,29 52,17 53,25 54,27 55,23 56,27 57,38 58,19 59,21 60,27 61,33 62,20 63,30 64,27 65,22 66,25 67,26 68,19 69,18 70,29 71,20 72,25 73,29 74,23 75,22 76,20 77,28 78,18 79,21 80,20 81,23 82,27" fill="none" stroke="#ff50ff" stroke-opacity="0.42" stroke-width="0.7"/>
<polyline points="0,20 1,28 2,26 3,28 4,24 5,19 6,24 7,22 8,27 9,24 10,22 11,27 12,21 13,24 14,27 15,28 16,26 17,23 18,28 19,22 20,25 21,15 22,22 23,26 24,23 25,29 26,22 27,28 28,21 29,20 30,27 31,23 32,26 33,25 34,24 35,19 36,25 37,17 38,22 39,22 40,25 41,19 42,22 43,28 44,27 45,21 46,28 47,25 48,22 49,31 50,26 51,29 52,18 53,26 54,24 55,23 56,23 57,20 58,22 59,25 60,16 61,23 62,23 63,27 64,24 65,25 66,22 67,25 68,30 69,22 70,30 71,27 72,27 73,23 74,27 75,21 76,24 77,16 78,20 79,26 80,14 81,19 82,22" fill="none" stroke="#30e050" stroke-opacity="0.28" stroke-width="0.7"/>
<polyline points="0,21 1,36 2,20 3,22 4,26 5,28 6,27 7,26 8,24 9,24 10,27 11,26 12,25 13,24 14,27 15,22 16,26 17,33 18,24 19,23 20,25 21,22 22,23 23,29 24,27 25,23 26,27 27,27 28,35 29,29 30,26 31,31 32,33 33,24 34,25 35,21 36,23 37,29 38,26 39,25 40,23 41,22 42,29 43,21 44,20 45,28 46,23 47,29 48,26 49,26 50,31 51,31 52,24 53,24 54,30 55,20 56,27 57,29 58,24 59,31 60,27 61,38 62,29 63,27 64,29 65,14 66,22 67,21 68,33 69,28 70,46 71,25 72,26 73,20 74,43 75,25 76,25 77,19 78,45 79,18 80,30 81,29 82,24" fill="none" stroke="#6868ff" stroke-opacity="0.45" stroke-width="0.7"/>
<polyline points="0,26.6 1,24.2 2,23.6 3,24.9 4,24.7 5,25.5 6,25.7 7,23.4 8,24.6 9,27.5 10,22.8 11,26.0 12,23.7 13,26.4 14,25.5 15,22.3 16,24.9 17,25.6 18,27.3 19,23.4 20,21.4 21,25.7 22,25.1 23,24.8 24,23.9 25,25.1 26,25.9 27,25.9 28,23.3 29,22.9 30,25.0 31,24.7 32,24.1 33,25.2 34,24.3 35,24.9 36,22.4 37,25.3 38,25.8 39,26.4 40,24.6 41,26.3 42,23.9 43,25.2 44,23.3 45,25.3 46,25.1 47,22.8 48,26.6 49,23.4 50,25.6 51,24.1 52,23.2 53,25.2 54,25.6 55,23.2 56,25.9 57,27.0 58,22.6 59,23.9 60,28.2 61,24.0 62,24.6 63,25.8 64,22.9 65,25.5 66,25.9 67,24.7 68,22.3 69,25.3 70,25.1 71,25.3 72,26.0 73,25.2 74,22.0 75,26.0 76,27.0 77,23.0 78,24.8 79,26.3 80,25.0 81,23.3 82,24.7" fill="none" stroke="#e820e8" stroke-width="0.8" stroke-linejoin="round"/>
<polyline points="0,22.0 1,26.3 2,26.2 3,22.2 4,26.3 5,23.5 6,23.4 7,25.0 8,24.6 9,25.7 10,24.3 11,24.7 12,25.4 13,22.7 14,24.9 15,25.6 16,25.5 17,25.7 18,24.9 19,26.2 20,26.3 21,24.8 22,27.1 23,25.2 24,21.9 25,26.5 26,27.1 27,24.0 28,26.9 29,23.3 30,25.8 31,27.2 32,25.0 33,21.2 34,25.9 35,26.9 36,23.7 37,23.4 38,24.9 39,25.8 40,23.1 41,27.9 42,27.1 43,23.1 44,24.5 45,26.1 46,26.0 47,23.3 48,25.7 49,25.8 50,23.0 51,24.5 52,25.7 53,24.4 54,25.7 55,25.2 56,25.8 57,23.4 58,26.1 59,26.8 60,22.9 61,24.3 62,25.7 63,24.3 64,24.0 65,24.4 66,25.0 67,26.2 68,25.1 69,27.5 70,24.5 71,25.2 72,23.7 73,25.8 74,24.8 75,25.6 76,24.9 77,23.2 78,27.0 79,26.1 80,24.7 81,25.1 82,23.7" fill="none" stroke="#10e0f0" stroke-width="0.85" stroke-linejoin="round"/>
<polyline points="0,23.2 1,25.2 2,23.9 3,24.6 4,25.5 5,24.9 6,23.8 7,23.0 8,22.1 9,25.3 10,25.2 11,23.3 12,22.9 13,24.6 14,23.0 15,23.8 16,24.5 17,23.8 18,23.6 19,22.3 20,22.9 21,25.2 22,23.7 23,26.2 24,21.6 25,24.6 26,25.5 27,24.3 28,23.3 29,25.9 30,22.7 31,24.9 32,23.8 33,23.5 34,24.2 35,21.6 36,25.5 37,23.0 38,24.9 39,22.9 40,22.5 41,24.7 42,26.2 43,24.7 44,22.7 45,22.6 46,24.4 47,22.5 48,22.7 49,27.0 50,24.6 51,20.6 52,23.9 53,26.7 54,22.8 55,24.5 56,24.8 57,24.7 58,25.0 59,21.4 60,24.4 61,25.0 62,21.5 63,23.1 64,26.2 65,24.1 66,23.7 67,25.8 68,24.9 69,22.2 70,25.2 71,24.4 72,24.1 73,20.7 74,25.2 75,25.4 76,21.5 77,26.2 78,23.4 79,22.2 80,25.3 81,23.5 82,24.9" fill="none" stroke="#10d030" stroke-width="0.95" stroke-linejoin="round"/>
<polyline points="0,25.8 1,24.1 2,26.6 3,27.7 4,24.6 5,23.6 6,27.4 7,26.0 8,25.1 9,26.9 10,27.4 11,24.6 12,26.2 13,24.1 14,25.8 15,26.2 16,27.0 17,27.1 18,25.2 19,25.1 20,26.5 21,24.8 22,26.8 23,26.1 24,26.6 25,27.0 26,25.7 27,26.2 28,26.0 29,27.0 30,27.6 31,23.6 32,26.5 33,27.5 34,25.5 35,27.2 36,29.1 37,23.1 38,25.2 39,30.4 40,28.2 41,24.3 42,24.5 43,28.0 44,27.1 45,24.9 46,27.0 47,28.2 48,27.8 49,27.6 50,26.7 51,26.2 52,27.9 53,28.3 54,26.6 55,26.1 56,28.2 57,25.6 58,30.1 59,27.5 60,26.9 61,28.3 62,27.2 63,30.1 64,25.2 65,27.3 66,27.7 67,26.2 68,27.9 69,28.5 70,25.6 71,30.2 72,29.2 73,24.4 74,28.6 75,29.0 76,27.2 77,28.8 78,27.7 79,26.9 80,27.7 81,29.0 82,27.0" fill="none" stroke="#0808ff" stroke-width="1.0" stroke-linejoin="round"/>
</g>
<polyline points="210.9,483.3 211.9,480.5 213,481.9 214.1,484 215.1,485.4 216.1,487.5 217.2,485.4 218.4,496 219.3,489.7 220,486.8 221.2,483.3 222,485.4 222.9,491.1 223.7,486.8 224.5,478.4 225.4,477 226.2,483.3 227.1,485.4 227.9,479.8 228.5,482.6 229.3,484 230.2,489.7 231,485.4 231.8,484 232.7,484.7 233.8,485.4 234.9,484.7 235.8,486.1 236.6,489.7 237.5,491.1 238.3,486.8 239.4,486.1 240.6,486.1 241.7,486.8 242.8,487.5 243.9,486.8 245,483.3 245.9,481.2 246.7,485.4 247.6,484 248.4,489.7 249.3,496 250.1,488.2 250.9,489.7 251.8,494.6 252.6,489.7" fill="none" stroke="#000" stroke-width="1.0999999999999999" stroke-linejoin="round"/>
<polyline points="210.9,485.4 211.9,484 213,480.5 214.1,482.6 215.3,485.4 216.4,486.8 217.5,485.4 218.6,484 219.8,487.5 220.6,484.7 221.4,483.3 222.6,485.4 223.7,484 224.8,482.6 225.9,485.4 227.1,483.3 228.2,484 229.3,486.1 230.4,484.7 231.6,485.4 232.7,484.7 233.8,485.4 234.9,485.4 236.1,486.1 237.2,484.7 238.3,485.4 239.4,486.1 240.6,486.1 241.7,486.8 242.8,485.4 243.9,486.1 245,484.7 246.2,485.4 247.3,486.1 248.4,491.8 249.5,486.8 250.7,487.5 251.8,488.2 252.6,486.8" fill="none" stroke="#f00" stroke-width="0.95" stroke-linejoin="round"/>
</g>
<rect x="206.2" y="462.6" width="135.6" height="57.6" fill="none" stroke="#262626" stroke-width="0.9"/>
<path d="M206.2,520.2v-1.4M206.2,462.6v1.4M233.3,520.2v-1.4M233.3,462.6v1.4M260.4,520.2v-1.4M260.4,462.6v1.4M287.6,520.2v-1.4M287.6,462.6v1.4M314.7,520.2v-1.4M314.7,462.6v1.4M341.8,520.2v-1.4M341.8,462.6v1.4M206.2,470.3h1.4M341.8,470.3h-1.4M206.2,489.5h1.4M341.8,489.5h-1.4M206.2,508.7h1.4M341.8,508.7h-1.4" stroke="#262626" stroke-width="0.9" fill="none"/>
<text x="206.2" y="529.8" text-anchor="middle" class="t">1975</text>
<text x="233.3" y="529.8" text-anchor="middle" class="t">2000</text>
<text x="260.4" y="529.8" text-anchor="middle" class="t">2025</text>
<text x="287.6" y="529.8" text-anchor="middle" class="t">2050</text>
<text x="314.7" y="529.8" text-anchor="middle" class="t">2075</text>
<text x="341.8" y="529.8" text-anchor="middle" class="t">2100</text>
<text x="203.7" y="473.6" text-anchor="end" class="t">130</text>
<text x="203.7" y="492.8" text-anchor="end" class="t">80</text>
<text x="203.7" y="512" text-anchor="end" class="t">30</text>
<text x="210.5" y="460" class="ti">CID</text>
<text transform="translate(190.6,491.4) rotate(-90)" text-anchor="middle" class="yl">Days</text>
<rect x="63" y="247.9" width="245.2" height="12.3" fill="#fff" stroke="#404040" stroke-width="1"/>
<path d="M63.7,254.3H74.3" stroke="#000" stroke-width="1"/>
<text x="75.5" y="257" class="lg">History</text>
<path d="M103.5,254.3H113.6" stroke="#f00" stroke-width="1"/>
<text x="115" y="257" class="lg">His-Fit</text>
<path d="M142,254.3H151.3" stroke="#1ce4f0" stroke-width="1"/>
<text x="153.4" y="257" class="lg">RCP 2.6</text>
<path d="M183.7,254.3H193.5" stroke="#f020f0" stroke-width="1"/>
<text x="195.4" y="257" class="lg">RCP 4.5</text>
<path d="M225.7,254.3H235.5" stroke="#18c018" stroke-width="1"/>
<text x="237.6" y="257" class="lg">RCP 6.0</text>
<path d="M268,254.3H278" stroke="#1010f0" stroke-width="1"/>
<text x="279.3" y="257" class="lg">RCP 8.5</text>
<rect x="63" y="532.6" width="245.2" height="12.3" fill="#fff" stroke="#404040" stroke-width="1"/>
<path d="M63.7,539H74.3" stroke="#000" stroke-width="1"/>
<text x="75.5" y="541.7" class="lg">History</text>
<path d="M103.5,539H113.6" stroke="#f00" stroke-width="1"/>
<text x="115" y="541.7" class="lg">His-Fit</text>
<path d="M142,539H151.3" stroke="#1ce4f0" stroke-width="1"/>
<text x="153.4" y="541.7" class="lg">RCP 2.6</text>
<path d="M183.7,539H193.5" stroke="#f020f0" stroke-width="1"/>
<text x="195.4" y="541.7" class="lg">RCP 4.5</text>
<path d="M225.7,539H235.5" stroke="#18c018" stroke-width="1"/>
<text x="237.6" y="541.7" class="lg">RCP 6.0</text>
<path d="M268,539H278" stroke="#1010f0" stroke-width="1"/>
<text x="279.3" y="541.7" class="lg">RCP 8.5</text>
<text x="174.3" y="10.1" class="pl">C</text>
<text x="174.3" y="294.8" class="pl">D</text>
</svg></body></html>
